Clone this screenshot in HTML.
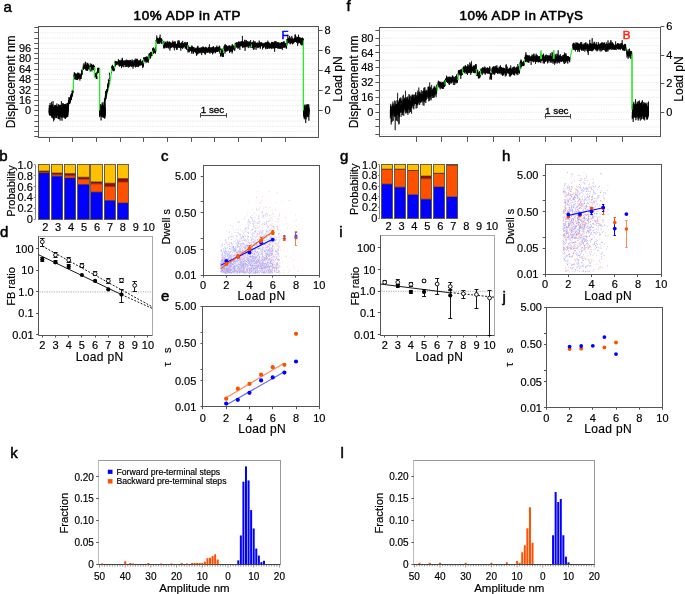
<!DOCTYPE html>
<html><head><meta charset="utf-8"><style>
html,body{margin:0;padding:0;background:#fff;overflow:hidden;}
svg{display:block;will-change:transform;font-family:"Liberation Sans", sans-serif;}
</style></head><body>
<svg width="685" height="594" viewBox="0 0 685 594">
<rect width="685" height="594" fill="#fff"/>
<text x="3.5" y="12" font-size="15" text-anchor="start" font-weight="normal" fill="#000" stroke="#000" stroke-width="0.5">a</text>
<text x="346.5" y="10.5" font-size="15" text-anchor="start" font-weight="normal" fill="#000" stroke="#000" stroke-width="0.5">f</text>
<text x="-0.8" y="161" font-size="15" text-anchor="start" font-weight="normal" fill="#000" stroke="#000" stroke-width="0.5">b</text>
<text x="340" y="161" font-size="15" text-anchor="start" font-weight="normal" fill="#000" stroke="#000" stroke-width="0.5">g</text>
<text x="161" y="161" font-size="15" text-anchor="start" font-weight="normal" fill="#000" stroke="#000" stroke-width="0.5">c</text>
<text x="502" y="161" font-size="15" text-anchor="start" font-weight="normal" fill="#000" stroke="#000" stroke-width="0.5">h</text>
<text x="0" y="237" font-size="15" text-anchor="start" font-weight="normal" fill="#000" stroke="#000" stroke-width="0.5">d</text>
<text x="339.2" y="237" font-size="15" text-anchor="start" font-weight="normal" fill="#000" stroke="#000" stroke-width="0.5">i</text>
<text x="161" y="300.6" font-size="15" text-anchor="start" font-weight="normal" fill="#000" stroke="#000" stroke-width="0.5">e</text>
<text x="502.5" y="302" font-size="15" text-anchor="start" font-weight="normal" fill="#000" stroke="#000" stroke-width="0.5">j</text>
<text x="10.3" y="458.3" font-size="15" text-anchor="start" font-weight="normal" fill="#000" stroke="#000" stroke-width="0.5">k</text>
<text x="340.6" y="458" font-size="15" text-anchor="start" font-weight="normal" fill="#000" stroke="#000" stroke-width="0.5">l</text>
<text x="187.3" y="20.3" font-size="13.4" text-anchor="middle" font-weight="normal" fill="#000" letter-spacing="0.58" stroke="#000" stroke-width="0.62">10% ADP in ATP</text>
<line x1="39.5" y1="136.65" x2="317.7" y2="136.65" stroke="#e0e0e0" stroke-width="0.7" stroke-dasharray="1.3 1.2"/>
<line x1="39.5" y1="131.46" x2="317.7" y2="131.46" stroke="#e0e0e0" stroke-width="0.7" stroke-dasharray="1.3 1.2"/>
<line x1="39.5" y1="126.27" x2="317.7" y2="126.27" stroke="#e0e0e0" stroke-width="0.7" stroke-dasharray="1.3 1.2"/>
<line x1="39.5" y1="121.08" x2="317.7" y2="121.08" stroke="#e0e0e0" stroke-width="0.7" stroke-dasharray="1.3 1.2"/>
<line x1="39.5" y1="115.89" x2="317.7" y2="115.89" stroke="#e0e0e0" stroke-width="0.7" stroke-dasharray="1.3 1.2"/>
<line x1="39.5" y1="110.7" x2="317.7" y2="110.7" stroke="#e0e0e0" stroke-width="0.7" stroke-dasharray="1.3 1.2"/>
<line x1="39.5" y1="105.51" x2="317.7" y2="105.51" stroke="#e0e0e0" stroke-width="0.7" stroke-dasharray="1.3 1.2"/>
<line x1="39.5" y1="100.32" x2="317.7" y2="100.32" stroke="#e0e0e0" stroke-width="0.7" stroke-dasharray="1.3 1.2"/>
<line x1="39.5" y1="95.13" x2="317.7" y2="95.13" stroke="#e0e0e0" stroke-width="0.7" stroke-dasharray="1.3 1.2"/>
<line x1="39.5" y1="89.94" x2="317.7" y2="89.94" stroke="#e0e0e0" stroke-width="0.7" stroke-dasharray="1.3 1.2"/>
<line x1="39.5" y1="84.75" x2="317.7" y2="84.75" stroke="#e0e0e0" stroke-width="0.7" stroke-dasharray="1.3 1.2"/>
<line x1="39.5" y1="79.56" x2="317.7" y2="79.56" stroke="#e0e0e0" stroke-width="0.7" stroke-dasharray="1.3 1.2"/>
<line x1="39.5" y1="74.37" x2="317.7" y2="74.37" stroke="#e0e0e0" stroke-width="0.7" stroke-dasharray="1.3 1.2"/>
<line x1="39.5" y1="69.18" x2="317.7" y2="69.18" stroke="#e0e0e0" stroke-width="0.7" stroke-dasharray="1.3 1.2"/>
<line x1="39.5" y1="63.99" x2="317.7" y2="63.99" stroke="#e0e0e0" stroke-width="0.7" stroke-dasharray="1.3 1.2"/>
<line x1="39.5" y1="58.8" x2="317.7" y2="58.8" stroke="#e0e0e0" stroke-width="0.7" stroke-dasharray="1.3 1.2"/>
<line x1="39.5" y1="53.61" x2="317.7" y2="53.61" stroke="#e0e0e0" stroke-width="0.7" stroke-dasharray="1.3 1.2"/>
<line x1="39.5" y1="48.42" x2="317.7" y2="48.42" stroke="#e0e0e0" stroke-width="0.7" stroke-dasharray="1.3 1.2"/>
<line x1="39.5" y1="43.23" x2="317.7" y2="43.23" stroke="#e0e0e0" stroke-width="0.7" stroke-dasharray="1.3 1.2"/>
<line x1="39.5" y1="38.04" x2="317.7" y2="38.04" stroke="#e0e0e0" stroke-width="0.7" stroke-dasharray="1.3 1.2"/>
<line x1="39.5" y1="32.85" x2="317.7" y2="32.85" stroke="#e0e0e0" stroke-width="0.7" stroke-dasharray="1.3 1.2"/>
<line x1="39.5" y1="27.66" x2="317.7" y2="27.66" stroke="#e0e0e0" stroke-width="0.7" stroke-dasharray="1.3 1.2"/>
<rect x="38.5" y="26.5" width="280" height="111" fill="none" stroke="#555" stroke-width="1"/>
<line x1="34.3" y1="136.5" x2="38.5" y2="136.5" stroke="#555" stroke-width="1"/>
<line x1="34.3" y1="131.5" x2="38.5" y2="131.5" stroke="#555" stroke-width="1"/>
<line x1="34.3" y1="126.5" x2="38.5" y2="126.5" stroke="#555" stroke-width="1"/>
<line x1="34.3" y1="121.5" x2="38.5" y2="121.5" stroke="#555" stroke-width="1"/>
<line x1="34.3" y1="115.5" x2="38.5" y2="115.5" stroke="#555" stroke-width="1"/>
<line x1="34.3" y1="110.5" x2="38.5" y2="110.5" stroke="#555" stroke-width="1"/>
<line x1="34.3" y1="105.5" x2="38.5" y2="105.5" stroke="#555" stroke-width="1"/>
<line x1="34.3" y1="100.5" x2="38.5" y2="100.5" stroke="#555" stroke-width="1"/>
<line x1="34.3" y1="95.5" x2="38.5" y2="95.5" stroke="#555" stroke-width="1"/>
<line x1="34.3" y1="89.5" x2="38.5" y2="89.5" stroke="#555" stroke-width="1"/>
<line x1="34.3" y1="84.5" x2="38.5" y2="84.5" stroke="#555" stroke-width="1"/>
<line x1="34.3" y1="79.5" x2="38.5" y2="79.5" stroke="#555" stroke-width="1"/>
<line x1="34.3" y1="74.5" x2="38.5" y2="74.5" stroke="#555" stroke-width="1"/>
<line x1="34.3" y1="69.5" x2="38.5" y2="69.5" stroke="#555" stroke-width="1"/>
<line x1="34.3" y1="63.5" x2="38.5" y2="63.5" stroke="#555" stroke-width="1"/>
<line x1="34.3" y1="58.5" x2="38.5" y2="58.5" stroke="#555" stroke-width="1"/>
<line x1="34.3" y1="53.5" x2="38.5" y2="53.5" stroke="#555" stroke-width="1"/>
<line x1="34.3" y1="48.5" x2="38.5" y2="48.5" stroke="#555" stroke-width="1"/>
<line x1="34.3" y1="43.5" x2="38.5" y2="43.5" stroke="#555" stroke-width="1"/>
<line x1="34.3" y1="38.5" x2="38.5" y2="38.5" stroke="#555" stroke-width="1"/>
<line x1="34.3" y1="32.5" x2="38.5" y2="32.5" stroke="#555" stroke-width="1"/>
<line x1="34.3" y1="27.5" x2="38.5" y2="27.5" stroke="#555" stroke-width="1"/>
<text x="31.2" y="114.3" font-size="11" text-anchor="end" font-weight="normal" fill="#000" stroke="#000" stroke-width="0.18">0</text>
<text x="31.2" y="103.92" font-size="11" text-anchor="end" font-weight="normal" fill="#000" stroke="#000" stroke-width="0.18">16</text>
<text x="31.2" y="93.54" font-size="11" text-anchor="end" font-weight="normal" fill="#000" stroke="#000" stroke-width="0.18">32</text>
<text x="31.2" y="83.16" font-size="11" text-anchor="end" font-weight="normal" fill="#000" stroke="#000" stroke-width="0.18">48</text>
<text x="31.2" y="72.78" font-size="11" text-anchor="end" font-weight="normal" fill="#000" stroke="#000" stroke-width="0.18">64</text>
<text x="31.2" y="62.4" font-size="11" text-anchor="end" font-weight="normal" fill="#000" stroke="#000" stroke-width="0.18">80</text>
<text x="31.2" y="52.02" font-size="11" text-anchor="end" font-weight="normal" fill="#000" stroke="#000" stroke-width="0.18">96</text>
<line x1="318.7" y1="110.5" x2="322.6" y2="110.5" stroke="#555" stroke-width="1"/>
<text x="324.4" y="114.3" font-size="11" text-anchor="start" font-weight="normal" fill="#000" stroke="#000" stroke-width="0.18">0</text>
<line x1="318.7" y1="90.5" x2="322.6" y2="90.5" stroke="#555" stroke-width="1"/>
<text x="324.4" y="94.24" font-size="11" text-anchor="start" font-weight="normal" fill="#000" stroke="#000" stroke-width="0.18">2</text>
<line x1="318.7" y1="70.5" x2="322.6" y2="70.5" stroke="#555" stroke-width="1"/>
<text x="324.4" y="74.18" font-size="11" text-anchor="start" font-weight="normal" fill="#000" stroke="#000" stroke-width="0.18">4</text>
<line x1="318.7" y1="50.5" x2="322.6" y2="50.5" stroke="#555" stroke-width="1"/>
<text x="324.4" y="54.12" font-size="11" text-anchor="start" font-weight="normal" fill="#000" stroke="#000" stroke-width="0.18">6</text>
<line x1="318.7" y1="30.5" x2="322.6" y2="30.5" stroke="#555" stroke-width="1"/>
<text x="324.4" y="34.06" font-size="11" text-anchor="start" font-weight="normal" fill="#000" stroke="#000" stroke-width="0.18">8</text>
<line x1="49.5" y1="137.1" x2="49.5" y2="141.9" stroke="#555" stroke-width="1"/>
<line x1="72.5" y1="137.1" x2="72.5" y2="141.9" stroke="#555" stroke-width="1"/>
<line x1="96.5" y1="137.1" x2="96.5" y2="141.9" stroke="#555" stroke-width="1"/>
<line x1="120.5" y1="137.1" x2="120.5" y2="141.9" stroke="#555" stroke-width="1"/>
<line x1="143.5" y1="137.1" x2="143.5" y2="141.9" stroke="#555" stroke-width="1"/>
<line x1="167.5" y1="137.1" x2="167.5" y2="141.9" stroke="#555" stroke-width="1"/>
<line x1="191.5" y1="137.1" x2="191.5" y2="141.9" stroke="#555" stroke-width="1"/>
<line x1="214.5" y1="137.1" x2="214.5" y2="141.9" stroke="#555" stroke-width="1"/>
<line x1="238.5" y1="137.1" x2="238.5" y2="141.9" stroke="#555" stroke-width="1"/>
<line x1="261.5" y1="137.1" x2="261.5" y2="141.9" stroke="#555" stroke-width="1"/>
<line x1="285.5" y1="137.1" x2="285.5" y2="141.9" stroke="#555" stroke-width="1"/>
<text x="14.7" y="81.8" font-size="12" text-anchor="middle" font-weight="normal" fill="#000" transform="rotate(-90 14.7 81.8)" stroke="#000" stroke-width="0.18">Displacement nm</text>
<text x="341.5" y="79" font-size="12" text-anchor="middle" font-weight="normal" fill="#000" transform="rotate(-90 341.5 79)" stroke="#000" stroke-width="0.18">Load pN</text>
<text x="285" y="38.6" font-size="11.4" text-anchor="middle" font-weight="normal" fill="#0000ff" stroke="#0000ff" stroke-width="0.55">F</text>
<line x1="200.3" y1="115.5" x2="226.8" y2="115.5" stroke="#444" stroke-width="1.1"/>
<line x1="200.5" y1="113.1" x2="200.5" y2="117.6" stroke="#444" stroke-width="1"/>
<line x1="226.5" y1="113.1" x2="226.5" y2="117.6" stroke="#444" stroke-width="1"/>
<text x="212.5" y="112.8" font-size="9.8" text-anchor="middle" font-weight="normal" fill="#000" stroke="#000" stroke-width="0.3">1 sec</text>
<path d="M67.60,106.50 L73.10,91.30 L73.30,91.30 L73.50,79.20 L74.10,76.20 L81.20,76.20 L83.20,67.10 L89.90,67.10 L90.10,70.50 L90.30,67.10 L94.30,67.10 L94.50,77.50 L95.50,75.50 L97.20,71.50 L99.20,69.10 L99.60,69.10 L99.60,110.50 L104.40,103.50 L109.50,84.30 L111.50,72.10 L111.50,68.50 L114.50,68.50 L114.80,63.00 L117.90,63.30 L143.60,63.30 L143.60,59.30 L148.90,59.30 L148.90,55.20 L152.40,55.20 L152.40,50.80 L155.90,50.80 L156.00,40.60 L162.30,40.60 L163.40,45.20 L187.70,45.20 L187.80,48.90 L193.90,48.90 L194.10,49.90 L220.30,49.90 L220.40,53.00 L223.40,53.00 L223.60,48.40 L235.00,48.40 L235.10,44.30 L251.40,44.30 L251.40,47.00 L251.50,44.60 L286.80,45.60 L286.90,40.30 L303.40,40.30 L303.40,110.60" fill="none" stroke="#2bea2b" stroke-width="1.15"/>
<path d="M49.2,110.2 49.2,112.6 49.3,108.0 49.3,110.3 49.3,114.3 49.3,111.8 49.4,105.7 49.4,113.7 49.4,105.6 49.4,105.4 49.5,112.0 49.5,110.9 49.5,112.0 49.5,112.3 49.6,112.8 49.6,114.8 49.6,109.9 49.6,110.7 49.7,109.6 49.7,107.9 49.7,108.4 49.7,111.8 49.8,111.2 49.8,115.2 49.8,110.7 49.8,108.4 49.9,106.3 49.9,113.6 49.9,115.6 49.9,112.2 50.0,113.0 50.0,109.0 50.0,107.9 50.0,109.3 50.1,106.3 50.1,111.8 50.1,104.9 50.1,102.9 50.2,110.7 50.2,114.1 50.2,108.8 50.2,111.1 50.3,105.3 50.3,115.3 50.3,108.9 50.3,112.5 50.4,106.2 50.4,109.4 50.4,109.3 50.4,112.6 50.5,110.7 50.5,110.6 50.5,110.6 50.5,112.8 50.6,110.3 50.6,112.5 50.6,108.0 50.6,106.7 50.7,115.6 50.7,109.6 50.7,108.1 50.7,113.3 50.8,114.4 50.8,110.7 50.8,114.3 50.8,113.5 50.9,110.1 50.9,110.2 50.9,105.7 50.9,105.0 51.0,113.8 51.0,113.5 51.0,110.3 51.0,112.7 51.1,106.1 51.1,111.7 51.1,113.9 51.1,110.1 51.2,111.1 51.2,108.3 51.2,113.2 51.2,107.8 51.3,111.7 51.3,114.9 51.3,106.7 51.3,107.3 51.4,111.2 51.4,114.2 51.4,105.8 51.4,111.2 51.5,108.9 51.5,111.4 51.5,112.8 51.5,106.2 51.6,112.3 51.6,111.7 51.6,101.8 51.6,117.6 51.7,115.1 51.7,113.4 51.7,111.0 51.7,107.4 51.8,108.2 51.8,116.0 51.8,104.7 51.8,115.5 51.9,112.3 51.9,112.3 51.9,114.6 51.9,115.8 52.0,108.6 52.0,110.1 52.0,114.1 52.0,109.6 52.1,111.6 52.1,113.4 52.1,108.9 52.1,109.7 52.2,113.5 52.2,109.4 52.2,113.8 52.2,109.1 52.3,112.7 52.3,110.2 52.3,111.3 52.3,109.2 52.4,111.8 52.4,111.8 52.4,105.5 52.4,111.6 52.5,111.3 52.5,111.9 52.5,117.7 52.5,112.2 52.6,115.3 52.6,110.3 52.6,105.2 52.6,110.7 52.7,104.5 52.7,110.0 52.7,112.7 52.7,109.7 52.8,108.8 52.8,112.7 52.8,111.6 52.8,113.6 52.9,115.3 52.9,109.3 52.9,113.3 52.9,113.7 53.0,112.4 53.0,109.7 53.0,108.2 53.0,101.1 53.1,110.1 53.1,112.1 53.1,106.2 53.1,112.3 53.2,108.7 53.2,118.8 53.2,111.9 53.2,117.5 53.3,112.7 53.3,109.9 53.3,113.8 53.3,107.1 53.4,107.3 53.4,110.1 53.4,110.0 53.4,116.6 53.5,110.9 53.5,111.6 53.5,109.2 53.5,109.6 53.6,121.3 53.6,111.7 53.6,110.3 53.6,110.3 53.7,113.4 53.7,110.5 53.7,108.3 53.7,108.2 53.8,109.8 53.8,108.8 53.8,111.6 53.8,111.1 53.9,108.6 53.9,110.8 53.9,108.3 53.9,107.2 54.0,113.7 54.0,110.5 54.0,113.1 54.0,117.3 54.1,120.0 54.1,114.1 54.1,115.5 54.1,112.6 54.2,115.3 54.2,110.2 54.2,118.4 54.2,113.3 54.3,108.7 54.3,110.3 54.3,110.9 54.3,111.1 54.4,108.9 54.4,116.6 54.4,113.6 54.4,114.3 54.5,110.1 54.5,110.0 54.5,114.8 54.5,116.6 54.6,111.5 54.6,105.9 54.6,109.7 54.6,109.8 54.7,107.6 54.7,110.7 54.7,115.5 54.7,108.1 54.8,115.8 54.8,111.5 54.8,115.4 54.8,109.7 54.9,105.7 54.9,104.9 54.9,111.6 54.9,111.2 55.0,110.7 55.0,114.5 55.0,112.1 55.0,110.2 55.1,105.3 55.1,112.0 55.1,111.1 55.1,108.7 55.2,111.7 55.2,109.9 55.2,115.3 55.2,112.3 55.3,108.7 55.3,115.0 55.3,113.5 55.3,113.7 55.4,112.8 55.4,112.3 55.4,110.2 55.4,114.5 55.5,108.4 55.5,110.2 55.5,110.7 55.5,112.2 55.6,114.2 55.6,110.9 55.6,112.2 55.6,111.6 55.7,108.2 55.7,114.4 55.7,113.3 55.7,113.0 55.8,109.5 55.8,112.2 55.8,106.7 55.8,113.9 55.9,113.1 55.9,113.0 55.9,104.9 55.9,118.3 56.0,113.9 56.0,112.3 56.0,115.8 56.0,108.6 56.1,115.5 56.1,112.5 56.1,114.4 56.1,110.4 56.2,117.9 56.2,107.7 56.2,106.1 56.2,109.4 56.3,105.9 56.3,112.6 56.3,118.0 56.3,113.2 56.4,109.5 56.4,113.2 56.4,110.7 56.4,115.7 56.5,109.5 56.5,112.2 56.5,114.1 56.5,108.9 56.6,114.5 56.6,110.9 56.6,113.5 56.6,112.6 56.7,110.8 56.7,115.1 56.7,108.2 56.7,112.7 56.8,110.4 56.8,112.0 56.8,113.7 56.8,113.7 56.9,111.5 56.9,113.5 56.9,103.5 56.9,113.6 57.0,111.8 57.0,111.1 57.0,113.1 57.0,111.7 57.1,107.5 57.1,110.4 57.1,111.3 57.1,112.8 57.2,113.3 57.2,106.6 57.2,113.1 57.2,113.8 57.3,109.3 57.3,108.8 57.3,107.8 57.3,107.3 57.4,106.8 57.4,110.4 57.4,110.6 57.4,110.7 57.5,115.5 57.5,109.8 57.5,111.2 57.5,113.4 57.6,110.8 57.6,111.6 57.6,108.8 57.6,112.2 57.7,111.1 57.7,111.8 57.7,110.1 57.7,109.1 57.8,108.8 57.8,110.9 57.8,112.0 57.8,108.9 57.9,108.8 57.9,118.6 57.9,111.6 57.9,114.3 58.0,112.9 58.0,113.5 58.0,111.7 58.0,111.8 58.1,116.3 58.1,107.0 58.1,113.6 58.1,109.8 58.2,111.0 58.2,110.2 58.2,109.0 58.2,115.0 58.3,105.2 58.3,114.2 58.3,107.0 58.3,114.7 58.4,115.3 58.4,113.6 58.4,108.3 58.4,111.9 58.5,109.4 58.5,109.2 58.5,108.5 58.5,113.5 58.6,111.4 58.6,112.1 58.6,107.0 58.6,117.8 58.7,108.3 58.7,104.2 58.7,106.2 58.7,107.7 58.8,111.7 58.8,109.6 58.8,111.9 58.8,105.4 58.9,119.2 58.9,113.8 58.9,108.8 58.9,109.2 59.0,111.3 59.0,109.7 59.0,111.0 59.0,112.2 59.1,106.9 59.1,119.0 59.1,110.9 59.1,112.3 59.2,110.1 59.2,107.6 59.2,107.5 59.2,107.7 59.3,110.2 59.3,109.6 59.3,108.2 59.3,109.7 59.4,111.0 59.4,113.4 59.4,108.5 59.4,109.7 59.5,108.7 59.5,110.9 59.5,112.5 59.5,110.9 59.6,114.8 59.6,105.0 59.6,112.5 59.6,112.4 59.7,113.8 59.7,109.7 59.7,110.7 59.7,116.5 59.8,107.3 59.8,108.5 59.8,112.4 59.8,112.7 59.9,113.3 59.9,109.2 59.9,110.1 59.9,110.1 60.0,107.7 60.0,111.3 60.0,113.2 60.0,114.3 60.1,109.7 60.1,120.5 60.1,116.0 60.1,112.7 60.2,116.4 60.2,111.6 60.2,108.5 60.2,113.1 60.3,111.9 60.3,112.3 60.3,107.4 60.3,115.1 60.4,114.6 60.4,115.5 60.4,115.7 60.4,108.7 60.5,112.0 60.5,112.7 60.5,111.1 60.5,105.3 60.6,111.5 60.6,110.2 60.6,107.5 60.6,108.2 60.7,108.4 60.7,104.8 60.7,107.8 60.7,108.0 60.8,110.1 60.8,110.6 60.8,109.8 60.8,112.4 60.9,113.3 60.9,117.2 60.9,109.6 60.9,108.5 61.0,114.2 61.0,106.5 61.0,111.0 61.0,114.2 61.1,111.1 61.1,111.2 61.1,106.8 61.1,112.5 61.2,112.2 61.2,108.0 61.2,107.2 61.2,115.3 61.3,112.6 61.3,111.4 61.3,110.8 61.3,109.7 61.4,101.2 61.4,106.4 61.4,111.8 61.4,109.1 61.5,117.9 61.5,109.1 61.5,112.1 61.5,110.5 61.6,114.7 61.6,116.7 61.6,113.3 61.6,114.0 61.7,110.7 61.7,114.8 61.7,111.8 61.7,112.7 61.8,112.5 61.8,109.8 61.8,106.5 61.8,110.1 61.9,107.0 61.9,109.6 61.9,115.5 61.9,110.8 62.0,110.1 62.0,120.7 62.0,111.3 62.0,107.6 62.1,116.7 62.1,112.8 62.1,115.2 62.1,110.6 62.2,111.8 62.2,111.0 62.2,107.5 62.2,112.6 62.3,107.3 62.3,115.6 62.3,107.1 62.3,110.4 62.4,113.0 62.4,113.3 62.4,116.7 62.4,111.5 62.5,112.6 62.5,111.7 62.5,114.2 62.5,103.3 62.6,114.4 62.6,108.3 62.6,107.3 62.6,106.4 62.7,109.0 62.7,112.3 62.7,115.0 62.7,111.3 62.8,112.4 62.8,115.2 62.8,111.8 62.8,109.2 62.9,117.4 62.9,113.0 62.9,117.2 62.9,111.2 63.0,110.8 63.0,107.5 63.0,111.1 63.0,111.9 63.1,108.9 63.1,105.2 63.1,107.8 63.1,109.9 63.2,110.6 63.2,115.6 63.2,111.4 63.2,110.6 63.3,110.7 63.3,103.3 63.3,113.1 63.3,109.0 63.4,107.6 63.4,107.4 63.4,105.0 63.4,112.2 63.5,106.3 63.5,113.0 63.5,112.1 63.5,115.3 63.6,111.5 63.6,111.6 63.6,107.8 63.6,112.5 63.7,112.2 63.7,111.3 63.7,111.2 63.7,108.9 63.8,107.6 63.8,105.3 63.8,109.2 63.8,112.6 63.9,117.7 63.9,108.8 63.9,111.0 63.9,106.5 64.0,112.2 64.0,106.5 64.0,110.8 64.0,114.0 64.1,111.4 64.1,104.0 64.1,108.4 64.1,111.4 64.2,114.8 64.2,111.8 64.2,114.9 64.2,112.2 64.3,108.7 64.3,109.8 64.3,109.7 64.3,116.2 64.4,115.1 64.4,113.8 64.4,104.3 64.4,106.6 64.5,114.2 64.5,115.9 64.5,114.8 64.5,117.5 64.6,115.1 64.6,110.8 64.6,117.1 64.6,115.1 64.7,106.9 64.7,113.2 64.7,107.4 64.7,112.8 64.8,105.8 64.8,105.4 64.8,109.4 64.8,107.0 64.9,104.6 64.9,110.1 64.9,109.4 64.9,114.2 65.0,111.3 65.0,113.9 65.0,108.5 65.0,110.9 65.1,107.2 65.1,107.6 65.1,108.6 65.1,109.2 65.2,110.6 65.2,119.0 65.2,109.8 65.2,109.2 65.3,110.1 65.3,113.5 65.3,113.2 65.3,109.6 65.4,117.3 65.4,111.5 65.4,118.3 65.4,110.7 65.5,110.6 65.5,104.0 65.5,111.0 65.5,107.7 65.6,115.0 65.6,107.2 65.6,109.0 65.6,106.9 65.7,110.0 65.7,110.0 65.7,110.0 65.7,106.6 65.8,106.7 65.8,112.2 65.8,112.8 65.8,110.1 65.9,108.2 65.9,113.4 65.9,109.2 65.9,110.5 66.0,109.5 66.0,110.8 66.0,110.2 66.0,107.2 66.1,107.7 66.1,110.6 66.1,109.7 66.1,108.1 66.2,114.0 66.2,110.7 66.2,110.6 66.2,111.3 66.3,110.0 66.3,108.2 66.3,110.6 66.3,103.4 66.4,112.0 66.4,108.0 66.4,112.0 66.4,105.3 66.5,108.9 66.5,110.1 66.5,107.2 66.5,106.5 66.6,109.9 66.6,114.9 66.6,107.2 66.6,115.9 66.7,110.9 66.7,117.7 66.7,109.4 66.7,108.7 66.8,116.9 66.8,114.5 66.8,110.0 66.8,111.9 66.9,114.7 66.9,109.6 66.9,109.8 66.9,109.2 67.0,107.7 67.0,108.4 67.0,105.6 67.0,112.7 67.1,106.7 67.1,110.1 67.1,116.8 67.1,114.7 67.2,109.9 67.2,114.6 67.2,113.5 67.2,107.0 67.3,105.8 67.3,113.9 67.3,104.1 67.3,111.7 67.4,113.2 67.4,114.7 67.4,108.9 67.4,115.5 67.5,107.7 67.5,111.7 67.5,112.3 67.5,108.7 67.6,113.6 67.6,109.8 67.6,104.2 67.6,111.7 67.7,108.9 67.7,108.9 67.7,107.1 67.7,111.6 67.8,107.9 67.8,112.3 67.8,109.4 67.8,116.8 67.9,110.5 67.9,114.8 67.9,111.7 67.9,108.2 68.0,107.1 68.0,108.7 68.0,109.9 68.0,104.4 68.1,110.9 68.1,111.3 68.1,107.4 68.1,108.0 68.2,107.6 68.2,108.1M67.6,104.1 67.7,104.7 67.7,103.0 67.8,106.8 67.9,109.0 67.9,106.4 68.0,103.1 68.0,107.9 68.1,105.0 68.2,106.5 68.2,102.3 68.3,105.7 68.4,103.9 68.4,104.0 68.5,100.3 68.5,105.2 68.6,106.5 68.7,103.4 68.7,102.6 68.8,102.9 68.9,97.1 68.9,101.4 69.0,102.8 69.1,103.4 69.1,100.4 69.2,101.3 69.2,99.9 69.3,104.1 69.4,101.7 69.4,99.9 69.5,99.3 69.6,97.6 69.6,101.6 69.7,100.9 69.7,99.2 69.8,99.1 69.9,103.7 69.9,99.1 70.0,102.8 70.1,98.7 70.1,100.4 70.2,99.1 70.3,99.9 70.3,96.9 70.4,98.4 70.4,101.8 70.5,96.5 70.6,96.4 70.6,100.2 70.7,95.7 70.8,99.0 70.8,95.4 70.9,96.0 71.0,98.4 71.0,94.3 71.1,97.8 71.1,99.1 71.2,100.1 71.3,96.1 71.3,97.2 71.4,99.1 71.5,100.0 71.5,96.0 71.6,93.3 71.6,93.5 71.7,95.3 71.8,96.6 71.8,94.6 71.9,93.5 72.0,93.2 72.0,97.2 72.1,95.9 72.2,90.4 72.2,91.8 72.3,91.1 72.3,93.8 72.4,94.5 72.5,95.7 72.5,91.0 72.6,94.0 72.7,94.4 72.7,92.3 72.8,92.4 72.8,90.9 72.9,91.4 73.0,91.6 73.0,92.9 73.1,89.7M74.1,76.5 74.2,74.4 74.2,78.0 74.3,72.2 74.4,76.5 74.4,77.2 74.5,73.0 74.5,75.0 74.6,76.7 74.7,75.9 74.7,79.3 74.8,79.1 74.9,73.5 74.9,72.9 75.0,75.2 75.1,76.5 75.1,76.3 75.2,76.7 75.2,79.2 75.3,74.1 75.4,76.8 75.4,73.6 75.5,77.1 75.6,76.5 75.6,75.6 75.7,74.9 75.7,77.4 75.8,77.1 75.9,75.2 75.9,76.3 76.0,76.1 76.1,76.0 76.1,80.0 76.2,77.1 76.3,78.6 76.3,73.6 76.4,79.4 76.4,78.4 76.5,74.7 76.6,76.7 76.6,75.5 76.7,75.5 76.8,75.7 76.8,74.1 76.9,76.0 77.0,77.9 77.0,77.0 77.1,74.9 77.1,74.7 77.2,79.5 77.3,79.6 77.3,77.5 77.4,74.8 77.5,76.4 77.5,72.8 77.6,80.1 77.7,77.3 77.7,77.0 77.8,76.0 77.8,74.8 77.9,76.7 78.0,76.8 78.0,72.8 78.1,77.7 78.2,76.9 78.2,77.0 78.3,76.4 78.3,76.9 78.4,74.8 78.5,76.2 78.5,75.4 78.6,73.2 78.7,78.7 78.7,77.3 78.8,79.1 78.9,77.3 78.9,77.5 79.0,74.7 79.0,72.8 79.1,76.7 79.2,77.0 79.2,74.8 79.3,76.1 79.4,76.1 79.4,75.3 79.5,76.1 79.6,77.2 79.6,75.1 79.7,76.2 79.7,75.6 79.8,74.2 79.9,76.3 79.9,80.6 80.0,76.8 80.1,77.2 80.1,77.0 80.2,78.4 80.2,77.7 80.3,74.4 80.4,74.9 80.4,78.9 80.5,78.3 80.6,77.6 80.6,77.6 80.7,77.4 80.8,77.4 80.8,76.8 80.9,75.5 80.9,77.8 81.0,78.9 81.1,73.3 81.1,77.8 81.2,78.9M81.3,73.1 81.4,73.1 81.4,75.0 81.5,75.7 81.6,72.0 81.6,69.7 81.7,72.7 81.8,71.2 81.9,73.7 81.9,74.0 82.0,73.1 82.1,74.7 82.1,75.0 82.2,70.3M83.2,64.7 83.3,69.6 83.3,67.7 83.4,66.8 83.5,69.3 83.5,67.1 83.6,69.3 83.6,66.7 83.7,68.6 83.8,63.4 83.8,64.6 83.9,64.9 84.0,67.6 84.0,68.1 84.1,68.2 84.1,67.1 84.2,67.9 84.3,65.3 84.3,65.6 84.4,66.6 84.5,65.2 84.5,65.6 84.6,67.4 84.7,65.3 84.7,68.9 84.8,68.6 84.8,66.6 84.9,68.0 85.0,66.2 85.0,64.8 85.1,66.3 85.2,63.7 85.2,66.7 85.3,61.7 85.3,66.4 85.4,64.8 85.5,68.4 85.5,66.0 85.6,66.2 85.7,69.6 85.7,63.9 85.8,65.4 85.8,65.2 85.9,68.6 86.0,68.2 86.0,62.6 86.1,70.5 86.2,66.6 86.2,69.6 86.3,66.6 86.4,65.7 86.4,64.7 86.5,69.3 86.5,66.4 86.6,69.2 86.7,66.2 86.7,68.0 86.8,69.5 86.9,66.6 86.9,70.8 87.0,66.4 87.0,66.9 87.1,70.9 87.2,66.1 87.2,69.4 87.3,66.8 87.4,65.2 87.4,63.2 87.5,65.3 87.5,65.8 87.6,68.4 87.7,70.5 87.7,63.9 87.8,62.8 87.9,62.9 87.9,67.5 88.0,66.1 88.1,68.1 88.1,65.2 88.2,65.9 88.2,64.0 88.3,66.2 88.4,67.6 88.4,65.9 88.5,67.1 88.6,65.8 88.6,66.1 88.7,68.9 88.7,67.6 88.8,67.0 88.9,67.0 88.9,64.8 89.0,65.7 89.1,65.8 89.1,66.6 89.2,69.5 89.3,67.1 89.3,68.8 89.4,69.6 89.4,68.1 89.5,69.0 89.6,69.2 89.6,66.5 89.7,67.0 89.8,67.6 89.8,67.7 89.9,66.9 89.9,68.4 90.0,67.3 90.1,67.7 90.1,67.3 90.2,68.4 90.3,71.5 90.3,63.4 90.4,64.4 90.5,67.2 90.5,68.9 90.6,65.8 90.6,70.5 90.7,67.1 90.8,68.2 90.8,68.6 90.9,66.8 91.0,65.4 91.0,66.7 91.1,69.5 91.1,69.5 91.2,67.6 91.3,68.5 91.3,66.3 91.4,65.7 91.5,68.3 91.5,67.9 91.6,63.9 91.6,68.3 91.7,65.4 91.8,69.4 91.8,68.3 91.9,71.4 92.0,66.2 92.0,67.4 92.1,69.0 92.2,65.7 92.2,66.1 92.3,66.3 92.3,64.9 92.4,66.9 92.5,65.1 92.5,68.8 92.6,66.5 92.7,67.6 92.7,66.0 92.8,69.5 92.8,65.7 92.9,68.7 93.0,66.6 93.0,68.3 93.1,66.7 93.2,68.9 93.2,69.8 93.3,64.7 93.3,69.8 93.4,67.6 93.5,64.8 93.5,68.5 93.6,68.1 93.7,65.7 93.7,70.1 93.8,69.7 93.9,67.6 93.9,67.2 94.0,66.5 94.0,68.8 94.1,66.4 94.2,66.2 94.2,66.8 94.3,65.8 94.4,67.1 94.4,67.2 94.5,67.0 94.5,67.6 94.6,68.4 94.7,67.5 94.7,68.1 94.8,71.0M94.8,73.5 94.9,72.7 94.9,74.0 95.0,74.9 95.1,76.4 95.1,73.5 95.2,73.4 95.3,73.4 95.3,73.1 95.4,75.6 95.4,74.9 95.5,74.5 95.6,74.9 95.6,77.0 95.7,74.1 95.8,75.0 95.8,74.6 95.9,76.0 96.0,75.0 96.0,73.5 96.1,74.1 96.2,75.7 96.2,75.0 96.3,79.0 96.4,74.7 96.4,78.6 96.5,77.4 96.5,78.3 96.6,76.8 96.7,73.7 96.7,76.0 96.8,77.5 96.9,77.6 96.9,79.1 97.0,76.2M97.0,73.5 97.1,72.1 97.1,71.9 97.2,73.8 97.3,72.8 97.3,72.9 97.4,72.6 97.5,71.2 97.5,71.2 97.6,68.8 97.6,68.6 97.7,71.1 97.8,71.8 97.8,71.5 97.9,69.7 98.0,72.6 98.0,67.8 98.1,71.7 98.2,68.3 98.2,70.9 98.3,69.1 98.4,68.2 98.4,72.1 98.5,68.0 98.6,69.0 98.6,72.8 98.7,67.7 98.7,70.3 98.8,70.6 98.9,69.1 98.9,68.5 99.0,69.6 99.1,69.4 99.1,69.1 99.2,68.9M99.4,111.3 99.4,107.3 99.5,107.3 99.5,110.2 99.5,107.6 99.5,105.5 99.6,109.5 99.6,113.7 99.6,110.9 99.6,111.7 99.7,117.2 99.7,109.3 99.7,114.7 99.7,109.5 99.8,108.6 99.8,106.7 99.8,113.9 99.8,109.5 99.9,104.3 99.9,115.9 99.9,109.9 99.9,108.9 100.0,113.2 100.0,109.5 100.0,110.3 100.0,112.7 100.1,110.5 100.1,108.3 100.1,112.3 100.1,114.8 100.2,106.8 100.2,111.5 100.2,113.9 100.2,108.3 100.3,111.0 100.3,108.9 100.3,114.5 100.3,104.1 100.4,107.1 100.4,110.2 100.4,112.5 100.4,110.1 100.5,107.5 100.5,113.6 100.5,115.2 100.5,111.8 100.6,111.7 100.6,111.6 100.6,112.6 100.6,110.4 100.7,108.7 100.7,112.8 100.7,110.5 100.7,110.0 100.8,106.7 100.8,110.2 100.8,111.7 100.8,107.9 100.9,109.8 100.9,110.0 100.9,109.7 100.9,112.4 101.0,110.4 101.0,112.3 101.0,107.6 101.0,105.3 101.1,115.7 101.1,110.4 101.1,120.4 101.1,112.0 101.2,116.3 101.2,111.7 101.2,107.9 101.2,107.2 101.3,109.3 101.3,107.3 101.3,107.6 101.3,110.2 101.4,113.5 101.4,113.7 101.4,110.1 101.4,107.7 101.5,109.4 101.5,113.1 101.5,110.6 101.5,116.8 101.6,110.3 101.6,108.8 101.6,113.4 101.6,110.3 101.7,113.6 101.7,114.2 101.7,112.2 101.7,111.7 101.8,115.0 101.8,113.7 101.8,111.0 101.8,108.9 101.9,108.9 101.9,113.0 101.9,113.9 101.9,107.0 102.0,107.5 102.0,104.8 102.0,114.9 102.0,107.0 102.1,112.3 102.1,116.7 102.1,106.3 102.1,113.7 102.2,113.6 102.2,114.4 102.2,106.1 102.2,103.7 102.3,114.2 102.3,108.6 102.3,102.4 102.4,112.2 102.4,115.7 102.4,107.7 102.4,113.6 102.5,108.2 102.5,110.6 102.5,111.1 102.5,112.5 102.6,108.9 102.6,110.6 102.6,111.6 102.6,115.6 102.7,113.0 102.7,113.0 102.7,116.7 102.7,111.1 102.8,113.2 102.8,106.6 102.8,113.1 102.8,109.7 102.9,111.0 102.9,106.3 102.9,110.6 102.9,117.5 103.0,111.1 103.0,114.5 103.0,112.0 103.0,112.0 103.1,111.5 103.1,115.3 103.1,113.5 103.1,107.1 103.2,108.4 103.2,108.0 103.2,115.0 103.2,110.9 103.3,105.2 103.3,113.9 103.3,110.0 103.3,114.0 103.4,109.9 103.4,112.3 103.4,110.2 103.4,117.7 103.5,109.5 103.5,108.5 103.5,109.9 103.5,106.5 103.6,107.4 103.6,113.8 103.6,106.3 103.6,109.7 103.7,107.3 103.7,116.2 103.7,107.0 103.7,110.7 103.8,114.6 103.8,109.2 103.8,112.3 103.8,107.3 103.9,113.7 103.9,115.3 103.9,111.1 103.9,109.0 104.0,113.4 104.0,101.8 104.0,110.6 104.0,115.4 104.1,108.4 104.1,107.8 104.1,111.8 104.1,107.7 104.2,108.5 104.2,112.1 104.2,116.7 104.2,111.8 104.3,109.0 104.3,110.3 104.3,111.2 104.3,117.3 104.4,110.9 104.4,112.0 104.4,111.6 104.4,106.8 104.5,116.4 104.5,111.3 104.5,110.4 104.5,110.2 104.6,109.7 104.6,111.0 104.6,111.1 104.6,118.4 104.7,103.4 104.7,113.5 104.7,114.6 104.7,108.3 104.8,113.4 104.8,112.3 104.8,118.4 104.8,110.2 104.9,112.4 104.9,114.1 104.9,111.5 104.9,110.2 105.0,110.8 105.0,106.7 105.0,109.4 105.0,114.0 105.1,107.0 105.1,103.2 105.1,114.6 105.1,109.0 105.2,116.4 105.2,109.3M104.4,97.7 104.5,105.4 104.5,104.2 104.6,100.5 104.7,103.6 104.7,100.9 104.8,99.8 104.8,100.0 104.9,99.3 105.0,98.1 105.0,102.8 105.1,99.6 105.2,100.3 105.2,97.5 105.3,96.1 105.4,96.5 105.4,94.7 105.5,100.2 105.5,94.7 105.6,90.9 105.7,94.0 105.7,96.0 105.8,97.5 105.9,95.7 105.9,94.9 106.0,99.1 106.1,94.1 106.1,94.2 106.2,96.3 106.2,91.8 106.3,95.6 106.4,92.5 106.4,91.4 106.5,92.8 106.6,94.3 106.6,90.4 106.7,89.8 106.8,92.8 106.8,91.5 106.9,89.5 107.0,89.2 107.0,90.5 107.1,90.2 107.1,89.1 107.2,91.8 107.3,89.1 107.3,91.0 107.4,89.5 107.5,88.8 107.5,88.8 107.6,83.5 107.7,90.4 107.7,87.9 107.8,85.6 107.8,85.5 107.9,87.9 108.0,87.7 108.0,84.9 108.1,84.8 108.2,86.6 108.2,85.5 108.3,86.7 108.4,82.8 108.4,79.5 108.5,81.5 108.5,84.1 108.6,82.6 108.7,80.7 108.7,84.4 108.8,84.5 108.9,82.1 108.9,81.2 109.0,79.8 109.1,80.8 109.1,79.3 109.2,79.2 109.2,79.2 109.3,78.5 109.4,78.9 109.4,72.7 109.5,74.8M111.5,69.3 111.6,72.3 111.6,69.8 111.7,69.3 111.8,66.0 111.8,70.4 111.9,68.5 111.9,70.0 112.0,68.2 112.1,69.3 112.1,70.5 112.2,67.6 112.3,69.7 112.3,67.9 112.4,64.8 112.5,66.4 112.5,68.0 112.6,69.6 112.6,67.8 112.7,65.9 112.8,70.0 112.8,67.9 112.9,66.5 113.0,69.4 113.0,70.3 113.1,69.4 113.2,66.0 113.2,67.5 113.3,67.9 113.4,67.4 113.4,70.5 113.5,71.2 113.5,70.7 113.6,70.0 113.7,67.9 113.7,67.5 113.8,68.8 113.9,68.9 113.9,69.1 114.0,67.4 114.1,67.7 114.1,70.2 114.2,67.2 114.2,71.1 114.3,70.0 114.4,68.3 114.4,67.8 114.5,67.7M115.0,60.6 115.1,63.5 115.1,65.1 115.2,64.9 115.3,66.6 115.3,62.9 115.4,61.6 115.5,65.0 115.5,64.4 115.6,64.0 115.6,62.4 115.7,62.8 115.8,65.3 115.8,61.2 115.9,65.0 116.0,63.4 116.0,65.1 116.1,62.2 116.2,61.9 116.2,63.4 116.3,63.3 116.4,61.8 116.4,64.6 116.5,64.1 116.5,62.6 116.6,63.1 116.7,62.5 116.7,62.4 116.8,61.4 116.9,64.6 116.9,64.3 117.0,62.5 117.1,62.2 117.1,63.1 117.2,64.3 117.3,64.2 117.3,62.1 117.4,63.2 117.4,62.3 117.5,63.7 117.6,63.8 117.6,63.8 117.7,63.2 117.8,62.8 117.8,63.5 117.9,61.1M117.9,63.3 118.0,62.3 118.0,61.6 118.1,64.7 118.2,65.3 118.2,64.5 118.3,63.9 118.3,60.5 118.4,59.1 118.5,60.3 118.5,62.1 118.6,60.2 118.7,63.1 118.7,64.3 118.8,63.5 118.8,62.3 118.9,64.2 119.0,60.4 119.0,62.2 119.1,62.3 119.2,61.7 119.2,63.0 119.3,66.6 119.3,64.7 119.4,61.1 119.5,64.7 119.5,64.0 119.6,61.3 119.7,63.1 119.7,66.1 119.8,60.2 119.8,64.0 119.9,61.4 120.0,65.0 120.0,63.3 120.1,60.9 120.2,66.2 120.2,64.6 120.3,64.1 120.3,62.2 120.4,65.0 120.5,61.7 120.5,65.8 120.6,64.1 120.7,63.5 120.7,61.7 120.8,63.7 120.8,66.0 120.9,64.9 121.0,62.2 121.0,59.8 121.1,60.6 121.2,62.0 121.2,64.1 121.3,64.9 121.3,64.2 121.4,60.4 121.5,68.1 121.5,61.4 121.6,64.5 121.7,62.1 121.7,62.0 121.8,62.8 121.8,64.2 121.9,64.8 122.0,59.9 122.0,61.8 122.1,66.6 122.2,66.2 122.2,57.8 122.3,63.4 122.4,65.6 122.4,61.0 122.5,58.7 122.5,62.8 122.6,62.5 122.7,61.4 122.7,64.4 122.8,62.9 122.9,64.8 122.9,66.3 123.0,62.1 123.0,60.5 123.1,63.4 123.2,64.0 123.2,62.7 123.3,62.3 123.4,63.2 123.4,67.2 123.5,62.6 123.5,62.8 123.6,63.0 123.7,62.4 123.7,62.2 123.8,61.5 123.9,62.8 123.9,64.2 124.0,60.8 124.0,62.6 124.1,60.6 124.2,60.3 124.2,61.8 124.3,64.7 124.4,65.0 124.4,63.2 124.5,62.2 124.5,62.8 124.6,65.0 124.7,63.9 124.7,64.7 124.8,62.5 124.9,65.0 124.9,61.9 125.0,64.4 125.0,64.4 125.1,67.1 125.2,61.3 125.2,60.9 125.3,63.4 125.4,61.3 125.4,63.3 125.5,61.9 125.5,61.8 125.6,63.0 125.7,63.4 125.7,62.8 125.8,60.7 125.9,66.7 125.9,65.4 126.0,64.3 126.0,60.5 126.1,65.0 126.2,60.4 126.2,59.6 126.3,63.6 126.4,61.5 126.4,62.3 126.5,64.8 126.6,64.7 126.6,66.7 126.7,61.4 126.7,59.9 126.8,65.0 126.9,64.0 126.9,62.1 127.0,61.2 127.1,62.8 127.1,66.7 127.2,64.9 127.2,65.5 127.3,66.4 127.4,61.0 127.4,61.1 127.5,60.3 127.6,62.6 127.6,60.9 127.7,60.6 127.7,61.3 127.8,63.4 127.9,64.1 127.9,63.8 128.0,61.7 128.1,61.4 128.1,61.9 128.2,65.7 128.2,63.0 128.3,61.3 128.4,62.8 128.4,67.6 128.5,61.5 128.6,60.2 128.6,62.1 128.7,60.8 128.7,62.0 128.8,63.8 128.9,62.0 128.9,63.2 129.0,64.1 129.1,65.1 129.1,62.8 129.2,64.9 129.2,63.9 129.3,63.3 129.4,65.9 129.4,66.9 129.5,62.6 129.6,62.6 129.6,62.7 129.7,66.7 129.7,65.1 129.8,64.0 129.9,60.4 129.9,63.4 130.0,59.9 130.1,66.2 130.1,63.7 130.2,62.2 130.2,64.8 130.3,63.3 130.4,61.1 130.4,61.9 130.5,62.7 130.6,63.1 130.6,60.5 130.7,62.6 130.8,60.3 130.8,60.8 130.9,66.1 130.9,62.5 131.0,64.6 131.1,64.6 131.1,61.5 131.2,61.7 131.3,65.4 131.3,62.7 131.4,66.6 131.4,63.1 131.5,62.2 131.6,63.9 131.6,64.0 131.7,66.5 131.8,63.9 131.8,63.5 131.9,62.1 131.9,64.3 132.0,62.0 132.1,59.7 132.1,59.4 132.2,65.2 132.3,64.8 132.3,61.0 132.4,63.9 132.4,62.7 132.5,63.5 132.6,61.5 132.6,63.6 132.7,63.5 132.8,65.9 132.8,65.8 132.9,66.4 132.9,63.7 133.0,68.6 133.1,64.1 133.1,60.0 133.2,64.1 133.3,63.5 133.3,63.9 133.4,63.4 133.4,63.8 133.5,65.9 133.6,64.5 133.6,62.6 133.7,63.3 133.8,62.5 133.8,64.6 133.9,66.3 133.9,65.8 134.0,65.3 134.1,66.8 134.1,63.3 134.2,60.8 134.3,63.3 134.3,63.8 134.4,63.6 134.4,63.1 134.5,63.4 134.6,64.9 134.6,60.4 134.7,62.6 134.8,62.3 134.8,65.5 134.9,63.0 134.9,62.9 135.0,59.8 135.1,62.3 135.1,64.4 135.2,59.4 135.3,58.6 135.3,62.0 135.4,60.5 135.5,67.4 135.5,62.9 135.6,63.5 135.6,60.3 135.7,66.0 135.8,64.4 135.8,66.0 135.9,61.6 136.0,62.9 136.0,64.6 136.1,63.5 136.1,62.9 136.2,65.6 136.3,67.0 136.3,61.1 136.4,61.2 136.5,63.4 136.5,63.0 136.6,61.7 136.6,58.8 136.7,63.9 136.8,61.2 136.8,62.3 136.9,65.6 137.0,64.3 137.0,63.1 137.1,59.2 137.1,62.3 137.2,61.6 137.3,58.9 137.3,65.1 137.4,67.1 137.5,65.6 137.5,62.5 137.6,64.7 137.6,62.8 137.7,64.1 137.8,63.1 137.8,61.4 137.9,61.5 138.0,63.9 138.0,63.6 138.1,63.0 138.1,61.1 138.2,60.6 138.3,62.3 138.3,66.2 138.4,60.5 138.5,63.2 138.5,65.1 138.6,67.0 138.6,63.1 138.7,62.8 138.8,64.4 138.8,64.3 138.9,64.1 139.0,60.8 139.0,60.8 139.1,63.8 139.1,60.7 139.2,65.3 139.3,63.9 139.3,63.3 139.4,64.1 139.5,62.9 139.5,64.7 139.6,61.9 139.7,65.1 139.7,63.2 139.8,61.6 139.8,66.0 139.9,60.5 140.0,63.7 140.0,63.1 140.1,63.6 140.2,59.8 140.2,63.3 140.3,63.5 140.3,62.3 140.4,64.4 140.5,65.1 140.5,64.8 140.6,59.2 140.7,63.7 140.7,64.4 140.8,63.7 140.8,63.4 140.9,64.9 141.0,62.1 141.0,63.4 141.1,64.9 141.2,62.5 141.2,65.4 141.3,64.1 141.3,64.9 141.4,64.5 141.5,63.5 141.5,62.4 141.6,64.5 141.7,64.1 141.7,62.7 141.8,61.3 141.8,61.0 141.9,60.9 142.0,63.1 142.0,62.9 142.1,62.8 142.2,62.5 142.2,64.5 142.3,62.3 142.3,61.9 142.4,61.1 142.5,60.5 142.5,64.0 142.6,62.2 142.7,68.1 142.7,62.8 142.8,64.4 142.8,64.2 142.9,64.8 143.0,60.8 143.0,65.8 143.1,64.2 143.2,67.1 143.2,62.1 143.3,66.2 143.3,63.3 143.4,62.8 143.5,62.7 143.5,61.0 143.6,63.8M143.7,58.5 143.8,57.2 143.8,59.6 143.9,58.0 144.0,58.8 144.0,60.2 144.1,59.3 144.1,60.2 144.2,60.8 144.3,59.6 144.3,58.0 144.4,60.9 144.5,61.6 144.5,60.8 144.6,60.3 144.7,59.8 144.7,58.9 144.8,59.7 144.8,59.8 144.9,57.9 145.0,57.0 145.0,57.2 145.1,59.3 145.2,57.1 145.2,59.0 145.3,59.3 145.4,61.0 145.4,58.2 145.5,57.9 145.5,60.5 145.6,56.9 145.7,59.7 145.7,60.8 145.8,57.8 145.9,61.7 145.9,57.8 146.0,59.6 146.1,63.1 146.1,61.7 146.2,61.2 146.2,61.4 146.3,57.9 146.4,60.7 146.4,57.1 146.5,56.6 146.6,61.1 146.6,57.7 146.7,57.8 146.8,59.7 146.8,59.4 146.9,57.8 147.0,58.0 147.0,56.6 147.1,58.3 147.1,58.3 147.2,59.3 147.3,61.6 147.3,60.7 147.4,57.3 147.5,56.9 147.5,60.0 147.6,61.1 147.7,57.9 147.7,62.3 147.8,59.9 147.8,59.3 147.9,60.3 148.0,59.6 148.0,58.1 148.1,60.3 148.2,59.9 148.2,58.5 148.3,60.4 148.4,57.4 148.4,62.7 148.5,59.8 148.5,59.5 148.6,60.3 148.7,58.2 148.7,55.2 148.8,56.1M149.0,56.1 149.1,53.7 149.1,55.0 149.2,55.8 149.3,56.9 149.3,57.7 149.4,56.1 149.5,53.0 149.5,54.9 149.6,55.3 149.6,56.2 149.7,53.6 149.8,53.7 149.8,55.0 149.9,57.2 150.0,55.5 150.0,54.1 150.1,55.5 150.2,58.8 150.2,55.1 150.3,53.7 150.4,55.6 150.4,54.3 150.5,52.3 150.6,54.2 150.6,58.0 150.7,54.6 150.7,56.3 150.8,55.2 150.9,55.6 150.9,54.5 151.0,51.8 151.1,54.9 151.1,55.8 151.2,54.6 151.3,55.4 151.3,52.0 151.4,56.2 151.5,54.6 151.5,53.2 151.6,55.0 151.7,55.7 151.7,56.0 151.8,54.8 151.8,54.6 151.9,55.0 152.0,53.4 152.0,52.4 152.1,54.3 152.2,55.1 152.2,55.2 152.3,54.8M152.5,48.2 152.6,50.3 152.6,49.4 152.7,49.7 152.8,51.7 152.8,48.3 152.9,48.7 153.0,51.4 153.0,53.3 153.1,49.8 153.1,52.0 153.2,53.6 153.3,51.7 153.3,53.7 153.4,47.4 153.5,51.0 153.5,52.8 153.6,51.2 153.7,53.1 153.7,50.5 153.8,52.3 153.9,48.7 153.9,52.0 154.0,50.8 154.1,50.8 154.1,51.3 154.2,51.0 154.2,52.3 154.3,50.0 154.4,53.0 154.4,51.1 154.5,50.7 154.6,51.1 154.6,48.6 154.7,50.5 154.8,50.4 154.8,51.7 154.9,52.0 155.0,49.5 155.0,51.4 155.1,50.5 155.2,50.3 155.2,49.6 155.3,53.5 155.3,52.3 155.4,49.3 155.5,53.4 155.5,46.8 155.6,48.1 155.7,51.5 155.7,50.4 155.8,51.3M156.1,40.9 156.2,40.4 156.2,40.0 156.3,40.6 156.4,39.8 156.4,42.5 156.5,42.4 156.5,39.1 156.6,42.2 156.7,38.1 156.7,35.5 156.8,36.9 156.9,40.3 156.9,40.7 157.0,41.2 157.1,42.8 157.1,42.3 157.2,38.6 157.2,40.2 157.3,40.4 157.4,41.2 157.4,42.0 157.5,43.2 157.6,42.5 157.6,37.7 157.7,43.8 157.8,40.1 157.8,40.1 157.9,42.8 157.9,40.5 158.0,40.6 158.1,40.3 158.1,38.2 158.2,43.0 158.3,43.2 158.3,40.9 158.4,40.1 158.5,40.3 158.5,43.5 158.6,38.6 158.6,41.0 158.7,42.6 158.8,41.7 158.8,42.2 158.9,39.7 159.0,38.3 159.0,40.2 159.1,40.2 159.1,41.5 159.2,40.0 159.3,41.0 159.3,43.9 159.4,44.0 159.5,37.1 159.5,38.2 159.6,41.2 159.7,38.7 159.7,37.6 159.8,42.4 159.8,39.2 159.9,41.2 160.0,41.7 160.0,39.5 160.1,34.6 160.2,39.4 160.2,42.1 160.3,39.7 160.4,40.9 160.4,40.1 160.5,42.4 160.5,38.9 160.6,39.5 160.7,38.5 160.7,41.0 160.8,39.5 160.9,42.0 160.9,40.4 161.0,39.0 161.1,39.4 161.1,39.0 161.2,43.6 161.2,41.4 161.3,40.0 161.4,38.0 161.4,42.1 161.5,39.5 161.6,39.8 161.6,39.0 161.7,41.2 161.8,43.8 161.8,39.7 161.9,39.4 161.9,43.1 162.0,40.2 162.1,40.3 162.1,42.8 162.2,41.0M163.5,43.7 163.6,45.1 163.6,47.7 163.7,48.4 163.8,45.5 163.8,45.0 163.9,45.0 163.9,40.9 164.0,45.3 164.1,45.9 164.1,48.0 164.2,45.6 164.3,47.1 164.3,45.9 164.4,44.7 164.4,48.3 164.5,44.7 164.6,47.2 164.6,45.7 164.7,43.3 164.8,43.1 164.8,45.0 164.9,45.9 164.9,43.9 165.0,47.6 165.1,46.1 165.1,45.9 165.2,45.5 165.3,46.1 165.3,43.6 165.4,46.3 165.4,43.4 165.5,41.8 165.6,45.9 165.6,42.8 165.7,42.4 165.8,42.5 165.8,45.4 165.9,45.0 165.9,43.4 166.0,43.2 166.1,48.2 166.1,46.1 166.2,44.8 166.3,44.2 166.3,47.7 166.4,43.9 166.4,43.4 166.5,47.3 166.6,44.4 166.6,43.8 166.7,46.3 166.8,45.1 166.8,46.4 166.9,45.1 167.0,47.6 167.0,45.3 167.1,42.2 167.1,44.0 167.2,40.9 167.3,43.9 167.3,41.8 167.4,45.4 167.5,46.8 167.5,46.1 167.6,45.2 167.6,45.0 167.7,42.6 167.8,47.8 167.8,47.6 167.9,43.0 168.0,44.9 168.0,45.6 168.1,46.5 168.1,45.8 168.2,43.1 168.3,45.1 168.3,44.3 168.4,42.8 168.5,44.1 168.5,47.7 168.6,48.5 168.6,46.2 168.7,42.3 168.8,43.0 168.8,43.1 168.9,48.0 169.0,43.2 169.0,45.1 169.1,46.2 169.1,41.6 169.2,45.7 169.3,44.7 169.3,41.7 169.4,42.4 169.5,43.1 169.5,42.5 169.6,46.3 169.7,44.5 169.7,45.2 169.8,45.8 169.8,43.4 169.9,50.6 170.0,41.9 170.0,41.9 170.1,43.7 170.2,45.5 170.2,44.0 170.3,43.5 170.3,45.1 170.4,47.4 170.5,48.3 170.5,42.6 170.6,47.3 170.7,44.3 170.7,46.8 170.8,44.9 170.8,44.6 170.9,45.8 171.0,44.9 171.0,46.8 171.1,45.4 171.2,43.6 171.2,43.5 171.3,45.7 171.3,44.5 171.4,43.3 171.5,47.8 171.5,44.5 171.6,45.7 171.7,46.6 171.7,43.6 171.8,44.2 171.8,42.6 171.9,45.0 172.0,46.3 172.0,46.1 172.1,42.9 172.2,43.9 172.2,46.4 172.3,46.0 172.3,43.5 172.4,45.0 172.5,46.2 172.5,47.3 172.6,45.4 172.7,46.4 172.7,44.9 172.8,40.7 172.9,45.6 172.9,45.2 173.0,42.2 173.0,46.7 173.1,41.9 173.2,46.8 173.2,47.0 173.3,45.8 173.4,44.0 173.4,46.4 173.5,43.7 173.5,46.8 173.6,47.7 173.7,47.3 173.7,44.5 173.8,44.9 173.9,45.2 173.9,42.3 174.0,45.4 174.0,45.1 174.1,45.7 174.2,41.8 174.2,44.7 174.3,45.3 174.4,50.3 174.4,46.8 174.5,46.3 174.5,44.7 174.6,45.2 174.7,43.6 174.7,48.0 174.8,46.6 174.9,46.1 174.9,46.9 175.0,41.1 175.0,44.8 175.1,48.1 175.2,45.0 175.2,45.6 175.3,43.8 175.4,42.2 175.4,44.8 175.5,45.4 175.6,46.4 175.6,45.3 175.7,47.2 175.7,46.7 175.8,46.3 175.9,44.3 175.9,46.2 176.0,47.0 176.1,45.6 176.1,45.7 176.2,45.5 176.2,44.0 176.3,43.9 176.4,48.5 176.4,47.6 176.5,47.4 176.6,46.1 176.6,47.0 176.7,46.0 176.7,47.3 176.8,50.0 176.9,45.4 176.9,44.5 177.0,46.0 177.1,49.5 177.1,46.1 177.2,43.6 177.2,44.2 177.3,45.6 177.4,44.0 177.4,45.8 177.5,45.1 177.6,46.1 177.6,45.4 177.7,46.2 177.7,44.4 177.8,47.5 177.9,41.3 177.9,43.7 178.0,46.0 178.1,41.8 178.1,46.0 178.2,48.0 178.2,40.1 178.3,43.2 178.4,45.5 178.4,45.5 178.5,46.6 178.6,45.6 178.6,43.6 178.7,45.8 178.8,46.8 178.8,43.6 178.9,45.4 178.9,44.8 179.0,44.0 179.1,42.6 179.1,44.5 179.2,45.4 179.3,47.6 179.3,40.6 179.4,45.1 179.4,46.9 179.5,44.2 179.6,46.7 179.6,48.0 179.7,42.9 179.8,44.1 179.8,46.9 179.9,45.5 179.9,46.0 180.0,46.1 180.1,45.5 180.1,46.6 180.2,44.8 180.3,43.4 180.3,43.0 180.4,44.6 180.4,44.0 180.5,47.0 180.6,45.8 180.6,44.3 180.7,45.1 180.8,50.6 180.8,45.0 180.9,46.4 180.9,48.1 181.0,44.8 181.1,46.0 181.1,45.8 181.2,47.5 181.3,47.5 181.3,46.8 181.4,42.2 181.4,45.8 181.5,43.2 181.6,44.3 181.6,43.9 181.7,45.5 181.8,45.5 181.8,45.0 181.9,43.1 182.0,46.7 182.0,45.4 182.1,47.7 182.1,44.5 182.2,47.1 182.3,47.8 182.3,45.4 182.4,46.3 182.5,47.4 182.5,47.6 182.6,49.0 182.6,45.1 182.7,40.9 182.8,47.1 182.8,43.2 182.9,45.3 183.0,45.4 183.0,46.7 183.1,44.4 183.1,47.0 183.2,46.5 183.3,44.0 183.3,44.9 183.4,43.4 183.5,43.8 183.5,43.1 183.6,43.3 183.6,47.8 183.7,44.9 183.8,46.0 183.8,45.9 183.9,45.2 184.0,45.4 184.0,43.5 184.1,44.9 184.1,44.9 184.2,44.2 184.3,46.8 184.3,45.8 184.4,44.8 184.5,45.5 184.5,44.6 184.6,45.0 184.7,46.0 184.7,43.2 184.8,43.2 184.8,42.1 184.9,44.6 185.0,42.3 185.0,44.8 185.1,46.3 185.2,48.4 185.2,44.0 185.3,44.8 185.3,46.0 185.4,44.2 185.5,44.9 185.5,47.4 185.6,46.4 185.7,44.2 185.7,45.1 185.8,48.8 185.8,42.7 185.9,45.3 186.0,46.0 186.0,45.3 186.1,46.3 186.2,44.4 186.2,44.6 186.3,48.0 186.3,45.6 186.4,44.5 186.5,43.9 186.5,46.5 186.6,49.6 186.7,45.0 186.7,45.1 186.8,43.6 186.8,49.3 186.9,42.2 187.0,43.0 187.0,42.9 187.1,47.5 187.2,45.5 187.2,46.6 187.3,46.2 187.3,46.3 187.4,42.2 187.5,46.4 187.5,42.7 187.6,45.4M187.9,48.4 188.0,47.1 188.0,52.5 188.1,46.7 188.2,47.9 188.2,49.4 188.3,51.4 188.3,48.0 188.4,50.0 188.5,48.1 188.5,48.4 188.6,51.3 188.7,50.2 188.7,45.5 188.8,50.4 188.9,50.6 188.9,48.6 189.0,47.9 189.0,50.8 189.1,48.5 189.2,48.5 189.2,47.0 189.3,50.7 189.4,52.3 189.4,47.6 189.5,49.5 189.5,49.5 189.6,48.0 189.7,47.6 189.7,47.3 189.8,50.2 189.9,47.5 189.9,50.4 190.0,50.0 190.1,47.2 190.1,47.1 190.2,48.4 190.2,49.6 190.3,49.7 190.4,50.2 190.4,49.1 190.5,48.3 190.6,49.3 190.6,50.1 190.7,51.0 190.8,50.0 190.8,50.2 190.9,47.6 190.9,51.2 191.0,50.9 191.1,50.2 191.1,49.1 191.2,46.9 191.3,50.6 191.3,46.7 191.4,50.1 191.5,47.8 191.5,46.8 191.6,48.4 191.6,52.2 191.7,49.0 191.8,49.5 191.8,53.7 191.9,45.5 192.0,47.4 192.0,48.7 192.1,46.6 192.2,46.3 192.2,48.0 192.3,51.6 192.3,47.3 192.4,46.8 192.5,47.4 192.5,49.5 192.6,50.8 192.7,50.8 192.7,48.1 192.8,51.0 192.8,48.8 192.9,48.2 193.0,48.6 193.0,47.2 193.1,47.0 193.2,48.9 193.2,47.4 193.3,53.4 193.4,49.6 193.4,53.6 193.5,49.8 193.5,47.3 193.6,49.3 193.7,49.2 193.7,49.5 193.8,50.8M194.2,51.2 194.3,51.7 194.3,51.0 194.4,49.1 194.5,51.8 194.5,50.3 194.6,47.5 194.6,48.4 194.7,51.1 194.8,50.9 194.8,49.2 194.9,50.6 195.0,50.6 195.0,50.9 195.1,50.6 195.1,51.9 195.2,48.7 195.3,50.6 195.3,52.7 195.4,50.8 195.5,47.9 195.5,51.2 195.6,52.4 195.6,51.0 195.7,49.5 195.8,52.0 195.8,49.4 195.9,52.2 196.0,49.4 196.0,49.3 196.1,50.0 196.1,50.8 196.2,49.6 196.3,48.2 196.3,49.1 196.4,54.9 196.5,51.2 196.5,49.4 196.6,51.7 196.6,55.9 196.7,49.2 196.8,49.6 196.8,49.8 196.9,52.4 197.0,49.7 197.0,49.1 197.1,47.3 197.1,50.3 197.2,51.6 197.3,54.2 197.3,47.9 197.4,51.9 197.5,48.0 197.5,51.2 197.6,54.3 197.6,48.4 197.7,46.5 197.8,50.6 197.8,49.0 197.9,45.8 198.0,49.5 198.0,53.0 198.1,47.7 198.1,52.3 198.2,49.4 198.3,48.9 198.3,50.3 198.4,51.5 198.5,49.6 198.5,48.6 198.6,50.8 198.6,48.7 198.7,51.8 198.8,53.8 198.8,53.5 198.9,52.3 199.0,48.2 199.0,48.8 199.1,51.6 199.1,51.0 199.2,49.5 199.3,49.7 199.3,47.8 199.4,48.5 199.5,48.9 199.5,50.0 199.6,48.3 199.7,50.3 199.7,53.0 199.8,49.6 199.8,48.8 199.9,50.4 200.0,51.9 200.0,50.5 200.1,49.8 200.2,52.9 200.2,49.6 200.3,51.8 200.3,47.6 200.4,50.4 200.5,50.3 200.5,50.7 200.6,49.6 200.7,48.7 200.7,50.5 200.8,51.4 200.8,53.2 200.9,50.9 201.0,49.3 201.0,50.1 201.1,49.8 201.2,47.8 201.2,50.3 201.3,50.3 201.3,48.6 201.4,48.5 201.5,50.4 201.5,49.9 201.6,50.8 201.7,55.1 201.7,52.1 201.8,47.1 201.8,49.3 201.9,50.5 202.0,52.3 202.0,49.2 202.1,47.7 202.2,49.9 202.2,48.8 202.3,48.1 202.3,52.8 202.4,50.4 202.5,50.8 202.5,48.6 202.6,51.8 202.7,48.4 202.7,48.3 202.8,49.1 202.8,48.7 202.9,48.8 203.0,46.3 203.0,48.3 203.1,51.9 203.2,50.3 203.2,52.4 203.3,49.4 203.3,47.1 203.4,52.9 203.5,49.0 203.5,47.0 203.6,50.6 203.7,51.1 203.7,49.8 203.8,47.0 203.8,49.2 203.9,49.2 204.0,51.5 204.0,51.0 204.1,51.0 204.2,51.5 204.2,49.5 204.3,51.6 204.3,50.8 204.4,47.8 204.5,51.5 204.5,50.7 204.6,53.5 204.7,50.8 204.7,49.9 204.8,47.8 204.9,50.7 204.9,49.2 205.0,53.6 205.0,51.2 205.1,50.7 205.2,51.7 205.2,54.8 205.3,49.3 205.4,49.4 205.4,48.2 205.5,46.8 205.5,50.9 205.6,48.6 205.7,48.8 205.7,53.5 205.8,50.4 205.9,51.5 205.9,50.0 206.0,48.5 206.0,47.0 206.1,51.4 206.2,50.9 206.2,50.1 206.3,49.8 206.4,51.3 206.4,51.3 206.5,49.3 206.5,49.3 206.6,48.3 206.7,48.9 206.7,47.6 206.8,52.6 206.9,48.6 206.9,50.6 207.0,48.8 207.0,50.3 207.1,49.1 207.2,52.3 207.2,51.7 207.3,50.6 207.4,48.9 207.4,50.7 207.5,52.6 207.5,49.8 207.6,48.5 207.7,52.1 207.7,51.5 207.8,50.8 207.9,51.0 207.9,51.1 208.0,52.0 208.0,47.6 208.1,49.1 208.2,49.1 208.2,52.7 208.3,50.2 208.4,47.8 208.4,49.4 208.5,49.6 208.5,50.1 208.6,49.0 208.7,47.3 208.7,51.4 208.8,49.8 208.9,48.5 208.9,47.6 209.0,48.9 209.0,50.7 209.1,49.9 209.2,46.9 209.2,47.6 209.3,48.8 209.4,44.4 209.4,49.7 209.5,52.8 209.5,49.9 209.6,47.3 209.7,49.7 209.7,49.7 209.8,50.6 209.9,48.7 209.9,53.6 210.0,49.8 210.1,48.8 210.1,51.2 210.2,51.7 210.2,50.9 210.3,51.1 210.4,51.3 210.4,50.7 210.5,49.6 210.6,48.2 210.6,48.9 210.7,50.1 210.7,52.4 210.8,48.1 210.9,51.1 210.9,47.1 211.0,49.0 211.1,51.0 211.1,48.2 211.2,49.3 211.2,52.7 211.3,50.1 211.4,48.4 211.4,51.4 211.5,50.6 211.6,52.4 211.6,48.2 211.7,52.1 211.7,51.5 211.8,48.1 211.9,49.0 211.9,47.5 212.0,47.5 212.1,50.9 212.1,51.9 212.2,49.7 212.2,50.4 212.3,47.2 212.4,51.9 212.4,52.2 212.5,50.7 212.6,48.7 212.6,54.4 212.7,47.0 212.7,48.7 212.8,53.7 212.9,48.6 212.9,50.7 213.0,51.4 213.1,49.6 213.1,48.7 213.2,48.4 213.2,48.1 213.3,46.2 213.4,52.8 213.4,49.4 213.5,50.5 213.6,46.7 213.6,49.6 213.7,47.3 213.7,50.8 213.8,49.6 213.9,48.7 213.9,51.7 214.0,51.8 214.1,48.9 214.1,50.1 214.2,49.4 214.2,49.8 214.3,51.0 214.4,50.0 214.4,51.3 214.5,49.9 214.6,51.3 214.6,51.8 214.7,51.9 214.7,49.5 214.8,50.3 214.9,47.9 214.9,49.7 215.0,51.3 215.1,50.8 215.1,53.3 215.2,47.0 215.3,50.9 215.3,51.3 215.4,49.5 215.4,50.5 215.5,50.7 215.6,52.9 215.6,48.7 215.7,50.0 215.8,49.2 215.8,48.0 215.9,50.0 215.9,48.3 216.0,47.5 216.1,49.0 216.1,51.7 216.2,51.3 216.3,50.6 216.3,48.0 216.4,51.2 216.4,46.8 216.5,50.4 216.6,51.5 216.6,49.8 216.7,49.3 216.8,50.2 216.8,49.5 216.9,45.6 216.9,50.2 217.0,51.5 217.1,49.0 217.1,49.6 217.2,51.9 217.3,49.9 217.3,50.3 217.4,49.6 217.4,52.0 217.5,47.3 217.6,51.0 217.6,47.5 217.7,49.9 217.8,49.1 217.8,50.4 217.9,50.2 217.9,48.1 218.0,51.2 218.1,49.3 218.1,51.4 218.2,49.1 218.3,48.8 218.3,49.7 218.4,51.0 218.4,50.6 218.5,50.2 218.6,50.6 218.6,47.9 218.7,46.8 218.8,49.9 218.8,47.4 218.9,47.9 218.9,50.4 219.0,50.3 219.1,51.5 219.1,49.1 219.2,50.2 219.3,45.6 219.3,49.4 219.4,49.7 219.4,52.5 219.5,51.2 219.6,51.3 219.6,48.3 219.7,49.3 219.8,46.6 219.8,53.4 219.9,49.6 219.9,48.1 220.0,49.0 220.1,50.9 220.1,51.3 220.2,49.3M220.4,56.9 220.5,54.5 220.5,52.9 220.6,56.1 220.7,51.9 220.7,53.9 220.8,53.6 220.9,52.2 220.9,52.5 221.0,49.1 221.0,54.1 221.1,50.2 221.2,55.5 221.2,51.9 221.3,51.7 221.4,53.7 221.4,54.0 221.5,54.0 221.6,52.0 221.6,54.9 221.7,52.7 221.8,51.2 221.8,51.7 221.9,55.4 221.9,51.0 222.0,48.5 222.1,54.1 222.1,56.8 222.2,54.6 222.3,52.8 222.3,50.0 222.4,54.1 222.5,53.6 222.5,55.7 222.6,55.3 222.7,50.7 222.7,51.7 222.8,56.7 222.8,52.6 222.9,53.5 223.0,55.0 223.0,57.0 223.1,56.7 223.2,52.6 223.2,56.7 223.3,53.0M223.8,50.1 223.9,50.4 223.9,48.1 224.0,51.1 224.1,49.2 224.1,48.2 224.2,46.0 224.2,48.4 224.3,49.0 224.4,45.8 224.4,48.3 224.5,46.1 224.6,50.7 224.6,48.7 224.7,45.9 224.7,45.8 224.8,45.3 224.9,47.5 224.9,46.5 225.0,53.6 225.1,49.0 225.1,45.3 225.2,48.3 225.2,44.0 225.3,48.0 225.4,46.9 225.4,48.7 225.5,51.5 225.6,46.1 225.6,47.2 225.7,45.9 225.8,45.8 225.8,47.7 225.9,50.7 225.9,50.1 226.0,48.7 226.1,50.2 226.1,47.8 226.2,47.9 226.3,48.9 226.3,49.0 226.4,48.5 226.4,49.9 226.5,45.1 226.6,50.5 226.6,51.6 226.7,48.1 226.8,49.5 226.8,49.0 226.9,49.8 226.9,48.5 227.0,50.1 227.1,46.8 227.1,47.2 227.2,48.4 227.3,46.1 227.3,46.1 227.4,47.4 227.4,48.6 227.5,48.1 227.6,50.1 227.6,47.7 227.7,51.2 227.8,49.4 227.8,46.9 227.9,50.5 228.0,48.1 228.0,48.0 228.1,49.7 228.1,49.3 228.2,45.7 228.3,47.9 228.3,46.7 228.4,47.3 228.5,50.1 228.5,46.5 228.6,47.9 228.6,48.6 228.7,49.4 228.8,47.8 228.8,49.3 228.9,49.4 229.0,46.0 229.0,47.6 229.1,49.7 229.1,48.5 229.2,45.4 229.3,47.8 229.3,50.8 229.4,46.7 229.5,47.6 229.5,52.9 229.6,47.4 229.7,51.2 229.7,46.0 229.8,51.2 229.8,45.4 229.9,47.2 230.0,52.2 230.0,48.6 230.1,49.0 230.2,47.6 230.2,49.2 230.3,46.8 230.3,49.3 230.4,48.7 230.5,47.8 230.5,49.7 230.6,51.3 230.7,46.5 230.7,47.5 230.8,50.7 230.8,51.2 230.9,47.6 231.0,49.6 231.0,49.6 231.1,51.8 231.2,48.1 231.2,48.5 231.3,48.8 231.4,46.9 231.4,48.1 231.5,47.2 231.5,47.5 231.6,47.9 231.7,46.4 231.7,50.4 231.8,48.9 231.9,50.8 231.9,45.5 232.0,47.3 232.0,48.5 232.1,53.4 232.2,48.3 232.2,48.4 232.3,44.1 232.4,47.7 232.4,45.2 232.5,51.9 232.5,48.9 232.6,50.0 232.7,48.2 232.7,49.7 232.8,48.4 232.9,47.3 232.9,50.3 233.0,47.5 233.0,46.0 233.1,48.0 233.2,46.7 233.2,48.5 233.3,46.7 233.4,49.0 233.4,48.5 233.5,46.4 233.6,48.0 233.6,47.0 233.7,48.1 233.7,48.2 233.8,45.3 233.9,48.5 233.9,49.5 234.0,49.9 234.1,47.8 234.1,48.7 234.2,47.1 234.2,48.7 234.3,47.7 234.4,48.8 234.4,47.9 234.5,47.4 234.6,49.9 234.6,49.4 234.7,50.9 234.7,49.8 234.8,49.8 234.9,47.8 234.9,45.6 235.0,49.3M235.2,43.0 235.3,44.3 235.3,45.2 235.4,43.5 235.5,43.3 235.5,43.5 235.6,43.9 235.6,47.2 235.7,43.0 235.8,42.9 235.8,45.6 235.9,46.2 236.0,45.6 236.0,44.5 236.1,47.5 236.1,43.5 236.2,42.6 236.3,46.7 236.3,47.0 236.4,44.1 236.5,45.1 236.5,45.2 236.6,45.8 236.6,44.5 236.7,46.2 236.8,42.2 236.8,44.3 236.9,45.1 237.0,45.3 237.0,45.1 237.1,44.7 237.1,47.9 237.2,43.6 237.3,42.4 237.3,43.3 237.4,45.2 237.5,44.0 237.5,43.7 237.6,45.4 237.7,45.4 237.7,43.8 237.8,47.2 237.8,43.5 237.9,44.1 238.0,44.0 238.0,48.8 238.1,45.0 238.2,44.3 238.2,42.6 238.3,42.6 238.3,42.4 238.4,46.2 238.5,47.2 238.5,41.5 238.6,43.0 238.7,43.4 238.7,48.0 238.8,46.0 238.8,45.2 238.9,46.3 239.0,41.8 239.0,47.4 239.1,46.3 239.2,45.9 239.2,42.8 239.3,43.3 239.4,45.1 239.4,43.5 239.5,42.3 239.5,43.3 239.6,43.9 239.7,44.1 239.7,44.1 239.8,47.2 239.9,49.9 239.9,42.8 240.0,46.5 240.0,42.3 240.1,45.8 240.2,44.2 240.2,41.5 240.3,46.0 240.4,41.9 240.4,43.6 240.5,44.0 240.5,44.7 240.6,44.7 240.7,43.4 240.7,43.5 240.8,43.4 240.9,43.4 240.9,44.2 241.0,45.3 241.0,45.3 241.1,43.8 241.2,45.7 241.2,44.9 241.3,46.3 241.4,43.0 241.4,43.0 241.5,42.6 241.6,44.1 241.6,41.7 241.7,45.5 241.7,46.2 241.8,41.0 241.9,44.6 241.9,45.2 242.0,45.4 242.1,42.8 242.1,44.2 242.2,43.9 242.2,43.7 242.3,45.3 242.4,42.5 242.4,35.9 242.5,45.8 242.6,42.6 242.6,42.5 242.7,47.7 242.7,44.6 242.8,47.0 242.9,45.7 242.9,45.4 243.0,47.7 243.1,41.2 243.1,47.2 243.2,43.7 243.2,43.1 243.3,44.6 243.4,43.2 243.4,42.7 243.5,42.3 243.6,44.3 243.6,43.1 243.7,44.4 243.8,45.3 243.8,46.3 243.9,42.6 243.9,42.4 244.0,43.1 244.1,42.1 244.1,43.3 244.2,44.4 244.3,46.7 244.3,46.0 244.4,43.7 244.4,47.1 244.5,39.8 244.6,43.8 244.6,41.8 244.7,44.4 244.8,43.0 244.8,44.7 244.9,47.4 244.9,42.4 245.0,44.4 245.1,50.9 245.1,43.9 245.2,43.3 245.3,42.5 245.3,44.0 245.4,44.6 245.5,44.0 245.5,45.1 245.6,45.2 245.6,46.0 245.7,42.5 245.8,44.0 245.8,39.9 245.9,42.6 246.0,43.0 246.0,47.0 246.1,45.3 246.1,44.3 246.2,42.9 246.3,45.3 246.3,40.2 246.4,42.2 246.5,45.1 246.5,42.9 246.6,42.0 246.6,43.8 246.7,42.5 246.8,46.1 246.8,43.3 246.9,45.4 247.0,44.0 247.0,46.4 247.1,45.1 247.1,47.4 247.2,44.9 247.3,41.5 247.3,45.6 247.4,43.2 247.5,45.9 247.5,43.0 247.6,43.7 247.7,44.3 247.7,41.1 247.8,42.7 247.8,43.5 247.9,44.5 248.0,43.9 248.0,42.2 248.1,46.6 248.2,43.6 248.2,45.0 248.3,45.4 248.3,42.6 248.4,43.3 248.5,43.9 248.5,42.1 248.6,48.1 248.7,42.8 248.7,42.8 248.8,45.6 248.8,45.1 248.9,43.7 249.0,45.8 249.0,43.0 249.1,41.2 249.2,44.0 249.2,44.6 249.3,44.3 249.4,44.3 249.4,42.4 249.5,45.2 249.5,43.4 249.6,45.9 249.7,45.1 249.7,44.2 249.8,43.8 249.9,46.2 249.9,45.7 250.0,45.6 250.0,41.9 250.1,45.6 250.2,44.8 250.2,47.8 250.3,43.6 250.4,44.5 250.4,42.3 250.5,45.2 250.5,45.1 250.6,40.1 250.7,41.8 250.7,43.2 250.8,43.7 250.9,43.6 250.9,45.4 251.0,44.8 251.0,45.4 251.1,45.1 251.2,44.5 251.2,44.2 251.3,42.8M251.5,43.0 251.6,45.8 251.6,46.4 251.7,45.4 251.8,42.9 251.8,45.0 251.9,47.9 251.9,44.2 252.0,43.1 252.1,44.5 252.1,42.1 252.2,45.1 252.3,42.4 252.3,44.5 252.4,42.9 252.4,44.6 252.5,48.1 252.6,42.2 252.6,44.4 252.7,44.3 252.8,43.6 252.8,46.3 252.9,42.5 252.9,47.0 253.0,45.6 253.1,45.4 253.1,43.1 253.2,42.8 253.3,46.4 253.3,43.7 253.4,40.5 253.4,49.9 253.5,45.0 253.6,44.8 253.6,44.7 253.7,45.7 253.8,44.1 253.8,45.2 253.9,43.0 253.9,46.1 254.0,43.1 254.1,46.9 254.1,45.9 254.2,47.9 254.3,49.4 254.3,43.5 254.4,42.4 254.4,46.1 254.5,44.1 254.6,45.4 254.6,45.0 254.7,42.8 254.8,43.3 254.8,47.4 254.9,43.8 254.9,41.0 255.0,45.2 255.1,45.4 255.1,43.5 255.2,45.9 255.3,47.3 255.3,42.9 255.4,46.1 255.4,46.5 255.5,45.1 255.6,47.0 255.6,43.7 255.7,44.5 255.8,42.5 255.8,46.8 255.9,46.5 255.9,42.9 256.0,48.5 256.1,49.8 256.1,46.5 256.2,44.1 256.3,44.1 256.3,44.4 256.4,44.5 256.4,45.6 256.5,43.8 256.6,44.9 256.6,44.0 256.7,43.2 256.8,46.3 256.8,45.5 256.9,43.9 256.9,45.1 257.0,43.9 257.1,43.5 257.1,48.0 257.2,43.7 257.3,46.7 257.3,42.8 257.4,45.3 257.5,44.3 257.5,42.7 257.6,44.3 257.6,44.0 257.7,43.3 257.8,46.2 257.8,44.5 257.9,44.3 258.0,45.3 258.0,44.9 258.1,43.1 258.1,48.1 258.2,45.9 258.3,47.3 258.3,44.0 258.4,43.1 258.5,43.4 258.5,44.7 258.6,45.0 258.6,44.4 258.7,44.2 258.8,43.5 258.8,46.3 258.9,44.4 259.0,44.3 259.0,46.5 259.1,47.4 259.1,45.9 259.2,40.6 259.3,46.3 259.3,41.9 259.4,45.5 259.5,46.3 259.5,45.1 259.6,43.4 259.6,46.3 259.7,45.4 259.8,43.7 259.8,46.2 259.9,43.5 260.0,43.4 260.0,44.5 260.1,47.0 260.1,46.1 260.2,46.5 260.3,48.8 260.3,46.4 260.4,47.4 260.5,45.6 260.5,42.2 260.6,46.3 260.6,43.1 260.7,46.1 260.8,45.2 260.8,45.8 260.9,44.8 261.0,44.4 261.0,46.2 261.1,44.2 261.1,43.4 261.2,44.6 261.3,44.5 261.3,43.4 261.4,44.4 261.5,42.3 261.5,45.7 261.6,45.5 261.6,44.0 261.7,43.5 261.8,44.9 261.8,46.0 261.9,43.7 262.0,44.2 262.0,42.7 262.1,46.0 262.1,46.3 262.2,45.8 262.3,44.4 262.3,44.3 262.4,43.7 262.5,46.2 262.5,45.1 262.6,45.8 262.6,49.4 262.7,43.7 262.8,45.1 262.8,44.6 262.9,46.7 263.0,43.2 263.0,44.0 263.1,45.4 263.1,47.6 263.2,47.5 263.3,44.3 263.3,47.2 263.4,45.6 263.5,47.5 263.5,46.8 263.6,45.9 263.7,45.3 263.7,46.1 263.8,45.2 263.8,47.5 263.9,44.4 264.0,42.9 264.0,46.6 264.1,44.3 264.2,44.4 264.2,44.9 264.3,44.1 264.3,46.2 264.4,45.9 264.5,43.5 264.5,45.1 264.6,45.4 264.7,44.7 264.7,44.8 264.8,43.6 264.8,42.9 264.9,44.7 265.0,44.9 265.0,45.3 265.1,44.6 265.2,45.4 265.2,46.8 265.3,45.5 265.3,47.7 265.4,42.9 265.5,43.1 265.5,44.3 265.6,43.3 265.7,45.2 265.7,42.6 265.8,49.3 265.8,44.1 265.9,43.5 266.0,41.9 266.0,42.5 266.1,47.0 266.2,48.6 266.2,44.7 266.3,45.4 266.3,45.4 266.4,42.9 266.5,47.2 266.5,46.7 266.6,45.3 266.7,44.0 266.7,45.6 266.8,45.4 266.8,43.1 266.9,43.3 267.0,45.2 267.0,45.1 267.1,42.3 267.2,43.9 267.2,45.3 267.3,45.7 267.3,47.4 267.4,42.1 267.5,48.9 267.5,42.3 267.6,45.4 267.7,44.8 267.7,45.1 267.8,40.7 267.8,43.8 267.9,45.4 268.0,46.1 268.0,46.5 268.1,45.4 268.2,43.7 268.2,48.7 268.3,44.4 268.3,44.6 268.4,47.0 268.5,46.3 268.5,42.1 268.6,42.5 268.7,46.2 268.7,47.7 268.8,43.8 268.8,45.8 268.9,42.3 269.0,44.0 269.0,43.8 269.1,43.9 269.2,44.6 269.2,44.2 269.3,43.8 269.4,48.3 269.4,45.6 269.5,45.0 269.5,48.1 269.6,45.8 269.7,46.0 269.7,45.2 269.8,43.5 269.9,45.4 269.9,48.5 270.0,44.4 270.0,47.0 270.1,43.7 270.2,44.6 270.2,46.3 270.3,43.7 270.4,47.9 270.4,48.1 270.5,47.0 270.5,45.3 270.6,47.9 270.7,44.3 270.7,44.6 270.8,47.7 270.9,45.4 270.9,44.2 271.0,47.0 271.0,47.1 271.1,46.1 271.2,45.1 271.2,46.4 271.3,42.7 271.4,48.0 271.4,44.9 271.5,45.1 271.5,46.8 271.6,46.6 271.7,44.2 271.7,49.0 271.8,46.7 271.9,41.8 271.9,47.6 272.0,42.3 272.0,45.2 272.1,48.4 272.2,47.8 272.2,43.3 272.3,42.6 272.4,43.9 272.4,43.1 272.5,45.2 272.5,47.1 272.6,42.3 272.7,42.9 272.7,47.4 272.8,43.7 272.9,45.9 272.9,44.2 273.0,45.5 273.0,44.4 273.1,45.7 273.2,42.6 273.2,44.7 273.3,46.0 273.4,45.3 273.4,48.1 273.5,46.8 273.5,45.9 273.6,42.3 273.7,47.6 273.7,43.6 273.8,45.4 273.9,48.8 273.9,45.9 274.0,43.4 274.0,45.9 274.1,44.9 274.2,44.5 274.2,44.0 274.3,45.1 274.4,41.7 274.4,47.4 274.5,46.0 274.5,43.4 274.6,51.8 274.7,49.0 274.7,44.6 274.8,43.7 274.9,41.5 274.9,46.2 275.0,44.1 275.1,43.4 275.1,47.7 275.2,41.2 275.2,43.3 275.3,46.3 275.4,42.7 275.4,47.3 275.5,43.8 275.6,45.4 275.6,48.1 275.7,43.7 275.7,44.9 275.8,46.0 275.9,44.2 275.9,46.5 276.0,43.3 276.1,41.2 276.1,45.1 276.2,47.9 276.2,42.6 276.3,44.0 276.4,45.4 276.4,43.7 276.5,46.5 276.6,47.6 276.6,47.7 276.7,42.5 276.7,46.8 276.8,43.5 276.9,45.5 276.9,47.9 277.0,45.2 277.1,44.0 277.1,47.5 277.2,42.9 277.2,43.6 277.3,46.0 277.4,48.5 277.4,43.6 277.5,42.5 277.6,44.5 277.6,42.6 277.7,43.5 277.7,44.8 277.8,46.4 277.9,46.3 277.9,43.8 278.0,45.4 278.1,43.4 278.1,47.4 278.2,42.2 278.2,42.1 278.3,45.9 278.4,43.9 278.4,43.9 278.5,46.2 278.6,48.5 278.6,42.9 278.7,45.2 278.7,45.5 278.8,46.3 278.9,47.2 278.9,44.2 279.0,46.1 279.1,48.8 279.1,45.9 279.2,45.0 279.2,46.7 279.3,48.0 279.4,44.8 279.4,45.0 279.5,47.2 279.6,44.8 279.6,45.0 279.7,46.5 279.7,42.6 279.8,47.6 279.9,46.0 279.9,47.3 280.0,49.0 280.1,46.5 280.1,45.2 280.2,45.7 280.2,44.6 280.3,45.9 280.4,43.9 280.4,45.1 280.5,43.3 280.6,45.2 280.6,46.6 280.7,47.1 280.7,47.8 280.8,45.3 280.9,48.5 280.9,45.6 281.0,45.9 281.1,48.9 281.1,45.6 281.2,42.9 281.3,45.1 281.3,42.4 281.4,45.1 281.4,43.7 281.5,44.9 281.6,45.7 281.6,47.0 281.7,42.1 281.8,46.4 281.8,45.4 281.9,42.3 281.9,47.9 282.0,44.9 282.1,47.2 282.1,47.0 282.2,43.9 282.3,42.9 282.3,49.5 282.4,50.0 282.4,45.8 282.5,46.2 282.6,44.8 282.6,44.3 282.7,43.0 282.8,42.4 282.8,48.0 282.9,45.7 282.9,43.2 283.0,46.8 283.1,42.3 283.1,45.3 283.2,47.0 283.3,44.9 283.3,45.9 283.4,47.3 283.4,41.4 283.5,43.9 283.6,47.4 283.6,45.5 283.7,45.8 283.8,44.7 283.8,45.1 283.9,45.4 283.9,44.9 284.0,46.0 284.1,46.1 284.1,45.5 284.2,41.2 284.3,44.1 284.3,43.9 284.4,45.1 284.4,44.4 284.5,44.7 284.6,43.9 284.6,47.1 284.7,47.4 284.8,45.4 284.8,46.7 284.9,42.8 284.9,46.3 285.0,47.9 285.1,46.3 285.1,47.1 285.2,46.1 285.3,45.0 285.3,43.0 285.4,43.3 285.4,45.9 285.5,45.2 285.6,45.7 285.6,44.6 285.7,43.4 285.8,43.9 285.8,46.9 285.9,45.3 285.9,44.7 286.0,43.9 286.1,46.1 286.1,46.1 286.2,47.0 286.3,44.6 286.3,48.7 286.4,43.3 286.4,45.7 286.5,47.9 286.6,48.1 286.6,46.3 286.7,40.7M287.0,39.0 287.1,44.6 287.1,39.1 287.2,41.3 287.3,43.3 287.3,42.5 287.4,39.1 287.4,41.7 287.5,41.8 287.6,42.0 287.6,40.1 287.7,42.6 287.8,41.2 287.8,34.7 287.9,37.2 287.9,42.0 288.0,40.4 288.1,41.9 288.1,40.2 288.2,40.9 288.3,38.3 288.3,43.1 288.4,41.2 288.4,37.9 288.5,38.6 288.6,39.7 288.6,38.7 288.7,42.1 288.8,39.5 288.8,41.7 288.9,43.2 289.0,39.0 289.0,39.4 289.1,39.6 289.1,38.9 289.2,40.5 289.3,39.0 289.3,39.3 289.4,40.8 289.5,41.7 289.5,38.4 289.6,39.5 289.6,35.9 289.7,41.4 289.8,41.9 289.8,39.6 289.9,42.2 290.0,40.5 290.0,40.8 290.1,44.0 290.1,40.4 290.2,40.5 290.3,40.7 290.3,41.7 290.4,44.3 290.5,41.8 290.5,39.5 290.6,37.6 290.7,39.6 290.7,39.0 290.8,40.2 290.8,41.6 290.9,42.2 291.0,41.2 291.0,40.4 291.1,38.6 291.2,42.4 291.2,40.2 291.3,43.1 291.3,41.9 291.4,41.0 291.5,40.6 291.5,41.4 291.6,39.7 291.7,40.5 291.7,39.5 291.8,35.9 291.8,42.9 291.9,39.9 292.0,39.5 292.0,40.2 292.1,41.0 292.2,39.9 292.2,43.0 292.3,43.6 292.3,42.6 292.4,44.4 292.5,37.8 292.5,40.5 292.6,38.8 292.7,39.8 292.7,40.5 292.8,39.3 292.9,40.8 292.9,41.0 293.0,43.1 293.0,40.0 293.1,40.7 293.2,42.8 293.2,43.8 293.3,41.0 293.4,39.7 293.4,41.7 293.5,41.6 293.5,42.5 293.6,40.3 293.7,38.5 293.7,39.6 293.8,41.4 293.9,41.6 293.9,39.8 294.0,40.0 294.0,41.5 294.1,42.8 294.2,41.5 294.2,40.4 294.3,41.3 294.4,39.9 294.4,41.2 294.5,37.9 294.6,41.7 294.6,38.4 294.7,42.0 294.7,38.7 294.8,38.9 294.9,39.3 294.9,34.7 295.0,40.7 295.1,41.9 295.1,38.8 295.2,38.9 295.2,39.4 295.3,39.7 295.4,38.8 295.4,41.8 295.5,34.5 295.6,39.3 295.6,38.4 295.7,41.1 295.7,37.6 295.8,40.9 295.9,39.0 295.9,36.3 296.0,41.8 296.1,40.5 296.1,40.8 296.2,40.3 296.3,40.1 296.3,41.1 296.4,39.7 296.4,41.7 296.5,39.6 296.6,42.6 296.6,37.8 296.7,42.3 296.8,38.6 296.8,39.2 296.9,41.0 296.9,39.2 297.0,39.7 297.1,36.9 297.1,40.8 297.2,39.4 297.3,41.4 297.3,40.0 297.4,40.5 297.4,39.3 297.5,39.6 297.6,45.9 297.6,43.2 297.7,42.1 297.8,37.3 297.8,39.1 297.9,37.4 298.0,40.6 298.0,40.6 298.1,38.6 298.1,43.7 298.2,37.8 298.3,39.2 298.3,41.8 298.4,36.3 298.5,39.1 298.5,34.7 298.6,37.6 298.6,40.3 298.7,38.4 298.8,42.4 298.8,38.3 298.9,38.6 299.0,40.1 299.0,42.8 299.1,40.0 299.1,41.7 299.2,43.1 299.3,37.6 299.3,39.2 299.4,38.2 299.5,42.6 299.5,38.7 299.6,40.3 299.6,42.1 299.7,37.0 299.8,38.1 299.8,42.1 299.9,38.8 300.0,41.1 300.0,40.7 300.1,39.8 300.2,37.9 300.2,39.4 300.3,41.5 300.3,39.0 300.4,40.3 300.5,43.8 300.5,43.1 300.6,39.4 300.7,40.9 300.7,40.5 300.8,44.6 300.8,39.9 300.9,41.1 301.0,42.6 301.0,37.7 301.1,41.9 301.2,38.4 301.2,40.0 301.3,40.5 301.3,42.1 301.4,43.5 301.5,45.3 301.5,39.1 301.6,40.5 301.7,40.7 301.7,38.8 301.8,39.5 301.9,38.5 301.9,39.0 302.0,43.2 302.0,38.4 302.1,41.3 302.2,39.6 302.2,41.8 302.3,41.8 302.4,41.4 302.4,42.8 302.5,37.6 302.5,42.2 302.6,39.9 302.7,45.4 302.7,38.2 302.8,42.1 302.9,38.8 302.9,38.4 303.0,43.4 303.0,42.8 303.1,38.8 303.2,42.2 303.2,41.8 303.3,39.5M303.8,110.0 303.8,107.8 303.9,112.2 303.9,116.0 303.9,105.7 303.9,110.9 304.0,106.9 304.0,112.5 304.0,108.1 304.0,107.8 304.1,111.2 304.1,104.9 304.1,116.9 304.1,109.3 304.2,111.9 304.2,114.0 304.2,111.1 304.2,117.8 304.3,109.8 304.3,119.3 304.3,110.0 304.3,113.2 304.4,111.6 304.4,112.6 304.4,110.8 304.4,115.4 304.5,114.5 304.5,108.9 304.5,106.5 304.5,112.3 304.6,110.6 304.6,113.4 304.6,113.2 304.6,118.0 304.7,115.0 304.7,111.9 304.7,110.4 304.7,110.7 304.8,114.4 304.8,111.9 304.8,115.1 304.8,117.4 304.9,111.8 304.9,116.1 304.9,111.6 304.9,115.6 305.0,116.4 305.0,116.0 305.0,111.4 305.0,108.8 305.1,117.1 305.1,112.5 305.1,112.5 305.1,104.5 305.2,111.2 305.2,110.6 305.2,109.9 305.2,111.7 305.3,109.3 305.3,115.0 305.3,110.1 305.3,110.4 305.4,116.3 305.4,108.3 305.4,115.8 305.4,111.5 305.5,113.2 305.5,114.3 305.5,114.1 305.5,110.3 305.6,113.0 305.6,109.8 305.6,117.4 305.6,113.1 305.7,123.1 305.7,109.1 305.7,110.8 305.7,114.4 305.8,111.3 305.8,113.5 305.8,111.2 305.8,107.1 305.9,110.9 305.9,112.7 305.9,110.8 305.9,108.3 306.0,114.1 306.0,113.7 306.0,105.9 306.0,111.2 306.1,113.8 306.1,112.5 306.1,111.4 306.1,119.3 306.2,111.5 306.2,108.2 306.2,113.1 306.2,110.8 306.3,111.0 306.3,115.2 306.3,114.9 306.3,111.1 306.4,110.1 306.4,106.9 306.4,104.5 306.5,115.1 306.5,105.3 306.5,108.4 306.5,115.3 306.6,110.2 306.6,112.3 306.6,111.5 306.6,109.7 306.7,108.8 306.7,108.5 306.7,107.7 306.7,110.5 306.8,114.0 306.8,108.1 306.8,112.5 306.8,111.1 306.9,111.6 306.9,111.9 306.9,109.3 306.9,112.5 307.0,116.9 307.0,114.6 307.0,111.3 307.0,112.9 307.1,111.9 307.1,108.1 307.1,111.0 307.1,111.4 307.2,116.3 307.2,116.7 307.2,115.0 307.2,111.7 307.3,113.9 307.3,113.7 307.3,112.8 307.3,107.1 307.4,113.5 307.4,110.8 307.4,112.5 307.4,111.8 307.5,106.0 307.5,110.7 307.5,109.7 307.5,116.5 307.6,114.8 307.6,116.1 307.6,111.6 307.6,104.2 307.7,112.7 307.7,109.5 307.7,115.7 307.7,110.7 307.8,112.4 307.8,108.9 307.8,112.9 307.8,108.8 307.9,110.1 307.9,111.6 307.9,115.6 307.9,113.0 308.0,112.9 308.0,108.1 308.0,111.5 308.0,112.4 308.1,114.6 308.1,114.9 308.1,115.8 308.1,107.6 308.2,104.4 308.2,117.3 308.2,110.0 308.2,115.1 308.3,115.4 308.3,108.9 308.3,109.5 308.3,113.9 308.4,110.4 308.4,108.1 308.4,113.0 308.4,111.5 308.5,113.6 308.5,111.6 308.5,116.1 308.5,108.6 308.6,110.1 308.6,110.8 308.6,110.6 308.6,106.7 308.7,112.6 308.7,113.6 308.7,113.8 308.7,109.0 308.8,111.3 308.8,110.1 308.8,114.5 308.8,104.5 308.9,113.3 308.9,116.7 308.9,120.7 308.9,116.3 309.0,107.9 309.0,112.7" fill="none" stroke="#000" stroke-width="0.7"/>
<path d="M73.30,91.30L73.50,79.20M73.50,79.20L74.10,76.20M89.90,67.10L90.10,70.50M90.10,70.50L90.30,67.10M94.30,67.10L94.50,77.50M99.60,69.10L99.60,110.50M111.50,72.10L111.50,68.50M114.50,68.50L114.80,63.00M143.60,63.30L143.60,59.30M148.90,59.30L148.90,55.20M152.40,55.20L152.40,50.80M155.90,50.80L156.00,40.60M162.30,40.60L163.40,45.20M187.70,45.20L187.80,48.90M220.30,49.90L220.40,53.00M223.40,53.00L223.60,48.40M235.00,48.40L235.10,44.30M251.40,44.30L251.40,47.00M286.80,45.60L286.90,40.30M303.40,40.30L303.40,110.60" fill="none" stroke="#2bea2b" stroke-width="1.1"/>
<text x="521.5" y="20.3" font-size="13.4" text-anchor="middle" font-weight="normal" fill="#000" letter-spacing="0.58" stroke="#000" stroke-width="0.62">10% ADP in ATPγS</text>
<line x1="380.8" y1="134.4" x2="659.6" y2="134.4" stroke="#e0e0e0" stroke-width="0.7" stroke-dasharray="1.3 1.2"/>
<line x1="380.8" y1="127" x2="659.6" y2="127" stroke="#e0e0e0" stroke-width="0.7" stroke-dasharray="1.3 1.2"/>
<line x1="380.8" y1="119.6" x2="659.6" y2="119.6" stroke="#e0e0e0" stroke-width="0.7" stroke-dasharray="1.3 1.2"/>
<line x1="380.8" y1="112.2" x2="659.6" y2="112.2" stroke="#e0e0e0" stroke-width="0.7" stroke-dasharray="1.3 1.2"/>
<line x1="380.8" y1="104.8" x2="659.6" y2="104.8" stroke="#e0e0e0" stroke-width="0.7" stroke-dasharray="1.3 1.2"/>
<line x1="380.8" y1="97.4" x2="659.6" y2="97.4" stroke="#e0e0e0" stroke-width="0.7" stroke-dasharray="1.3 1.2"/>
<line x1="380.8" y1="90" x2="659.6" y2="90" stroke="#e0e0e0" stroke-width="0.7" stroke-dasharray="1.3 1.2"/>
<line x1="380.8" y1="82.6" x2="659.6" y2="82.6" stroke="#e0e0e0" stroke-width="0.7" stroke-dasharray="1.3 1.2"/>
<line x1="380.8" y1="75.2" x2="659.6" y2="75.2" stroke="#e0e0e0" stroke-width="0.7" stroke-dasharray="1.3 1.2"/>
<line x1="380.8" y1="67.8" x2="659.6" y2="67.8" stroke="#e0e0e0" stroke-width="0.7" stroke-dasharray="1.3 1.2"/>
<line x1="380.8" y1="60.4" x2="659.6" y2="60.4" stroke="#e0e0e0" stroke-width="0.7" stroke-dasharray="1.3 1.2"/>
<line x1="380.8" y1="53" x2="659.6" y2="53" stroke="#e0e0e0" stroke-width="0.7" stroke-dasharray="1.3 1.2"/>
<line x1="380.8" y1="45.6" x2="659.6" y2="45.6" stroke="#e0e0e0" stroke-width="0.7" stroke-dasharray="1.3 1.2"/>
<line x1="380.8" y1="38.2" x2="659.6" y2="38.2" stroke="#e0e0e0" stroke-width="0.7" stroke-dasharray="1.3 1.2"/>
<line x1="380.8" y1="30.8" x2="659.6" y2="30.8" stroke="#e0e0e0" stroke-width="0.7" stroke-dasharray="1.3 1.2"/>
<rect x="379.5" y="27.5" width="281" height="109" fill="none" stroke="#555" stroke-width="1"/>
<line x1="375.4" y1="134.5" x2="379.8" y2="134.5" stroke="#555" stroke-width="1"/>
<line x1="375.4" y1="126.5" x2="379.8" y2="126.5" stroke="#555" stroke-width="1"/>
<line x1="375.4" y1="119.5" x2="379.8" y2="119.5" stroke="#555" stroke-width="1"/>
<line x1="375.4" y1="112.5" x2="379.8" y2="112.5" stroke="#555" stroke-width="1"/>
<line x1="375.4" y1="104.5" x2="379.8" y2="104.5" stroke="#555" stroke-width="1"/>
<line x1="375.4" y1="97.5" x2="379.8" y2="97.5" stroke="#555" stroke-width="1"/>
<line x1="375.4" y1="90.5" x2="379.8" y2="90.5" stroke="#555" stroke-width="1"/>
<line x1="375.4" y1="82.5" x2="379.8" y2="82.5" stroke="#555" stroke-width="1"/>
<line x1="375.4" y1="75.5" x2="379.8" y2="75.5" stroke="#555" stroke-width="1"/>
<line x1="375.4" y1="67.5" x2="379.8" y2="67.5" stroke="#555" stroke-width="1"/>
<line x1="375.4" y1="60.5" x2="379.8" y2="60.5" stroke="#555" stroke-width="1"/>
<line x1="375.4" y1="52.5" x2="379.8" y2="52.5" stroke="#555" stroke-width="1"/>
<line x1="375.4" y1="45.5" x2="379.8" y2="45.5" stroke="#555" stroke-width="1"/>
<line x1="375.4" y1="38.5" x2="379.8" y2="38.5" stroke="#555" stroke-width="1"/>
<line x1="375.4" y1="30.5" x2="379.8" y2="30.5" stroke="#555" stroke-width="1"/>
<text x="373.4" y="115.8" font-size="11" text-anchor="end" font-weight="normal" fill="#000" stroke="#000" stroke-width="0.18">0</text>
<text x="373.4" y="101" font-size="11" text-anchor="end" font-weight="normal" fill="#000" stroke="#000" stroke-width="0.18">16</text>
<text x="373.4" y="86.2" font-size="11" text-anchor="end" font-weight="normal" fill="#000" stroke="#000" stroke-width="0.18">32</text>
<text x="373.4" y="71.4" font-size="11" text-anchor="end" font-weight="normal" fill="#000" stroke="#000" stroke-width="0.18">48</text>
<text x="373.4" y="56.6" font-size="11" text-anchor="end" font-weight="normal" fill="#000" stroke="#000" stroke-width="0.18">64</text>
<text x="373.4" y="41.8" font-size="11" text-anchor="end" font-weight="normal" fill="#000" stroke="#000" stroke-width="0.18">80</text>
<line x1="660.6" y1="112.5" x2="664.3" y2="112.5" stroke="#555" stroke-width="1"/>
<text x="666.2" y="115.8" font-size="11" text-anchor="start" font-weight="normal" fill="#000" stroke="#000" stroke-width="0.18">0</text>
<line x1="660.6" y1="83.5" x2="664.3" y2="83.5" stroke="#555" stroke-width="1"/>
<text x="666.2" y="87.3" font-size="11" text-anchor="start" font-weight="normal" fill="#000" stroke="#000" stroke-width="0.18">2</text>
<line x1="660.6" y1="55.5" x2="664.3" y2="55.5" stroke="#555" stroke-width="1"/>
<text x="666.2" y="58.8" font-size="11" text-anchor="start" font-weight="normal" fill="#000" stroke="#000" stroke-width="0.18">4</text>
<line x1="660.6" y1="26.5" x2="664.3" y2="26.5" stroke="#555" stroke-width="1"/>
<text x="666.2" y="30.3" font-size="11" text-anchor="start" font-weight="normal" fill="#000" stroke="#000" stroke-width="0.18">6</text>
<line x1="416.5" y1="137" x2="416.5" y2="141.9" stroke="#555" stroke-width="1"/>
<line x1="441.5" y1="137" x2="441.5" y2="141.9" stroke="#555" stroke-width="1"/>
<line x1="467.5" y1="137" x2="467.5" y2="141.9" stroke="#555" stroke-width="1"/>
<line x1="493.5" y1="137" x2="493.5" y2="141.9" stroke="#555" stroke-width="1"/>
<line x1="519.5" y1="137" x2="519.5" y2="141.9" stroke="#555" stroke-width="1"/>
<line x1="545.5" y1="137" x2="545.5" y2="141.9" stroke="#555" stroke-width="1"/>
<line x1="571.5" y1="137" x2="571.5" y2="141.9" stroke="#555" stroke-width="1"/>
<line x1="596.5" y1="137" x2="596.5" y2="141.9" stroke="#555" stroke-width="1"/>
<line x1="622.5" y1="137" x2="622.5" y2="141.9" stroke="#555" stroke-width="1"/>
<text x="357.7" y="81.8" font-size="12" text-anchor="middle" font-weight="normal" fill="#000" transform="rotate(-90 357.7 81.8)" stroke="#000" stroke-width="0.18">Displacement nm</text>
<text x="682.5" y="79" font-size="12" text-anchor="middle" font-weight="normal" fill="#000" transform="rotate(-90 682.5 79)" stroke="#000" stroke-width="0.18">Load pN</text>
<text x="626.5" y="38.8" font-size="11.6" text-anchor="middle" font-weight="normal" fill="#ff2810" stroke="#ff2810" stroke-width="0.5">B</text>
<line x1="544.6" y1="116.5" x2="571" y2="116.5" stroke="#444" stroke-width="1.1"/>
<line x1="545.5" y1="114" x2="545.5" y2="118.5" stroke="#444" stroke-width="1"/>
<line x1="570.5" y1="114" x2="570.5" y2="118.5" stroke="#444" stroke-width="1"/>
<text x="556.8" y="113.9" font-size="9.8" text-anchor="middle" font-weight="normal" fill="#000" stroke="#000" stroke-width="0.3">1 sec</text>
<path d="M437.20,90.50 L437.40,85.30 L445.00,84.70 L445.20,80.00 L457.90,80.00 L458.00,73.50 L462.60,73.50 L462.70,68.90 L476.30,68.90 L476.40,75.30 L480.40,75.30 L480.60,70.60 L491.60,70.60 L491.80,70.60 L519.70,70.60 L519.80,63.60 L524.40,63.60 L524.50,58.80 L540.50,58.80 L541.00,50.50 L541.50,58.80 L553.20,58.80 L553.70,50.00 L554.20,58.80 L569.90,58.80 L572.70,46.70 L625.80,46.70 L627.50,53.70 L632.00,53.70 L632.10,109.70" fill="none" stroke="#2bea2b" stroke-width="1.15"/>
<path d="M390.3,110.4 390.4,118.5 390.4,108.2 390.5,106.2 390.6,111.7 390.6,105.3 390.7,105.6 390.7,116.0 390.8,103.8 390.9,116.4 390.9,109.0 391.0,106.3 391.1,113.4 391.1,111.6 391.2,124.6 391.2,111.9 391.3,109.2 391.4,115.6 391.4,122.3 391.5,119.9 391.6,115.7 391.6,106.4 391.7,111.9 391.7,110.8 391.8,112.3 391.9,111.8 391.9,110.1 392.0,114.1 392.1,109.5 392.1,111.1 392.2,115.6 392.2,114.4 392.3,109.4 392.4,121.6 392.4,113.0 392.5,108.6 392.6,103.7 392.6,106.7 392.7,106.4 392.7,114.5 392.8,115.8 392.9,106.5 392.9,101.5 393.0,109.8 393.1,105.2 393.1,114.0 393.2,107.5 393.2,110.9 393.3,120.7 393.4,117.0 393.4,108.5 393.5,113.0 393.6,109.9 393.6,109.5 393.7,109.4 393.7,105.3 393.8,113.4 393.9,112.6 393.9,107.2 394.0,103.5 394.1,112.2 394.1,116.0 394.2,115.2 394.2,115.7 394.3,106.9 394.4,107.2 394.4,113.7 394.5,110.6 394.6,107.1 394.6,106.9 394.7,100.5 394.7,111.7 394.8,117.1 394.9,112.9 394.9,110.8 395.0,116.6 395.1,106.3 395.1,111.9 395.2,106.3 395.2,130.2 395.3,110.5 395.4,101.4 395.4,116.7 395.5,107.3 395.6,114.7 395.6,112.4 395.7,112.0 395.7,104.5 395.8,104.3 395.9,113.3 395.9,112.4 396.0,104.2 396.1,110.1 396.1,120.7 396.2,108.2 396.2,109.7 396.3,114.3 396.4,104.0 396.4,111.1 396.5,120.4 396.6,118.0 396.6,116.2 396.7,108.7 396.7,105.4 396.8,105.9 396.9,110.8 396.9,106.1 397.0,100.1 397.1,115.2 397.1,114.9 397.2,107.4 397.2,110.1 397.3,113.1 397.4,107.3 397.4,109.5 397.5,99.5 397.6,92.9 397.6,121.6 397.7,108.1 397.7,104.2 397.8,106.8 397.9,106.1 397.9,107.5 398.0,114.8 398.1,101.8 398.1,112.7 398.2,103.4 398.2,108.5 398.3,106.7 398.4,103.6 398.4,105.3 398.5,102.6 398.6,104.4 398.6,107.8 398.7,109.4 398.7,121.4 398.8,124.5 398.9,100.3 398.9,116.1 399.0,107.7 399.1,101.6 399.1,108.1 399.2,123.7 399.2,104.7 399.3,117.3 399.4,110.2 399.4,103.7 399.5,115.9 399.6,98.2 399.6,102.9 399.7,99.8 399.8,110.9 399.8,105.3 399.9,107.0 399.9,99.2 400.0,106.0 400.1,106.4 400.1,111.1 400.2,105.3 400.3,110.7 400.3,113.0 400.4,108.5 400.4,111.5 400.5,106.4 400.6,111.5 400.6,100.6 400.7,102.5 400.8,97.4 400.8,101.4 400.9,98.2 400.9,107.5 401.0,106.3 401.1,103.7 401.1,116.9 401.2,104.5 401.3,109.1 401.3,111.2 401.4,109.7 401.4,109.6 401.5,112.5 401.6,101.4 401.6,103.2 401.7,100.9 401.8,107.0 401.8,108.7 401.9,105.1 401.9,102.5 402.0,99.8 402.1,110.0 402.1,109.4 402.2,103.6 402.3,106.2 402.3,115.0 402.4,108.3 402.4,112.2 402.5,106.3 402.6,108.3 402.6,108.6 402.7,112.2 402.8,105.4 402.8,115.3 402.9,110.7 402.9,95.8 403.0,112.7 403.1,99.4 403.1,111.6 403.2,112.9 403.3,107.5 403.3,104.3 403.4,103.9 403.4,94.8 403.5,103.0 403.6,100.5 403.6,111.5 403.7,103.9 403.8,107.6 403.8,115.9 403.9,108.0 403.9,109.4 404.0,101.2 404.1,104.6 404.1,99.5 404.2,104.4 404.3,108.7 404.3,105.6 404.4,107.7 404.4,108.0 404.5,103.4 404.6,99.5 404.6,105.7 404.7,97.7 404.8,110.3 404.8,101.1 404.9,106.5 404.9,103.3 405.0,98.0 405.1,101.0 405.1,109.0 405.2,111.7 405.3,108.7 405.3,106.8 405.4,105.0 405.4,102.3 405.5,90.7 405.6,104.1 405.6,99.4 405.7,101.2 405.8,113.4 405.8,99.1 405.9,101.8 405.9,102.1 406.0,113.4 406.1,109.8 406.1,102.7 406.2,100.5 406.3,111.3 406.3,97.0 406.4,109.6 406.4,99.1 406.5,99.9 406.6,102.3 406.6,110.5 406.7,100.3 406.8,107.5 406.8,102.4 406.9,106.9 406.9,99.7 407.0,111.9 407.1,109.0 407.1,102.9 407.2,97.5 407.3,113.1 407.3,109.8 407.4,98.6 407.4,109.5 407.5,107.7 407.6,104.2 407.6,101.9 407.7,96.5 407.8,104.0 407.8,113.0 407.9,108.3 407.9,115.0 408.0,104.6 408.1,99.4 408.1,103.3 408.2,106.0 408.3,105.8 408.3,109.4 408.4,103.6 408.4,108.4 408.5,103.7 408.6,100.6 408.6,101.7 408.7,108.5 408.8,106.1 408.8,99.4 408.9,94.2 409.0,108.0 409.0,99.6 409.1,103.8 409.1,99.6 409.2,109.7 409.3,108.1 409.3,113.2 409.4,99.1 409.5,105.7 409.5,97.2 409.6,100.7 409.6,99.1 409.7,98.1 409.8,94.7 409.8,101.3 409.9,103.6 410.0,109.5 410.0,106.9 410.1,106.6 410.1,112.0 410.2,105.1 410.3,96.0 410.3,106.5 410.4,101.5 410.5,110.0 410.5,112.1 410.6,101.1 410.6,107.0 410.7,107.4 410.8,105.0 410.8,104.0 410.9,103.4 411.0,108.1 411.0,105.0 411.1,102.8 411.1,101.9 411.2,99.0 411.3,97.4 411.3,97.5 411.4,103.9 411.5,105.6 411.5,100.9 411.6,113.7 411.6,104.0 411.7,108.4 411.8,97.0 411.8,106.0 411.9,99.8 412.0,102.5 412.0,95.4 412.1,100.9 412.1,106.0 412.2,94.5 412.3,103.0 412.3,95.8 412.4,101.0 412.5,102.1 412.5,106.2 412.6,99.4 412.6,101.0 412.7,94.9 412.8,97.5 412.8,101.7 412.9,102.9 413.0,102.4 413.0,96.6 413.1,101.7 413.1,108.2 413.2,97.4 413.3,102.2 413.3,102.6 413.4,98.5 413.5,96.7 413.5,94.8 413.6,99.7 413.6,107.7 413.7,107.0 413.8,107.1 413.8,109.3 413.9,101.2 414.0,97.9 414.0,98.9 414.1,103.6 414.1,100.4 414.2,97.8 414.3,105.8 414.3,94.5 414.4,100.0 414.5,99.6 414.5,99.4 414.6,100.9 414.6,103.7 414.7,97.9 414.8,100.3 414.8,100.1 414.9,98.4 415.0,102.1 415.0,103.7 415.1,101.3 415.1,95.4 415.2,102.1 415.3,103.6 415.3,99.1 415.4,102.7 415.5,100.5 415.5,103.6 415.6,99.2 415.6,93.2 415.7,102.3 415.8,98.2 415.8,92.0 415.9,104.0 416.0,95.3 416.0,100.2 416.1,98.9 416.1,108.5 416.2,103.3 416.3,100.2 416.3,98.1 416.4,97.3 416.5,103.1 416.5,105.5 416.6,96.1 416.6,99.8 416.7,102.7 416.8,97.5 416.8,98.6 416.9,99.2 417.0,101.6 417.0,108.1 417.1,106.6 417.1,98.7 417.2,94.9 417.3,103.2 417.3,103.4 417.4,102.7 417.5,98.1 417.5,104.5 417.6,98.4 417.6,102.3 417.7,103.3 417.8,90.5 417.8,105.2 417.9,92.4 418.0,99.7 418.0,103.9 418.1,96.7 418.1,102.8 418.2,97.3 418.3,98.9 418.3,94.5 418.4,100.7 418.5,100.7 418.5,97.5 418.6,102.1 418.7,100.9 418.7,100.6 418.8,87.5 418.8,93.1 418.9,92.7 419.0,101.3 419.0,99.3 419.1,100.7 419.2,99.1 419.2,97.2 419.3,100.6 419.3,92.0 419.4,96.9 419.5,100.1 419.5,99.9 419.6,104.9 419.7,103.3 419.7,104.3 419.8,98.6 419.8,91.6 419.9,102.5 420.0,95.3 420.0,99.2 420.1,93.7 420.2,94.7 420.2,93.8 420.3,94.8 420.3,100.4 420.4,96.4 420.5,99.2 420.5,102.9 420.6,93.8 420.7,96.7 420.7,95.5 420.8,95.8 420.8,101.3 420.9,96.5 421.0,94.5 421.0,100.3 421.1,92.4 421.2,96.4 421.2,94.9 421.3,90.0 421.3,96.4 421.4,97.2 421.5,102.2 421.5,97.6 421.6,100.5 421.7,97.2 421.7,94.2 421.8,96.8 421.8,95.5 421.9,99.0 422.0,102.4 422.0,97.8 422.1,95.9 422.2,100.9 422.2,96.7 422.3,98.9 422.3,94.9 422.4,99.4 422.5,96.5 422.5,99.8 422.6,95.6 422.7,96.0 422.7,90.9 422.8,96.4 422.8,100.1 422.9,95.8 423.0,105.3 423.0,99.5 423.1,91.9 423.2,96.3 423.2,93.6 423.3,101.9 423.3,93.9 423.4,90.8 423.5,94.9 423.5,99.6 423.6,98.0 423.7,98.3 423.7,100.7 423.8,96.5 423.8,88.2 423.9,92.2 424.0,97.6 424.0,105.7 424.1,92.3 424.2,93.2 424.2,91.2 424.3,95.3 424.3,87.5 424.4,101.7 424.5,95.9 424.5,98.5 424.6,93.7 424.7,95.1 424.7,95.2 424.8,98.5 424.8,102.2 424.9,93.6 425.0,87.3 425.0,100.5 425.1,99.5 425.2,99.4 425.2,92.1 425.3,97.8 425.3,100.0 425.4,94.4 425.5,90.6 425.5,97.7 425.6,96.2 425.7,101.0 425.7,96.4 425.8,103.1 425.8,91.1 425.9,92.5 426.0,92.8 426.0,93.3 426.1,98.7 426.2,95.3 426.2,95.1 426.3,93.4 426.3,96.9 426.4,96.0 426.5,92.4 426.5,99.7 426.6,93.6 426.7,90.1 426.7,96.9 426.8,94.8 426.8,93.2 426.9,90.8 427.0,89.7 427.0,92.5 427.1,94.4 427.2,91.3 427.2,94.3 427.3,96.3 427.3,96.9 427.4,97.5 427.5,97.5 427.5,97.6 427.6,97.2 427.7,93.9 427.7,93.1 427.8,93.2 427.9,95.7 427.9,98.8 428.0,92.4 428.0,93.1 428.1,86.7 428.2,93.0 428.2,90.7 428.3,87.4 428.4,98.1 428.4,91.3 428.5,96.2 428.5,87.7 428.6,91.4 428.7,86.6 428.7,101.4 428.8,93.0 428.9,92.2 428.9,94.7 429.0,98.3 429.0,98.0 429.1,96.2 429.2,90.6 429.2,93.4 429.3,93.2 429.4,87.8 429.4,95.5 429.5,100.8 429.5,93.2 429.6,94.4 429.7,82.4 429.7,89.3 429.8,95.8 429.9,94.6 429.9,97.3 430.0,95.6 430.0,96.9 430.1,86.5 430.2,92.7 430.2,92.1 430.3,89.6 430.4,96.0 430.4,92.3 430.5,88.4 430.5,87.7 430.6,97.1 430.7,99.5 430.7,95.8 430.8,95.2 430.9,90.0 430.9,87.7 431.0,88.8 431.0,92.7 431.1,100.4 431.2,96.0 431.2,91.8 431.3,94.3 431.4,96.0 431.4,95.5 431.5,89.4 431.5,86.3 431.6,84.9 431.7,86.2 431.7,87.8 431.8,92.7 431.9,94.2 431.9,91.1 432.0,90.0 432.0,91.9 432.1,98.0 432.2,97.1 432.2,93.6 432.3,92.4 432.4,91.0 432.4,94.4 432.5,89.5 432.5,93.8 432.6,90.1 432.7,95.7 432.7,89.3 432.8,90.4 432.9,95.5 432.9,90.0 433.0,97.8 433.0,92.8 433.1,95.2 433.2,88.0 433.2,88.4 433.3,89.4 433.4,94.0 433.4,96.9 433.5,88.4 433.5,97.8 433.6,90.5 433.7,91.6 433.7,91.4 433.8,93.2 433.9,94.8 433.9,87.7 434.0,91.8 434.0,94.6 434.1,90.5 434.2,85.9 434.2,90.2 434.3,87.1 434.4,93.3 434.4,90.3 434.5,97.3 434.5,88.0 434.6,91.9 434.7,89.5 434.7,94.4 434.8,88.5 434.9,91.3 434.9,86.7 435.0,93.8 435.0,89.6 435.1,92.9 435.2,91.0 435.2,91.3 435.3,93.9 435.4,88.6 435.4,91.3 435.5,87.8 435.5,89.6 435.6,91.1 435.7,90.3 435.7,95.5 435.8,90.7 435.9,88.2 435.9,91.6 436.0,88.1 436.0,92.3 436.1,97.3 436.2,93.0 436.2,89.6 436.3,90.2 436.4,84.6 436.4,91.0 436.5,92.8 436.5,88.0 436.6,94.1 436.7,90.4 436.7,89.1 436.8,90.8" fill="none" stroke="#000" stroke-width="0.6"/>
<path d="M438.0,84.7 438.1,83.5 438.1,85.2 438.2,82.1 438.3,83.5 438.3,80.7 438.4,81.4 438.4,82.8 438.5,84.6 438.6,81.6 438.6,83.9 438.7,83.2 438.8,87.4 438.8,84.8 438.9,84.9 438.9,83.7 439.0,84.7 439.1,84.0 439.1,81.6 439.2,82.6 439.3,82.7 439.3,83.2 439.4,86.7 439.5,84.6 439.5,83.7 439.6,85.2 439.6,81.7 439.7,86.0 439.8,84.8 439.8,82.0 439.9,85.6 440.0,87.8 440.0,85.2 440.1,85.0 440.1,84.8 440.2,89.3 440.3,84.4 440.3,85.2 440.4,83.1 440.5,82.2 440.5,82.4 440.6,84.0 440.6,86.2 440.7,85.1 440.8,86.6 440.8,83.4 440.9,81.7 441.0,82.5 441.0,82.7 441.1,85.2 441.2,84.1 441.2,82.9 441.3,85.8 441.3,84.3 441.4,83.6 441.5,84.5 441.5,88.2 441.6,85.3 441.7,85.4 441.7,83.2 441.8,85.5 441.8,87.2 441.9,88.1 442.0,88.1 442.0,88.3 442.1,88.6 442.2,82.4 442.2,83.2 442.3,84.9 442.4,84.4 442.4,83.8 442.5,81.9 442.5,84.5 442.6,86.1 442.7,88.6 442.7,87.6 442.8,88.7 442.9,86.2 442.9,85.1 443.0,86.2 443.0,84.2 443.1,87.1 443.2,86.3 443.2,86.4 443.3,83.9 443.4,85.5 443.4,82.8 443.5,82.5 443.5,86.1 443.6,88.7 443.7,84.6 443.7,86.6 443.8,85.0 443.9,83.8 443.9,84.9 444.0,86.3 444.1,81.5 444.1,86.8 444.2,81.6 444.2,86.0 444.3,86.9 444.4,83.0 444.4,83.5 444.5,80.0 444.6,83.8 444.6,86.0 444.7,86.3 444.7,83.4 444.8,85.0 444.9,85.8 444.9,83.1 445.0,85.6M445.2,79.8 445.3,82.9 445.3,83.3 445.4,79.4 445.5,80.6 445.5,81.0 445.6,81.9 445.6,79.5 445.7,78.8 445.8,80.4 445.8,78.2 445.9,79.6 446.0,81.7 446.0,79.4 446.1,81.6 446.1,78.9 446.2,81.1 446.3,81.1 446.3,80.8 446.4,80.9 446.5,75.7 446.5,79.4 446.6,80.1 446.6,79.1 446.7,81.6 446.8,78.1 446.8,78.0 446.9,77.4 447.0,79.5 447.0,80.5 447.1,81.9 447.2,80.2 447.2,81.1 447.3,82.1 447.3,80.0 447.4,79.5 447.5,81.0 447.5,82.9 447.6,76.7 447.7,81.2 447.7,79.0 447.8,81.9 447.8,81.3 447.9,81.6 448.0,82.8 448.0,82.3 448.1,79.9 448.2,78.5 448.2,79.4 448.3,81.1 448.3,79.5 448.4,81.8 448.5,82.3 448.5,79.2 448.6,80.6 448.7,82.0 448.7,76.9 448.8,78.0 448.9,84.3 448.9,79.5 449.0,80.6 449.0,81.1 449.1,76.7 449.2,79.5 449.2,82.0 449.3,80.2 449.4,85.0 449.4,80.4 449.5,82.0 449.5,77.4 449.6,80.7 449.7,82.7 449.7,81.3 449.8,79.5 449.9,77.4 449.9,79.0 450.0,79.3 450.0,77.7 450.1,81.9 450.2,76.7 450.2,79.3 450.3,78.2 450.4,78.9 450.4,80.7 450.5,81.3 450.6,80.4 450.6,80.6 450.7,78.6 450.7,78.8 450.8,79.0 450.9,80.7 450.9,83.8 451.0,79.0 451.1,79.9 451.1,83.1 451.2,77.0 451.2,81.3 451.3,81.0 451.4,82.5 451.4,79.0 451.5,81.2 451.6,81.5 451.6,80.9 451.7,81.6 451.7,78.8 451.8,79.2 451.9,83.0 451.9,80.4 452.0,80.7 452.1,80.3 452.1,77.7 452.2,81.5 452.2,78.4 452.3,76.3 452.4,78.6 452.4,76.5 452.5,81.1 452.6,75.4 452.6,80.3 452.7,81.0 452.8,79.6 452.8,81.7 452.9,80.2 452.9,78.3 453.0,80.7 453.1,80.1 453.1,81.4 453.2,78.4 453.3,78.8 453.3,81.3 453.4,84.9 453.4,78.5 453.5,76.6 453.6,81.3 453.6,80.2 453.7,80.7 453.8,80.6 453.8,79.9 453.9,80.3 453.9,80.6 454.0,81.1 454.1,80.4 454.1,78.9 454.2,80.3 454.3,80.5 454.3,78.9 454.4,81.8 454.5,82.0 454.5,81.8 454.6,77.1 454.6,76.9 454.7,85.1 454.8,79.7 454.8,79.3 454.9,78.9 455.0,79.7 455.0,82.6 455.1,80.1 455.1,79.5 455.2,80.6 455.3,79.1 455.3,80.8 455.4,80.8 455.5,79.1 455.5,79.3 455.6,76.1 455.6,80.1 455.7,78.9 455.8,78.5 455.8,79.9 455.9,79.7 456.0,83.5 456.0,77.3 456.1,81.7 456.2,79.8 456.2,79.7 456.3,76.0 456.3,78.3 456.4,80.4 456.5,81.4 456.5,74.4 456.6,76.8 456.7,77.8 456.7,81.5 456.8,77.4 456.8,78.7 456.9,79.9 457.0,80.7 457.0,83.0 457.1,80.5 457.2,80.2 457.2,80.3 457.3,82.7 457.3,81.2 457.4,76.6 457.5,81.6 457.5,77.9 457.6,78.0M458.3,74.7 458.4,70.4 458.4,75.1 458.5,71.8 458.6,73.0 458.6,72.9 458.7,70.4 458.7,71.3 458.8,73.1 458.9,75.6 458.9,73.1 459.0,71.8 459.1,70.5 459.1,73.2 459.2,73.0 459.3,73.6 459.3,70.7 459.4,71.8 459.4,71.7 459.5,72.4 459.6,72.1 459.6,74.4 459.7,70.9 459.8,70.0 459.8,71.1 459.9,73.4 460.0,73.2 460.0,71.8 460.1,74.6 460.1,71.9 460.2,73.7 460.3,69.4 460.3,73.2 460.4,74.2 460.5,75.1 460.5,73.1 460.6,72.0 460.7,70.6 460.7,70.3 460.8,78.8 460.8,76.0 460.9,72.6 461.0,73.6 461.0,71.7 461.1,75.9 461.2,74.0 461.2,74.0 461.3,71.0 461.4,75.0 461.4,71.5 461.5,69.9 461.5,72.4 461.6,73.7 461.7,68.9 461.7,73.4 461.8,74.7 461.9,74.4 461.9,72.9 462.0,72.7 462.1,74.3 462.1,74.0 462.2,75.0 462.2,71.8 462.3,73.7 462.4,73.0 462.4,74.2 462.5,71.7M462.8,71.6 462.9,71.3 462.9,69.7 463.0,69.1 463.1,70.8 463.1,67.5 463.2,68.6 463.2,72.3 463.3,69.0 463.4,71.9 463.4,67.8 463.5,68.3 463.6,66.9 463.6,66.4 463.7,66.9 463.7,69.7 463.8,71.7 463.9,71.5 463.9,67.6 464.0,69.1 464.1,67.0 464.1,71.9 464.2,67.0 464.2,71.0 464.3,67.1 464.4,70.9 464.4,70.5 464.5,69.7 464.6,73.2 464.6,67.3 464.7,68.1 464.8,70.3 464.8,69.9 464.9,67.1 464.9,68.6 465.0,70.2 465.1,66.1 465.1,70.4 465.2,69.2 465.3,65.1 465.3,68.0 465.4,69.2 465.4,68.7 465.5,65.7 465.6,71.7 465.6,68.7 465.7,70.1 465.8,67.6 465.8,68.7 465.9,67.9 465.9,71.8 466.0,71.7 466.1,72.0 466.1,73.5 466.2,66.3 466.3,73.8 466.3,71.2 466.4,69.5 466.4,69.6 466.5,69.3 466.6,70.3 466.6,72.5 466.7,69.9 466.8,71.0 466.8,68.8 466.9,69.4 467.0,72.5 467.0,66.8 467.1,66.5 467.1,68.8 467.2,68.5 467.3,70.8 467.3,70.5 467.4,66.5 467.5,68.0 467.5,75.0 467.6,68.8 467.6,66.2 467.7,69.4 467.8,64.1 467.8,66.8 467.9,70.7 468.0,71.6 468.0,68.1 468.1,71.5 468.1,69.6 468.2,73.1 468.3,69.0 468.3,67.7 468.4,70.0 468.5,67.1 468.5,69.7 468.6,66.9 468.7,65.8 468.7,70.6 468.8,70.4 468.8,72.0 468.9,72.9 469.0,67.8 469.0,65.2 469.1,66.4 469.2,69.8 469.2,73.1 469.3,66.6 469.3,71.2 469.4,67.4 469.5,66.5 469.5,70.3 469.6,68.7 469.7,66.5 469.7,72.4 469.8,62.4 469.8,67.1 469.9,67.7 470.0,68.1 470.0,67.2 470.1,68.6 470.2,68.9 470.2,70.0 470.3,68.3 470.3,69.7 470.4,72.3 470.5,71.2 470.5,63.6 470.6,69.7 470.7,69.3 470.7,74.8 470.8,68.7 470.9,65.7 470.9,67.4 471.0,66.2 471.0,70.4 471.1,66.1 471.2,69.4 471.2,67.2 471.3,72.4 471.4,70.2 471.4,71.4 471.5,73.1 471.5,61.4 471.6,66.6 471.7,70.6 471.7,70.5 471.8,66.5 471.9,69.5 471.9,67.3 472.0,67.2 472.0,67.4 472.1,68.0 472.2,70.3 472.2,69.0 472.3,71.6 472.4,68.5 472.4,70.7 472.5,68.6 472.6,68.3 472.6,69.1 472.7,68.1 472.7,67.6 472.8,68.0 472.9,67.3 472.9,67.2 473.0,68.3 473.1,67.9 473.1,67.8 473.2,65.5 473.2,73.0 473.3,70.8 473.4,67.3 473.4,70.4 473.5,68.5 473.6,72.6 473.6,66.4 473.7,69.2 473.7,66.0 473.8,69.4 473.9,67.0 473.9,71.5 474.0,71.2 474.1,65.6 474.1,67.6 474.2,67.9 474.2,71.2 474.3,72.7 474.4,70.1 474.4,69.6 474.5,72.2 474.6,70.1 474.6,68.9 474.7,68.7 474.8,69.4 474.8,73.3 474.9,70.6 474.9,67.7 475.0,64.9 475.1,67.8 475.1,70.8 475.2,67.6 475.3,66.9 475.3,69.8 475.4,70.2 475.4,67.2 475.5,68.0 475.6,67.2 475.6,72.5 475.7,70.6 475.8,64.0 475.8,70.2 475.9,72.8 475.9,65.8 476.0,70.8 476.1,64.2 476.1,68.8 476.2,69.3M476.6,74.7 476.7,70.4 476.7,70.7 476.8,73.8 476.9,75.5 476.9,74.7 477.0,73.7 477.0,76.0 477.1,74.3 477.2,75.9 477.2,75.0 477.3,71.5 477.4,72.6 477.4,71.9 477.5,73.7 477.6,74.9 477.6,73.0 477.7,69.6 477.7,73.0 477.8,75.1 477.9,74.1 477.9,75.9 478.0,75.7 478.1,75.6 478.1,71.8 478.2,76.4 478.3,74.9 478.3,75.1 478.4,78.6 478.5,74.1 478.5,77.7 478.6,74.1 478.6,75.1 478.7,75.5 478.8,74.4 478.8,76.3 478.9,72.7 479.0,75.6 479.0,77.6 479.1,75.7 479.2,73.5 479.2,77.7 479.3,75.6 479.3,77.0 479.4,76.2 479.5,71.6 479.5,76.1 479.6,71.3 479.7,78.3 479.7,74.9 479.8,75.5 479.9,76.7 479.9,76.5 480.0,75.6 480.0,72.4 480.1,75.8 480.2,76.3 480.2,74.3 480.3,76.6M480.7,69.7 480.8,69.4 480.8,71.2 480.9,72.1 481.0,70.3 481.0,69.1 481.1,68.6 481.1,69.1 481.2,70.1 481.3,70.6 481.3,70.5 481.4,70.1 481.5,73.3 481.5,71.0 481.6,72.5 481.6,72.5 481.7,69.9 481.8,72.6 481.8,68.6 481.9,69.3 482.0,70.2 482.0,70.0 482.1,75.1 482.2,74.1 482.2,70.2 482.3,70.3 482.3,70.9 482.4,73.2 482.5,67.9 482.5,71.6 482.6,69.8 482.7,70.7 482.7,67.1 482.8,70.2 482.9,73.9 482.9,70.5 483.0,71.9 483.0,71.1 483.1,70.9 483.2,68.7 483.2,68.8 483.3,70.5 483.4,70.6 483.4,69.2 483.5,71.8 483.5,69.8 483.6,67.7 483.7,70.1 483.7,72.8 483.8,72.3 483.9,70.1 483.9,69.2 484.0,69.2 484.1,71.5 484.1,72.8 484.2,72.3 484.2,71.5 484.3,71.5 484.4,67.9 484.4,71.5 484.5,72.7 484.6,72.5 484.6,67.9 484.7,73.0 484.7,66.5 484.8,69.4 484.9,68.7 484.9,72.3 485.0,72.7 485.1,70.5 485.1,74.8 485.2,71.0 485.3,73.7 485.3,69.5 485.4,69.0 485.4,67.5 485.5,68.4 485.6,72.0 485.6,70.3 485.7,73.7 485.8,73.1 485.8,70.7 485.9,69.4 486.0,70.2 486.0,68.7 486.1,71.9 486.1,70.6 486.2,69.9 486.3,71.0 486.3,71.8 486.4,72.1 486.5,69.9 486.5,68.3 486.6,73.1 486.6,68.6 486.7,68.7 486.8,69.6 486.8,70.9 486.9,71.7 487.0,71.0 487.0,67.9 487.1,71.2 487.2,72.5 487.2,71.1 487.3,69.2 487.3,72.9 487.4,67.5 487.5,72.4 487.5,69.8 487.6,69.2 487.7,67.8 487.7,73.8 487.8,71.9 487.8,72.0 487.9,72.3 488.0,69.2 488.0,69.4 488.1,71.7 488.2,71.4 488.2,68.4 488.3,70.2 488.4,69.8 488.4,68.6 488.5,70.9 488.5,71.0 488.6,73.5 488.7,69.4 488.7,68.6 488.8,69.6 488.9,73.4 488.9,68.3 489.0,68.4 489.1,71.5 489.1,72.9 489.2,69.1 489.2,69.5 489.3,72.6 489.4,68.5 489.4,70.5 489.5,73.1 489.6,72.9 489.6,70.6 489.7,66.3 489.7,74.0 489.8,67.5 489.9,68.5 489.9,70.1 490.0,68.7M490.0,80.0 490.1,76.7 490.1,78.6 490.2,79.2 490.3,75.3 490.3,73.2 490.4,75.5 490.5,75.3 490.5,77.2 490.6,76.1 490.7,75.4 490.7,74.8 490.8,73.1 490.9,72.7 490.9,75.3 491.0,77.7 491.1,75.9 491.1,78.9 491.2,75.8 491.3,73.3 491.3,75.3 491.4,73.2 491.5,79.3 491.5,79.8 491.6,76.0M492.0,70.1 492.1,71.5 492.1,67.8 492.2,74.6 492.3,69.4 492.3,71.3 492.4,70.7 492.4,70.1 492.5,72.5 492.6,67.2 492.6,72.9 492.7,71.1 492.8,68.5 492.8,70.9 492.9,71.2 492.9,72.7 493.0,70.5 493.1,68.4 493.1,71.5 493.2,72.1 493.3,68.9 493.3,69.7 493.4,66.2 493.4,73.7 493.5,72.2 493.6,71.4 493.6,74.3 493.7,68.7 493.8,67.2 493.8,69.5 493.9,71.6 493.9,71.4 494.0,69.0 494.1,69.0 494.1,68.2 494.2,68.6 494.3,70.9 494.3,71.4 494.4,70.5 494.4,66.6 494.5,73.5 494.6,72.9 494.6,74.8 494.7,68.5 494.8,72.5 494.8,67.9 494.9,68.8 494.9,71.2 495.0,71.4 495.1,66.5 495.1,71.4 495.2,73.5 495.3,70.1 495.3,70.4 495.4,69.9 495.4,69.5 495.5,68.0 495.6,71.7 495.6,71.1 495.7,70.3 495.8,71.2 495.8,65.8 495.9,67.3 495.9,70.7 496.0,71.3 496.1,66.4 496.1,70.2 496.2,73.0 496.3,72.2 496.3,69.2 496.4,70.3 496.4,71.3 496.5,68.3 496.6,71.5 496.6,72.5 496.7,73.0 496.8,72.1 496.8,71.3 496.9,65.3 496.9,71.0 497.0,71.5 497.1,69.2 497.1,67.7 497.2,68.2 497.3,70.2 497.3,71.2 497.4,70.5 497.4,68.5 497.5,69.2 497.6,74.0 497.6,72.7 497.7,72.0 497.8,73.7 497.8,69.7 497.9,70.7 498.0,68.5 498.0,71.1 498.1,69.2 498.1,68.2 498.2,69.7 498.3,72.7 498.3,73.1 498.4,70.8 498.5,70.0 498.5,69.2 498.6,69.4 498.6,70.7 498.7,71.5 498.8,71.0 498.8,72.4 498.9,68.5 499.0,68.0 499.0,68.6 499.1,68.4 499.1,66.6 499.2,73.7 499.3,73.6 499.3,72.8 499.4,70.3 499.5,69.8 499.5,72.7 499.6,71.7 499.6,71.9 499.7,71.8 499.8,70.5 499.8,73.3 499.9,71.9 500.0,67.3 500.0,72.4 500.1,71.5 500.1,72.4 500.2,68.7 500.3,66.5 500.3,70.6 500.4,65.3 500.5,71.4 500.5,67.6 500.6,68.5 500.6,71.4 500.7,73.3 500.8,69.7 500.8,67.3 500.9,68.4 501.0,70.7 501.0,68.5 501.1,68.2 501.1,69.3 501.2,74.7 501.3,70.5 501.3,69.0 501.4,70.8 501.5,70.4 501.5,72.5 501.6,67.0 501.6,73.3 501.7,71.6 501.8,71.2 501.8,70.0 501.9,68.5 502.0,73.2 502.0,72.2 502.1,68.3 502.1,71.1 502.2,68.6 502.3,71.5 502.3,69.8 502.4,73.2 502.5,71.9 502.5,75.8 502.6,70.2 502.6,71.0 502.7,72.1 502.8,67.7 502.8,70.6 502.9,75.2 503.0,72.0 503.0,72.3 503.1,71.4 503.2,73.3 503.2,71.5 503.3,75.3 503.3,68.7 503.4,69.7 503.5,70.4 503.5,70.3 503.6,67.7 503.7,74.7 503.7,68.9 503.8,70.9 503.8,72.6 503.9,69.9 504.0,71.9 504.0,68.9 504.1,70.9 504.2,72.5 504.2,70.5 504.3,70.0 504.3,73.2 504.4,68.1 504.5,73.3 504.5,72.0 504.6,71.9 504.7,68.7 504.7,72.9 504.8,68.8 504.8,70.1 504.9,69.6 505.0,73.1 505.0,72.3 505.1,72.2 505.2,70.1 505.2,73.2 505.3,76.5 505.3,69.2 505.4,74.9 505.5,71.1 505.5,71.7 505.6,70.4 505.7,70.0 505.7,70.5 505.8,70.0 505.8,70.0 505.9,72.6 506.0,74.5 506.0,65.0 506.1,72.2 506.2,72.7 506.2,69.7 506.3,64.3 506.3,68.4 506.4,72.6 506.5,75.6 506.5,67.9 506.6,68.3 506.7,72.2 506.7,72.2 506.8,69.1 506.8,73.0 506.9,70.3 507.0,70.7 507.0,71.2 507.1,70.6 507.2,66.9 507.2,67.5 507.3,66.8 507.3,71.7 507.4,71.0 507.5,70.0 507.5,71.1 507.6,71.7 507.7,69.6 507.7,70.8 507.8,72.4 507.8,70.2 507.9,73.1 508.0,70.1 508.0,69.1 508.1,70.4 508.2,73.8 508.2,70.4 508.3,68.8 508.3,70.8 508.4,70.6 508.5,70.1 508.5,72.7 508.6,71.6 508.7,73.0 508.7,71.8 508.8,69.5 508.9,69.6 508.9,68.8 509.0,69.7 509.0,70.6 509.1,68.7 509.2,74.1 509.2,69.7 509.3,71.1 509.4,72.5 509.4,76.5 509.5,71.7 509.5,67.8 509.6,69.4 509.7,70.0 509.7,71.3 509.8,74.1 509.9,72.8 509.9,70.2 510.0,67.9 510.0,74.2 510.1,69.9 510.2,72.3 510.2,69.5 510.3,72.3 510.4,70.2 510.4,69.6 510.5,69.4 510.5,76.5 510.6,69.3 510.7,71.8 510.7,65.4 510.8,68.4 510.9,68.2 510.9,70.2 511.0,71.4 511.0,71.4 511.1,70.8 511.2,72.0 511.2,74.6 511.3,69.0 511.4,70.4 511.4,75.3 511.5,72.0 511.5,74.1 511.6,71.4 511.7,69.9 511.7,73.6 511.8,68.4 511.9,68.5 511.9,72.3 512.0,72.1 512.0,73.4 512.1,72.1 512.2,72.3 512.2,73.0 512.3,69.7 512.4,70.0 512.4,69.7 512.5,69.8 512.5,69.4 512.6,73.6 512.7,67.9 512.7,72.3 512.8,72.5 512.9,68.5 512.9,72.1 513.0,67.1 513.0,69.2 513.1,69.8 513.2,71.0 513.2,74.9 513.3,70.3 513.4,73.6 513.4,74.5 513.5,70.8 513.5,71.1 513.6,69.5 513.7,69.8 513.7,66.9 513.8,68.4 513.9,74.3 513.9,69.0 514.0,68.7 514.1,71.2 514.1,73.6 514.2,73.4 514.2,73.7 514.3,66.5 514.4,68.9 514.4,68.8 514.5,74.3 514.6,71.4 514.6,71.5 514.7,75.5 514.7,71.2 514.8,70.9 514.9,71.7 514.9,67.4 515.0,73.0 515.1,68.4 515.1,70.2 515.2,72.6 515.2,71.4 515.3,70.3 515.4,72.8 515.4,69.9 515.5,68.7 515.6,71.1 515.6,72.2 515.7,70.5 515.7,72.6 515.8,68.5 515.9,72.0 515.9,71.4 516.0,72.0 516.1,73.9 516.1,67.5 516.2,71.3 516.2,69.9 516.3,68.7 516.4,71.8 516.4,69.4 516.5,70.6 516.6,74.3 516.6,66.8 516.7,72.7 516.7,71.3 516.8,70.4 516.9,71.1 516.9,70.5 517.0,71.7 517.1,68.2 517.1,74.4 517.2,69.2 517.2,69.3 517.3,69.5 517.4,72.8 517.4,72.5 517.5,72.9 517.6,68.2 517.6,70.4 517.7,67.2 517.7,68.1 517.8,64.1 517.9,75.2 517.9,73.4 518.0,68.3 518.1,69.6 518.1,68.0 518.2,68.7 518.2,72.3 518.3,71.9 518.4,68.4 518.4,71.2 518.5,69.8 518.6,71.8 518.6,66.4 518.7,72.6 518.7,70.0 518.8,70.0 518.9,70.8 518.9,71.4 519.0,71.9 519.1,72.6 519.1,71.4 519.2,71.8 519.2,69.7 519.3,72.3 519.4,69.0 519.4,73.7 519.5,69.3M520.1,68.0 520.2,62.0 520.2,62.2 520.3,62.7 520.4,65.4 520.4,62.0 520.5,61.6 520.5,61.9 520.6,62.1 520.7,65.4 520.7,67.6 520.8,68.6 520.9,59.5 520.9,61.1 521.0,63.1 521.1,64.2 521.1,60.7 521.2,67.0 521.2,62.6 521.3,62.0 521.4,64.4 521.4,66.7 521.5,65.9 521.6,60.6 521.6,65.7 521.7,63.7 521.8,63.9 521.8,62.1 521.9,63.8 521.9,64.4 522.0,62.0 522.1,64.8 522.1,63.1 522.2,64.3 522.3,63.5 522.3,63.6 522.4,65.0 522.5,64.8 522.5,63.4 522.6,66.1 522.6,63.7 522.7,63.4 522.8,64.8 522.8,64.1 522.9,62.5 523.0,65.6 523.0,64.2 523.1,62.4 523.2,65.2 523.2,65.9 523.3,62.7 523.3,65.6 523.4,61.5 523.5,62.1 523.5,66.1 523.6,60.9 523.7,63.1 523.7,64.2 523.8,64.0 523.9,64.9 523.9,63.7 524.0,65.8 524.0,63.3 524.1,62.0 524.2,64.0 524.2,63.6 524.3,62.3M524.7,57.3 524.8,61.4 524.8,60.9 524.9,60.1 525.0,62.1 525.0,57.8 525.1,57.0 525.1,60.6 525.2,60.9 525.3,61.5 525.3,55.5 525.4,56.7 525.5,57.3 525.5,59.6 525.6,60.8 525.6,60.8 525.7,61.8 525.8,52.3 525.8,58.7 525.9,60.9 526.0,56.5 526.0,62.2 526.1,59.5 526.1,55.6 526.2,60.1 526.3,54.4 526.3,57.9 526.4,57.1 526.5,57.1 526.5,59.8 526.6,56.7 526.6,59.5 526.7,59.7 526.8,58.5 526.8,57.2 526.9,60.0 527.0,57.1 527.0,60.0 527.1,61.6 527.1,58.8 527.2,60.7 527.3,55.5 527.3,60.6 527.4,56.5 527.5,59.4 527.5,58.6 527.6,55.2 527.6,57.6 527.7,59.6 527.8,62.4 527.8,59.2 527.9,56.7 528.0,58.2 528.0,58.7 528.1,61.8 528.1,58.5 528.2,58.2 528.3,61.2 528.3,61.2 528.4,59.0 528.5,56.2 528.5,58.3 528.6,57.6 528.6,56.0 528.7,61.4 528.8,63.0 528.8,55.7 528.9,58.4 529.0,59.2 529.0,59.7 529.1,58.0 529.1,55.3 529.2,61.2 529.3,55.5 529.3,58.4 529.4,60.6 529.5,61.3 529.5,58.2 529.6,57.5 529.6,58.9 529.7,60.1 529.8,59.3 529.8,59.0 529.9,58.3 530.0,58.2 530.0,58.2 530.1,56.2 530.1,60.1 530.2,59.8 530.3,59.2 530.3,58.1 530.4,57.4 530.5,59.9 530.5,58.0 530.6,60.9 530.6,59.5 530.7,58.2 530.8,60.0 530.8,58.7 530.9,59.0 531.0,60.9 531.0,56.4 531.1,58.9 531.1,64.9 531.2,61.3 531.3,60.9 531.3,57.8 531.4,59.1 531.5,57.8 531.5,59.2 531.6,56.2 531.6,59.8 531.7,59.9 531.8,57.2 531.8,57.4 531.9,57.5 532.0,60.7 532.0,54.5 532.1,56.6 532.1,60.0 532.2,57.9 532.3,58.3 532.3,60.8 532.4,58.8 532.5,56.1 532.5,55.2 532.6,55.2 532.7,57.8 532.7,58.3 532.8,58.2 532.8,61.4 532.9,61.8 533.0,56.9 533.0,60.5 533.1,57.3 533.2,60.7 533.2,60.0 533.3,59.8 533.3,59.5 533.4,59.7 533.5,62.3 533.5,60.9 533.6,61.2 533.7,54.3 533.7,58.9 533.8,60.2 533.8,57.7 533.9,58.5 534.0,53.6 534.0,58.4 534.1,60.7 534.2,61.8 534.2,59.1 534.3,56.6 534.3,57.7 534.4,60.4 534.5,57.0 534.5,58.5 534.6,56.6 534.7,57.0 534.7,58.0 534.8,60.8 534.8,59.1 534.9,58.0 535.0,57.2 535.0,57.6 535.1,58.7 535.2,58.6 535.2,57.0 535.3,55.5 535.3,58.2 535.4,58.4 535.5,56.9 535.5,63.9 535.6,59.0 535.7,56.5 535.7,59.2 535.8,60.5 535.8,58.5 535.9,58.9 536.0,58.2 536.0,62.1 536.1,59.6 536.2,53.7 536.2,55.8 536.3,58.7 536.3,58.4 536.4,60.1 536.5,59.9 536.5,61.9 536.6,55.2 536.7,58.8 536.7,57.4 536.8,59.3 536.8,60.5 536.9,60.9 537.0,60.7 537.0,58.4 537.1,55.9 537.2,60.4 537.2,58.9 537.3,55.2 537.3,57.1 537.4,59.4 537.5,59.9 537.5,58.3 537.6,58.6 537.7,57.8 537.7,61.5 537.8,58.3 537.8,57.2 537.9,61.9 538.0,61.6 538.0,61.4 538.1,59.1 538.2,62.5 538.2,59.3 538.3,56.9 538.3,57.2 538.4,57.8 538.5,60.5 538.5,59.7 538.6,62.0 538.7,61.4 538.7,59.2 538.8,56.0 538.8,59.1 538.9,57.5 539.0,60.1 539.0,57.6 539.1,56.5 539.2,61.2 539.2,57.6 539.3,58.2 539.3,61.4 539.4,59.9 539.5,62.1 539.5,57.2 539.6,56.2 539.7,61.0 539.7,56.5 539.8,59.1 539.9,57.3 539.9,59.7 540.0,62.1 540.0,59.4 540.1,58.7 540.2,60.9 540.2,58.5 540.3,57.3 540.4,58.3 540.4,57.6 540.5,58.0 540.5,55.2 540.6,58.2 540.7,59.7 540.7,54.7 540.8,63.1 540.9,58.9 540.9,58.3 541.0,58.4 541.0,58.1 541.1,61.2 541.2,58.4 541.2,57.7 541.3,58.9 541.4,57.5 541.4,59.5 541.5,57.0 541.5,56.1 541.6,56.9 541.7,61.0 541.7,56.6 541.8,58.9 541.9,55.3 541.9,59.0 542.0,58.8 542.0,57.3 542.1,60.6 542.2,57.7 542.2,59.0 542.3,59.6 542.4,56.5 542.4,57.4 542.5,60.4 542.5,54.8 542.6,60.2 542.7,59.2 542.7,59.7 542.8,58.6 542.9,57.8 542.9,57.6 543.0,58.3 543.0,55.5 543.1,59.8 543.2,59.8 543.2,63.5 543.3,58.6 543.4,56.9 543.4,58.2 543.5,58.8 543.5,53.6 543.6,59.9 543.7,58.8 543.7,60.3 543.8,60.8 543.9,62.5 543.9,60.2 544.0,57.2 544.0,60.4 544.1,61.3 544.2,58.0 544.2,58.6 544.3,60.4 544.4,60.1 544.4,59.7 544.5,58.9 544.5,63.5 544.6,56.4 544.7,58.8 544.7,57.7 544.8,59.0 544.9,59.6 544.9,60.1 545.0,57.4 545.0,60.1 545.1,59.7 545.2,54.9 545.2,58.2 545.3,60.4 545.4,56.5 545.4,57.1 545.5,61.9 545.5,57.8 545.6,61.3 545.7,58.2 545.7,58.4 545.8,59.0 545.9,58.2 545.9,56.1 546.0,56.9 546.0,55.6 546.1,58.8 546.2,58.6 546.2,54.5 546.3,59.9 546.4,58.7 546.4,59.6 546.5,58.4 546.5,58.0 546.6,60.7 546.7,57.7 546.7,59.7 546.8,58.4 546.9,58.7 546.9,60.0 547.0,57.0 547.0,60.4 547.1,60.0 547.2,58.2 547.2,62.0 547.3,55.0 547.4,58.5 547.4,58.3 547.5,59.4 547.6,63.4 547.6,63.2 547.7,57.3 547.7,57.6 547.8,59.3 547.9,57.3 547.9,62.9 548.0,60.0 548.1,56.4 548.1,58.7 548.2,55.4 548.2,61.4 548.3,56.2 548.4,60.7 548.4,56.4 548.5,56.7 548.6,57.8 548.6,55.7 548.7,59.3 548.7,60.2 548.8,58.4 548.9,56.3 548.9,60.7 549.0,58.2 549.1,59.8 549.1,60.3 549.2,57.4 549.2,60.8 549.3,58.9 549.4,58.5 549.4,55.8 549.5,56.3 549.6,57.9 549.6,58.5 549.7,56.9 549.7,58.4 549.8,57.4 549.9,55.3 549.9,58.8 550.0,56.3 550.1,58.1 550.1,62.6 550.2,58.1 550.2,56.6 550.3,55.8 550.4,53.3 550.4,58.5 550.5,60.0 550.6,56.4 550.6,60.4 550.7,57.1 550.7,56.5 550.8,58.3 550.9,57.2 550.9,56.7 551.0,62.5 551.1,58.5 551.1,59.1 551.2,59.7 551.2,58.7 551.3,60.7 551.4,57.9 551.4,59.0 551.5,57.9 551.6,58.1 551.6,58.5 551.7,60.9 551.7,59.8 551.8,60.2 551.9,56.5 551.9,61.5 552.0,62.7 552.1,51.9 552.1,60.0 552.2,56.1 552.2,57.9 552.3,53.6 552.4,58.0 552.4,59.7 552.5,60.2 552.6,61.6 552.6,60.0 552.7,56.7 552.7,58.1 552.8,56.7 552.9,59.0 552.9,60.4 553.0,59.2 553.1,57.5 553.1,63.8 553.2,59.1 553.2,59.6 553.3,58.1 553.4,58.5 553.4,61.6 553.5,59.7 553.6,59.8 553.6,59.7 553.7,60.8 553.7,58.4 553.8,60.6 553.9,57.4 553.9,54.6 554.0,58.6 554.1,58.0 554.1,57.8 554.2,60.6 554.2,57.2 554.3,62.0 554.4,59.6 554.4,58.4 554.5,58.7 554.6,58.3 554.6,64.7 554.7,60.1 554.7,59.1 554.8,60.4 554.9,57.9 554.9,61.3 555.0,59.4 555.1,57.6 555.1,62.1 555.2,56.2 555.3,55.3 555.3,60.0 555.4,63.2 555.4,54.3 555.5,56.9 555.6,59.0 555.6,56.5 555.7,62.6 555.8,62.5 555.8,59.9 555.9,59.1 555.9,55.7 556.0,60.3 556.1,58.3 556.1,59.3 556.2,58.4 556.3,59.1 556.3,56.8 556.4,56.2 556.4,59.1 556.5,60.0 556.6,59.4 556.6,56.8 556.7,58.1 556.8,58.8 556.8,60.0 556.9,53.7 556.9,61.4 557.0,57.4 557.1,63.7 557.1,57.3 557.2,62.2 557.3,54.3 557.3,57.9 557.4,57.5 557.4,60.3 557.5,61.1 557.6,60.5 557.6,58.7 557.7,60.3 557.8,61.0 557.8,57.8 557.9,56.7 557.9,57.0 558.0,57.8 558.1,57.0 558.1,61.1 558.2,50.3 558.3,57.2 558.3,60.3 558.4,62.7 558.4,58.3 558.5,61.7 558.6,59.8 558.6,56.5 558.7,55.5 558.8,57.8 558.8,60.4 558.9,56.3 558.9,59.5 559.0,58.1 559.1,58.0 559.1,58.0 559.2,58.5 559.3,59.3 559.3,58.6 559.4,57.0 559.4,59.5 559.5,58.9 559.6,63.3 559.6,55.3 559.7,59.7 559.8,58.0 559.8,60.7 559.9,61.1 559.9,60.8 560.0,59.1 560.1,60.3 560.1,56.3 560.2,59.5 560.3,57.8 560.3,54.2 560.4,59.3 560.4,60.9 560.5,59.4 560.6,56.2 560.6,57.8 560.7,58.2 560.8,60.4 560.8,57.9 560.9,61.9 560.9,55.8 561.0,58.7 561.1,56.6 561.1,58.6 561.2,59.8 561.3,59.2 561.3,61.8 561.4,56.5 561.4,60.1 561.5,58.0 561.6,59.7 561.6,59.2 561.7,61.5 561.8,59.3 561.8,59.0 561.9,58.3 561.9,61.2 562.0,57.4 562.1,59.0 562.1,60.6 562.2,58.2 562.3,58.3 562.3,58.6 562.4,59.7 562.5,59.1 562.5,57.4 562.6,58.2 562.6,58.6 562.7,61.0 562.8,57.8 562.8,59.1 562.9,58.7 563.0,55.3 563.0,58.7 563.1,55.2 563.1,61.5 563.2,56.7 563.3,61.3 563.3,54.9 563.4,59.7 563.5,55.8 563.5,58.0 563.6,61.8 563.6,61.1 563.7,61.8 563.8,58.1 563.8,58.7 563.9,60.4 564.0,56.8 564.0,62.7 564.1,63.3 564.1,61.7 564.2,54.6 564.3,62.8 564.3,64.0 564.4,59.9 564.5,57.7 564.5,52.6 564.6,59.9 564.6,58.2 564.7,60.1 564.8,56.2 564.8,59.0 564.9,56.7 565.0,60.0 565.0,60.9 565.1,57.1 565.1,59.7 565.2,60.3 565.3,61.3 565.3,57.3 565.4,59.2 565.5,56.2 565.5,58.9 565.6,53.6 565.6,63.2 565.7,56.7 565.8,56.0 565.8,58.1 565.9,59.5 566.0,53.5 566.0,61.9 566.1,55.7 566.1,56.9 566.2,55.6 566.3,58.6 566.3,58.4 566.4,57.7 566.5,58.7 566.5,59.5 566.6,57.1 566.6,60.9 566.7,60.0 566.8,60.1 566.8,59.0 566.9,60.1 567.0,56.1 567.0,59.1 567.1,56.2 567.1,61.0 567.2,59.1 567.3,56.6 567.3,62.3 567.4,60.3 567.5,60.4 567.5,58.6 567.6,57.2 567.6,59.5 567.7,57.5 567.8,63.7 567.8,57.5 567.9,57.1 568.0,57.7 568.0,56.2 568.1,59.1 568.1,58.9 568.2,60.2 568.3,57.7 568.3,56.2 568.4,59.8 568.5,58.7 568.5,60.6 568.6,57.9 568.6,58.5 568.7,59.6 568.8,59.3 568.8,58.0 568.9,60.1 569.0,57.0 569.0,56.9 569.1,59.5 569.1,60.6 569.2,58.6 569.3,58.4 569.3,59.4 569.4,61.6 569.5,58.4 569.5,58.6 569.6,59.3 569.6,57.0 569.7,62.3 569.8,58.5 569.8,59.5 569.9,59.6M572.8,44.9 572.9,46.1 572.9,43.6 573.0,44.6 573.1,47.2 573.1,47.8 573.2,45.2 573.2,44.5 573.3,49.5 573.4,45.5 573.4,43.9 573.5,47.9 573.6,48.9 573.6,46.3 573.7,43.0 573.7,46.1 573.8,45.4 573.9,49.6 573.9,42.7 574.0,45.4 574.1,48.3 574.1,47.8 574.2,46.3 574.2,50.1 574.3,45.0 574.4,46.5 574.4,48.6 574.5,47.3 574.6,45.0 574.6,47.1 574.7,43.7 574.7,45.7 574.8,46.5 574.9,44.2 574.9,44.5 575.0,46.5 575.1,46.7 575.1,47.1 575.2,45.2 575.2,45.3 575.3,44.7 575.4,46.4 575.4,51.4 575.5,46.4 575.6,46.3 575.6,47.3 575.7,47.6 575.7,48.4 575.8,43.7 575.9,42.4 575.9,47.7 576.0,45.6 576.1,46.0 576.1,49.2 576.2,45.9 576.2,49.9 576.3,47.0 576.4,47.4 576.4,47.7 576.5,46.6 576.6,43.2 576.6,45.1 576.7,49.0 576.7,44.3 576.8,49.7 576.9,49.7 576.9,46.7 577.0,45.0 577.1,49.6 577.1,42.5 577.2,45.0 577.2,47.9 577.3,47.8 577.4,48.9 577.4,46.2 577.5,46.7 577.6,47.1 577.6,43.4 577.7,46.8 577.7,51.9 577.8,49.9 577.9,48.8 577.9,47.2 578.0,46.9 578.1,42.9 578.1,47.0 578.2,45.9 578.2,47.2 578.3,47.7 578.4,45.9 578.4,49.5 578.5,48.6 578.6,43.8 578.6,45.0 578.7,49.5 578.7,47.3 578.8,45.4 578.9,46.8 578.9,44.0 579.0,45.7 579.1,50.1 579.1,50.9 579.2,48.2 579.2,47.5 579.3,45.1 579.4,52.0 579.4,43.7 579.5,47.9 579.6,48.1 579.6,46.3 579.7,45.0 579.7,48.0 579.8,46.7 579.9,44.4 579.9,47.6 580.0,44.9 580.1,45.8 580.1,46.9 580.2,45.5 580.2,46.9 580.3,46.6 580.4,46.3 580.4,45.2 580.5,47.5 580.6,47.2 580.6,42.1 580.7,49.6 580.7,45.3 580.8,44.2 580.9,45.9 580.9,45.6 581.0,45.3 581.1,47.7 581.1,45.6 581.2,49.2 581.2,44.1 581.3,47.9 581.4,44.9 581.4,43.6 581.5,45.5 581.6,50.4 581.6,48.1 581.7,46.4 581.7,42.0 581.8,48.6 581.9,46.3 581.9,45.0 582.0,48.4 582.1,47.0 582.1,50.6 582.2,46.5 582.2,44.3 582.3,44.1 582.4,48.5 582.4,46.1 582.5,48.9 582.6,48.6 582.6,50.3 582.7,46.2 582.7,48.8 582.8,47.4 582.9,47.7 582.9,48.3 583.0,46.4 583.1,47.4 583.1,45.3 583.2,45.5 583.2,44.8 583.3,46.0 583.4,44.4 583.4,48.0 583.5,50.7 583.6,49.0 583.6,47.4 583.7,49.6 583.8,45.5 583.8,47.5 583.9,48.1 583.9,47.3 584.0,47.3 584.1,48.5 584.1,45.6 584.2,43.1 584.3,46.5 584.3,46.5 584.4,45.9 584.4,44.9 584.5,48.3 584.6,46.4 584.6,46.2 584.7,47.9 584.8,51.7 584.8,47.1 584.9,49.3 584.9,43.5 585.0,46.8 585.1,48.6 585.1,48.1 585.2,44.0 585.3,44.0 585.3,47.1 585.4,48.9 585.4,45.2 585.5,44.4 585.6,42.8 585.6,49.4 585.7,45.8 585.8,46.3 585.8,46.2 585.9,42.2 585.9,45.5 586.0,47.3 586.1,47.8 586.1,44.6 586.2,50.9 586.3,47.7 586.3,49.0 586.4,44.4 586.4,44.8 586.5,47.7 586.6,48.4 586.6,48.9 586.7,46.0 586.8,48.9 586.8,46.2 586.9,46.4 586.9,48.3 587.0,45.3 587.1,45.1 587.1,48.3 587.2,47.4 587.3,47.4 587.3,43.5 587.4,47.2 587.4,46.9 587.5,45.6 587.6,45.6 587.6,52.4 587.7,44.4 587.8,49.0 587.8,43.7 587.9,51.4 587.9,45.3 588.0,50.7 588.1,45.5 588.1,47.0 588.2,49.0 588.3,55.0 588.3,48.5 588.4,48.4 588.4,46.8 588.5,48.6 588.6,47.9 588.6,47.9 588.7,48.0 588.8,44.7 588.8,50.5 588.9,47.1 588.9,47.3 589.0,45.4 589.1,45.7 589.1,48.8 589.2,44.4 589.3,50.7 589.3,45.5 589.4,48.3 589.4,44.9 589.5,46.8 589.6,47.1 589.6,48.6 589.7,47.9 589.8,39.8 589.8,45.7 589.9,49.6 589.9,51.0 590.0,49.8 590.1,43.4 590.1,47.4 590.2,49.8 590.3,45.6 590.3,43.0 590.4,46.0 590.4,47.4 590.5,45.5 590.6,50.7 590.6,44.7 590.7,43.5 590.8,44.0 590.8,48.9 590.9,46.3 590.9,50.7 591.0,45.0 591.1,49.5 591.1,43.7 591.2,48.4 591.3,45.7 591.3,48.9 591.4,45.8 591.4,45.7 591.5,46.2 591.6,47.8 591.6,47.9 591.7,48.0 591.8,50.9 591.8,44.1 591.9,45.4 591.9,45.1 592.0,51.4 592.1,45.6 592.1,43.0 592.2,38.2 592.3,48.5 592.3,44.8 592.4,47.7 592.4,44.8 592.5,47.5 592.6,43.9 592.6,48.4 592.7,44.2 592.8,50.3 592.8,47.3 592.9,50.6 592.9,47.9 593.0,47.9 593.1,46.1 593.1,49.5 593.2,43.8 593.3,48.9 593.3,49.7 593.4,48.4 593.4,47.1 593.5,43.6 593.6,46.8 593.6,46.4 593.7,48.0 593.8,46.0 593.8,48.2 593.9,47.9 593.9,48.6 594.0,46.3 594.1,47.2 594.1,46.6 594.2,41.8 594.3,44.5 594.3,42.3 594.4,48.1 594.5,47.8 594.5,44.2 594.6,49.0 594.6,45.8 594.7,46.5 594.8,47.3 594.8,45.5 594.9,47.0 595.0,46.0 595.0,47.2 595.1,43.7 595.1,48.3 595.2,45.5 595.3,44.6 595.3,50.1 595.4,45.1 595.5,48.9 595.5,48.5 595.6,47.4 595.6,47.5 595.7,44.4 595.8,46.5 595.8,44.7 595.9,45.0 596.0,48.4 596.0,47.2 596.1,44.7 596.1,50.4 596.2,47.5 596.3,42.2 596.3,46.5 596.4,49.0 596.5,47.5 596.5,45.5 596.6,45.8 596.6,45.6 596.7,44.4 596.8,48.5 596.8,46.4 596.9,47.7 597.0,51.4 597.0,44.9 597.1,48.3 597.1,46.6 597.2,49.7 597.3,45.5 597.3,48.8 597.4,47.5 597.5,48.3 597.5,50.6 597.6,48.3 597.6,45.4 597.7,49.5 597.8,47.5 597.8,45.5 597.9,48.2 598.0,46.5 598.0,49.4 598.1,45.7 598.1,46.1 598.2,44.6 598.3,48.0 598.3,42.0 598.4,47.4 598.5,47.9 598.5,45.2 598.6,47.1 598.6,47.5 598.7,46.2 598.8,43.6 598.8,48.8 598.9,45.6 599.0,46.6 599.0,48.5 599.1,50.5 599.1,45.0 599.2,47.1 599.3,47.2 599.3,46.6 599.4,44.7 599.5,46.6 599.5,48.6 599.6,45.0 599.6,46.7 599.7,47.3 599.8,47.0 599.8,44.6 599.9,46.2 600.0,47.9 600.0,44.5 600.1,45.8 600.1,45.5 600.2,51.5 600.3,44.3 600.3,46.0 600.4,43.5 600.5,46.8 600.5,46.5 600.6,50.0 600.6,48.5 600.7,48.4 600.8,47.6 600.8,45.0 600.9,47.2 601.0,46.3 601.0,44.2 601.1,46.1 601.1,45.9 601.2,43.1 601.3,44.8 601.3,43.9 601.4,45.5 601.5,44.0 601.5,47.3 601.6,44.8 601.6,42.7 601.7,51.3 601.8,45.3 601.8,47.2 601.9,46.5 602.0,43.8 602.0,45.3 602.1,47.5 602.1,42.2 602.2,48.1 602.3,45.5 602.3,50.2 602.4,46.7 602.5,48.3 602.5,45.3 602.6,44.0 602.6,49.7 602.7,47.2 602.8,44.0 602.8,45.1 602.9,48.6 603.0,42.5 603.0,46.6 603.1,44.8 603.1,45.9 603.2,46.3 603.3,50.0 603.3,49.1 603.4,44.1 603.5,47.4 603.5,47.2 603.6,46.6 603.6,45.3 603.7,49.3 603.8,43.0 603.8,46.3 603.9,43.1 604.0,44.5 604.0,47.2 604.1,46.8 604.1,47.2 604.2,47.8 604.3,44.7 604.3,45.9 604.4,45.9 604.5,46.7 604.5,46.0 604.6,42.4 604.7,46.9 604.7,47.9 604.8,48.0 604.8,44.3 604.9,50.4 605.0,44.8 605.0,50.3 605.1,45.6 605.2,48.1 605.2,47.6 605.3,47.1 605.3,44.3 605.4,44.8 605.5,50.8 605.5,47.6 605.6,51.7 605.7,47.2 605.7,46.5 605.8,47.1 605.8,49.4 605.9,46.6 606.0,44.6 606.0,50.1 606.1,48.0 606.2,44.1 606.2,45.1 606.3,51.5 606.3,42.4 606.4,46.6 606.5,48.2 606.5,45.1 606.6,45.8 606.7,45.7 606.7,46.3 606.8,44.4 606.8,48.0 606.9,49.6 607.0,49.2 607.0,51.7 607.1,49.3 607.2,44.9 607.2,44.9 607.3,47.7 607.3,44.8 607.4,44.3 607.5,46.0 607.5,47.6 607.6,48.8 607.7,45.5 607.7,45.5 607.8,47.5 607.8,43.7 607.9,50.2 608.0,40.3 608.0,51.3 608.1,49.4 608.2,46.6 608.2,46.3 608.3,47.4 608.3,45.2 608.4,48.0 608.5,47.8 608.5,45.7 608.6,47.2 608.7,43.7 608.7,46.8 608.8,44.4 608.8,45.8 608.9,49.2 609.0,47.4 609.0,46.9 609.1,48.6 609.2,47.0 609.2,45.8 609.3,46.5 609.3,43.2 609.4,42.6 609.5,48.0 609.5,49.1 609.6,45.3 609.7,43.8 609.7,49.8 609.8,45.0 609.8,48.5 609.9,46.8 610.0,47.5 610.0,47.4 610.1,43.5 610.2,48.0 610.2,46.8 610.3,44.3 610.3,48.7 610.4,45.9 610.5,48.7 610.5,48.0 610.6,49.0 610.7,47.2 610.7,41.3 610.8,47.7 610.8,47.6 610.9,40.0 611.0,45.6 611.0,44.2 611.1,45.1 611.2,46.2 611.2,49.8 611.3,46.0 611.3,47.6 611.4,45.8 611.5,46.9 611.5,44.8 611.6,44.5 611.7,44.3 611.7,46.9 611.8,44.4 611.8,47.9 611.9,44.3 612.0,42.7 612.0,49.5 612.1,44.9 612.2,45.8 612.2,43.3 612.3,44.9 612.3,42.2 612.4,49.2 612.5,46.0 612.5,47.5 612.6,48.6 612.7,45.0 612.7,46.0 612.8,47.5 612.8,48.4 612.9,43.6 613.0,48.9 613.0,49.1 613.1,48.0 613.2,46.8 613.2,48.1 613.3,48.7 613.3,45.8 613.4,49.6 613.5,43.7 613.5,46.3 613.6,46.8 613.7,44.2 613.7,47.4 613.8,48.7 613.8,49.4 613.9,48.1 614.0,46.7 614.0,48.3 614.1,47.9 614.2,45.8 614.2,48.6 614.3,47.4 614.3,46.1 614.4,47.2 614.5,49.8 614.5,49.8 614.6,45.0 614.7,46.5 614.7,47.0 614.8,48.9 614.8,47.3 614.9,45.8 615.0,46.6 615.0,46.2 615.1,47.4 615.2,47.2 615.2,49.3 615.3,48.7 615.4,48.8 615.4,45.3 615.5,49.5 615.5,47.6 615.6,41.4 615.7,43.5 615.7,46.1 615.8,44.7 615.9,45.9 615.9,45.7 616.0,45.1 616.0,45.2 616.1,45.6 616.2,45.6 616.2,46.5 616.3,50.1 616.4,44.9 616.4,47.4 616.5,45.6 616.5,46.6 616.6,48.0 616.7,47.8 616.7,45.5 616.8,45.5 616.9,47.2 616.9,44.1 617.0,44.4 617.0,47.5 617.1,48.1 617.2,45.1 617.2,47.7 617.3,48.2 617.4,44.5 617.4,47.6 617.5,45.8 617.5,46.5 617.6,43.0 617.7,47.6 617.7,48.9 617.8,48.0 617.9,48.9 617.9,46.9 618.0,44.0 618.0,48.1 618.1,49.3 618.2,47.0 618.2,45.1 618.3,48.4 618.4,47.0 618.4,46.9 618.5,46.3 618.5,43.6 618.6,46.0 618.7,44.7 618.7,43.7 618.8,49.4 618.9,48.2 618.9,46.3 619.0,46.0 619.0,45.6 619.1,45.6 619.2,43.8 619.2,44.5 619.3,49.4 619.4,47.7 619.4,46.6 619.5,48.6 619.5,44.9 619.6,48.8 619.7,47.2 619.7,48.8 619.8,45.7 619.9,45.8 619.9,46.2 620.0,49.1 620.0,47.6 620.1,44.0 620.2,47.6 620.2,43.9 620.3,46.7 620.4,47.3 620.4,46.6 620.5,49.8 620.5,45.8 620.6,44.8 620.7,47.2 620.7,45.3 620.8,46.2 620.9,46.4 620.9,45.1 621.0,43.1 621.0,48.1 621.1,47.4 621.2,45.6 621.2,44.5 621.3,43.3 621.4,48.5 621.4,45.7 621.5,48.2 621.5,47.9 621.6,47.7 621.7,46.0 621.7,46.0 621.8,47.0 621.9,47.6 621.9,48.1 622.0,48.7 622.0,45.4 622.1,47.3 622.2,40.2 622.2,45.6 622.3,43.6 622.4,46.1 622.4,48.2 622.5,50.3 622.5,45.7 622.6,47.9 622.7,46.9 622.7,44.9 622.8,46.4 622.9,49.9 622.9,47.1 623.0,45.0 623.0,48.1 623.1,49.5 623.2,47.4 623.2,45.8 623.3,46.9 623.4,48.9 623.4,46.3 623.5,46.2 623.5,45.6 623.6,50.1 623.7,49.8 623.7,45.8 623.8,48.4 623.9,50.6 623.9,48.3 624.0,45.8 624.0,49.4 624.1,46.7 624.2,44.7 624.2,47.9 624.3,51.1 624.4,45.5 624.4,45.4 624.5,49.3 624.5,47.9 624.6,46.5 624.7,43.9 624.7,48.6 624.8,46.8 624.9,45.6 624.9,46.5 625.0,46.1 625.0,46.4 625.1,46.0 625.2,48.0 625.2,48.4 625.3,48.5 625.4,46.3 625.4,44.2 625.5,45.3 625.5,47.5 625.6,44.5 625.7,49.9 625.7,50.6 625.8,47.1M626.8,53.3 626.9,54.1 626.9,49.4 627.0,57.4 627.1,51.3 627.1,53.0 627.2,54.3 627.2,54.6 627.3,53.6 627.4,51.6 627.4,55.9 627.5,55.5 627.6,52.2 627.6,55.0 627.7,54.7 627.7,51.9 627.8,52.6 627.9,52.8 627.9,54.6 628.0,53.8 628.1,56.5 628.1,58.8 628.2,53.8 628.3,51.7 628.3,52.9 628.4,56.3 628.4,52.8 628.5,54.0 628.6,55.9 628.6,51.6 628.7,52.3 628.8,49.3 628.8,55.0 628.9,52.7 629.0,55.3 629.0,57.5 629.1,52.5 629.1,56.1 629.2,52.3 629.3,54.4 629.3,52.6 629.4,52.6 629.5,53.0 629.5,54.6 629.6,48.6 629.6,55.7 629.7,55.6 629.8,53.4 629.8,54.2 629.9,55.7 630.0,51.9 630.0,53.2 630.1,51.4 630.2,57.7 630.2,55.9 630.3,54.9 630.3,53.6 630.4,56.0 630.5,52.1 630.5,51.4 630.6,52.9 630.7,53.2 630.7,55.1 630.8,55.2 630.9,59.0 630.9,51.8 631.0,55.2 631.0,54.0 631.1,53.5 631.2,50.9 631.2,51.4 631.3,55.5 631.4,52.9 631.4,53.1 631.5,54.4 631.5,55.7 631.6,52.7 631.7,51.7 631.7,53.2 631.8,53.1M632.3,115.1 632.3,119.1 632.4,112.1 632.4,117.5 632.4,110.0 632.4,106.5 632.5,110.5 632.5,111.9 632.5,108.8 632.5,112.4 632.6,117.6 632.6,117.5 632.6,114.1 632.6,107.9 632.7,106.1 632.7,106.2 632.7,112.5 632.7,107.6 632.8,114.7 632.8,106.3 632.8,113.9 632.8,109.7 632.9,107.7 632.9,114.7 632.9,109.4 632.9,107.1 633.0,109.3 633.0,106.0 633.0,103.9 633.0,116.4 633.1,114.8 633.1,111.5 633.1,113.3 633.1,109.8 633.2,111.1 633.2,121.9 633.2,112.1 633.2,111.1 633.3,104.6 633.3,105.7 633.3,104.5 633.3,107.8 633.4,106.4 633.4,107.9 633.4,107.1 633.4,114.5 633.5,108.9 633.5,106.2 633.5,107.4 633.5,112.6 633.6,112.2 633.6,114.2 633.6,112.3 633.6,117.0 633.7,116.1 633.7,103.2 633.7,111.3 633.7,116.4 633.8,110.1 633.8,101.8 633.8,104.5 633.8,109.7 633.9,111.7 633.9,112.8 633.9,117.3 633.9,108.5 634.0,105.4 634.0,113.6 634.0,110.4 634.0,113.8 634.1,114.8 634.1,105.5 634.1,116.9 634.1,109.9 634.2,108.4 634.2,117.6 634.2,111.8 634.2,109.1 634.3,106.8 634.3,107.1 634.3,107.1 634.3,107.4 634.4,112.1 634.4,112.6 634.4,105.8 634.4,107.6 634.5,106.6 634.5,109.6 634.5,109.3 634.5,110.7 634.6,114.3 634.6,110.4 634.6,106.3 634.6,116.3 634.7,110.8 634.7,104.8 634.7,113.9 634.7,113.0 634.8,106.8 634.8,107.3 634.8,109.6 634.8,107.2 634.9,104.0 634.9,111.6 634.9,112.1 634.9,107.1 635.0,108.4 635.0,111.4 635.0,109.0 635.0,115.0 635.1,109.0 635.1,106.8 635.1,110.3 635.1,109.7 635.2,112.2 635.2,113.1 635.2,113.9 635.2,110.9 635.3,109.6 635.3,106.6 635.3,108.4 635.3,117.4 635.4,112.4 635.4,109.0 635.4,109.6 635.4,111.8 635.5,112.8 635.5,111.3 635.5,106.0 635.5,99.3 635.6,107.7 635.6,113.1 635.6,113.2 635.6,114.6 635.7,113.0 635.7,117.2 635.7,106.2 635.7,111.5 635.8,109.2 635.8,114.2 635.8,112.2 635.8,113.0 635.9,112.0 635.9,120.2 635.9,110.7 635.9,114.4 636.0,110.1 636.0,113.9 636.0,108.3 636.0,117.2 636.1,109.8 636.1,117.8 636.1,112.6 636.1,111.7 636.2,107.8 636.2,115.6 636.2,110.3 636.2,104.9 636.3,108.2 636.3,115.0 636.3,111.5 636.3,106.5 636.4,111.5 636.4,104.3 636.4,106.3 636.4,109.8 636.5,110.8 636.5,111.7 636.5,115.5 636.5,111.1 636.6,111.6 636.6,104.8 636.6,110.9 636.6,106.8 636.7,111.8 636.7,110.2 636.7,106.8 636.7,104.3 636.8,112.1 636.8,109.4 636.8,112.0 636.8,113.3 636.9,116.1 636.9,108.1 636.9,105.3 636.9,113.0 637.0,114.6 637.0,109.7 637.0,113.5 637.0,117.1 637.1,116.5 637.1,115.1 637.1,108.4 637.1,106.8 637.2,105.5 637.2,104.4 637.2,101.7 637.2,111.3 637.3,110.5 637.3,108.3 637.3,113.4 637.3,103.0 637.4,111.7 637.4,106.9 637.4,111.8 637.4,111.0 637.5,114.8 637.5,112.4 637.5,111.7 637.5,112.2 637.6,114.2 637.6,110.0 637.6,111.1 637.6,109.8 637.7,113.2 637.7,110.7 637.7,103.9 637.7,112.4 637.8,114.4 637.8,116.5 637.8,108.8 637.8,113.8 637.9,112.2 637.9,105.2 637.9,112.7 637.9,109.2 638.0,113.0 638.0,109.3 638.0,111.9 638.0,104.9 638.1,114.3 638.1,109.1 638.1,114.5 638.1,107.6 638.2,113.0 638.2,120.5 638.2,110.1 638.2,119.0 638.3,110.2 638.3,105.1 638.3,112.1 638.3,115.7 638.4,111.6 638.4,117.9 638.4,101.1 638.4,115.9 638.5,112.9 638.5,111.3 638.5,112.8 638.5,109.0 638.6,105.4 638.6,111.2 638.6,112.1 638.6,109.4 638.7,110.3 638.7,110.2 638.7,112.1 638.7,110.3 638.8,105.0 638.8,110.9 638.8,109.2 638.8,111.1 638.9,111.8 638.9,104.1 638.9,110.7 638.9,111.2 639.0,113.7 639.0,109.9 639.0,114.9 639.0,111.7 639.1,105.0 639.1,106.5 639.1,108.3 639.1,113.3 639.2,107.3 639.2,109.5 639.2,115.4 639.2,104.1 639.3,116.7 639.3,109.1 639.3,106.9 639.3,106.8 639.4,110.1 639.4,100.5 639.4,107.2 639.4,109.6 639.5,112.2 639.5,110.9 639.5,110.4 639.5,102.6 639.6,118.3 639.6,108.3 639.6,110.3 639.6,108.0 639.7,104.9 639.7,111.1 639.7,111.2 639.7,109.3 639.8,106.0 639.8,109.0 639.8,111.3 639.8,104.2 639.9,106.8 639.9,112.6 639.9,109.9 639.9,109.0 640.0,110.1 640.0,108.8 640.0,102.6 640.0,105.1 640.1,114.8 640.1,107.2 640.1,111.7 640.1,106.0 640.2,111.6 640.2,107.5 640.2,107.3 640.2,103.1 640.3,120.6 640.3,109.2 640.3,115.4 640.3,113.8 640.4,111.7 640.4,110.9 640.4,109.6 640.4,103.1 640.5,112.6 640.5,114.6 640.5,109.0 640.5,110.2 640.6,107.9 640.6,107.1 640.6,110.4 640.6,111.0 640.7,107.9 640.7,107.0 640.7,114.2 640.7,112.3 640.8,109.4 640.8,111.4 640.8,116.0 640.8,110.8 640.9,114.3 640.9,108.3 640.9,112.8 640.9,110.0 641.0,107.4 641.0,107.7 641.0,115.7 641.0,110.4 641.1,111.3 641.1,111.6 641.1,113.1 641.1,115.2 641.2,117.2 641.2,110.9 641.2,110.7 641.2,115.1 641.3,108.0 641.3,116.2 641.3,115.4 641.3,110.6 641.4,107.3 641.4,114.3 641.4,117.2 641.4,119.4 641.5,114.4 641.5,111.7 641.5,101.7 641.5,111.7 641.6,111.5 641.6,108.9 641.6,108.7 641.6,117.5 641.7,112.9 641.7,106.9 641.7,114.5 641.7,113.8 641.8,102.7 641.8,111.3 641.8,109.4 641.8,106.7 641.9,116.4 641.9,108.5 641.9,114.7 641.9,113.6 642.0,112.4 642.0,119.0 642.0,108.6 642.0,111.7 642.1,111.6 642.1,109.6 642.1,106.5 642.1,113.9 642.2,113.2 642.2,110.4 642.2,109.3 642.2,111.9 642.3,111.3 642.3,113.1 642.3,113.8 642.3,111.4 642.4,114.3 642.4,113.8 642.4,105.1 642.4,100.2 642.5,107.2 642.5,113.0 642.5,106.0 642.5,106.2 642.6,106.8 642.6,112.9 642.6,105.8 642.6,112.9 642.7,109.4 642.7,110.8 642.7,106.9 642.7,107.8 642.8,114.5 642.8,110.5 642.8,105.2 642.8,107.0 642.9,106.2 642.9,116.2 642.9,115.3 642.9,112.5 643.0,109.8 643.0,110.3 643.0,110.3 643.0,104.8 643.1,110.1 643.1,109.1 643.1,105.9 643.1,113.5 643.2,114.4 643.2,110.6 643.2,109.7 643.2,109.0 643.3,109.0 643.3,117.3 643.3,108.9 643.3,106.7 643.4,111.8 643.4,110.5 643.4,110.5 643.4,112.2 643.5,119.4 643.5,106.8 643.5,113.4 643.5,117.4 643.6,105.4 643.6,113.4 643.6,106.2 643.6,106.3 643.7,115.1 643.7,114.6 643.7,111.4 643.7,117.7 643.8,106.5 643.8,102.0 643.8,111.0 643.8,112.3 643.9,104.1 643.9,110.2 643.9,110.2 643.9,112.1 644.0,110.6 644.0,106.2 644.0,113.0 644.0,114.8 644.1,118.3 644.1,111.3 644.1,110.0 644.1,112.3 644.2,115.5 644.2,109.4 644.2,103.2 644.2,110.4 644.3,115.0 644.3,118.4 644.3,118.4 644.3,110.5 644.4,111.0 644.4,110.8 644.4,108.7 644.4,108.9 644.5,111.1 644.5,104.6 644.5,112.7 644.5,106.7 644.6,108.6 644.6,109.3 644.6,108.5 644.6,107.5 644.7,105.1 644.7,115.8 644.7,120.4 644.7,107.7 644.8,116.3 644.8,108.2 644.8,108.9 644.8,109.9 644.9,103.6 644.9,111.3 644.9,105.4 644.9,108.8 645.0,110.9 645.0,105.7 645.0,108.8 645.0,116.2 645.1,113.9 645.1,115.5 645.1,111.9 645.1,111.3 645.2,102.7 645.2,116.7 645.2,106.4 645.2,108.3 645.3,112.5 645.3,114.6 645.3,114.2 645.3,114.3 645.4,109.3 645.4,114.1 645.4,115.0 645.4,117.1 645.5,113.7 645.5,111.8 645.5,111.9 645.5,113.8 645.6,111.7 645.6,105.5 645.6,108.9 645.6,108.9 645.7,112.4 645.7,112.8 645.7,108.0 645.7,114.1 645.8,111.9 645.8,116.0 645.8,112.1 645.8,105.0 645.9,112.9 645.9,112.8 645.9,111.0 645.9,112.4 646.0,106.3 646.0,109.9 646.0,110.4 646.0,106.3 646.1,105.2 646.1,111.2 646.1,104.2 646.1,108.4 646.2,114.3 646.2,113.1 646.2,106.2 646.2,111.8 646.3,103.9 646.3,112.9 646.3,107.8 646.3,110.5 646.4,109.8 646.4,112.6 646.4,114.2 646.4,108.3 646.5,115.5 646.5,110.0 646.5,114.0 646.5,109.7 646.6,114.6 646.6,118.2 646.6,108.8 646.6,106.1 646.7,107.9 646.7,112.8 646.7,111.0 646.7,110.0 646.8,111.3 646.8,109.6 646.8,115.7 646.8,111.2 646.9,119.7 646.9,110.2 646.9,108.6 646.9,107.1 647.0,115.2 647.0,102.6 647.0,117.8 647.0,116.2 647.1,109.0 647.1,116.1 647.1,113.3 647.1,112.2 647.2,110.4 647.2,107.2 647.2,109.8 647.2,109.6 647.3,107.1 647.3,112.0 647.3,118.2 647.3,112.0 647.4,112.5 647.4,106.5 647.4,114.2 647.4,119.1 647.5,108.7 647.5,115.3 647.5,112.0 647.5,119.3 647.6,112.1 647.6,110.1 647.6,106.6 647.6,115.4 647.7,115.3 647.7,106.6 647.7,108.0 647.7,109.9 647.8,113.2 647.8,113.0 647.8,117.4 647.8,114.3 647.9,117.6 647.9,108.2 647.9,108.6 647.9,109.4 648.0,110.2 648.0,109.2 648.0,113.9 648.0,113.7 648.1,112.3 648.1,113.9 648.1,107.5 648.1,108.0 648.2,113.5 648.2,115.9 648.2,109.4 648.2,107.6 648.3,112.7 648.3,108.1 648.3,105.0 648.3,115.1 648.4,114.9 648.4,114.9 648.4,108.9 648.4,115.6 648.5,101.6 648.5,107.6 648.5,111.2 648.5,112.3 648.6,111.1 648.6,111.8" fill="none" stroke="#000" stroke-width="0.7"/>
<path d="M437.20,90.50L437.40,85.30M445.00,84.70L445.20,80.00M457.90,80.00L458.00,73.50M462.60,73.50L462.70,68.90M476.30,68.90L476.40,75.30M480.40,75.30L480.60,70.60M519.70,70.60L519.80,63.60M524.40,63.60L524.50,58.80M540.50,58.80L541.00,50.50M541.00,50.50L541.50,58.80M553.20,58.80L553.70,50.00M553.70,50.00L554.20,58.80M632.00,53.70L632.10,109.70" fill="none" stroke="#2bea2b" stroke-width="1.1"/>
<line x1="35.5" y1="165" x2="35.5" y2="219.3" stroke="#888" stroke-width="1"/>
<line x1="33.8" y1="219.5" x2="35.6" y2="219.5" stroke="#888" stroke-width="1"/>
<text x="32.8" y="223.2" font-size="11" text-anchor="end" font-weight="normal" fill="#000" stroke="#000" stroke-width="0.18">0</text>
<line x1="33.8" y1="208.5" x2="35.6" y2="208.5" stroke="#888" stroke-width="1"/>
<text x="32.8" y="212.34" font-size="11" text-anchor="end" font-weight="normal" fill="#000" stroke="#000" stroke-width="0.18">0.2</text>
<line x1="33.8" y1="197.5" x2="35.6" y2="197.5" stroke="#888" stroke-width="1"/>
<text x="32.8" y="201.48" font-size="11" text-anchor="end" font-weight="normal" fill="#000" stroke="#000" stroke-width="0.18">0.4</text>
<line x1="33.8" y1="186.5" x2="35.6" y2="186.5" stroke="#888" stroke-width="1"/>
<text x="32.8" y="190.62" font-size="11" text-anchor="end" font-weight="normal" fill="#000" stroke="#000" stroke-width="0.18">0.6</text>
<line x1="33.8" y1="175.5" x2="35.6" y2="175.5" stroke="#888" stroke-width="1"/>
<text x="32.8" y="179.76" font-size="11" text-anchor="end" font-weight="normal" fill="#000" stroke="#000" stroke-width="0.18">0.8</text>
<line x1="33.8" y1="164.5" x2="35.6" y2="164.5" stroke="#888" stroke-width="1"/>
<text x="32.8" y="168.9" font-size="11" text-anchor="end" font-weight="normal" fill="#000" stroke="#000" stroke-width="0.18">1.0</text>
<rect x="38.6" y="165" width="11.2" height="6" fill="#ffc000" stroke="none" stroke-width="1"/>
<rect x="38.6" y="171" width="11.2" height="0.9" fill="#980a0a" stroke="none" stroke-width="1"/>
<rect x="38.6" y="171.9" width="11.2" height="1.1" fill="#ff5000" stroke="none" stroke-width="1"/>
<rect x="38.6" y="173" width="11.2" height="46.3" fill="#0000ff" stroke="none" stroke-width="1"/>
<line x1="38.6" y1="171" x2="49.8" y2="171" stroke="#3a2a10" stroke-width="0.6"/>
<line x1="38.6" y1="171.9" x2="49.8" y2="171.9" stroke="#3a2a10" stroke-width="0.6"/>
<line x1="38.6" y1="173" x2="49.8" y2="173" stroke="#3a2a10" stroke-width="0.6"/>
<rect x="38.5" y="164.5" width="11" height="55" fill="none" stroke="#5e5238" stroke-width="0.9"/>
<rect x="51.68" y="165" width="11.2" height="8" fill="#ffc000" stroke="none" stroke-width="1"/>
<rect x="51.68" y="173" width="11.2" height="1.6" fill="#980a0a" stroke="none" stroke-width="1"/>
<rect x="51.68" y="174.6" width="11.2" height="1.6" fill="#ff5000" stroke="none" stroke-width="1"/>
<rect x="51.68" y="176.2" width="11.2" height="43.1" fill="#0000ff" stroke="none" stroke-width="1"/>
<line x1="51.68" y1="173" x2="62.88" y2="173" stroke="#3a2a10" stroke-width="0.6"/>
<line x1="51.68" y1="174.6" x2="62.88" y2="174.6" stroke="#3a2a10" stroke-width="0.6"/>
<line x1="51.68" y1="176.2" x2="62.88" y2="176.2" stroke="#3a2a10" stroke-width="0.6"/>
<rect x="51.5" y="164.5" width="11" height="55" fill="none" stroke="#5e5238" stroke-width="0.9"/>
<rect x="64.76" y="165" width="11.2" height="8.6" fill="#ffc000" stroke="none" stroke-width="1"/>
<rect x="64.76" y="173.6" width="11.2" height="2.1" fill="#980a0a" stroke="none" stroke-width="1"/>
<rect x="64.76" y="175.7" width="11.2" height="2.3" fill="#ff5000" stroke="none" stroke-width="1"/>
<rect x="64.76" y="178" width="11.2" height="41.3" fill="#0000ff" stroke="none" stroke-width="1"/>
<line x1="64.76" y1="173.6" x2="75.96" y2="173.6" stroke="#3a2a10" stroke-width="0.6"/>
<line x1="64.76" y1="175.7" x2="75.96" y2="175.7" stroke="#3a2a10" stroke-width="0.6"/>
<line x1="64.76" y1="178" x2="75.96" y2="178" stroke="#3a2a10" stroke-width="0.6"/>
<rect x="64.5" y="164.5" width="11" height="55" fill="none" stroke="#5e5238" stroke-width="0.9"/>
<rect x="77.84" y="165" width="11.2" height="12.2" fill="#ffc000" stroke="none" stroke-width="1"/>
<rect x="77.84" y="177.2" width="11.2" height="2.1" fill="#980a0a" stroke="none" stroke-width="1"/>
<rect x="77.84" y="179.3" width="11.2" height="5.2" fill="#ff5000" stroke="none" stroke-width="1"/>
<rect x="77.84" y="184.5" width="11.2" height="34.8" fill="#0000ff" stroke="none" stroke-width="1"/>
<line x1="77.84" y1="177.2" x2="89.04" y2="177.2" stroke="#3a2a10" stroke-width="0.6"/>
<line x1="77.84" y1="179.3" x2="89.04" y2="179.3" stroke="#3a2a10" stroke-width="0.6"/>
<line x1="77.84" y1="184.5" x2="89.04" y2="184.5" stroke="#3a2a10" stroke-width="0.6"/>
<rect x="77.5" y="164.5" width="12" height="55" fill="none" stroke="#5e5238" stroke-width="0.9"/>
<rect x="90.92" y="165" width="11.2" height="16.9" fill="#ffc000" stroke="none" stroke-width="1"/>
<rect x="90.92" y="181.9" width="11.2" height="1.9" fill="#980a0a" stroke="none" stroke-width="1"/>
<rect x="90.92" y="183.8" width="11.2" height="8.3" fill="#ff5000" stroke="none" stroke-width="1"/>
<rect x="90.92" y="192.1" width="11.2" height="27.2" fill="#0000ff" stroke="none" stroke-width="1"/>
<line x1="90.92" y1="181.9" x2="102.12" y2="181.9" stroke="#3a2a10" stroke-width="0.6"/>
<line x1="90.92" y1="183.8" x2="102.12" y2="183.8" stroke="#3a2a10" stroke-width="0.6"/>
<line x1="90.92" y1="192.1" x2="102.12" y2="192.1" stroke="#3a2a10" stroke-width="0.6"/>
<rect x="90.5" y="164.5" width="12" height="55" fill="none" stroke="#5e5238" stroke-width="0.9"/>
<rect x="104" y="165" width="11.2" height="18.2" fill="#ffc000" stroke="none" stroke-width="1"/>
<rect x="104" y="183.2" width="11.2" height="3.4" fill="#980a0a" stroke="none" stroke-width="1"/>
<rect x="104" y="186.6" width="11.2" height="13.9" fill="#ff5000" stroke="none" stroke-width="1"/>
<rect x="104" y="200.5" width="11.2" height="18.8" fill="#0000ff" stroke="none" stroke-width="1"/>
<line x1="104" y1="183.2" x2="115.2" y2="183.2" stroke="#3a2a10" stroke-width="0.6"/>
<line x1="104" y1="186.6" x2="115.2" y2="186.6" stroke="#3a2a10" stroke-width="0.6"/>
<line x1="104" y1="200.5" x2="115.2" y2="200.5" stroke="#3a2a10" stroke-width="0.6"/>
<rect x="104.5" y="164.5" width="11" height="55" fill="none" stroke="#5e5238" stroke-width="0.9"/>
<rect x="117.08" y="165" width="11.2" height="13.6" fill="#ffc000" stroke="none" stroke-width="1"/>
<rect x="117.08" y="178.6" width="11.2" height="3.3" fill="#980a0a" stroke="none" stroke-width="1"/>
<rect x="117.08" y="181.9" width="11.2" height="21.1" fill="#ff5000" stroke="none" stroke-width="1"/>
<rect x="117.08" y="203" width="11.2" height="16.3" fill="#0000ff" stroke="none" stroke-width="1"/>
<line x1="117.08" y1="178.6" x2="128.28" y2="178.6" stroke="#3a2a10" stroke-width="0.6"/>
<line x1="117.08" y1="181.9" x2="128.28" y2="181.9" stroke="#3a2a10" stroke-width="0.6"/>
<line x1="117.08" y1="203" x2="128.28" y2="203" stroke="#3a2a10" stroke-width="0.6"/>
<rect x="117.5" y="164.5" width="11" height="55" fill="none" stroke="#5e5238" stroke-width="0.9"/>
<text x="45.2" y="230.6" font-size="11" text-anchor="middle" font-weight="normal" fill="#000" stroke="#000" stroke-width="0.18">2</text>
<text x="58.15" y="230.6" font-size="11" text-anchor="middle" font-weight="normal" fill="#000" stroke="#000" stroke-width="0.18">3</text>
<text x="71.1" y="230.6" font-size="11" text-anchor="middle" font-weight="normal" fill="#000" stroke="#000" stroke-width="0.18">4</text>
<text x="84.05" y="230.6" font-size="11" text-anchor="middle" font-weight="normal" fill="#000" stroke="#000" stroke-width="0.18">5</text>
<text x="97" y="230.6" font-size="11" text-anchor="middle" font-weight="normal" fill="#000" stroke="#000" stroke-width="0.18">6</text>
<text x="109.95" y="230.6" font-size="11" text-anchor="middle" font-weight="normal" fill="#000" stroke="#000" stroke-width="0.18">7</text>
<text x="122.9" y="230.6" font-size="11" text-anchor="middle" font-weight="normal" fill="#000" stroke="#000" stroke-width="0.18">8</text>
<text x="135.85" y="230.6" font-size="11" text-anchor="middle" font-weight="normal" fill="#000" stroke="#000" stroke-width="0.18">9</text>
<text x="148.8" y="230.6" font-size="11" text-anchor="middle" font-weight="normal" fill="#000" stroke="#000" stroke-width="0.18">10</text>
<text x="14.6" y="191" font-size="11" text-anchor="middle" font-weight="normal" fill="#000" transform="rotate(-90 14.6 191)" stroke="#000" stroke-width="0.18">Probability</text>
<line x1="379.5" y1="164.6" x2="379.5" y2="218.3" stroke="#888" stroke-width="1"/>
<line x1="378" y1="218.5" x2="379.8" y2="218.5" stroke="#888" stroke-width="1"/>
<text x="377.4" y="222.2" font-size="11" text-anchor="end" font-weight="normal" fill="#000" stroke="#000" stroke-width="0.18">0</text>
<line x1="378" y1="207.5" x2="379.8" y2="207.5" stroke="#888" stroke-width="1"/>
<text x="377.4" y="211.46" font-size="11" text-anchor="end" font-weight="normal" fill="#000" stroke="#000" stroke-width="0.18">0.2</text>
<line x1="378" y1="196.5" x2="379.8" y2="196.5" stroke="#888" stroke-width="1"/>
<text x="377.4" y="200.72" font-size="11" text-anchor="end" font-weight="normal" fill="#000" stroke="#000" stroke-width="0.18">0.4</text>
<line x1="378" y1="186.5" x2="379.8" y2="186.5" stroke="#888" stroke-width="1"/>
<text x="377.4" y="189.98" font-size="11" text-anchor="end" font-weight="normal" fill="#000" stroke="#000" stroke-width="0.18">0.6</text>
<line x1="378" y1="175.5" x2="379.8" y2="175.5" stroke="#888" stroke-width="1"/>
<text x="377.4" y="179.24" font-size="11" text-anchor="end" font-weight="normal" fill="#000" stroke="#000" stroke-width="0.18">0.8</text>
<line x1="378" y1="164.5" x2="379.8" y2="164.5" stroke="#888" stroke-width="1"/>
<text x="377.4" y="168.5" font-size="11" text-anchor="end" font-weight="normal" fill="#000" stroke="#000" stroke-width="0.18">1.0</text>
<rect x="381.5" y="164.6" width="11" height="4.7" fill="#ffc000" stroke="none" stroke-width="1"/>
<rect x="381.5" y="169.3" width="11" height="0" fill="#980a0a" stroke="none" stroke-width="1"/>
<rect x="381.5" y="169.3" width="11" height="14.8" fill="#ff5000" stroke="none" stroke-width="1"/>
<rect x="381.5" y="184.1" width="11" height="34.2" fill="#0000ff" stroke="none" stroke-width="1"/>
<line x1="381.5" y1="169.3" x2="392.5" y2="169.3" stroke="#3a2a10" stroke-width="0.6"/>
<line x1="381.5" y1="169.3" x2="392.5" y2="169.3" stroke="#3a2a10" stroke-width="0.6"/>
<line x1="381.5" y1="184.1" x2="392.5" y2="184.1" stroke="#3a2a10" stroke-width="0.6"/>
<rect x="381.5" y="164.5" width="11" height="54" fill="none" stroke="#5e5238" stroke-width="0.9"/>
<rect x="394.55" y="164.6" width="11" height="4.7" fill="#ffc000" stroke="none" stroke-width="1"/>
<rect x="394.55" y="169.3" width="11" height="0" fill="#980a0a" stroke="none" stroke-width="1"/>
<rect x="394.55" y="169.3" width="11" height="17.9" fill="#ff5000" stroke="none" stroke-width="1"/>
<rect x="394.55" y="187.2" width="11" height="31.1" fill="#0000ff" stroke="none" stroke-width="1"/>
<line x1="394.55" y1="169.3" x2="405.55" y2="169.3" stroke="#3a2a10" stroke-width="0.6"/>
<line x1="394.55" y1="169.3" x2="405.55" y2="169.3" stroke="#3a2a10" stroke-width="0.6"/>
<line x1="394.55" y1="187.2" x2="405.55" y2="187.2" stroke="#3a2a10" stroke-width="0.6"/>
<rect x="394.5" y="164.5" width="11" height="54" fill="none" stroke="#5e5238" stroke-width="0.9"/>
<rect x="407.6" y="164.6" width="11" height="5.9" fill="#ffc000" stroke="none" stroke-width="1"/>
<rect x="407.6" y="170.5" width="11" height="0" fill="#980a0a" stroke="none" stroke-width="1"/>
<rect x="407.6" y="170.5" width="11" height="24.2" fill="#ff5000" stroke="none" stroke-width="1"/>
<rect x="407.6" y="194.7" width="11" height="23.6" fill="#0000ff" stroke="none" stroke-width="1"/>
<line x1="407.6" y1="170.5" x2="418.6" y2="170.5" stroke="#3a2a10" stroke-width="0.6"/>
<line x1="407.6" y1="170.5" x2="418.6" y2="170.5" stroke="#3a2a10" stroke-width="0.6"/>
<line x1="407.6" y1="194.7" x2="418.6" y2="194.7" stroke="#3a2a10" stroke-width="0.6"/>
<rect x="407.5" y="164.5" width="11" height="54" fill="none" stroke="#5e5238" stroke-width="0.9"/>
<rect x="420.65" y="164.6" width="11" height="11.4" fill="#ffc000" stroke="none" stroke-width="1"/>
<rect x="420.65" y="176" width="11" height="2.7" fill="#980a0a" stroke="none" stroke-width="1"/>
<rect x="420.65" y="178.7" width="11" height="20.5" fill="#ff5000" stroke="none" stroke-width="1"/>
<rect x="420.65" y="199.2" width="11" height="19.1" fill="#0000ff" stroke="none" stroke-width="1"/>
<line x1="420.65" y1="176" x2="431.65" y2="176" stroke="#3a2a10" stroke-width="0.6"/>
<line x1="420.65" y1="178.7" x2="431.65" y2="178.7" stroke="#3a2a10" stroke-width="0.6"/>
<line x1="420.65" y1="199.2" x2="431.65" y2="199.2" stroke="#3a2a10" stroke-width="0.6"/>
<rect x="420.5" y="164.5" width="11" height="54" fill="none" stroke="#5e5238" stroke-width="0.9"/>
<rect x="433.7" y="164.6" width="11" height="8.8" fill="#ffc000" stroke="none" stroke-width="1"/>
<rect x="433.7" y="173.4" width="11" height="0" fill="#980a0a" stroke="none" stroke-width="1"/>
<rect x="433.7" y="173.4" width="11" height="13.6" fill="#ff5000" stroke="none" stroke-width="1"/>
<rect x="433.7" y="187" width="11" height="31.3" fill="#0000ff" stroke="none" stroke-width="1"/>
<line x1="433.7" y1="173.4" x2="444.7" y2="173.4" stroke="#3a2a10" stroke-width="0.6"/>
<line x1="433.7" y1="173.4" x2="444.7" y2="173.4" stroke="#3a2a10" stroke-width="0.6"/>
<line x1="433.7" y1="187" x2="444.7" y2="187" stroke="#3a2a10" stroke-width="0.6"/>
<rect x="433.5" y="164.5" width="11" height="54" fill="none" stroke="#5e5238" stroke-width="0.9"/>
<rect x="446.75" y="164.6" width="11" height="0" fill="#ffc000" stroke="none" stroke-width="1"/>
<rect x="446.75" y="164.6" width="11" height="0.8" fill="#980a0a" stroke="none" stroke-width="1"/>
<rect x="446.75" y="165.4" width="11" height="31.4" fill="#ff5000" stroke="none" stroke-width="1"/>
<rect x="446.75" y="196.8" width="11" height="21.5" fill="#0000ff" stroke="none" stroke-width="1"/>
<line x1="446.75" y1="164.6" x2="457.75" y2="164.6" stroke="#3a2a10" stroke-width="0.6"/>
<line x1="446.75" y1="165.4" x2="457.75" y2="165.4" stroke="#3a2a10" stroke-width="0.6"/>
<line x1="446.75" y1="196.8" x2="457.75" y2="196.8" stroke="#3a2a10" stroke-width="0.6"/>
<rect x="446.5" y="164.5" width="11" height="54" fill="none" stroke="#5e5238" stroke-width="0.9"/>
<text x="388.5" y="229.9" font-size="11" text-anchor="middle" font-weight="normal" fill="#000" stroke="#000" stroke-width="0.18">2</text>
<text x="401.45" y="229.9" font-size="11" text-anchor="middle" font-weight="normal" fill="#000" stroke="#000" stroke-width="0.18">3</text>
<text x="414.4" y="229.9" font-size="11" text-anchor="middle" font-weight="normal" fill="#000" stroke="#000" stroke-width="0.18">4</text>
<text x="427.35" y="229.9" font-size="11" text-anchor="middle" font-weight="normal" fill="#000" stroke="#000" stroke-width="0.18">5</text>
<text x="440.3" y="229.9" font-size="11" text-anchor="middle" font-weight="normal" fill="#000" stroke="#000" stroke-width="0.18">6</text>
<text x="453.25" y="229.9" font-size="11" text-anchor="middle" font-weight="normal" fill="#000" stroke="#000" stroke-width="0.18">7</text>
<text x="466.2" y="229.9" font-size="11" text-anchor="middle" font-weight="normal" fill="#000" stroke="#000" stroke-width="0.18">8</text>
<text x="479.15" y="229.9" font-size="11" text-anchor="middle" font-weight="normal" fill="#000" stroke="#000" stroke-width="0.18">9</text>
<text x="492.1" y="229.9" font-size="11" text-anchor="middle" font-weight="normal" fill="#000" stroke="#000" stroke-width="0.18">10</text>
<text x="357.8" y="189.2" font-size="11" text-anchor="middle" font-weight="normal" fill="#000" transform="rotate(-90 357.8 189.2)" stroke="#000" stroke-width="0.18">Probability</text>
<rect x="203.5" y="165.5" width="116" height="110" fill="none" stroke="#555" stroke-width="1"/>
<line x1="200.7" y1="176.5" x2="203.1" y2="176.5" stroke="#555" stroke-width="1"/>
<text x="196.3" y="180" font-size="11" text-anchor="end" font-weight="normal" fill="#000" stroke="#000" stroke-width="0.18">5.00</text>
<line x1="200.7" y1="212.5" x2="203.1" y2="212.5" stroke="#555" stroke-width="1"/>
<text x="196.3" y="216.8" font-size="11" text-anchor="end" font-weight="normal" fill="#000" stroke="#000" stroke-width="0.18">0.50</text>
<line x1="200.7" y1="249.5" x2="203.1" y2="249.5" stroke="#555" stroke-width="1"/>
<text x="196.3" y="253.6" font-size="11" text-anchor="end" font-weight="normal" fill="#000" stroke="#000" stroke-width="0.18">0.05</text>
<line x1="200.7" y1="275.5" x2="203.1" y2="275.5" stroke="#555" stroke-width="1"/>
<text x="196.3" y="279.32" font-size="11" text-anchor="end" font-weight="normal" fill="#000" stroke="#000" stroke-width="0.18">0.01</text>
<line x1="200.7" y1="201.5" x2="203.1" y2="201.5" stroke="#555" stroke-width="1"/>
<line x1="200.7" y1="238.5" x2="203.1" y2="238.5" stroke="#555" stroke-width="1"/>
<line x1="203.5" y1="275.2" x2="203.5" y2="277.6" stroke="#555" stroke-width="1"/>
<text x="203.1" y="289" font-size="11" text-anchor="middle" font-weight="normal" fill="#000" stroke="#000" stroke-width="0.18">0</text>
<line x1="226.5" y1="275.2" x2="226.5" y2="277.6" stroke="#555" stroke-width="1"/>
<text x="226.32" y="289" font-size="11" text-anchor="middle" font-weight="normal" fill="#000" stroke="#000" stroke-width="0.18">2</text>
<line x1="249.5" y1="275.2" x2="249.5" y2="277.6" stroke="#555" stroke-width="1"/>
<text x="249.54" y="289" font-size="11" text-anchor="middle" font-weight="normal" fill="#000" stroke="#000" stroke-width="0.18">4</text>
<line x1="272.5" y1="275.2" x2="272.5" y2="277.6" stroke="#555" stroke-width="1"/>
<text x="272.76" y="289" font-size="11" text-anchor="middle" font-weight="normal" fill="#000" stroke="#000" stroke-width="0.18">6</text>
<line x1="295.5" y1="275.2" x2="295.5" y2="277.6" stroke="#555" stroke-width="1"/>
<text x="295.98" y="289" font-size="11" text-anchor="middle" font-weight="normal" fill="#000" stroke="#000" stroke-width="0.18">8</text>
<line x1="319.5" y1="275.2" x2="319.5" y2="277.6" stroke="#555" stroke-width="1"/>
<text x="319.2" y="289" font-size="11" text-anchor="middle" font-weight="normal" fill="#000" stroke="#000" stroke-width="0.18">10</text>
<text x="261.5" y="299.5" font-size="12" text-anchor="middle" font-weight="normal" fill="#000" letter-spacing="0.35" stroke="#000" stroke-width="0.18">Load pN</text>
<text x="170.2" y="226.7" font-size="11" text-anchor="middle" font-weight="normal" fill="#000" transform="rotate(-90 170.2 226.7)" stroke="#000" stroke-width="0.18">Dwell s</text>
<path stroke="#0000ff" stroke-width=".7" opacity="0.34" d="M255.8 242.4h.7M277.5 269.9h.7M271.6 263.6h.7M257.9 253.2h.7M223.9 269.8h.7M260.3 254.3h.7M236.8 265.1h.7M227.1 255.6h.7M256.6 236.1h.7M240.0 267.1h.7M276.5 264.1h.7M277.0 256.1h.7M271.4 260.9h.7M256.6 252.7h.7M276.1 265.0h.7M226.9 264.8h.7M248.0 259.4h.7M231.4 265.7h.7M264.4 271.2h.7M226.8 270.9h.7M232.9 259.2h.7M265.1 251.5h.7M252.8 267.9h.7M266.0 267.0h.7M228.7 255.6h.7M278.3 259.1h.7M234.9 253.2h.7M250.3 261.5h.7M233.7 255.5h.7M252.8 269.0h.7M233.7 260.9h.7M250.8 260.0h.7M221.5 267.0h.7M255.2 262.4h.7M220.6 263.7h.7M248.8 263.5h.7M243.3 265.4h.7M233.5 230.0h.7M250.2 272.3h.7M231.2 258.5h.7M266.0 231.6h.7M266.5 253.6h.7M258.3 222.6h.7M234.4 268.0h.7M253.0 242.1h.7M221.4 257.7h.7M228.9 232.5h.7M237.1 245.6h.7M254.3 251.1h.7M224.4 269.6h.7M256.9 268.6h.7M258.3 261.9h.7M237.8 242.4h.7M238.7 269.6h.7M248.1 252.8h.7M258.8 231.2h.7M234.3 266.4h.7M271.3 248.3h.7M235.2 271.4h.7M230.2 251.9h.7M249.9 271.1h.7M247.0 262.6h.7M227.4 260.4h.7M222.8 264.5h.7M243.3 243.7h.7M243.6 232.4h.7M259.9 243.9h.7M253.9 268.5h.7M239.1 271.5h.7M252.5 267.3h.7M224.8 262.0h.7M238.0 246.5h.7M263.3 243.7h.7M254.4 231.1h.7M240.1 253.2h.7M224.7 270.6h.7M234.6 251.1h.7M231.6 256.8h.7M230.6 264.5h.7M232.6 268.7h.7M229.1 267.0h.7M235.7 270.9h.7M271.7 267.2h.7M224.8 251.2h.7M265.8 266.3h.7M254.9 273.2h.7M260.5 270.5h.7M268.2 249.4h.7M242.6 265.6h.7M245.6 272.9h.7M254.0 256.9h.7M278.7 259.3h.7M230.3 258.9h.7M259.7 261.9h.7M244.5 267.6h.7M257.5 272.0h.7M250.3 265.5h.7M261.0 250.0h.7M225.7 258.4h.7M222.7 264.3h.7M239.5 260.4h.7M263.8 270.8h.7M243.2 264.2h.7M221.0 260.2h.7M263.2 268.4h.7M248.4 259.7h.7M246.0 264.4h.7M248.9 273.0h.7M269.8 260.2h.7M232.5 269.1h.7M250.8 270.9h.7M267.2 273.2h.7M251.2 263.7h.7M242.6 257.0h.7M260.1 241.0h.7M245.7 250.8h.7M266.7 235.5h.7M221.7 254.6h.7M246.0 241.2h.7M249.8 269.1h.7M270.4 258.7h.7M269.4 234.3h.7M245.5 241.1h.7M238.1 266.7h.7M244.7 256.3h.7M255.7 265.3h.7M250.1 266.1h.7M266.6 234.6h.7M274.1 261.3h.7M261.8 264.0h.7M259.0 270.2h.7M226.4 267.1h.7M251.6 265.1h.7M265.6 258.6h.7M222.9 271.0h.7M244.7 266.9h.7M258.2 255.0h.7M247.2 247.2h.7M272.2 268.7h.7M266.5 243.8h.7M278.4 255.7h.7M228.3 237.4h.7M257.9 249.1h.7M224.9 266.3h.7M249.1 273.2h.7M248.7 221.3h.7M257.6 257.4h.7M222.7 266.8h.7M262.0 260.9h.7M232.7 252.4h.7M246.1 245.6h.7M224.7 262.7h.7M267.7 250.9h.7M237.9 242.8h.7M221.2 269.4h.7M222.7 261.8h.7M254.2 263.7h.7M240.2 229.9h.7M252.8 233.8h.7M241.8 254.2h.7M234.2 267.7h.7M240.9 263.2h.7M255.8 265.5h.7M224.9 270.6h.7M249.5 256.2h.7M245.5 255.0h.7M239.2 272.2h.7M271.9 257.2h.7M222.3 269.2h.7M255.3 272.1h.7M266.4 234.5h.7M239.9 267.1h.7M221.6 254.1h.7M267.5 214.9h.7M266.8 246.7h.7M244.8 271.4h.7M225.9 273.1h.7M273.6 260.5h.7M256.9 272.2h.7M278.8 271.3h.7M248.6 247.9h.7M263.2 256.9h.7M250.1 242.2h.7M220.5 268.1h.7M250.6 251.9h.7M251.7 242.3h.7M223.4 271.6h.7M253.8 254.4h.7M225.6 253.6h.7M236.6 260.3h.7M266.9 258.5h.7M235.4 251.0h.7M236.4 256.0h.7M230.0 271.1h.7M239.5 264.5h.7M261.5 236.6h.7M255.7 222.7h.7M279.7 230.6h.7M268.7 259.2h.7M268.4 254.6h.7M267.2 241.6h.7M252.4 265.5h.7M267.5 269.3h.7M268.5 262.0h.7M255.3 270.8h.7M234.2 252.1h.7M240.9 262.9h.7M276.9 265.6h.7M262.5 236.8h.7M265.1 267.6h.7M239.1 257.8h.7M229.6 267.9h.7M227.5 265.6h.7M224.6 264.1h.7M228.3 260.7h.7M277.2 228.7h.7M265.7 271.1h.7M238.7 268.4h.7M252.4 219.9h.7M222.6 266.8h.7M261.6 260.2h.7M220.7 265.3h.7M226.8 272.6h.7M229.3 269.4h.7M235.2 273.1h.7M248.7 272.1h.7M239.7 256.7h.7M252.5 236.5h.7M264.2 250.3h.7M253.3 259.5h.7M226.5 269.5h.7M249.7 269.2h.7M245.5 246.1h.7M232.9 247.3h.7M232.5 261.4h.7M262.1 249.1h.7M256.5 258.2h.7M240.6 266.0h.7M256.8 261.4h.7M222.5 263.6h.7M234.5 232.4h.7M265.9 224.4h.7M223.3 267.0h.7M263.6 269.1h.7M247.0 269.2h.7M260.2 265.3h.7M256.5 246.9h.7M252.0 234.0h.7M277.7 268.3h.7M248.1 232.3h.7M249.4 250.7h.7M250.6 263.4h.7M267.8 255.4h.7M246.5 256.7h.7M257.7 259.9h.7M243.0 237.2h.7M274.9 244.0h.7M264.2 264.9h.7M242.6 270.5h.7M256.9 245.9h.7M229.6 263.4h.7M272.5 226.4h.7M255.3 273.0h.7M226.7 268.4h.7M254.4 254.9h.7M250.8 251.3h.7M247.1 266.3h.7M222.6 267.7h.7M262.0 263.6h.7M276.5 226.7h.7M237.2 252.7h.7M259.7 230.1h.7M272.4 272.7h.7M237.9 258.6h.7M237.1 271.8h.7M278.0 248.2h.7M254.2 269.2h.7M231.3 257.6h.7M276.9 259.1h.7M231.7 257.3h.7M230.9 260.2h.7M248.7 269.6h.7M233.1 272.2h.7M267.0 263.9h.7M222.6 263.9h.7M270.7 237.2h.7M260.8 225.0h.7M246.4 270.8h.7M222.8 262.2h.7M250.2 255.1h.7M239.3 258.6h.7M246.7 256.7h.7M271.4 253.4h.7M271.7 265.2h.7M270.6 270.8h.7M222.1 265.7h.7M223.8 258.3h.7M259.6 251.8h.7M274.6 236.3h.7M238.2 266.6h.7M253.9 253.6h.7M268.2 227.2h.7M229.1 244.3h.7M278.2 270.6h.7M268.9 191.7h.7M244.6 272.7h.7M235.5 243.5h.7M245.8 231.9h.7M251.7 238.5h.7M239.3 271.0h.7M260.3 259.7h.7M221.8 268.6h.7M278.6 246.3h.7M222.7 260.7h.7M257.8 241.0h.7M269.4 256.2h.7M243.3 265.9h.7M256.4 244.9h.7M261.4 260.7h.7M233.2 249.1h.7M239.4 272.6h.7M232.9 246.6h.7M233.7 263.0h.7M256.1 267.9h.7M264.1 258.9h.7M246.3 269.0h.7M250.6 263.7h.7M242.2 252.3h.7M244.0 246.4h.7M251.3 268.2h.7M225.7 249.7h.7M251.9 271.0h.7M265.2 267.0h.7M233.9 266.8h.7M248.0 263.6h.7M221.2 270.7h.7M268.7 271.8h.7M236.0 257.6h.7M257.0 260.1h.7M256.4 245.0h.7M265.9 239.4h.7M223.6 263.5h.7M241.9 251.3h.7M227.1 259.7h.7M273.7 267.7h.7M239.9 247.0h.7M262.6 272.3h.7M265.1 253.5h.7M227.8 267.0h.7M237.6 247.6h.7M237.4 259.2h.7M254.2 213.0h.7M255.1 240.4h.7M247.0 267.6h.7M248.5 265.2h.7M279.0 240.3h.7M223.4 267.8h.7M228.8 256.5h.7M223.3 251.9h.7M271.3 255.3h.7M271.8 245.2h.7M233.8 251.7h.7M223.0 265.9h.7M248.1 228.8h.7M253.2 258.8h.7M258.4 253.4h.7M264.2 259.8h.7M223.6 249.3h.7M225.1 262.7h.7M263.9 257.2h.7M244.9 271.1h.7M269.5 238.5h.7M234.2 265.5h.7M255.0 262.3h.7M260.9 265.7h.7M270.3 253.4h.7M235.6 256.2h.7M239.3 262.9h.7M258.7 270.5h.7M220.6 263.5h.7M234.6 260.5h.7M269.3 230.2h.7M241.4 267.8h.7M236.7 232.7h.7M260.6 246.0h.7M257.1 251.9h.7M240.2 258.8h.7M237.8 251.7h.7M223.4 264.6h.7M233.7 256.1h.7M227.4 255.4h.7M243.3 269.8h.7M248.4 242.3h.7M258.2 266.5h.7M235.6 249.6h.7M259.1 259.7h.7M275.0 251.6h.7M238.0 257.2h.7M274.9 265.1h.7M228.5 272.5h.7M250.9 266.6h.7M221.9 257.6h.7M234.7 266.1h.7M242.5 251.3h.7M244.9 246.0h.7M260.9 265.2h.7M248.3 236.6h.7M240.7 245.1h.7M262.1 244.5h.7M270.7 271.6h.7M275.4 262.5h.7M236.4 261.9h.7M223.8 258.0h.7M266.8 232.3h.7M232.9 267.3h.7M253.5 223.7h.7M253.8 248.3h.7M239.4 243.6h.7M253.6 267.1h.7M271.4 233.5h.7M269.5 272.3h.7M276.4 264.0h.7M223.7 271.7h.7M262.1 265.0h.7M243.8 256.8h.7M234.9 268.6h.7M232.3 270.6h.7M249.9 217.7h.7M249.1 268.0h.7M227.6 253.5h.7M262.3 251.0h.7M241.7 257.2h.7M268.8 269.0h.7M249.6 263.4h.7M227.5 260.4h.7M245.9 244.2h.7M241.0 255.7h.7M226.9 255.1h.7M239.7 259.0h.7M224.9 272.8h.7M227.4 263.7h.7M278.5 234.7h.7M246.9 242.0h.7M264.8 244.6h.7M225.0 264.7h.7M256.3 269.9h.7M256.9 245.5h.7M234.5 261.5h.7M233.7 265.4h.7M273.5 250.9h.7M245.9 271.0h.7M270.4 271.3h.7M252.3 271.2h.7M274.1 267.9h.7M269.0 266.8h.7M224.1 265.9h.7M237.7 251.4h.7M221.0 250.7h.7M231.9 249.4h.7M258.8 267.7h.7M265.6 230.3h.7M224.3 253.7h.7M221.6 268.5h.7M226.7 256.2h.7M241.0 255.7h.7M264.5 266.0h.7M236.9 267.8h.7M221.4 269.2h.7M234.9 249.3h.7M259.1 254.8h.7M257.1 251.5h.7M228.5 272.3h.7M233.2 272.5h.7M267.6 264.6h.7M226.0 269.6h.7M251.3 218.6h.7M248.9 270.9h.7M240.3 248.5h.7M241.0 266.9h.7M252.3 264.3h.7M265.6 267.1h.7M224.4 269.0h.7M221.8 255.4h.7M255.3 270.6h.7M255.8 248.9h.7M229.4 237.4h.7M259.9 236.5h.7M264.8 267.8h.7M272.3 268.2h.7M230.4 268.1h.7M245.1 252.2h.7M266.6 237.6h.7M222.7 254.9h.7M266.4 222.9h.7M267.3 225.9h.7M222.8 272.7h.7M269.1 266.9h.7M267.1 263.6h.7M259.9 268.7h.7M269.1 266.7h.7M252.0 255.5h.7M243.0 258.4h.7M221.7 261.7h.7M256.0 244.2h.7M274.1 269.9h.7M236.4 256.0h.7M248.1 239.3h.7M227.4 261.4h.7M228.8 256.0h.7M258.9 261.1h.7M247.2 246.0h.7M225.4 253.9h.7M257.8 266.8h.7M277.8 260.5h.7M260.1 263.9h.7M261.5 253.8h.7M243.9 266.0h.7M237.2 265.2h.7M239.8 271.6h.7M273.9 271.0h.7M220.7 251.2h.7M235.1 264.8h.7M243.8 272.5h.7M273.0 262.7h.7M224.9 268.0h.7M254.0 265.6h.7M245.3 253.5h.7M252.9 252.9h.7M228.6 268.6h.7M260.1 250.0h.7M237.0 252.9h.7M253.7 256.7h.7M241.1 238.6h.7M246.8 227.3h.7M243.7 260.1h.7M263.6 236.3h.7M235.9 256.9h.7M227.1 245.1h.7M224.4 261.0h.7M266.7 250.0h.7M262.2 270.3h.7M220.6 268.5h.7M237.1 259.9h.7M222.4 270.6h.7M238.7 271.8h.7M262.6 232.1h.7M247.5 253.4h.7M253.8 250.2h.7M241.3 254.0h.7M256.7 256.9h.7M244.5 253.2h.7M226.6 254.3h.7M257.3 248.9h.7M272.6 266.9h.7M266.7 252.6h.7M267.0 272.3h.7M250.8 244.4h.7M249.4 251.8h.7M259.3 233.9h.7M243.5 256.0h.7M237.5 271.8h.7M222.4 260.1h.7M223.0 265.7h.7M270.1 236.7h.7M226.7 266.4h.7M234.2 271.4h.7M241.6 237.8h.7M226.4 263.9h.7M267.4 262.3h.7M238.2 243.4h.7M261.7 212.3h.7M268.9 259.8h.7M260.7 268.6h.7M234.3 241.7h.7M260.6 257.2h.7M227.7 251.2h.7M254.4 263.4h.7M248.4 227.1h.7M246.5 264.1h.7M246.9 259.4h.7M244.8 266.0h.7M244.8 266.3h.7M264.4 253.6h.7M256.2 263.7h.7M237.1 266.6h.7M255.0 259.5h.7M244.2 229.8h.7M236.7 252.9h.7M271.5 271.3h.7M221.7 268.7h.7M268.1 234.9h.7M226.1 271.4h.7M256.1 260.5h.7M241.6 246.3h.7M222.6 268.5h.7M229.1 272.6h.7M226.5 242.8h.7M250.9 240.3h.7M229.8 256.8h.7M260.5 248.8h.7M231.6 263.5h.7M244.7 260.3h.7M236.5 254.9h.7M273.4 246.1h.7M272.9 249.2h.7M269.5 259.8h.7M273.6 265.2h.7M241.3 266.2h.7M229.3 253.2h.7M254.8 245.6h.7M238.8 255.9h.7M257.0 266.7h.7M239.4 249.3h.7M276.3 264.1h.7M234.0 257.3h.7M233.1 256.9h.7M255.0 267.6h.7M255.7 267.5h.7M258.0 261.1h.7M224.1 261.7h.7M270.0 253.8h.7M269.6 241.5h.7M254.6 265.7h.7M238.9 259.5h.7M220.6 271.0h.7M233.0 260.7h.7M244.1 273.1h.7M253.3 256.3h.7M245.3 273.0h.7M233.6 259.2h.7M243.7 266.1h.7M239.5 271.6h.7M245.3 228.9h.7M229.3 266.2h.7M225.0 267.6h.7M235.4 256.9h.7M272.5 266.2h.7M235.1 246.5h.7M239.4 272.4h.7M251.0 256.9h.7M278.6 218.8h.7M254.7 249.9h.7M266.6 263.9h.7M262.3 251.5h.7M256.8 270.5h.7M239.4 264.7h.7M261.8 247.6h.7M259.9 230.9h.7M223.6 264.9h.7M241.8 264.3h.7M250.3 257.2h.7M252.2 223.6h.7M225.3 250.3h.7M268.7 269.3h.7M231.0 259.0h.7M261.1 272.8h.7M224.4 252.2h.7M258.9 246.6h.7M234.9 240.9h.7M256.0 265.1h.7M277.2 250.1h.7M243.5 244.5h.7M256.5 252.4h.7M229.8 270.9h.7M241.4 255.4h.7M221.4 263.5h.7M255.8 214.8h.7M224.2 260.3h.7M262.0 254.9h.7M269.4 266.7h.7M238.1 263.1h.7M239.7 260.0h.7M248.2 260.1h.7M279.7 239.3h.7M266.8 258.5h.7M240.6 249.4h.7M233.4 250.1h.7M241.3 246.7h.7M237.6 271.0h.7M252.2 246.7h.7M258.9 270.9h.7M239.2 222.1h.7M246.0 252.3h.7M260.7 268.9h.7M272.3 242.2h.7M268.5 246.7h.7M240.0 235.0h.7M223.1 248.7h.7M226.1 270.4h.7M270.2 225.7h.7M266.7 261.6h.7M246.5 265.2h.7M271.6 269.3h.7M224.5 267.2h.7M265.9 256.5h.7M221.6 271.1h.7M274.3 272.3h.7M256.7 230.8h.7M241.2 261.7h.7M267.1 253.6h.7M225.9 264.4h.7M257.0 255.3h.7M243.8 271.2h.7M236.6 245.7h.7M267.5 266.4h.7M247.9 252.8h.7M254.8 248.1h.7M247.4 261.3h.7M278.4 242.8h.7M276.8 252.6h.7M237.6 272.1h.7M259.3 240.9h.7M247.6 253.9h.7M242.8 261.6h.7M238.2 233.9h.7M223.7 270.4h.7M261.1 268.9h.7M220.7 271.8h.7M236.4 237.2h.7M268.9 271.0h.7M257.3 235.9h.7M278.1 259.7h.7M249.2 258.3h.7M228.1 262.1h.7M259.4 263.6h.7M269.2 238.8h.7M237.5 267.2h.7M231.0 270.7h.7M248.3 236.4h.7M247.4 250.2h.7M244.8 261.1h.7M225.5 242.1h.7M237.0 258.7h.7M229.7 270.6h.7M262.1 256.5h.7M266.9 254.8h.7M227.8 263.3h.7M263.1 265.1h.7M244.7 264.1h.7M255.3 243.6h.7M261.6 268.7h.7M243.2 266.2h.7M248.0 260.4h.7M226.6 253.2h.7M271.5 238.3h.7M248.6 219.8h.7M245.6 247.9h.7M271.8 264.3h.7M224.5 265.6h.7M233.0 268.9h.7M269.3 251.2h.7M278.8 233.7h.7M240.8 269.7h.7M228.6 259.0h.7M225.2 273.0h.7M230.7 242.7h.7M262.0 232.8h.7M245.5 252.0h.7M240.4 269.1h.7M221.1 265.2h.7M263.8 259.4h.7M248.7 267.7h.7M269.0 269.2h.7M263.8 267.6h.7M224.4 248.0h.7M247.0 250.5h.7M225.7 272.4h.7M269.7 244.5h.7M225.5 259.2h.7M233.3 266.4h.7M262.9 263.9h.7M252.1 255.9h.7M251.1 257.1h.7M269.6 267.3h.7M240.5 245.4h.7M233.7 256.1h.7M264.0 251.5h.7M228.5 269.3h.7M239.1 250.8h.7M265.0 263.8h.7M226.9 258.8h.7M256.4 266.9h.7M249.4 246.1h.7M244.7 251.2h.7M225.2 269.7h.7M236.3 235.5h.7M229.0 272.0h.7M275.5 268.1h.7M236.1 252.6h.7M233.7 248.4h.7M276.7 245.9h.7M240.9 252.2h.7M229.6 265.4h.7M230.2 265.6h.7M250.8 237.8h.7M254.1 264.1h.7M252.9 265.0h.7M230.5 270.9h.7M268.3 256.1h.7M230.9 243.2h.7M263.7 255.7h.7M229.3 248.5h.7M221.0 260.9h.7M235.4 270.0h.7M244.0 271.6h.7M225.7 252.1h.7M247.0 271.6h.7M275.4 251.4h.7M256.0 257.3h.7M264.3 260.3h.7M238.6 244.0h.7M233.0 260.6h.7M227.8 267.7h.7M236.1 261.3h.7M272.0 259.5h.7M223.0 263.5h.7M269.4 271.7h.7M243.3 272.4h.7M277.7 272.4h.7M256.1 270.3h.7M261.2 269.3h.7M251.3 262.4h.7M233.3 268.3h.7M254.6 268.5h.7M278.8 216.2h.7M246.1 268.9h.7M223.4 265.3h.7M274.2 228.2h.7M252.6 262.6h.7M274.6 270.6h.7M230.4 249.0h.7M257.6 240.2h.7M279.3 237.3h.7M225.3 255.1h.7M264.3 260.4h.7M257.3 267.9h.7M253.0 244.0h.7M231.7 236.6h.7M240.2 270.9h.7M262.9 216.7h.7M261.5 233.5h.7M241.0 244.0h.7M220.6 270.0h.7M250.0 272.9h.7M260.3 240.6h.7M261.7 268.1h.7M255.3 257.4h.7M258.1 265.7h.7M232.2 250.8h.7M260.8 272.2h.7M260.9 266.7h.7M270.9 260.7h.7M277.4 252.8h.7M230.5 272.8h.7M266.3 231.6h.7M240.1 256.0h.7M241.6 263.2h.7M268.7 254.0h.7M240.3 263.9h.7M254.9 268.6h.7M255.7 232.3h.7M234.1 266.0h.7M221.2 267.5h.7M258.3 249.1h.7M277.4 254.2h.7M221.8 268.4h.7M244.9 254.8h.7M272.3 251.1h.7M226.0 268.0h.7M221.3 271.6h.7M253.7 270.9h.7M255.8 254.2h.7M254.4 260.1h.7M278.9 271.1h.7M234.2 263.4h.7M272.9 252.9h.7M269.8 262.1h.7M274.2 257.6h.7M252.9 268.6h.7M250.8 254.8h.7M248.7 252.5h.7M254.5 231.7h.7M247.0 232.6h.7M263.9 266.5h.7M229.6 267.0h.7M234.8 267.6h.7M245.8 245.5h.7M241.4 258.9h.7M225.3 261.3h.7M224.3 258.5h.7M265.8 259.3h.7M277.1 263.2h.7M229.4 249.0h.7M233.9 263.4h.7M256.4 262.5h.7M245.1 247.2h.7M266.4 229.3h.7M238.8 266.7h.7M262.1 264.1h.7M231.9 272.3h.7M253.5 249.8h.7M251.6 269.2h.7M251.6 242.8h.7M252.7 249.7h.7M224.2 273.1h.7M248.7 251.9h.7M240.0 262.5h.7M226.7 265.9h.7M228.1 270.7h.7M271.3 251.4h.7M254.5 249.1h.7M239.8 249.9h.7M248.0 225.6h.7M271.1 253.5h.7M240.2 236.9h.7M259.4 244.9h.7M272.3 252.2h.7M261.8 212.0h.7M255.2 228.1h.7M270.0 273.1h.7M230.5 255.9h.7M264.1 272.7h.7M252.9 260.4h.7M235.4 261.7h.7M262.2 254.2h.7M265.9 243.0h.7M243.4 258.8h.7M232.4 267.9h.7M243.1 255.0h.7M240.5 265.4h.7M240.3 256.2h.7M267.6 250.8h.7M262.2 241.1h.7M269.0 249.1h.7M264.0 235.4h.7M247.4 265.5h.7M255.2 263.5h.7M264.5 271.4h.7M237.7 267.1h.7M230.9 272.6h.7M272.1 223.9h.7M233.3 262.8h.7M235.2 250.4h.7M267.9 255.4h.7M270.5 265.4h.7M253.6 245.3h.7M232.6 260.2h.7M243.4 271.4h.7M230.3 269.9h.7M227.0 264.9h.7M256.8 264.0h.7M257.7 259.6h.7M268.7 254.6h.7M268.4 231.9h.7M228.1 244.3h.7M255.4 264.8h.7M233.3 247.6h.7M262.5 259.2h.7M237.0 273.1h.7M272.8 267.4h.7M239.8 264.5h.7M262.2 238.5h.7M268.4 266.3h.7M270.1 263.8h.7M271.1 251.3h.7M239.3 270.8h.7M257.7 259.3h.7M239.4 241.5h.7M252.0 251.0h.7M249.0 269.7h.7M246.4 273.0h.7M252.9 269.6h.7M277.6 272.2h.7M246.4 270.1h.7M227.5 262.2h.7M264.7 267.6h.7M260.7 268.4h.7M228.1 259.8h.7M264.4 263.5h.7M248.2 251.5h.7M237.2 259.9h.7M259.9 236.1h.7M259.0 262.9h.7M259.8 202.7h.7M269.9 259.4h.7M224.2 268.3h.7M258.2 218.8h.7M256.6 255.8h.7M278.6 271.3h.7M258.6 233.9h.7M257.7 261.9h.7M230.1 267.6h.7M258.7 261.1h.7M252.9 256.8h.7M258.5 256.3h.7M263.0 242.8h.7M268.4 226.6h.7M247.5 223.9h.7M258.5 216.6h.7M270.7 241.9h.7M248.8 263.5h.7M252.1 229.5h.7M260.2 237.9h.7M270.9 255.7h.7M248.4 257.4h.7M266.0 255.5h.7M279.6 263.5h.7M253.0 256.8h.7M238.0 254.2h.7M222.5 256.1h.7M258.8 257.6h.7M239.6 251.0h.7M235.5 257.1h.7M250.1 264.8h.7M248.5 253.8h.7M233.8 266.2h.7M247.4 264.7h.7M237.9 267.4h.7M224.8 272.8h.7M240.4 272.9h.7M227.2 260.7h.7M230.1 263.4h.7M264.7 263.3h.7M250.7 248.4h.7M246.4 261.5h.7M263.5 272.4h.7M253.4 252.3h.7M264.6 250.9h.7M220.9 268.0h.7M238.2 270.4h.7M262.3 227.3h.7M237.3 236.6h.7M276.8 192.9h.7M255.3 247.4h.7M224.2 261.5h.7M273.7 237.7h.7M235.0 263.3h.7M266.5 250.4h.7M238.4 258.3h.7M272.2 267.6h.7M230.8 261.8h.7M234.4 248.4h.7M223.2 250.4h.7M248.7 224.2h.7M226.8 271.5h.7M244.8 236.3h.7M266.9 254.7h.7M253.2 222.4h.7M254.9 258.4h.7M239.9 252.6h.7M260.4 251.3h.7M249.1 271.5h.7M262.2 253.3h.7M231.7 272.6h.7M225.5 271.1h.7M230.5 264.9h.7M273.7 232.5h.7M242.7 260.1h.7M243.0 264.2h.7M241.6 255.8h.7M268.9 246.7h.7M238.9 257.3h.7M233.4 270.1h.7M244.7 263.3h.7M253.8 239.9h.7M274.4 267.5h.7M254.5 258.8h.7M225.6 268.5h.7M255.2 272.1h.7M259.4 236.7h.7M252.2 221.1h.7M261.4 260.0h.7M268.7 250.2h.7M267.5 257.8h.7M268.9 255.7h.7M239.2 260.1h.7M259.3 240.8h.7M248.5 268.5h.7M239.2 268.4h.7M261.9 264.9h.7M251.0 265.4h.7M251.0 271.6h.7M257.3 251.4h.7M239.5 271.2h.7M240.4 261.9h.7M258.7 254.7h.7M240.7 272.6h.7M223.8 261.6h.7M255.4 257.8h.7M228.0 251.5h.7M230.4 257.3h.7M233.5 266.8h.7M258.9 258.2h.7M257.8 267.7h.7M237.1 255.3h.7M225.9 251.7h.7M224.8 240.4h.7M254.6 267.7h.7M250.3 273.0h.7M251.6 258.5h.7M242.1 267.3h.7M265.8 254.3h.7M237.5 244.4h.7M266.6 253.9h.7M263.0 215.3h.7M225.2 260.4h.7M234.7 268.3h.7M224.9 257.0h.7M256.2 197.4h.7M269.9 242.5h.7M234.5 259.6h.7M240.9 271.3h.7M261.5 259.3h.7M240.4 265.4h.7M230.3 266.5h.7M243.0 272.7h.7M252.9 273.1h.7M229.6 264.7h.7M231.6 265.0h.7M241.7 258.6h.7M249.7 264.5h.7M265.6 271.9h.7M239.0 273.2h.7M268.2 244.5h.7M258.4 266.5h.7M271.9 265.2h.7M241.3 263.7h.7M279.2 273.1h.7M234.8 261.5h.7M221.8 270.5h.7M272.0 263.9h.7M264.7 215.8h.7M234.2 268.0h.7M243.3 239.8h.7M239.6 260.9h.7M224.3 260.5h.7M271.4 266.0h.7M259.7 264.0h.7M255.1 231.2h.7M245.0 231.1h.7M259.0 268.9h.7M227.1 269.1h.7M243.7 247.5h.7M233.3 250.6h.7M248.8 261.1h.7M225.3 272.3h.7M265.3 243.5h.7M254.6 263.1h.7M252.9 258.0h.7M231.4 265.7h.7M267.4 266.5h.7M254.3 273.0h.7M224.7 247.1h.7M255.6 251.9h.7M247.8 221.6h.7M242.2 244.9h.7M231.5 248.3h.7M263.7 265.4h.7M222.1 252.9h.7M275.1 250.4h.7M240.9 262.2h.7M262.0 224.3h.7M232.6 246.6h.7M258.8 241.3h.7M221.2 271.5h.7M255.0 265.5h.7M263.0 270.6h.7M269.1 249.0h.7M234.2 269.2h.7M269.3 215.8h.7M224.0 263.1h.7M245.1 228.4h.7M258.8 268.4h.7M260.7 265.3h.7M228.7 254.5h.7M226.9 263.5h.7M227.2 258.2h.7M271.8 267.0h.7M241.6 243.3h.7M229.1 264.3h.7M237.1 268.6h.7M250.5 245.0h.7M229.5 273.0h.7M268.3 259.7h.7M254.0 243.4h.7M250.9 268.1h.7M235.1 250.7h.7M265.3 269.0h.7M265.1 245.6h.7M276.9 264.6h.7M259.4 221.2h.7M239.3 268.3h.7M228.5 272.6h.7M270.3 270.0h.7M245.2 248.5h.7M242.5 262.1h.7M272.8 262.4h.7M220.9 263.7h.7M237.9 269.5h.7M250.4 253.6h.7M220.8 254.8h.7M250.5 217.0h.7M240.1 252.1h.7M243.1 270.8h.7M239.8 269.3h.7M259.3 232.3h.7M233.3 261.8h.7M269.4 235.1h.7M223.8 265.1h.7M236.4 243.4h.7M270.9 248.2h.7M256.6 244.0h.7M277.2 264.2h.7M227.3 271.7h.7M255.3 272.1h.7M243.8 260.2h.7M268.2 266.5h.7M234.8 256.2h.7M273.8 247.9h.7M228.6 252.6h.7M253.1 226.9h.7M227.4 269.8h.7M224.7 269.1h.7M237.8 243.8h.7M261.7 258.8h.7M248.5 250.5h.7M240.4 244.8h.7M240.6 260.9h.7M223.4 272.7h.7M225.4 270.2h.7M244.8 239.6h.7M261.6 242.2h.7M227.0 256.2h.7M246.9 270.0h.7M231.2 263.1h.7M231.4 270.3h.7M248.7 261.2h.7M252.6 273.1h.7M238.9 271.2h.7M243.2 267.7h.7M233.5 271.4h.7M247.3 270.1h.7M269.1 273.1h.7M244.2 269.6h.7M250.9 250.1h.7M234.8 255.2h.7M272.1 250.6h.7M244.9 260.5h.7M257.2 265.9h.7M236.3 265.6h.7M262.1 272.2h.7M260.0 243.7h.7M234.1 269.9h.7M222.5 267.1h.7M260.6 264.2h.7M225.3 269.5h.7M224.3 265.6h.7M264.3 258.7h.7M244.6 216.3h.7M254.3 219.9h.7M236.0 266.2h.7M270.9 253.4h.7M267.9 267.6h.7M231.1 268.8h.7M270.5 252.9h.7M221.5 262.9h.7M235.3 247.6h.7M258.4 265.2h.7M225.1 248.4h.7M253.7 268.9h.7M249.6 270.3h.7M242.5 254.0h.7M233.3 264.4h.7M230.7 271.2h.7M260.8 258.3h.7M226.6 271.2h.7M253.8 252.2h.7M276.8 267.7h.7M276.2 257.1h.7M261.1 265.4h.7M272.0 264.7h.7M260.8 254.1h.7M240.2 267.8h.7M268.0 272.1h.7M230.8 263.8h.7M222.8 271.9h.7M237.8 258.0h.7M256.4 242.5h.7M220.6 266.4h.7M228.5 272.3h.7M231.5 269.9h.7M223.3 268.9h.7M277.9 243.3h.7M272.8 213.9h.7M245.7 227.7h.7M270.7 268.7h.7M242.0 271.1h.7M242.2 272.5h.7M254.0 227.0h.7M231.7 273.1h.7M223.8 258.8h.7M255.9 234.3h.7M230.5 265.9h.7M233.1 267.1h.7M268.9 266.3h.7M263.0 266.8h.7M233.9 263.3h.7M234.5 269.0h.7M264.7 223.7h.7M263.5 267.5h.7M252.1 265.0h.7M221.4 265.4h.7M248.5 253.0h.7M231.3 261.5h.7M248.9 250.8h.7M262.4 237.2h.7M229.2 255.8h.7M262.2 241.2h.7M226.9 273.1h.7M230.6 270.4h.7M264.7 249.1h.7M244.2 254.7h.7M273.0 267.6h.7M264.7 243.5h.7M266.8 261.2h.7M259.8 265.4h.7M237.3 261.6h.7M261.6 263.6h.7M238.1 250.5h.7M258.6 238.4h.7M241.6 267.8h.7M257.9 266.2h.7M265.6 262.9h.7M275.6 267.2h.7M238.4 267.1h.7M247.0 269.8h.7M254.6 217.7h.7M267.9 259.3h.7M253.6 261.2h.7M227.9 258.6h.7M261.9 254.4h.7M269.8 265.7h.7M251.7 235.9h.7M243.0 262.0h.7M268.5 264.1h.7M226.4 252.7h.7M245.3 239.2h.7M235.4 254.1h.7M236.1 259.9h.7M222.1 257.6h.7M238.8 246.7h.7M244.4 272.8h.7M253.5 266.3h.7M269.6 255.0h.7M249.8 256.8h.7M257.2 234.2h.7M231.1 268.8h.7M244.7 257.6h.7M256.9 272.1h.7M237.0 246.6h.7M250.8 250.4h.7M272.3 271.2h.7M242.4 255.0h.7M221.0 270.3h.7M242.7 262.0h.7M265.6 270.3h.7M241.1 267.5h.7M229.0 266.3h.7M237.0 261.3h.7M243.0 261.7h.7M269.5 231.1h.7M250.9 264.0h.7M226.6 271.5h.7M244.1 244.2h.7M275.8 258.9h.7M253.2 225.9h.7M230.0 263.4h.7M225.2 264.5h.7M222.3 261.8h.7M221.2 270.2h.7M268.6 251.4h.7M248.0 272.0h.7M232.9 247.0h.7M229.5 265.8h.7M275.8 251.5h.7M246.5 264.4h.7M240.4 262.8h.7M250.2 254.4h.7M241.7 263.5h.7M224.4 253.6h.7M229.9 225.4h.7M244.9 260.1h.7M270.5 237.3h.7M261.9 269.0h.7M271.4 271.4h.7M259.3 256.8h.7M262.6 263.8h.7M273.3 267.8h.7M223.0 271.6h.7M250.3 260.9h.7M226.7 271.4h.7M224.0 265.5h.7M266.5 266.9h.7M241.3 268.7h.7M245.0 267.1h.7M252.0 218.8h.7M236.7 260.1h.7M243.2 265.0h.7M255.2 256.9h.7M234.1 257.9h.7M236.1 256.7h.7M236.0 252.1h.7M252.8 258.3h.7M263.9 264.4h.7M250.7 271.1h.7M264.2 257.5h.7M253.9 248.4h.7M259.7 247.4h.7M249.3 270.1h.7M262.7 237.4h.7M259.0 268.0h.7M246.4 251.7h.7M254.2 263.3h.7M246.0 250.2h.7M242.2 265.9h.7M261.5 268.3h.7M264.3 224.5h.7M271.9 246.7h.7M253.0 256.1h.7M260.7 265.1h.7M222.1 270.6h.7M228.2 267.3h.7M241.0 257.2h.7M228.5 265.3h.7M279.2 260.3h.7M222.5 259.9h.7M266.1 257.8h.7M262.4 211.9h.7M253.7 245.7h.7M240.8 268.1h.7M224.6 255.6h.7M244.6 245.7h.7M265.4 252.0h.7M263.5 265.8h.7M275.5 254.8h.7M255.0 228.3h.7M255.9 263.5h.7M271.1 226.0h.7M233.6 250.7h.7M260.6 249.7h.7M242.4 236.4h.7M222.2 263.9h.7M276.1 266.9h.7M263.4 271.9h.7M256.5 270.8h.7M237.9 265.0h.7M225.2 264.6h.7M227.2 263.5h.7M274.4 271.0h.7M260.7 263.6h.7M231.8 252.5h.7M265.9 258.1h.7M262.9 258.8h.7M267.0 249.2h.7M243.4 265.2h.7M248.6 269.7h.7M247.2 245.6h.7M248.9 269.5h.7M247.3 266.6h.7M233.2 267.0h.7M254.8 249.1h.7M266.4 221.7h.7M272.7 226.0h.7M231.6 244.8h.7M265.7 256.6h.7M249.2 259.3h.7M260.2 244.1h.7M248.5 261.6h.7M258.8 264.3h.7M247.3 252.3h.7M256.9 252.8h.7M248.6 273.1h.7M237.8 267.6h.7M271.6 270.0h.7M234.6 272.1h.7M228.4 271.7h.7M228.0 265.6h.7M248.1 265.6h.7M258.8 248.2h.7M221.0 251.5h.7M244.8 262.0h.7M266.0 264.7h.7M268.6 241.0h.7M266.2 233.0h.7M221.4 266.0h.7M245.4 251.7h.7M246.2 259.3h.7M220.8 263.6h.7M251.8 261.2h.7M231.4 267.2h.7M251.0 268.5h.7M249.9 256.3h.7M263.5 262.6h.7M227.5 269.7h.7M225.8 270.9h.7M236.1 265.0h.7M247.1 245.9h.7M242.4 255.5h.7M267.6 251.2h.7M263.5 237.3h.7M262.4 230.4h.7M255.5 273.1h.7M255.2 249.1h.7M220.8 262.7h.7M256.4 272.6h.7M261.7 231.6h.7M271.8 264.1h.7M263.6 263.6h.7M242.4 264.8h.7M223.2 267.2h.7M233.8 268.1h.7M235.1 249.8h.7M267.4 267.6h.7M259.2 265.0h.7M227.3 261.4h.7M236.3 269.0h.7M267.8 271.9h.7M271.5 272.1h.7M267.4 227.4h.7M242.7 236.6h.7M269.7 235.1h.7M246.1 258.9h.7M269.5 259.2h.7M226.1 271.0h.7M234.0 269.7h.7M272.2 246.6h.7M252.2 267.1h.7M235.5 262.8h.7M225.1 260.4h.7M253.3 267.7h.7M258.4 271.3h.7M270.4 273.1h.7M262.9 268.1h.7M224.6 272.8h.7M242.2 240.5h.7M246.7 255.1h.7M264.7 273.2h.7M229.6 267.0h.7M221.9 260.3h.7M279.2 213.9h.7M222.3 259.7h.7M273.1 260.4h.7M265.8 253.8h.7M228.0 257.3h.7M224.1 270.3h.7M245.3 266.1h.7M258.0 248.6h.7M237.7 242.1h.7M240.3 254.9h.7M261.6 268.0h.7M221.7 256.2h.7M252.6 232.7h.7M237.1 257.5h.7M258.5 223.4h.7M269.3 267.3h.7M250.8 249.6h.7M222.1 252.5h.7M254.9 261.5h.7M251.0 272.8h.7M234.7 267.9h.7M231.8 264.7h.7M239.5 248.9h.7M257.3 261.5h.7M254.8 252.7h.7M251.2 270.6h.7M248.2 219.7h.7M262.1 256.5h.7M253.9 243.3h.7M239.9 260.9h.7M236.2 265.8h.7M238.6 268.3h.7M227.4 254.6h.7M264.6 269.9h.7M269.9 271.0h.7M246.4 259.1h.7M252.8 265.5h.7M253.9 241.6h.7M275.4 242.8h.7M222.5 263.5h.7M236.9 251.9h.7M248.1 250.2h.7M249.2 272.7h.7M271.6 234.8h.7M257.5 258.4h.7M267.6 269.6h.7M269.9 261.4h.7M256.4 266.8h.7M278.9 266.9h.7M223.1 269.3h.7M247.6 249.5h.7M261.6 263.8h.7M242.0 255.7h.7M242.9 268.7h.7M244.1 260.9h.7M262.7 261.4h.7M252.5 239.3h.7M279.2 246.9h.7M224.2 257.9h.7M242.5 268.2h.7M228.2 264.5h.7M243.2 264.0h.7M272.5 272.7h.7M235.0 257.5h.7M258.1 271.5h.7M267.2 262.8h.7M272.2 272.7h.7M221.9 246.4h.7M238.4 257.0h.7M226.4 231.2h.7M240.3 270.0h.7M257.3 269.4h.7M223.5 264.6h.7M254.2 261.6h.7M241.5 238.5h.7M236.3 271.0h.7M224.8 261.1h.7M250.8 234.1h.7M264.9 266.7h.7M222.3 253.3h.7M220.6 250.4h.7M270.5 261.1h.7M223.5 267.1h.7M251.0 241.2h.7M244.9 263.5h.7M275.1 221.6h.7M251.6 265.3h.7M255.3 272.0h.7M267.1 254.0h.7M259.3 268.0h.7M264.3 238.5h.7M235.2 270.8h.7M250.5 268.6h.7M259.1 259.0h.7M255.1 251.7h.7M248.9 261.8h.7M267.5 256.0h.7M230.8 266.6h.7M228.6 255.9h.7M231.9 263.3h.7M222.0 261.9h.7M250.5 261.0h.7M232.8 270.1h.7M254.5 249.7h.7M258.2 265.8h.7M237.7 272.9h.7M254.2 243.6h.7M266.3 258.4h.7M260.9 272.0h.7M236.6 263.5h.7M245.2 253.4h.7M252.7 235.9h.7M232.8 267.1h.7M240.0 262.2h.7M252.1 228.9h.7M267.8 252.7h.7M269.7 242.9h.7M252.1 261.5h.7M249.3 250.8h.7M238.9 251.9h.7M254.2 257.2h.7M270.4 249.9h.7M229.7 268.3h.7M228.7 268.9h.7M220.9 269.8h.7M264.4 268.4h.7M223.5 263.1h.7M249.2 254.2h.7M224.9 261.4h.7M249.7 267.4h.7M227.2 273.0h.7M255.2 230.6h.7M237.2 222.2h.7M265.5 266.7h.7M266.8 268.1h.7M247.0 252.7h.7M262.8 273.1h.7M222.8 264.8h.7M233.3 243.9h.7M265.9 238.8h.7M272.7 257.0h.7M273.4 266.8h.7M247.2 235.6h.7M230.6 266.8h.7M251.8 260.8h.7M265.8 265.2h.7M240.9 259.4h.7M233.0 259.1h.7M250.3 237.4h.7M223.7 259.9h.7M268.0 272.7h.7M270.5 262.6h.7M264.1 222.7h.7M265.9 237.4h.7M228.4 267.4h.7M226.3 261.4h.7M241.2 271.3h.7M242.3 252.7h.7M232.6 271.4h.7M262.5 241.4h.7M248.9 257.0h.7M267.4 266.1h.7M252.8 249.1h.7M247.9 250.8h.7M235.9 266.2h.7M233.9 250.5h.7M255.4 272.1h.7M225.4 253.6h.7M274.3 256.4h.7M252.8 248.8h.7M270.0 255.7h.7M240.6 251.7h.7M220.6 261.3h.7M241.2 265.4h.7M255.0 268.6h.7M254.5 273.2h.7M256.0 210.2h.7M228.9 265.2h.7M246.0 257.6h.7M248.5 242.4h.7M227.9 271.3h.7M250.7 245.9h.7M233.0 248.1h.7M258.7 215.7h.7M275.7 251.1h.7M234.3 265.8h.7M253.8 268.2h.7M253.1 261.9h.7M248.5 261.3h.7M271.1 263.4h.7M245.7 264.5h.7M273.5 257.7h.7M223.4 265.9h.7M249.5 246.7h.7M224.7 265.5h.7M251.6 238.8h.7M277.9 267.9h.7M220.9 262.3h.7M252.2 267.1h.7M272.6 270.3h.7M264.0 271.4h.7M224.9 260.1h.7M237.1 246.9h.7M261.8 269.0h.7M262.7 245.9h.7M277.6 251.7h.7M225.4 256.1h.7M249.1 252.9h.7M224.9 272.4h.7M236.8 255.3h.7M222.7 271.7h.7M228.2 272.1h.7M223.2 261.6h.7M261.6 253.8h.7M263.5 243.5h.7M243.2 272.0h.7M267.3 263.0h.7M244.7 265.6h.7M256.3 256.6h.7M241.7 231.9h.7M232.8 264.3h.7M278.3 272.1h.7M267.7 239.3h.7M224.5 260.5h.7M270.0 262.7h.7M259.4 242.0h.7M226.6 268.6h.7M222.1 268.9h.7M226.0 251.8h.7M278.1 229.9h.7M270.5 269.5h.7M236.4 253.0h.7M256.4 260.7h.7M220.6 266.1h.7M231.2 243.7h.7M278.0 242.4h.7M228.0 272.6h.7M259.6 252.8h.7M232.1 264.5h.7M246.5 268.3h.7M225.2 272.5h.7M275.0 240.6h.7M265.8 235.4h.7M230.1 266.5h.7M271.2 257.6h.7M257.1 266.6h.7M276.1 258.1h.7M269.9 266.5h.7M232.7 248.8h.7M246.8 258.7h.7M233.1 266.7h.7M262.6 260.0h.7M227.8 264.4h.7M237.1 267.8h.7M241.5 261.8h.7M269.3 258.6h.7M241.4 265.4h.7M266.1 256.9h.7M253.8 221.5h.7M228.3 270.8h.7M257.2 271.9h.7M266.4 250.0h.7M264.6 265.8h.7M260.7 241.9h.7M256.4 253.0h.7M261.1 263.0h.7M267.2 245.5h.7M268.3 266.9h.7M246.5 270.3h.7M252.0 253.1h.7M234.5 261.6h.7M242.5 270.3h.7M276.6 254.1h.7M225.2 266.3h.7M233.6 270.2h.7M259.3 248.7h.7M221.1 267.0h.7M273.7 254.5h.7M246.5 267.8h.7M259.8 240.7h.7M265.3 241.3h.7M259.8 261.7h.7M226.3 259.5h.7M271.0 238.1h.7M221.5 266.6h.7M253.8 270.1h.7M264.0 268.3h.7M225.3 264.7h.7M277.6 226.8h.7M238.7 252.3h.7M251.1 244.5h.7M251.7 260.2h.7M231.8 266.3h.7M263.6 266.7h.7M242.1 264.8h.7M258.1 260.1h.7M223.9 268.0h.7M234.3 270.6h.7M254.6 246.4h.7M221.2 259.7h.7M229.8 262.4h.7M266.3 259.5h.7M226.2 267.9h.7M250.0 248.0h.7M242.8 259.4h.7M253.3 272.6h.7M247.3 259.0h.7M254.5 260.6h.7M251.9 257.7h.7M230.2 259.9h.7M227.6 268.7h.7M224.0 265.7h.7M257.1 255.9h.7M278.2 233.2h.7M231.0 273.1h.7M255.4 256.4h.7M263.4 243.9h.7M244.7 255.8h.7M224.4 259.8h.7M265.7 266.2h.7M223.8 264.8h.7M239.4 233.8h.7M240.1 264.9h.7M258.2 259.1h.7M263.1 239.8h.7M221.9 244.8h.7M252.8 260.3h.7M252.1 247.6h.7M227.7 263.9h.7M250.0 232.2h.7M274.2 264.4h.7M243.6 264.0h.7M247.4 257.5h.7M270.8 253.9h.7M222.7 262.6h.7M253.9 260.7h.7M278.2 254.6h.7M255.8 237.0h.7M258.1 260.7h.7M251.8 246.3h.7M242.0 272.4h.7M243.8 240.5h.7M229.2 256.9h.7M251.7 256.5h.7M244.9 266.2h.7M221.6 260.7h.7M267.9 260.3h.7M238.1 229.2h.7M231.0 269.4h.7M267.4 265.7h.7M229.1 253.5h.7M257.1 223.4h.7M246.2 244.8h.7M249.1 261.9h.7M242.9 267.1h.7M226.2 269.0h.7M234.0 260.9h.7M275.5 209.9h.7M240.5 269.6h.7M228.0 263.0h.7M223.2 258.1h.7M240.8 272.8h.7M234.8 248.4h.7M231.4 233.9h.7M247.7 247.1h.7M230.0 269.5h.7M226.1 269.2h.7M251.9 234.9h.7M249.3 269.0h.7M225.8 242.9h.7M259.4 239.4h.7M262.4 267.8h.7M239.4 259.1h.7M254.2 272.1h.7M242.8 271.9h.7M252.1 255.1h.7M262.0 256.8h.7M259.0 260.9h.7M229.7 271.3h.7M257.8 209.6h.7M255.4 254.7h.7M251.0 217.3h.7M232.7 236.7h.7M251.3 267.8h.7M252.3 265.6h.7M232.4 254.4h.7M270.2 240.7h.7M265.2 272.6h.7M250.4 248.7h.7M268.4 250.1h.7M268.9 249.3h.7M275.9 270.6h.7M255.9 248.2h.7M244.0 268.7h.7M262.0 259.5h.7M232.1 268.3h.7M250.0 250.4h.7M258.8 241.1h.7M239.8 264.0h.7M238.6 256.4h.7M276.4 256.8h.7M276.5 272.3h.7M251.1 253.4h.7M244.9 246.7h.7M243.7 250.9h.7M234.3 261.5h.7M268.8 237.1h.7M229.5 272.2h.7M276.3 251.7h.7M235.4 261.5h.7M224.2 262.8h.7M222.8 272.1h.7M271.6 217.4h.7M265.9 256.3h.7M230.2 252.6h.7M229.2 258.2h.7M269.9 262.3h.7M256.7 269.4h.7M221.9 268.1h.7M240.0 234.6h.7M239.9 243.5h.7M239.5 241.5h.7M236.8 242.7h.7M232.6 268.1h.7M229.4 263.0h.7M225.1 271.0h.7M241.3 261.1h.7M275.9 268.4h.7M262.6 263.2h.7M251.5 240.1h.7M228.2 250.9h.7M233.3 272.6h.7M266.2 259.7h.7M249.9 270.3h.7M277.4 262.4h.7M234.3 272.9h.7M254.0 258.4h.7M258.9 263.0h.7M255.7 271.3h.7M228.5 264.2h.7M278.6 241.9h.7M234.7 271.6h.7M235.3 270.4h.7M256.9 241.3h.7M261.7 217.6h.7M251.5 265.8h.7M235.7 272.9h.7M247.9 252.5h.7M240.3 250.1h.7M247.6 259.5h.7M252.3 247.7h.7M247.2 238.1h.7M245.5 264.3h.7M228.7 268.0h.7M255.6 267.4h.7M266.4 270.9h.7M241.3 270.6h.7M272.0 264.8h.7M272.1 270.0h.7M264.1 240.4h.7M257.9 246.4h.7M251.6 259.1h.7M247.2 271.3h.7M276.6 267.9h.7M269.6 251.3h.7M243.1 237.0h.7M249.0 261.9h.7M250.9 261.1h.7M237.5 272.3h.7M224.5 252.0h.7M251.0 249.1h.7M262.1 223.6h.7M264.6 247.8h.7M222.5 268.4h.7M260.3 245.0h.7M231.7 255.3h.7M261.2 235.0h.7M270.3 262.9h.7M237.7 245.0h.7M231.0 262.9h.7M275.8 269.0h.7M257.0 268.6h.7M236.9 272.9h.7M240.6 252.3h.7M221.9 244.9h.7M247.1 255.3h.7M265.5 248.0h.7M229.2 265.2h.7M263.8 239.8h.7M272.6 250.8h.7M262.5 256.2h.7M242.1 248.5h.7M242.3 259.2h.7M278.4 249.3h.7M239.8 255.0h.7M267.1 260.3h.7M272.5 255.2h.7M255.2 271.8h.7M231.6 247.8h.7M221.5 270.0h.7M247.3 271.6h.7M263.1 242.8h.7M268.6 270.7h.7M257.1 263.8h.7M231.7 263.5h.7M271.3 272.2h.7M262.8 249.3h.7M247.9 272.8h.7M253.7 242.6h.7M227.4 270.2h.7M270.6 272.0h.7M257.7 272.4h.7M241.9 257.9h.7M266.3 269.9h.7M245.3 272.0h.7M250.8 261.0h.7M249.9 257.4h.7M230.8 265.6h.7M238.9 255.0h.7M243.4 263.5h.7M272.0 246.2h.7M274.8 240.6h.7M269.4 240.3h.7M242.1 270.0h.7M260.5 268.8h.7M249.6 260.1h.7M233.7 260.4h.7M260.2 266.7h.7M275.9 251.7h.7M256.7 244.7h.7M222.1 260.0h.7M238.5 270.1h.7M254.4 254.2h.7M268.6 253.2h.7M261.5 257.4h.7M265.3 266.5h.7M252.2 262.3h.7M242.6 249.4h.7M227.0 271.0h.7M261.8 261.5h.7M257.8 246.4h.7M266.5 240.0h.7M261.4 244.7h.7M278.4 250.1h.7M274.1 234.4h.7M257.9 265.2h.7M239.4 258.3h.7M222.1 270.5h.7M230.3 256.7h.7M257.0 262.3h.7M278.7 266.0h.7M231.0 254.3h.7M262.0 270.2h.7M250.3 252.8h.7M223.9 267.6h.7M230.8 236.5h.7M246.9 272.5h.7M255.2 272.9h.7M249.2 264.3h.7M222.3 267.7h.7M265.4 268.2h.7M261.4 253.0h.7M272.4 245.3h.7M223.8 268.2h.7M252.1 253.7h.7M268.8 254.1h.7M253.6 272.4h.7M246.4 261.5h.7M233.2 271.3h.7M267.6 221.4h.7M224.2 259.8h.7M270.2 218.2h.7M270.9 241.6h.7M233.8 249.2h.7M266.3 259.8h.7M235.1 249.0h.7M264.3 272.6h.7M247.4 265.6h.7M265.1 261.5h.7M239.2 253.6h.7M272.8 256.2h.7M256.7 225.7h.7M253.0 269.4h.7M261.8 231.5h.7M221.9 260.1h.7M270.7 247.5h.7M239.9 262.2h.7M239.7 264.2h.7M229.8 248.9h.7M222.9 259.3h.7M250.7 265.7h.7M238.9 252.2h.7M262.5 216.0h.7M243.7 238.9h.7M241.9 259.4h.7M231.2 239.6h.7M267.7 265.7h.7M245.6 268.8h.7M238.9 247.1h.7M234.8 265.9h.7M243.0 268.6h.7M234.8 260.5h.7M229.1 268.7h.7M226.8 266.6h.7M258.5 254.3h.7M236.5 271.7h.7M252.7 244.7h.7M243.9 247.7h.7M222.9 264.9h.7M254.4 233.8h.7M234.1 271.6h.7M252.2 250.7h.7M257.6 272.9h.7M256.2 267.5h.7M227.1 271.6h.7M243.5 254.7h.7M275.7 267.0h.7M279.3 266.0h.7M240.0 245.3h.7M269.7 244.1h.7M249.3 271.8h.7M245.3 260.4h.7M221.0 249.7h.7M256.2 257.6h.7M262.5 265.5h.7M231.3 272.8h.7M275.4 260.1h.7M264.0 235.8h.7M277.8 253.9h.7M238.5 264.8h.7M254.0 236.6h.7M266.7 267.1h.7M252.3 270.1h.7M244.8 248.2h.7M234.2 260.4h.7M272.8 245.2h.7M271.3 228.7h.7M241.6 237.5h.7M248.5 258.4h.7M251.8 261.1h.7M271.7 257.9h.7M227.3 256.1h.7M270.4 261.5h.7M237.5 264.9h.7M263.4 263.7h.7M229.2 242.4h.7M277.5 264.9h.7M256.9 267.6h.7M253.3 270.8h.7M228.3 259.1h.7M258.7 218.2h.7M252.5 273.0h.7M248.6 249.5h.7M239.2 269.6h.7M242.1 264.0h.7M220.9 259.2h.7M220.5 271.4h.7M259.1 226.6h.7M267.3 269.9h.7M224.7 251.1h.7M270.5 238.4h.7M275.5 240.2h.7M250.0 259.5h.7M243.2 266.6h.7M234.6 266.5h.7M274.5 271.2h.7M227.8 254.4h.7M236.7 273.0h.7M262.5 248.2h.7M229.1 267.2h.7M250.4 270.1h.7M237.3 270.9h.7M229.5 272.6h.7M231.8 264.4h.7M245.9 240.9h.7M221.3 264.0h.7M257.2 270.3h.7M263.7 218.8h.7M226.9 267.1h.7M261.7 262.5h.7M262.0 237.5h.7M261.8 213.8h.7M239.5 271.6h.7M236.1 249.1h.7M240.0 268.7h.7M260.4 271.7h.7M253.3 260.0h.7M234.2 270.0h.7M254.0 260.9h.7M269.2 252.5h.7M255.1 261.8h.7M262.2 236.4h.7M271.1 263.2h.7M243.8 258.9h.7M270.3 241.5h.7M242.4 242.9h.7M249.4 242.7h.7M225.4 272.1h.7M241.4 255.1h.7M261.2 232.6h.7M230.9 272.4h.7M259.9 264.1h.7M269.9 229.0h.7M239.3 259.9h.7M262.6 262.0h.7M242.5 251.2h.7M230.7 246.5h.7M276.2 239.2h.7M240.4 252.0h.7M247.0 265.8h.7M226.9 260.0h.7M269.7 242.2h.7M237.9 263.0h.7M250.9 246.4h.7M225.2 256.6h.7M271.8 247.9h.7M259.1 256.7h.7M235.2 264.8h.7M266.1 267.5h.7M246.3 252.9h.7M238.9 266.5h.7M235.2 262.1h.7M252.6 256.5h.7M222.7 266.9h.7M264.8 234.8h.7M230.5 251.7h.7M243.5 243.8h.7M254.6 268.7h.7M265.2 272.6h.7M235.7 247.1h.7M254.3 245.5h.7M251.2 261.9h.7M261.9 249.2h.7M271.5 231.6h.7M245.8 263.6h.7M224.1 244.6h.7M250.5 257.5h.7M263.7 260.0h.7M256.3 208.8h.7M236.8 270.9h.7M252.8 258.6h.7M248.4 233.1h.7M258.7 234.9h.7M229.6 271.2h.7M252.1 269.7h.7M248.4 256.2h.7M230.2 264.4h.7M266.4 273.2h.7M262.8 259.9h.7M232.7 246.1h.7M262.5 268.3h.7M268.9 255.8h.7M228.9 270.7h.7M267.6 247.0h.7M273.7 241.0h.7M250.0 256.4h.7M239.3 252.3h.7M266.6 271.3h.7M248.2 262.8h.7M223.2 263.7h.7M272.6 264.0h.7M224.9 267.0h.7M253.4 239.7h.7M248.3 258.6h.7M230.2 255.2h.7M250.7 268.7h.7M243.0 236.8h.7M251.5 269.7h.7M253.3 263.4h.7M223.3 271.1h.7M259.3 244.8h.7M262.0 255.7h.7M255.5 262.3h.7M228.4 270.2h.7M258.7 262.9h.7M231.5 260.4h.7M269.5 243.9h.7M227.0 247.9h.7M243.9 262.0h.7M268.8 262.9h.7M270.0 271.0h.7M239.6 265.7h.7M237.5 240.7h.7M251.4 245.5h.7M225.0 261.2h.7M271.4 253.8h.7M252.9 271.3h.7M251.8 215.6h.7M244.5 263.6h.7M253.0 254.4h.7M224.9 262.8h.7M239.5 246.9h.7M248.3 240.6h.7M259.0 261.9h.7M228.1 270.0h.7M222.3 272.4h.7M227.0 269.1h.7M239.6 239.8h.7M241.6 240.3h.7M239.2 251.1h.7M233.6 261.3h.7M234.4 250.0h.7M240.0 259.3h.7M260.8 270.1h.7M225.7 272.5h.7M228.7 266.2h.7M256.7 272.0h.7M238.2 260.7h.7M228.9 246.3h.7M237.6 268.9h.7M270.2 250.4h.7M269.1 248.9h.7M249.7 262.4h.7M268.7 236.2h.7M265.8 254.9h.7M223.5 259.4h.7M279.5 215.1h.7M240.2 256.9h.7M237.8 260.8h.7M274.7 239.2h.7M263.3 260.5h.7M263.1 257.3h.7M244.5 248.0h.7M242.8 271.0h.7M232.6 268.7h.7M264.3 244.5h.7M248.7 260.4h.7M227.8 259.4h.7M258.8 262.7h.7M258.5 227.8h.7M242.2 266.6h.7M228.9 270.8h.7M231.5 250.2h.7M252.9 265.2h.7M243.3 268.8h.7M232.9 259.2h.7M222.2 270.1h.7M254.6 259.3h.7M228.7 269.4h.7M237.9 232.6h.7M246.1 261.6h.7M229.6 257.1h.7M230.4 258.5h.7M239.0 257.0h.7M246.0 266.1h.7M246.2 263.9h.7M269.4 247.0h.7M265.8 265.1h.7M225.6 248.3h.7M243.0 243.7h.7M232.9 255.6h.7M262.1 244.4h.7M225.6 272.5h.7M249.7 256.1h.7M251.0 269.0h.7M268.0 270.3h.7M265.3 214.6h.7M248.7 262.6h.7M223.4 256.2h.7M226.8 247.9h.7M271.2 266.9h.7M266.5 267.4h.7M272.2 261.1h.7M229.1 257.6h.7M254.7 266.5h.7M270.4 266.6h.7M264.5 234.7h.7M240.3 270.3h.7M238.5 221.0h.7M251.1 239.7h.7M225.8 261.0h.7M265.9 263.2h.7M234.4 255.0h.7M269.1 220.8h.7M268.6 262.5h.7M266.7 231.4h.7M264.5 251.7h.7M253.8 241.2h.7M233.4 255.6h.7M222.2 271.1h.7M224.0 271.5h.7M258.8 248.5h.7M236.3 272.0h.7M258.5 255.1h.7M237.9 254.9h.7M266.2 223.6h.7M274.7 236.4h.7M254.6 265.2h.7M233.5 261.2h.7M248.4 251.4h.7M225.0 250.0h.7M222.5 258.9h.7M271.0 237.0h.7M228.8 253.3h.7M251.2 273.1h.7M249.2 256.5h.7M223.6 266.8h.7M251.4 252.7h.7M228.6 268.3h.7M221.1 250.9h.7M247.5 236.8h.7M233.3 247.5h.7M255.5 236.4h.7M247.3 244.2h.7M259.3 256.6h.7M257.1 266.2h.7M266.2 271.6h.7M256.8 246.0h.7M244.5 240.6h.7M255.4 242.2h.7M242.7 271.3h.7M242.7 250.8h.7M241.5 247.7h.7M256.9 239.6h.7M257.8 248.7h.7M249.3 270.3h.7M230.2 262.5h.7M268.1 256.8h.7M233.8 259.2h.7M247.7 222.0h.7M237.1 252.9h.7M225.8 272.6h.7M266.1 268.4h.7M261.7 252.4h.7M230.2 269.6h.7M243.1 252.1h.7M237.7 252.0h.7M261.7 266.0h.7M247.1 260.4h.7M231.0 261.5h.7M260.0 267.1h.7M244.6 264.5h.7M235.8 250.0h.7M255.4 250.6h.7M226.4 270.3h.7M246.9 253.4h.7M226.9 263.6h.7M251.0 251.2h.7M238.3 264.5h.7M261.6 242.3h.7M267.9 263.1h.7M225.0 270.9h.7M231.2 255.9h.7M252.1 260.8h.7M242.5 265.7h.7M262.3 262.3h.7M271.0 259.7h.7M243.3 247.2h.7M229.9 259.6h.7M257.1 233.6h.7M265.7 216.0h.7M225.3 264.8h.7M246.7 259.6h.7M252.8 233.1h.7M228.5 259.3h.7M235.2 258.0h.7M264.7 240.6h.7M257.1 261.2h.7M232.4 247.1h.7M272.4 259.6h.7M223.7 270.0h.7M256.1 265.7h.7M255.9 243.1h.7M265.2 257.6h.7M277.0 259.8h.7M268.8 264.3h.7M265.8 264.3h.7M270.1 261.4h.7M255.5 221.9h.7M261.6 257.4h.7M235.0 259.7h.7M228.9 271.9h.7M276.5 263.2h.7M258.8 272.9h.7M266.0 246.8h.7M271.9 248.9h.7M260.2 271.6h.7M224.9 262.9h.7M266.7 244.1h.7M220.5 246.3h.7M244.1 262.1h.7M263.0 261.0h.7M223.7 264.5h.7M221.1 271.7h.7M252.8 248.3h.7M246.9 250.8h.7M244.4 269.9h.7M269.4 255.7h.7M234.9 259.7h.7M239.0 235.2h.7M245.5 264.3h.7M272.8 259.2h.7M272.4 248.7h.7M237.5 258.9h.7M249.5 269.1h.7M265.1 251.2h.7M254.0 257.4h.7M251.8 266.2h.7M220.9 268.8h.7M263.5 272.6h.7M238.5 254.9h.7M234.4 258.1h.7M234.7 251.4h.7M260.1 261.4h.7M243.1 269.1h.7M250.0 250.2h.7M262.5 267.4h.7M250.3 262.6h.7M250.3 245.5h.7M232.7 261.4h.7M230.2 273.2h.7M265.1 233.4h.7M222.2 264.1h.7M265.4 251.0h.7M225.9 264.9h.7M256.0 242.7h.7M247.2 251.9h.7M233.2 264.1h.7M269.0 248.2h.7M269.6 263.6h.7M257.3 228.2h.7M250.5 251.3h.7M254.7 268.3h.7M242.7 236.1h.7M270.6 251.4h.7M224.2 257.5h.7M231.3 262.7h.7M252.4 258.6h.7M247.6 262.5h.7M244.2 249.3h.7M233.7 271.7h.7M237.5 241.7h.7M244.7 266.8h.7M276.5 268.1h.7M227.8 254.3h.7M270.5 273.1h.7M228.6 259.4h.7M255.4 272.2h.7M240.1 251.3h.7M239.7 264.4h.7M242.7 265.7h.7M243.2 270.3h.7M231.5 266.6h.7M249.6 222.7h.7M230.6 263.0h.7M242.3 268.8h.7M266.9 251.7h.7M240.6 241.7h.7M255.0 232.1h.7M250.3 249.0h.7M234.4 271.3h.7M269.5 256.4h.7M259.8 266.6h.7M258.7 273.0h.7M232.9 247.1h.7M250.4 221.9h.7M230.3 265.9h.7M220.5 268.1h.7M253.4 261.3h.7M255.8 272.6h.7M221.8 257.9h.7M277.6 267.1h.7M238.0 254.3h.7M224.4 252.4h.7M243.6 273.1h.7M238.4 255.7h.7M239.0 269.4h.7M221.6 260.6h.7M233.5 272.8h.7M221.1 272.6h.7M252.2 258.1h.7M257.8 241.6h.7M230.4 269.8h.7M245.5 264.3h.7M264.0 251.3h.7M244.4 271.9h.7M225.5 239.5h.7M246.5 264.7h.7M232.5 271.6h.7M241.1 254.0h.7M266.0 249.5h.7M268.8 254.4h.7M265.7 253.1h.7M234.0 259.0h.7M252.9 260.4h.7M227.9 239.2h.7M264.1 244.6h.7M242.7 267.7h.7M262.6 247.5h.7M224.9 251.4h.7M257.0 239.1h.7M268.5 250.7h.7M231.8 263.4h.7M251.3 230.3h.7M248.1 266.9h.7M248.2 261.1h.7M232.0 244.0h.7M260.9 266.9h.7M261.2 267.7h.7M271.2 260.9h.7M232.8 258.5h.7M265.7 237.4h.7M244.2 258.7h.7M242.5 251.1h.7M239.1 252.2h.7M259.4 266.2h.7M222.1 266.4h.7M222.5 268.6h.7M224.6 255.5h.7M222.7 270.2h.7M265.9 213.5h.7M269.5 269.5h.7M248.8 270.2h.7M237.1 240.0h.7M248.5 249.7h.7M233.7 262.1h.7M230.7 251.1h.7M275.9 272.3h.7M271.8 253.7h.7M223.9 266.4h.7M224.4 273.0h.7M245.8 272.8h.7M256.3 261.7h.7M264.7 265.0h.7M246.3 247.1h.7M265.1 258.6h.7M251.6 268.6h.7M240.9 265.0h.7M224.2 268.8h.7M226.9 269.6h.7M266.1 247.3h.7M232.4 271.5h.7M243.6 218.9h.7M235.2 267.1h.7M252.1 256.8h.7M265.3 260.8h.7M226.2 270.4h.7M250.6 259.7h.7M255.8 261.9h.7M277.8 244.5h.7M233.2 264.7h.7M252.6 251.8h.7M230.0 255.5h.7M271.4 249.6h.7M255.3 269.3h.7M231.6 257.2h.7M262.3 264.4h.7M243.2 243.4h.7M250.9 271.2h.7M276.0 270.2h.7M260.3 241.5h.7"/>
<path stroke="#ff5000" stroke-width=".7" opacity="0.42" d="M268.0 240.0h.7M284.8 236.2h.7M274.6 243.1h.7M250.2 265.5h.7M287.6 272.9h.7M253.1 241.9h.7M248.2 251.3h.7M247.9 264.1h.7M225.5 268.9h.7M263.3 235.8h.7M277.6 222.2h.7M233.9 269.5h.7M250.1 256.5h.7M255.8 242.7h.7M264.0 263.1h.7M265.6 255.4h.7M256.5 262.1h.7M260.1 232.3h.7M263.4 240.1h.7M239.7 253.6h.7M252.0 258.0h.7M258.7 267.0h.7M240.9 251.5h.7M240.3 238.8h.7M256.8 223.9h.7M220.7 264.4h.7M246.3 229.0h.7M260.6 251.8h.7M251.1 271.4h.7M245.2 263.7h.7M272.6 268.3h.7M277.5 272.3h.7M245.2 257.7h.7M289.6 237.2h.7M247.5 213.1h.7M246.4 269.2h.7M262.6 271.4h.7M288.0 200.6h.7M222.7 263.8h.7M238.9 267.0h.7M244.1 218.8h.7M239.5 248.5h.7M238.6 240.8h.7M244.4 258.1h.7M265.7 225.7h.7M254.5 223.7h.7M225.7 260.2h.7M236.1 269.6h.7M276.2 237.5h.7M242.2 235.0h.7M229.5 264.2h.7M268.4 246.3h.7M271.2 272.0h.7M233.6 261.5h.7M293.6 254.3h.7M276.7 226.8h.7M272.8 227.5h.7M276.1 268.7h.7M251.0 268.4h.7M265.5 247.5h.7M298.1 242.7h.7M265.8 207.4h.7M278.2 253.4h.7M258.3 260.5h.7M259.0 272.7h.7M257.9 231.5h.7M256.6 267.6h.7M223.8 271.8h.7M276.9 245.9h.7M236.4 230.0h.7M245.3 236.7h.7M263.6 236.4h.7M269.5 207.3h.7M277.7 264.8h.7M225.6 269.0h.7M295.4 236.4h.7M259.7 260.7h.7M229.3 246.4h.7M243.4 271.9h.7M254.9 255.7h.7M265.1 263.6h.7M258.0 247.6h.7M260.0 207.0h.7M260.8 251.3h.7M240.3 259.0h.7M257.9 252.2h.7M231.0 243.0h.7M274.4 263.3h.7M231.2 260.8h.7M295.8 226.4h.7M227.7 269.2h.7M229.1 263.2h.7M241.3 271.2h.7M221.8 244.1h.7M247.4 245.6h.7M269.9 245.2h.7M267.2 270.0h.7M245.2 263.0h.7M299.1 254.5h.7M242.9 233.9h.7M235.6 255.2h.7M259.5 233.6h.7M227.8 271.7h.7M257.3 259.3h.7M282.8 251.0h.7M254.8 258.9h.7M227.1 253.2h.7M286.0 256.8h.7M225.5 240.7h.7M271.9 246.7h.7M259.2 224.0h.7M237.7 245.6h.7M263.4 273.0h.7M236.7 270.6h.7M262.8 273.1h.7M256.4 260.3h.7M271.8 254.3h.7M247.2 257.4h.7M270.3 251.0h.7M243.6 269.7h.7M265.9 258.9h.7M261.7 246.3h.7M276.7 265.9h.7M271.0 230.4h.7M259.2 257.3h.7M240.2 257.5h.7M226.6 267.3h.7M225.4 273.0h.7M247.9 255.6h.7M278.9 256.5h.7M280.6 272.4h.7M226.3 268.7h.7M276.5 272.2h.7M274.1 269.9h.7M248.7 201.7h.7M271.7 210.6h.7M228.3 260.8h.7M238.2 260.4h.7M268.9 269.8h.7M227.2 261.8h.7M268.1 246.0h.7M255.0 271.5h.7M221.4 261.1h.7M268.3 265.7h.7M225.0 263.2h.7M231.4 257.5h.7M267.6 230.8h.7M258.4 248.2h.7M265.4 237.8h.7M232.8 259.0h.7M242.8 263.9h.7M230.0 236.7h.7M247.4 215.8h.7M268.0 271.7h.7M269.2 258.5h.7M242.2 271.9h.7M275.4 267.9h.7M269.2 244.6h.7M263.0 252.3h.7M241.8 260.6h.7M272.0 214.0h.7M251.3 267.4h.7M276.1 269.7h.7M265.4 207.2h.7M243.4 252.4h.7M294.8 243.0h.7M274.2 267.9h.7M258.9 221.5h.7M262.3 196.5h.7M273.4 226.6h.7M245.2 260.8h.7M261.2 181.2h.7M240.9 250.9h.7M227.4 266.7h.7M264.0 267.3h.7M255.2 266.4h.7M229.6 259.3h.7M270.9 259.6h.7M276.8 263.3h.7M242.8 246.4h.7M249.4 272.9h.7M244.8 257.2h.7M270.6 265.7h.7M289.9 200.9h.7M250.3 265.2h.7M251.0 243.8h.7M283.4 272.7h.7M265.0 257.1h.7M269.2 244.0h.7M244.4 267.9h.7M235.3 251.0h.7M275.5 254.1h.7M288.9 269.8h.7M228.2 272.7h.7M237.9 250.9h.7M247.3 239.5h.7M228.3 258.3h.7M247.2 269.7h.7M242.7 256.4h.7M242.4 261.4h.7M267.2 253.9h.7M272.8 240.6h.7M256.7 255.7h.7M274.9 256.7h.7M277.2 248.3h.7M232.0 264.4h.7M281.1 201.5h.7M242.5 230.7h.7M263.0 208.3h.7M249.4 256.1h.7M274.2 264.9h.7M257.0 191.3h.7M251.5 244.6h.7M238.5 264.4h.7M259.0 208.4h.7M276.2 245.8h.7M260.3 266.5h.7M225.6 258.6h.7M284.6 256.7h.7M236.1 271.4h.7M293.0 260.2h.7M236.5 256.3h.7M237.3 269.0h.7M272.8 226.4h.7M271.4 219.9h.7M278.0 221.5h.7M228.7 260.7h.7M273.1 255.9h.7M225.4 273.1h.7M264.4 259.1h.7M272.8 265.8h.7M235.6 254.0h.7M250.7 248.6h.7M262.8 225.1h.7M264.9 259.4h.7M233.9 259.5h.7M235.8 239.1h.7M236.6 273.2h.7M222.1 259.9h.7M293.2 266.1h.7M267.6 264.8h.7M278.0 247.0h.7M222.4 269.7h.7M248.3 233.4h.7M222.6 267.9h.7M263.5 230.8h.7M267.3 257.9h.7M275.5 202.7h.7M280.0 250.5h.7M271.3 250.5h.7M277.2 249.7h.7M252.4 256.3h.7M260.7 260.8h.7M290.6 258.0h.7M271.3 244.0h.7M278.7 233.3h.7M229.3 270.0h.7M280.1 235.0h.7M230.6 254.5h.7M258.6 265.1h.7M272.0 250.7h.7M266.5 256.3h.7M256.8 268.6h.7M294.9 243.3h.7M268.2 221.4h.7M230.1 270.1h.7M254.8 225.5h.7M277.1 228.4h.7M273.6 228.0h.7M256.2 228.6h.7M236.1 252.1h.7M261.8 268.8h.7M227.9 258.2h.7M268.6 261.0h.7M283.8 248.0h.7M279.8 266.6h.7M267.0 246.9h.7M230.4 260.0h.7M261.8 265.9h.7M253.7 268.6h.7M234.1 249.7h.7M229.2 231.5h.7M246.0 253.8h.7M223.1 266.1h.7M239.4 272.8h.7M258.6 263.3h.7M275.7 243.4h.7M242.0 255.4h.7M240.9 252.3h.7M278.1 259.2h.7M269.0 271.9h.7M228.1 260.4h.7M249.1 243.6h.7M246.6 230.2h.7M242.6 250.6h.7M229.4 245.9h.7M268.0 235.2h.7M263.0 250.3h.7M227.8 269.7h.7M276.1 257.8h.7M263.3 236.3h.7M229.4 272.2h.7M258.3 246.3h.7M272.2 254.5h.7M261.9 249.2h.7M241.4 266.9h.7M298.0 271.9h.7M272.5 264.1h.7M253.6 266.1h.7M267.7 226.5h.7M232.3 261.2h.7M243.1 267.4h.7M262.9 272.2h.7M240.5 257.5h.7M272.7 240.8h.7M242.9 262.2h.7M248.9 222.1h.7M252.5 258.0h.7M249.5 264.6h.7M265.2 244.0h.7M253.4 221.0h.7M249.9 268.5h.7M247.1 254.6h.7M268.4 273.1h.7M270.6 263.5h.7M256.4 265.5h.7M260.5 238.0h.7M249.3 265.8h.7M272.0 220.1h.7M269.9 257.3h.7M254.3 253.8h.7M277.4 229.7h.7M240.2 260.8h.7M241.2 263.2h.7M223.7 261.5h.7M244.0 269.2h.7M286.0 223.7h.7M257.5 262.3h.7M261.4 200.5h.7M254.1 270.6h.7M242.5 264.7h.7M235.6 218.3h.7M237.4 247.4h.7M260.8 270.9h.7M237.2 262.6h.7M295.1 214.9h.7M259.7 239.3h.7M262.9 262.0h.7M267.1 247.6h.7M261.4 267.1h.7M223.5 260.5h.7M222.4 264.6h.7M244.0 235.2h.7M252.4 229.8h.7M296.1 220.2h.7M288.8 271.7h.7M223.2 257.9h.7M223.1 268.5h.7M241.9 249.9h.7M236.6 239.1h.7M222.7 256.8h.7M257.4 264.8h.7M222.0 270.7h.7M243.7 260.9h.7M232.9 259.9h.7M262.3 233.9h.7M261.4 243.0h.7M246.3 271.5h.7M277.4 272.7h.7M232.1 227.0h.7M277.1 226.7h.7M275.7 244.4h.7M265.9 249.1h.7M224.2 267.9h.7M283.8 270.4h.7M266.3 264.4h.7M223.7 264.7h.7M265.1 255.4h.7M275.3 267.5h.7M252.4 209.8h.7M277.6 219.0h.7M250.5 251.8h.7M269.0 267.9h.7M244.1 240.6h.7M270.0 233.2h.7M263.0 247.3h.7M252.9 228.2h.7M269.5 245.6h.7M233.1 241.2h.7M240.9 270.5h.7M247.1 260.4h.7M270.3 248.7h.7M247.7 268.3h.7M275.1 265.5h.7M275.3 259.6h.7M261.2 262.7h.7M245.0 249.4h.7M282.4 262.1h.7M269.5 230.3h.7M268.0 270.4h.7M243.5 258.2h.7M237.3 257.3h.7M237.3 271.1h.7M229.5 251.6h.7M230.0 263.2h.7M268.6 267.7h.7M259.9 262.5h.7M272.1 265.3h.7M239.9 271.6h.7M261.7 271.2h.7M263.7 257.6h.7M241.3 254.1h.7M274.6 216.6h.7M274.6 267.6h.7M229.4 262.0h.7M256.0 263.6h.7M250.2 251.0h.7M262.7 237.3h.7M256.9 273.1h.7M257.7 236.8h.7M252.7 237.6h.7M272.5 265.2h.7M269.7 224.3h.7M262.3 268.3h.7M256.4 261.8h.7M253.4 224.6h.7M270.5 261.5h.7M228.1 268.5h.7M271.6 253.7h.7M256.8 227.1h.7M265.7 213.3h.7M286.9 266.5h.7M277.7 259.4h.7M287.2 228.1h.7M259.8 203.0h.7M257.6 218.7h.7M238.8 269.1h.7M294.3 220.9h.7M226.0 264.9h.7M256.6 244.6h.7M245.3 247.2h.7M242.9 264.6h.7M234.2 269.3h.7M264.1 268.9h.7M276.0 240.1h.7M252.3 263.8h.7M238.2 222.3h.7M268.0 234.5h.7M253.6 263.1h.7M270.1 230.0h.7M258.6 220.9h.7M255.9 259.1h.7M255.9 240.1h.7M263.5 258.6h.7M238.5 226.6h.7M235.2 269.2h.7M239.1 262.8h.7M269.3 249.2h.7M226.7 270.3h.7M229.9 262.4h.7M241.6 243.9h.7M271.1 255.0h.7M250.1 259.1h.7M252.6 241.5h.7M274.7 271.5h.7M294.7 268.1h.7M267.9 270.1h.7M272.4 249.4h.7M249.9 223.5h.7M271.1 224.2h.7M274.0 248.0h.7M269.8 219.5h.7M263.0 215.8h.7M262.3 266.3h.7M297.1 271.1h.7M270.1 215.7h.7M275.6 250.1h.7M250.9 259.3h.7M239.6 238.5h.7M262.8 234.5h.7M277.8 249.8h.7M235.9 244.8h.7M251.8 251.0h.7M265.9 242.7h.7M267.6 243.0h.7M262.1 250.1h.7M223.8 268.5h.7M267.0 257.6h.7M223.3 262.3h.7M259.7 248.6h.7M270.7 270.2h.7M272.0 253.5h.7M225.1 262.9h.7M260.0 236.2h.7M280.8 258.0h.7M257.8 264.8h.7M255.2 238.2h.7M234.1 254.9h.7M227.4 268.0h.7M245.8 253.9h.7M267.3 214.4h.7M266.2 256.4h.7M222.6 262.3h.7M222.6 254.4h.7M237.4 255.0h.7M246.4 261.6h.7M247.1 245.8h.7M233.0 259.4h.7M273.8 230.5h.7M263.5 266.3h.7M276.9 219.5h.7M231.1 272.4h.7M265.8 255.0h.7M270.4 252.9h.7M285.3 217.6h.7M244.5 251.8h.7M227.3 271.2h.7M255.3 257.5h.7M255.5 251.8h.7M254.5 268.0h.7"/>
<line x1="220.51" y1="265.4" x2="272.76" y2="239.3" stroke="#0000ff" stroke-width="1.05"/>
<line x1="220.51" y1="268.6" x2="272.76" y2="231.7" stroke="#ff5000" stroke-width="1.05"/>
<circle cx="226.32" cy="261" r="1.9" fill="#0000ff" stroke="none" stroke-width="1"/>
<circle cx="237.93" cy="256.8" r="1.9" fill="#0000ff" stroke="none" stroke-width="1"/>
<circle cx="249.54" cy="252.5" r="1.9" fill="#0000ff" stroke="none" stroke-width="1"/>
<circle cx="261.15" cy="242.8" r="1.9" fill="#0000ff" stroke="none" stroke-width="1"/>
<circle cx="272.76" cy="239.7" r="1.9" fill="#0000ff" stroke="none" stroke-width="1"/>
<circle cx="226.32" cy="264" r="1.9" fill="#ff5000" stroke="none" stroke-width="1"/>
<circle cx="237.93" cy="256.5" r="1.9" fill="#ff5000" stroke="none" stroke-width="1"/>
<circle cx="249.54" cy="248.2" r="1.9" fill="#ff5000" stroke="none" stroke-width="1"/>
<circle cx="261.15" cy="240.3" r="1.9" fill="#ff5000" stroke="none" stroke-width="1"/>
<circle cx="272.76" cy="232.7" r="1.9" fill="#ff5000" stroke="none" stroke-width="1"/>
<line x1="272.5" y1="230.4" x2="272.5" y2="235" stroke="#ff5000" stroke-width="1"/>
<line x1="271.56" y1="230.5" x2="273.96" y2="230.5" stroke="#ff5000" stroke-width="1"/>
<line x1="271.56" y1="234.5" x2="273.96" y2="234.5" stroke="#ff5000" stroke-width="1"/>
<line x1="226.5" y1="262.4" x2="226.5" y2="265.6" stroke="#ff5000" stroke-width="1"/>
<line x1="225.22" y1="262.5" x2="227.42" y2="262.5" stroke="#ff5000" stroke-width="1"/>
<line x1="225.22" y1="265.5" x2="227.42" y2="265.5" stroke="#ff5000" stroke-width="1"/>
<line x1="237.5" y1="254.3" x2="237.5" y2="258.7" stroke="#ff5000" stroke-width="1"/>
<line x1="236.83" y1="254.5" x2="239.03" y2="254.5" stroke="#ff5000" stroke-width="1"/>
<line x1="236.83" y1="258.5" x2="239.03" y2="258.5" stroke="#ff5000" stroke-width="1"/>
<line x1="249.5" y1="245.8" x2="249.5" y2="250.6" stroke="#ff5000" stroke-width="1"/>
<line x1="248.44" y1="245.5" x2="250.64" y2="245.5" stroke="#ff5000" stroke-width="1"/>
<line x1="248.44" y1="250.5" x2="250.64" y2="250.5" stroke="#ff5000" stroke-width="1"/>
<line x1="261.5" y1="237.9" x2="261.5" y2="242.7" stroke="#ff5000" stroke-width="1"/>
<line x1="260.05" y1="237.5" x2="262.25" y2="237.5" stroke="#ff5000" stroke-width="1"/>
<line x1="260.05" y1="242.5" x2="262.25" y2="242.5" stroke="#ff5000" stroke-width="1"/>
<line x1="284.5" y1="236.3" x2="284.5" y2="240.8" stroke="#ff5000" stroke-width="1"/>
<line x1="283.17" y1="236.5" x2="285.57" y2="236.5" stroke="#ff5000" stroke-width="1"/>
<line x1="283.17" y1="240.5" x2="285.57" y2="240.5" stroke="#ff5000" stroke-width="1"/>
<circle cx="284.37" cy="238.6" r="1.7" fill="#ff5000" stroke="none" stroke-width="1"/>
<line x1="284.5" y1="235.3" x2="284.5" y2="238.3" stroke="#8a5aa8" stroke-width="1"/>
<line x1="283.17" y1="235.5" x2="285.57" y2="235.5" stroke="#8a5aa8" stroke-width="1"/>
<line x1="283.17" y1="238.5" x2="285.57" y2="238.5" stroke="#8a5aa8" stroke-width="1"/>
<line x1="295.5" y1="231.8" x2="295.5" y2="245.8" stroke="#ff8040" stroke-width="1"/>
<line x1="294.78" y1="231.5" x2="297.18" y2="231.5" stroke="#ff8040" stroke-width="1"/>
<line x1="294.78" y1="245.5" x2="297.18" y2="245.5" stroke="#ff8040" stroke-width="1"/>
<circle cx="295.98" cy="237.7" r="1.7" fill="#ff5000" stroke="none" stroke-width="1"/>
<line x1="295.5" y1="232.8" x2="295.5" y2="238.3" stroke="#8060c0" stroke-width="1"/>
<line x1="294.78" y1="232.5" x2="297.18" y2="232.5" stroke="#8060c0" stroke-width="1"/>
<line x1="294.78" y1="238.5" x2="297.18" y2="238.5" stroke="#8060c0" stroke-width="1"/>
<circle cx="295.98" cy="235.9" r="1.6" fill="#6050d0" stroke="none" stroke-width="1"/>
<rect x="545.5" y="164.5" width="116" height="110" fill="none" stroke="#555" stroke-width="1"/>
<line x1="542.7" y1="175.5" x2="545.1" y2="175.5" stroke="#555" stroke-width="1"/>
<text x="538.5" y="179" font-size="11" text-anchor="end" font-weight="normal" fill="#000" stroke="#000" stroke-width="0.18">5.00</text>
<line x1="542.7" y1="211.5" x2="545.1" y2="211.5" stroke="#555" stroke-width="1"/>
<text x="538.5" y="215.7" font-size="11" text-anchor="end" font-weight="normal" fill="#000" stroke="#000" stroke-width="0.18">0.50</text>
<line x1="542.7" y1="248.5" x2="545.1" y2="248.5" stroke="#555" stroke-width="1"/>
<text x="538.5" y="252.4" font-size="11" text-anchor="end" font-weight="normal" fill="#000" stroke="#000" stroke-width="0.18">0.05</text>
<line x1="542.7" y1="274.5" x2="545.1" y2="274.5" stroke="#555" stroke-width="1"/>
<text x="538.5" y="278.05" font-size="11" text-anchor="end" font-weight="normal" fill="#000" stroke="#000" stroke-width="0.18">0.01</text>
<line x1="542.7" y1="200.5" x2="545.1" y2="200.5" stroke="#555" stroke-width="1"/>
<line x1="542.7" y1="237.5" x2="545.1" y2="237.5" stroke="#555" stroke-width="1"/>
<line x1="545.5" y1="274.7" x2="545.5" y2="277.1" stroke="#555" stroke-width="1"/>
<text x="545.1" y="288" font-size="11" text-anchor="middle" font-weight="normal" fill="#000" stroke="#000" stroke-width="0.18">0</text>
<line x1="568.5" y1="274.7" x2="568.5" y2="277.1" stroke="#555" stroke-width="1"/>
<text x="568.32" y="288" font-size="11" text-anchor="middle" font-weight="normal" fill="#000" stroke="#000" stroke-width="0.18">2</text>
<line x1="591.5" y1="274.7" x2="591.5" y2="277.1" stroke="#555" stroke-width="1"/>
<text x="591.54" y="288" font-size="11" text-anchor="middle" font-weight="normal" fill="#000" stroke="#000" stroke-width="0.18">4</text>
<line x1="614.5" y1="274.7" x2="614.5" y2="277.1" stroke="#555" stroke-width="1"/>
<text x="614.76" y="288" font-size="11" text-anchor="middle" font-weight="normal" fill="#000" stroke="#000" stroke-width="0.18">6</text>
<line x1="637.5" y1="274.7" x2="637.5" y2="277.1" stroke="#555" stroke-width="1"/>
<text x="637.98" y="288" font-size="11" text-anchor="middle" font-weight="normal" fill="#000" stroke="#000" stroke-width="0.18">8</text>
<line x1="661.5" y1="274.7" x2="661.5" y2="277.1" stroke="#555" stroke-width="1"/>
<text x="661.2" y="288" font-size="11" text-anchor="middle" font-weight="normal" fill="#000" stroke="#000" stroke-width="0.18">10</text>
<text x="608.2" y="299.5" font-size="12" text-anchor="middle" font-weight="normal" fill="#000" letter-spacing="0.35" stroke="#000" stroke-width="0.18">Load pN</text>
<text x="513.9" y="226.5" font-size="11" text-anchor="middle" font-weight="normal" fill="#000" transform="rotate(-90 513.9 226.5)" stroke="#000" stroke-width="0.18">Dwell s</text>
<path stroke="#0000ff" stroke-width=".8" opacity="0.38" d="M594.4 220.2h.8M582.5 204.6h.8M586.0 215.0h.8M581.8 271.7h.8M575.0 210.8h.8M567.8 188.1h.8M588.1 260.3h.8M563.7 202.5h.8M582.9 188.3h.8M598.7 267.9h.8M578.1 216.5h.8M570.7 238.2h.8M565.0 193.8h.8M595.2 248.4h.8M579.3 200.0h.8M563.0 211.5h.8M567.3 237.8h.8M573.7 264.0h.8M568.0 236.9h.8M563.2 188.6h.8M572.7 198.4h.8M583.8 238.8h.8M592.7 231.0h.8M578.6 259.7h.8M567.3 217.8h.8M592.6 255.3h.8M589.6 266.1h.8M576.9 215.2h.8M582.4 243.1h.8M573.5 236.3h.8M591.0 202.6h.8M586.5 206.2h.8M581.8 231.4h.8M590.2 254.8h.8M583.5 221.0h.8M596.4 247.3h.8M588.4 271.7h.8M575.8 234.9h.8M565.9 228.2h.8M563.3 191.8h.8M587.1 193.8h.8M601.8 226.6h.8M563.1 258.3h.8M576.9 255.9h.8M581.4 219.6h.8M567.4 247.6h.8M574.2 237.8h.8M589.2 228.9h.8M593.9 202.2h.8M565.3 270.9h.8M572.4 211.2h.8M574.7 208.7h.8M569.5 199.5h.8M564.8 183.8h.8M571.2 196.6h.8M584.5 248.4h.8M588.7 219.4h.8M564.2 237.5h.8M570.7 205.5h.8M585.1 267.5h.8M594.9 221.8h.8M570.4 246.4h.8M583.2 242.8h.8M566.3 202.0h.8M588.4 230.8h.8M587.5 213.9h.8M587.4 219.0h.8M580.0 254.0h.8M582.1 247.5h.8M571.6 230.1h.8M586.0 237.0h.8M563.6 247.4h.8M586.4 191.5h.8M588.2 197.7h.8M565.2 202.6h.8M567.7 227.0h.8M579.3 236.8h.8M584.6 219.9h.8M576.9 193.3h.8M597.6 195.7h.8M588.4 199.9h.8M580.5 237.6h.8M575.8 189.2h.8M583.7 190.1h.8M588.6 216.2h.8M595.9 247.1h.8M597.1 232.5h.8M588.7 222.3h.8M570.3 256.8h.8M590.6 234.6h.8M572.7 199.3h.8M594.6 201.0h.8M593.2 223.5h.8M564.9 218.6h.8M588.1 220.1h.8M574.2 264.2h.8M572.2 211.6h.8M577.9 224.8h.8M589.0 184.1h.8M585.9 187.3h.8M566.7 230.3h.8M598.3 221.1h.8M563.5 191.9h.8M571.4 222.7h.8M567.2 216.1h.8M580.0 224.6h.8M594.3 207.9h.8M573.1 223.4h.8M563.6 224.9h.8M584.4 212.1h.8M586.4 218.4h.8M567.6 212.6h.8M595.8 241.4h.8M563.3 225.0h.8M570.4 247.6h.8M578.7 218.4h.8M571.3 257.2h.8M593.6 192.7h.8M568.8 205.6h.8M579.1 227.3h.8M563.8 230.8h.8M580.2 220.2h.8M601.4 242.6h.8M593.0 232.9h.8M582.4 258.4h.8M600.2 173.6h.8M582.2 260.1h.8M567.1 249.2h.8M587.8 265.2h.8M572.8 202.3h.8M599.9 192.5h.8M587.3 209.6h.8M590.8 189.3h.8M606.3 249.1h.8M603.2 192.8h.8M599.0 186.4h.8M585.5 259.4h.8M569.8 198.3h.8M569.1 186.8h.8M579.1 184.5h.8M592.1 218.2h.8M581.4 247.8h.8M565.5 236.8h.8M565.4 200.6h.8M563.5 190.6h.8M567.9 223.7h.8M574.7 242.1h.8M571.7 237.0h.8M574.2 234.0h.8M589.7 210.6h.8M599.6 216.9h.8M569.0 223.8h.8M576.5 207.0h.8M593.4 269.5h.8M567.7 194.9h.8M569.6 203.5h.8M572.7 264.5h.8M571.4 220.5h.8M572.6 233.3h.8M587.4 226.5h.8M568.1 219.3h.8M567.3 201.0h.8M562.7 220.8h.8M577.1 238.6h.8M582.1 196.2h.8M584.4 247.9h.8M603.7 199.8h.8M574.5 244.4h.8M589.8 263.1h.8M588.5 187.4h.8M568.2 225.3h.8M570.4 222.8h.8M580.9 190.1h.8M571.4 210.6h.8M575.8 211.9h.8M568.7 227.4h.8M573.2 224.2h.8M579.0 207.5h.8M574.2 204.6h.8M572.5 237.5h.8M564.1 186.1h.8M576.9 240.5h.8M587.2 189.2h.8M571.5 173.7h.8M580.2 227.5h.8M594.9 186.2h.8M565.4 221.9h.8M581.3 251.7h.8M578.8 252.2h.8M585.0 225.7h.8M597.9 187.5h.8M578.2 216.8h.8M567.1 203.8h.8M584.2 183.9h.8M593.3 190.8h.8M583.4 217.8h.8M562.6 228.6h.8M563.4 249.4h.8M569.6 263.1h.8M567.3 212.0h.8M585.0 239.3h.8M575.3 201.6h.8M568.2 192.9h.8M576.5 194.3h.8M567.6 199.8h.8M606.9 246.6h.8M563.7 193.9h.8M567.0 255.9h.8M586.5 194.4h.8M570.1 248.4h.8M568.5 233.0h.8M581.3 252.1h.8M574.0 226.2h.8M584.6 208.1h.8M587.8 191.1h.8M592.2 203.0h.8M590.6 229.8h.8M574.1 233.7h.8M570.0 234.4h.8M577.9 263.3h.8M578.0 186.5h.8M597.0 250.5h.8M572.5 228.9h.8M589.8 216.2h.8M580.4 245.2h.8M567.4 211.3h.8M579.6 228.7h.8M579.2 251.9h.8M568.1 237.3h.8M564.3 233.8h.8M588.2 203.4h.8M598.0 230.0h.8M584.1 197.0h.8M571.1 219.2h.8M589.7 193.7h.8M577.8 221.8h.8M581.6 226.6h.8M588.5 218.7h.8M570.5 200.9h.8M576.9 190.2h.8M564.8 224.8h.8M582.4 233.3h.8M583.0 191.0h.8M586.9 181.0h.8M576.0 186.3h.8M571.6 231.5h.8M587.6 219.7h.8M570.5 195.0h.8M588.2 247.3h.8M571.5 265.1h.8M571.5 224.3h.8M589.2 245.4h.8M585.9 174.7h.8M569.4 238.1h.8M565.5 237.6h.8M568.0 234.9h.8M575.0 241.9h.8M569.2 217.4h.8M578.2 260.4h.8M580.2 237.8h.8M599.5 239.0h.8M578.8 237.8h.8M586.1 176.9h.8M575.1 270.1h.8M565.6 270.9h.8M592.7 212.4h.8M593.1 182.0h.8M565.4 208.7h.8M578.7 199.4h.8M586.5 265.7h.8M574.1 238.4h.8M607.7 214.6h.8M564.4 211.0h.8M580.7 227.7h.8M571.9 267.8h.8M583.8 228.0h.8M577.8 175.6h.8M575.7 195.3h.8M565.6 219.6h.8M600.0 200.8h.8M581.4 239.8h.8M584.7 240.0h.8M564.8 228.9h.8M567.7 260.2h.8M574.9 232.5h.8M583.5 203.6h.8M581.3 250.2h.8M583.4 236.7h.8M569.2 254.3h.8M600.8 190.9h.8M576.5 258.7h.8M565.6 207.4h.8M575.3 226.0h.8M585.7 197.9h.8M563.0 235.3h.8M585.5 199.2h.8M564.3 253.0h.8M579.7 235.6h.8M593.8 192.8h.8M564.1 230.8h.8M573.8 224.8h.8M573.2 234.8h.8M577.0 201.8h.8M586.1 207.1h.8M564.1 235.6h.8M583.3 264.1h.8M582.8 228.7h.8M583.4 194.2h.8M584.7 231.2h.8M563.7 243.1h.8M594.4 213.8h.8M582.3 250.7h.8M579.9 227.0h.8M569.3 247.5h.8M576.5 231.5h.8M600.7 248.4h.8M568.9 225.4h.8M575.6 205.1h.8M571.2 269.1h.8M571.0 234.9h.8M567.1 231.1h.8M597.1 220.6h.8M577.1 195.8h.8M575.1 250.6h.8M584.3 201.1h.8M583.9 218.5h.8M577.8 223.2h.8M571.5 209.7h.8M566.7 233.5h.8M577.7 266.6h.8M602.1 252.9h.8M578.0 238.0h.8M580.8 247.8h.8M572.2 194.5h.8M587.1 214.5h.8M566.5 255.3h.8M570.1 231.2h.8M586.1 205.5h.8M573.3 223.1h.8M584.0 224.9h.8M594.2 244.6h.8M581.3 213.0h.8M574.3 181.0h.8M578.2 261.8h.8M585.6 244.9h.8M581.0 204.3h.8M568.3 225.1h.8M566.3 247.5h.8M564.3 228.3h.8M576.3 234.1h.8M564.8 221.4h.8M576.0 248.1h.8M563.0 217.9h.8M576.3 234.4h.8M577.7 249.1h.8M584.0 218.0h.8M603.7 255.3h.8M578.3 208.9h.8M574.7 228.6h.8M575.0 216.9h.8M580.4 180.6h.8M596.3 225.3h.8M607.0 265.7h.8M569.0 219.8h.8M594.3 203.0h.8M569.3 210.7h.8M583.4 236.2h.8M589.3 235.8h.8M566.4 227.0h.8M572.9 220.1h.8M592.3 216.2h.8M593.5 194.0h.8M571.0 237.4h.8M573.2 198.1h.8M579.8 220.3h.8M599.6 205.1h.8M569.7 223.6h.8M579.0 231.2h.8M599.4 234.6h.8M575.4 231.1h.8M567.5 221.2h.8M574.3 197.0h.8M584.3 217.8h.8M563.8 250.4h.8M581.3 235.6h.8M580.9 227.3h.8M572.2 209.4h.8M573.1 193.8h.8M594.0 253.1h.8M570.8 241.1h.8M589.8 230.2h.8M565.8 232.0h.8M583.1 228.7h.8M568.2 217.6h.8M568.6 190.4h.8M583.8 216.6h.8M578.1 233.6h.8M568.9 256.9h.8M575.1 192.2h.8M574.8 235.9h.8M606.7 226.3h.8M577.8 222.7h.8M562.9 241.4h.8M581.5 237.0h.8M564.0 234.0h.8M576.6 230.9h.8M570.7 207.6h.8M569.9 210.3h.8M578.0 234.0h.8M581.4 251.0h.8M566.3 226.5h.8M567.7 227.0h.8M584.1 178.7h.8M569.4 209.9h.8M570.3 191.4h.8M584.4 245.4h.8M568.0 201.8h.8M575.3 237.5h.8M568.5 243.9h.8M563.3 229.9h.8M577.3 212.4h.8M581.7 241.4h.8M573.9 204.1h.8M571.7 256.4h.8M594.2 243.8h.8M569.6 240.0h.8M575.8 230.1h.8M572.8 229.6h.8M563.5 212.6h.8M587.4 255.8h.8M566.4 261.0h.8M574.5 201.0h.8M581.8 238.4h.8M572.4 242.2h.8M589.0 232.1h.8M586.3 206.3h.8M607.6 236.2h.8M579.7 230.7h.8M584.6 222.3h.8M565.7 205.2h.8M598.1 227.2h.8M572.8 242.7h.8M592.5 185.9h.8M603.5 206.6h.8M570.9 216.6h.8M570.8 214.8h.8M582.4 256.7h.8M568.9 229.2h.8M588.1 231.2h.8M593.4 211.3h.8M586.5 233.1h.8M583.9 217.5h.8M572.6 255.7h.8M569.3 221.1h.8M573.2 242.6h.8M579.3 204.6h.8M591.0 215.0h.8M585.7 236.3h.8M573.2 207.7h.8M576.6 195.5h.8M562.9 247.1h.8M580.0 237.7h.8M590.5 233.8h.8M576.7 211.3h.8M575.6 233.8h.8M584.7 258.7h.8M599.7 244.1h.8M599.2 225.1h.8M601.2 253.3h.8M571.9 243.2h.8M576.6 267.8h.8M597.5 223.4h.8M572.8 213.5h.8M568.2 243.9h.8M590.5 209.0h.8M578.5 230.5h.8M581.4 213.7h.8M576.7 234.3h.8M575.0 227.1h.8M593.7 221.1h.8M596.5 213.6h.8M576.6 266.9h.8M600.4 224.9h.8M589.0 247.1h.8M563.5 230.0h.8M571.3 187.0h.8M576.6 260.0h.8M585.6 191.9h.8M570.5 202.8h.8M600.4 200.8h.8M576.2 211.5h.8M589.9 224.6h.8M588.1 212.0h.8M579.7 225.5h.8M574.3 196.6h.8M579.3 223.0h.8M581.9 258.7h.8M571.4 232.7h.8M579.6 243.7h.8M589.8 240.9h.8M564.2 227.6h.8M597.1 219.0h.8M602.1 232.4h.8M592.7 244.2h.8M582.9 210.8h.8M583.0 254.8h.8M564.9 248.7h.8M570.9 183.2h.8M571.1 215.6h.8M563.5 223.5h.8M582.7 215.6h.8M566.3 227.5h.8M592.8 191.1h.8M583.5 232.4h.8M596.4 199.0h.8M591.9 199.8h.8M595.3 241.5h.8M575.7 221.6h.8M565.7 249.7h.8M584.7 249.5h.8M577.9 220.3h.8M565.2 260.8h.8M581.1 257.8h.8M588.2 228.4h.8M570.4 233.5h.8M584.1 203.1h.8M568.6 251.7h.8M576.8 234.7h.8M592.2 198.0h.8M603.8 198.0h.8M581.7 266.2h.8M591.7 196.4h.8M592.7 211.5h.8M587.5 224.9h.8M596.9 240.4h.8M565.4 230.9h.8M598.3 247.7h.8M588.0 231.7h.8M588.7 230.7h.8M568.8 254.0h.8M591.1 226.3h.8M575.7 226.1h.8M574.9 250.8h.8M576.8 248.6h.8M572.2 174.6h.8M574.1 250.6h.8M588.2 215.1h.8M597.7 196.4h.8M586.9 271.1h.8M586.9 245.2h.8M578.8 224.8h.8M576.6 225.5h.8M568.7 207.3h.8M581.5 220.5h.8M563.5 209.4h.8M579.2 268.5h.8M582.6 213.4h.8M585.5 236.5h.8M583.0 229.1h.8M580.2 187.8h.8M586.0 227.5h.8M579.9 212.2h.8M573.0 246.3h.8M570.7 248.1h.8M604.6 193.0h.8M584.6 240.2h.8M565.4 240.3h.8M566.2 231.7h.8M596.9 204.0h.8M573.8 199.4h.8M595.1 233.0h.8M605.3 235.5h.8M582.8 242.6h.8M563.9 191.6h.8M579.2 208.4h.8M577.1 196.6h.8M583.2 239.1h.8M564.1 242.4h.8M571.0 206.4h.8M570.6 219.2h.8M602.8 231.4h.8M564.5 199.6h.8M578.5 197.3h.8M573.3 229.1h.8M588.7 201.8h.8M585.7 210.4h.8M600.9 229.7h.8M577.5 191.6h.8M576.2 226.2h.8M573.6 215.8h.8M574.9 203.4h.8M574.2 229.7h.8M592.6 183.2h.8M573.1 235.0h.8M585.8 247.7h.8M571.6 221.2h.8M576.0 223.0h.8M585.4 214.4h.8M584.5 227.0h.8M596.2 229.2h.8M592.6 235.1h.8M572.4 211.7h.8M584.6 200.1h.8M601.5 174.1h.8M563.5 241.2h.8M593.6 249.7h.8M577.0 217.9h.8M568.9 245.3h.8M579.9 207.8h.8M581.9 210.8h.8M578.1 221.4h.8M568.4 225.4h.8M580.6 180.2h.8M580.2 200.9h.8M574.8 212.4h.8M590.5 233.1h.8M586.9 230.8h.8M578.8 219.2h.8M595.8 239.2h.8M579.0 232.0h.8M577.6 219.3h.8M588.1 218.2h.8M563.6 223.8h.8M601.1 258.6h.8M578.9 271.3h.8M580.8 201.5h.8M569.1 207.8h.8M567.2 172.5h.8M576.6 245.3h.8M585.0 211.8h.8M593.2 186.9h.8M573.6 206.8h.8M580.1 220.1h.8M584.6 188.4h.8M569.2 199.2h.8M583.3 271.0h.8M562.5 217.2h.8M576.0 238.2h.8M602.8 195.7h.8M583.1 260.5h.8M563.7 254.3h.8M568.9 222.1h.8M563.7 234.5h.8M595.4 222.0h.8M567.3 232.8h.8M565.9 256.1h.8M586.4 215.3h.8M578.7 222.7h.8M577.7 229.9h.8M595.7 211.2h.8M605.3 193.3h.8M587.1 228.8h.8M572.4 230.6h.8M586.0 190.1h.8M563.9 227.5h.8M578.8 214.1h.8M590.3 227.9h.8M570.9 200.5h.8M573.9 228.0h.8M576.4 252.8h.8M568.2 226.3h.8M566.7 218.9h.8M574.2 217.5h.8M565.1 224.0h.8M571.8 236.0h.8M584.5 228.2h.8M585.6 235.8h.8M594.6 198.6h.8M564.0 225.6h.8M564.5 202.9h.8M564.1 252.6h.8M580.0 245.2h.8M575.0 226.2h.8M567.0 264.6h.8M577.9 201.0h.8M575.5 194.7h.8M568.0 212.2h.8M572.8 219.1h.8M592.7 227.5h.8M588.1 217.0h.8M565.2 205.3h.8M573.2 248.3h.8M567.7 270.2h.8M565.5 233.6h.8M595.1 206.4h.8M563.5 220.6h.8M567.3 237.3h.8M579.7 226.3h.8M562.5 253.3h.8M572.4 222.5h.8M575.4 228.5h.8M595.7 200.7h.8M586.6 236.5h.8M588.8 262.4h.8M582.4 223.1h.8M572.7 199.3h.8M566.7 227.0h.8M601.4 225.8h.8M580.5 193.1h.8M582.4 191.9h.8M575.0 213.1h.8M592.3 217.0h.8M593.3 201.6h.8M564.8 196.9h.8M588.1 211.6h.8M574.4 213.5h.8M571.3 221.9h.8M594.1 242.5h.8M574.0 246.8h.8M572.6 234.4h.8M563.9 244.7h.8M585.2 223.2h.8M584.8 240.8h.8M590.9 232.7h.8M564.0 230.9h.8M566.3 192.6h.8M585.8 188.3h.8M590.6 213.5h.8M569.3 208.9h.8M584.5 247.4h.8M577.9 217.5h.8M576.0 254.6h.8M563.1 228.1h.8M566.7 232.4h.8M581.2 206.4h.8M584.6 236.3h.8M590.1 242.1h.8M578.6 265.4h.8M577.4 215.6h.8M583.9 233.9h.8M571.0 231.8h.8M582.9 187.6h.8M579.6 216.3h.8M577.4 197.8h.8M565.0 243.8h.8M562.8 243.5h.8M600.6 213.9h.8M581.2 221.9h.8M599.2 261.0h.8M586.5 243.1h.8M575.5 209.7h.8M584.4 214.8h.8M578.0 222.4h.8M601.3 256.7h.8M566.7 215.9h.8M596.3 214.2h.8M579.4 229.9h.8M590.1 227.2h.8M567.3 229.3h.8M582.4 240.7h.8M592.1 196.4h.8M577.4 229.0h.8M564.7 202.9h.8M579.6 187.6h.8M577.8 205.4h.8M566.0 230.0h.8M596.1 243.5h.8M569.9 194.9h.8M572.7 207.7h.8M591.7 212.7h.8M573.5 206.1h.8M580.7 205.4h.8M576.9 223.9h.8M578.5 255.2h.8M564.6 195.9h.8M562.6 226.3h.8M571.1 220.3h.8M589.5 265.8h.8M572.0 234.7h.8M574.7 269.3h.8M584.3 220.5h.8M569.3 197.8h.8M579.1 211.7h.8M577.1 270.1h.8M585.5 271.5h.8M578.7 227.4h.8M565.6 196.9h.8M593.9 213.7h.8M571.1 232.2h.8M590.6 219.0h.8M591.9 217.3h.8M578.2 255.5h.8M572.6 227.1h.8M599.3 213.8h.8M587.0 240.5h.8M568.0 254.8h.8M587.4 243.1h.8M563.2 236.2h.8M581.0 214.3h.8M577.0 218.4h.8M580.7 178.5h.8M596.4 213.2h.8M587.7 223.5h.8M584.5 189.2h.8M592.7 216.9h.8M564.0 235.3h.8M582.7 224.9h.8M596.1 223.4h.8M570.3 221.4h.8M573.1 253.7h.8M571.3 196.5h.8M567.3 186.7h.8M585.3 224.6h.8M565.8 242.4h.8M584.3 226.0h.8M574.8 238.6h.8M571.4 186.5h.8M569.6 195.2h.8M602.5 219.9h.8M586.5 189.0h.8M564.7 225.6h.8M578.1 200.9h.8M575.7 207.5h.8M583.9 206.9h.8M571.8 226.1h.8M599.3 232.8h.8M586.8 243.6h.8M592.3 215.2h.8M578.3 217.1h.8M581.7 262.8h.8M562.8 213.4h.8M573.4 267.3h.8M571.1 230.5h.8M567.5 204.4h.8M566.6 204.4h.8M589.7 253.9h.8M585.9 223.1h.8M594.2 232.5h.8M568.3 225.9h.8M568.2 209.8h.8M568.2 222.9h.8M597.0 221.5h.8M567.8 243.9h.8M592.0 205.1h.8M578.8 194.9h.8M581.2 228.4h.8M586.8 237.1h.8M599.6 224.2h.8M578.2 210.5h.8M577.7 244.1h.8M571.8 237.4h.8M590.8 218.7h.8M585.2 271.7h.8M577.6 264.4h.8M578.5 219.2h.8M570.2 224.2h.8M568.8 224.9h.8M588.1 248.4h.8M564.7 183.9h.8M586.5 200.7h.8M580.9 197.1h.8M585.1 219.1h.8M587.2 196.9h.8M581.4 192.1h.8M571.4 222.4h.8M570.5 242.7h.8M571.3 195.2h.8M575.0 238.2h.8M580.3 202.5h.8M585.8 239.0h.8M589.7 207.3h.8M603.9 209.9h.8M588.7 206.4h.8M568.0 201.0h.8M588.0 221.4h.8M578.8 217.7h.8M583.8 218.3h.8M583.0 221.6h.8M581.8 221.2h.8M586.0 240.0h.8M591.5 208.0h.8M580.5 199.9h.8M570.8 230.0h.8M567.4 246.3h.8M579.4 188.0h.8M576.8 232.8h.8M597.0 244.3h.8M588.7 227.5h.8M576.9 247.4h.8M565.9 231.4h.8M570.5 235.2h.8M584.2 211.8h.8M570.9 189.6h.8M573.6 220.1h.8M582.7 226.4h.8M576.4 190.1h.8M581.7 189.6h.8M584.9 199.1h.8M572.5 228.1h.8M585.2 208.7h.8M570.2 267.9h.8M574.5 198.0h.8M587.3 196.2h.8M583.0 266.2h.8M563.7 260.7h.8M572.5 213.4h.8M577.5 198.5h.8M598.7 195.3h.8M567.7 248.3h.8M589.0 227.9h.8M586.3 232.1h.8M578.5 222.7h.8M582.5 239.7h.8M564.6 227.4h.8M592.0 239.2h.8M583.6 218.9h.8M567.7 194.5h.8M594.4 216.3h.8M578.0 212.3h.8M576.1 263.8h.8M579.3 208.6h.8M581.1 262.5h.8M572.7 206.9h.8M566.1 240.9h.8M565.4 191.2h.8M599.8 266.4h.8M578.4 229.7h.8M564.3 209.7h.8M570.7 245.4h.8M591.5 210.2h.8M570.7 209.0h.8M565.5 239.1h.8M579.6 239.2h.8M581.1 244.3h.8M575.7 192.2h.8M580.3 205.1h.8M578.3 211.5h.8M592.6 223.8h.8M573.1 226.2h.8M585.1 211.5h.8M572.2 218.4h.8M578.6 232.2h.8M588.8 196.1h.8M590.8 225.1h.8M572.6 264.9h.8M583.3 182.6h.8M582.0 227.4h.8M593.4 224.1h.8M574.6 213.7h.8M583.3 238.8h.8M570.5 248.7h.8M575.7 215.2h.8M581.3 221.5h.8M582.3 199.3h.8M597.2 218.9h.8M586.5 266.5h.8M591.6 197.4h.8M575.2 197.8h.8M588.6 191.4h.8M575.6 197.2h.8M584.6 183.1h.8M571.4 225.6h.8M585.3 251.9h.8M577.8 219.8h.8M580.3 226.4h.8M572.7 231.6h.8M582.9 231.3h.8M579.9 266.0h.8M575.6 226.6h.8M600.2 225.8h.8M569.2 189.7h.8M571.3 265.3h.8M591.0 188.7h.8M572.9 199.8h.8M562.8 250.2h.8M590.2 221.5h.8M579.5 243.6h.8M586.9 247.0h.8M599.6 219.0h.8M563.4 191.7h.8M582.2 265.5h.8M592.3 220.6h.8M563.1 249.4h.8M579.1 227.9h.8M564.1 248.4h.8M598.4 197.5h.8M583.4 201.0h.8M581.7 241.3h.8M591.1 226.1h.8M567.6 200.6h.8M584.4 249.9h.8M577.8 210.5h.8M602.5 220.2h.8M568.0 211.3h.8M588.9 196.4h.8M588.8 236.3h.8M583.2 212.3h.8M570.2 211.2h.8M567.8 239.0h.8M572.9 249.6h.8M577.0 219.2h.8M567.3 227.5h.8M579.6 227.9h.8M604.0 225.0h.8M576.9 214.6h.8M583.2 243.8h.8M568.3 216.9h.8M564.3 256.7h.8M602.6 222.7h.8M565.0 203.6h.8M604.1 243.8h.8M595.0 193.6h.8M579.6 215.7h.8M572.9 219.3h.8M589.8 263.1h.8M597.8 197.6h.8M584.3 203.5h.8M574.1 238.1h.8M580.5 225.9h.8M562.8 235.7h.8M582.2 224.4h.8M589.8 227.2h.8M569.0 256.6h.8M590.5 210.0h.8M581.8 190.4h.8M593.6 225.0h.8M576.3 223.6h.8M564.0 259.4h.8M583.9 226.3h.8M581.2 235.1h.8M565.6 217.8h.8M562.9 247.1h.8M571.7 196.9h.8M581.3 208.6h.8M573.4 252.4h.8M584.4 241.2h.8M592.9 202.7h.8M574.1 242.0h.8M567.3 261.1h.8M579.3 255.2h.8M569.6 188.8h.8M571.8 202.3h.8M566.4 195.0h.8M568.2 205.0h.8M589.5 195.9h.8M587.4 219.9h.8M572.2 210.5h.8M565.0 210.7h.8M584.6 180.5h.8M591.1 239.6h.8M565.3 208.3h.8M573.4 248.2h.8M584.0 246.0h.8M566.1 233.8h.8M591.2 199.9h.8M568.2 195.0h.8M570.2 238.0h.8M585.0 266.9h.8M573.1 219.4h.8M587.3 188.4h.8M583.9 229.4h.8M585.2 206.1h.8M571.7 212.1h.8M565.1 213.4h.8M579.4 193.1h.8M571.3 236.1h.8M580.4 220.4h.8M598.0 225.6h.8M575.4 213.6h.8M579.5 233.7h.8M604.0 225.6h.8M586.1 241.3h.8M587.5 209.4h.8M578.3 219.4h.8M583.2 209.1h.8M584.6 199.4h.8M575.6 208.1h.8M564.4 258.9h.8M571.8 228.4h.8M600.6 246.8h.8M574.7 231.2h.8M579.2 199.1h.8M568.7 239.2h.8M592.7 207.6h.8M568.5 187.6h.8M579.5 228.1h.8M565.6 257.4h.8M572.6 271.2h.8M565.8 219.4h.8M570.4 249.2h.8M591.0 251.9h.8M593.2 230.6h.8M578.7 203.8h.8M577.1 254.0h.8M577.1 259.5h.8M563.3 210.4h.8M581.4 203.6h.8M586.8 220.3h.8M577.0 209.5h.8M586.3 203.9h.8M572.5 205.8h.8M607.6 209.5h.8M581.0 242.2h.8M567.7 215.9h.8M591.6 199.4h.8M593.4 218.2h.8M566.7 218.7h.8M574.5 248.5h.8M578.0 246.8h.8M576.8 206.7h.8"/>
<path stroke="#ff5000" stroke-width=".8" opacity="0.45" d="M564.9 206.6h.8M566.7 189.1h.8M575.5 221.4h.8M594.3 187.4h.8M564.5 189.2h.8M583.6 205.2h.8M590.5 249.7h.8M580.9 225.5h.8M569.2 235.3h.8M564.4 207.4h.8M596.2 220.4h.8M574.1 245.4h.8M578.6 219.6h.8M574.0 231.9h.8M597.3 211.1h.8M565.6 232.3h.8M577.5 217.4h.8M568.2 232.1h.8M581.7 230.9h.8M574.7 236.0h.8M596.3 255.6h.8M587.4 230.9h.8M575.1 218.6h.8M578.4 236.3h.8M577.9 263.1h.8M566.9 202.7h.8M569.0 211.7h.8M572.0 239.8h.8M576.3 212.5h.8M582.6 242.9h.8M565.9 195.0h.8M595.5 234.5h.8M566.8 211.8h.8M603.1 213.9h.8M565.2 201.5h.8M573.9 196.3h.8M599.6 209.4h.8M565.7 188.1h.8M566.4 250.0h.8M568.9 217.1h.8M594.6 220.4h.8M574.4 228.3h.8M565.8 224.1h.8M562.7 223.4h.8M579.0 199.1h.8M566.3 233.9h.8M582.7 234.4h.8M593.9 198.5h.8M573.7 199.6h.8M583.8 202.9h.8M579.3 180.5h.8M583.5 217.9h.8M592.1 215.4h.8M600.3 268.0h.8M569.1 249.1h.8M599.7 233.8h.8M588.7 214.3h.8M567.5 248.3h.8M588.6 222.7h.8M575.5 261.7h.8M572.7 221.9h.8M571.2 227.9h.8M568.9 254.8h.8M587.4 258.8h.8M570.8 243.2h.8M569.0 230.7h.8M565.4 239.5h.8M567.4 270.6h.8M569.3 187.1h.8M566.8 198.6h.8M600.0 234.7h.8M587.5 242.0h.8M587.4 221.0h.8M590.7 218.4h.8M575.4 189.2h.8M562.7 240.1h.8M573.0 204.5h.8M587.1 231.2h.8M564.2 216.3h.8M603.5 214.1h.8M568.3 267.2h.8M568.2 250.6h.8M583.5 215.7h.8M593.5 211.3h.8M592.6 179.2h.8M588.3 232.7h.8M564.9 255.9h.8M594.9 221.3h.8M566.6 196.6h.8M587.0 220.4h.8M582.1 222.3h.8M569.0 207.5h.8M580.7 208.0h.8M571.0 220.1h.8M567.6 219.2h.8M600.6 254.4h.8M598.3 250.9h.8M565.0 267.9h.8M589.8 246.7h.8M574.0 197.3h.8M589.5 251.5h.8M565.2 209.8h.8M581.9 234.4h.8M599.3 235.6h.8M579.2 257.1h.8M573.5 198.1h.8M587.9 215.9h.8M594.2 237.4h.8M580.4 203.5h.8M571.2 229.0h.8M580.9 211.8h.8M589.3 212.9h.8M596.0 222.0h.8M592.2 227.5h.8M583.3 220.6h.8M583.6 223.9h.8M583.0 244.2h.8M591.2 261.1h.8M577.5 195.2h.8M577.0 218.7h.8M565.9 240.0h.8M581.3 215.3h.8M575.3 221.2h.8M587.3 249.1h.8M583.3 222.8h.8M571.0 248.4h.8M570.6 226.8h.8M562.7 192.0h.8M589.3 207.0h.8M571.9 268.3h.8M566.1 221.8h.8M574.7 193.5h.8M563.4 248.9h.8M581.4 248.5h.8M583.2 206.8h.8M596.9 217.4h.8M565.5 246.5h.8M568.3 202.1h.8M580.7 235.2h.8M564.2 211.9h.8M592.7 246.0h.8M565.7 213.3h.8M570.1 210.1h.8M588.1 218.3h.8M589.0 198.1h.8M567.9 233.9h.8M591.2 239.1h.8M585.2 216.2h.8M567.9 224.1h.8M580.1 186.0h.8M569.4 228.8h.8M576.2 237.1h.8M589.2 252.6h.8M578.3 240.3h.8M586.6 226.3h.8M578.4 239.8h.8M575.0 232.7h.8M579.2 267.1h.8M592.4 194.8h.8M591.4 259.3h.8M590.0 213.4h.8M606.9 190.6h.8M576.9 222.7h.8M582.3 203.9h.8M590.8 240.0h.8M578.4 224.5h.8M596.3 231.5h.8M574.5 259.4h.8M578.6 246.7h.8M582.2 240.8h.8M590.7 187.2h.8M589.3 186.8h.8M571.9 187.5h.8M575.5 194.5h.8M575.2 253.2h.8M589.2 209.8h.8M572.5 213.5h.8M591.4 249.5h.8M592.9 227.7h.8M576.8 207.2h.8M571.2 207.2h.8M566.4 263.5h.8M581.1 205.1h.8M589.3 271.1h.8M567.1 264.7h.8M572.9 218.3h.8M581.9 199.9h.8M588.9 235.9h.8M590.2 230.1h.8M587.0 220.5h.8M590.5 247.2h.8M583.2 249.7h.8M564.0 216.2h.8M579.4 194.2h.8M598.2 269.1h.8M583.5 227.2h.8M580.6 201.6h.8M571.4 246.8h.8M599.9 192.4h.8M568.4 200.8h.8M585.7 218.5h.8M584.0 238.7h.8M571.3 188.4h.8M562.9 231.4h.8M569.6 232.9h.8M585.5 178.2h.8M580.5 237.1h.8M583.6 215.2h.8M567.9 246.8h.8M585.8 232.7h.8M600.5 228.8h.8M576.9 262.9h.8M580.3 267.9h.8M576.8 220.5h.8M586.3 215.6h.8M579.4 217.0h.8M598.0 223.4h.8M568.9 236.7h.8M586.4 205.9h.8M581.5 256.5h.8M564.5 200.7h.8M578.1 233.3h.8M601.7 242.5h.8M590.4 201.9h.8M568.3 223.8h.8M575.0 220.1h.8M580.2 224.1h.8M607.5 185.4h.8M568.6 224.9h.8M563.7 217.9h.8M565.8 235.7h.8M577.8 225.4h.8M569.1 193.7h.8M590.1 191.7h.8M578.9 257.1h.8M590.2 221.7h.8M577.9 193.0h.8M573.7 248.3h.8M565.8 271.2h.8M576.5 234.7h.8M571.9 223.9h.8M572.7 215.7h.8M588.8 246.6h.8M574.7 242.5h.8M584.3 225.8h.8M571.0 204.5h.8M588.1 216.4h.8M576.5 235.2h.8M603.3 221.0h.8M576.9 245.9h.8M590.6 214.3h.8M567.4 248.3h.8M601.6 241.9h.8M589.7 187.9h.8M593.5 215.2h.8M595.5 224.6h.8M564.6 192.5h.8M574.5 244.1h.8M563.6 211.7h.8M602.4 212.1h.8M578.9 233.5h.8M598.6 223.6h.8M592.7 271.4h.8M566.8 232.8h.8M572.0 236.4h.8M579.1 204.9h.8M583.4 245.1h.8M566.2 239.1h.8M589.0 261.0h.8M569.5 208.6h.8M588.1 244.5h.8M565.3 235.5h.8M593.2 201.0h.8M571.3 208.4h.8M582.1 218.6h.8M583.6 172.7h.8M600.7 263.0h.8M566.9 246.6h.8M580.7 183.0h.8M580.1 255.8h.8M578.8 242.6h.8M567.5 217.5h.8M585.7 207.0h.8M567.0 194.9h.8M572.1 222.2h.8M569.9 240.1h.8M574.4 216.5h.8M601.2 224.9h.8M570.0 227.6h.8M596.3 212.6h.8M593.1 217.7h.8M583.1 224.7h.8M567.1 187.7h.8M584.7 222.5h.8M589.3 259.6h.8M584.2 224.8h.8M566.1 210.2h.8M570.0 217.8h.8M588.3 232.8h.8M595.1 245.9h.8M580.1 207.0h.8M579.2 245.7h.8M596.0 201.6h.8M579.7 249.8h.8M579.8 213.3h.8M566.5 227.7h.8M595.2 245.5h.8M565.0 223.0h.8M588.5 226.3h.8M595.8 204.0h.8M580.3 257.5h.8M571.9 256.3h.8M572.0 235.6h.8M573.4 242.7h.8M593.5 204.5h.8M583.2 230.4h.8M562.8 219.8h.8M568.0 216.8h.8M570.5 193.7h.8M588.9 199.7h.8M572.9 220.0h.8M570.1 266.9h.8M580.6 187.9h.8M579.5 226.4h.8M575.2 195.1h.8M577.6 233.0h.8M591.0 187.0h.8M565.7 199.5h.8M574.1 211.8h.8M577.2 216.0h.8M578.2 212.1h.8M593.6 210.6h.8M596.9 189.5h.8M582.6 211.1h.8M569.8 195.8h.8M578.2 205.9h.8M576.6 233.0h.8M583.0 271.1h.8M582.2 206.8h.8M563.5 206.4h.8M591.3 197.6h.8M605.0 233.0h.8M577.2 190.1h.8M572.6 264.1h.8M580.9 214.5h.8M573.4 218.6h.8M573.7 222.6h.8M582.4 228.9h.8M592.5 216.7h.8M564.4 213.9h.8M582.6 258.1h.8M568.9 225.8h.8M572.7 192.6h.8M590.7 265.8h.8M570.1 191.0h.8M579.6 175.7h.8M590.1 249.5h.8M563.2 234.7h.8M595.8 233.3h.8M578.6 232.3h.8M562.7 245.2h.8M599.4 206.2h.8M574.4 259.6h.8M592.1 223.6h.8M601.6 201.3h.8M572.1 247.1h.8M564.5 225.8h.8M573.4 198.2h.8M569.9 244.3h.8M565.0 268.4h.8M585.0 208.7h.8M583.9 227.1h.8M577.7 191.8h.8M578.6 234.2h.8M591.9 189.6h.8M574.6 201.3h.8M585.1 214.2h.8M584.6 257.9h.8M563.9 201.4h.8M568.4 236.5h.8M579.9 234.6h.8M568.6 213.7h.8M577.4 209.1h.8M586.7 203.3h.8M564.1 207.6h.8M597.0 198.3h.8M569.1 272.0h.8M563.6 218.9h.8M576.0 235.4h.8M572.6 214.8h.8M562.8 251.9h.8M590.6 238.7h.8M569.3 242.8h.8M578.8 211.7h.8M582.9 270.7h.8M577.0 187.4h.8M568.9 212.1h.8M586.4 223.8h.8M575.6 226.9h.8M590.1 246.4h.8M570.5 176.0h.8M578.8 205.6h.8M577.0 203.5h.8M581.9 205.5h.8M582.5 225.0h.8M585.3 223.7h.8M567.2 237.0h.8M591.0 200.1h.8M579.9 212.0h.8M571.5 248.7h.8M571.8 182.1h.8M579.2 198.9h.8M575.2 246.9h.8M577.7 203.8h.8M580.2 241.8h.8M564.7 235.9h.8M582.9 248.2h.8M572.5 237.9h.8M585.4 209.2h.8M579.0 226.7h.8M587.1 202.8h.8M570.3 229.3h.8M565.6 208.7h.8M569.1 224.9h.8M579.1 230.9h.8M570.8 191.5h.8M596.4 264.1h.8M570.3 223.0h.8M594.5 209.6h.8M563.7 199.7h.8M598.7 223.9h.8M584.2 241.5h.8M564.0 185.6h.8M582.6 237.7h.8M576.3 242.4h.8M575.3 189.9h.8M573.2 253.7h.8M579.1 222.2h.8M588.1 185.0h.8M567.3 210.7h.8M574.6 227.6h.8M570.6 191.1h.8M568.4 235.6h.8M584.0 245.6h.8M596.2 216.8h.8M562.8 212.5h.8M577.6 206.1h.8M563.0 248.3h.8M568.0 193.2h.8M562.9 238.0h.8M592.9 260.9h.8M584.0 245.8h.8M575.5 248.5h.8M591.5 213.4h.8M568.2 185.0h.8M566.1 250.6h.8M579.3 204.0h.8M576.1 237.7h.8M603.5 198.2h.8M570.0 229.0h.8M574.6 271.7h.8M575.1 260.6h.8M578.4 228.7h.8M563.5 244.2h.8M580.1 218.0h.8M570.5 230.2h.8M579.2 211.9h.8M583.5 222.3h.8M564.6 225.4h.8M565.3 209.1h.8M594.5 229.4h.8M565.3 211.0h.8M602.1 267.8h.8M580.4 203.1h.8M581.2 223.6h.8M572.8 238.2h.8M563.4 232.8h.8M567.5 263.1h.8M597.8 217.0h.8M581.9 229.4h.8"/>
<line x1="568.32" y1="215.5" x2="603.15" y2="207.8" stroke="#0000ff" stroke-width="1.05"/>
<line x1="591.5" y1="207.9" x2="591.5" y2="212.8" stroke="#ff5000" stroke-width="1"/>
<line x1="590.34" y1="207.5" x2="592.74" y2="207.5" stroke="#ff5000" stroke-width="1"/>
<line x1="590.34" y1="212.5" x2="592.74" y2="212.5" stroke="#ff5000" stroke-width="1"/>
<line x1="603.5" y1="207.5" x2="603.5" y2="214.9" stroke="#ff5000" stroke-width="1"/>
<line x1="601.95" y1="207.5" x2="604.35" y2="207.5" stroke="#ff5000" stroke-width="1"/>
<line x1="601.95" y1="214.5" x2="604.35" y2="214.5" stroke="#ff5000" stroke-width="1"/>
<line x1="591.5" y1="208.5" x2="591.5" y2="214.8" stroke="#0000ff" stroke-width="1"/>
<line x1="590.34" y1="208.5" x2="592.74" y2="208.5" stroke="#0000ff" stroke-width="1"/>
<line x1="590.34" y1="214.5" x2="592.74" y2="214.5" stroke="#0000ff" stroke-width="1"/>
<line x1="603.5" y1="204" x2="603.5" y2="211.5" stroke="#0000ff" stroke-width="1"/>
<line x1="601.95" y1="204.5" x2="604.35" y2="204.5" stroke="#0000ff" stroke-width="1"/>
<line x1="601.95" y1="211.5" x2="604.35" y2="211.5" stroke="#0000ff" stroke-width="1"/>
<line x1="614.5" y1="217.7" x2="614.5" y2="228.4" stroke="#ff5000" stroke-width="1"/>
<line x1="613.56" y1="217.5" x2="615.96" y2="217.5" stroke="#ff5000" stroke-width="1"/>
<line x1="613.56" y1="228.5" x2="615.96" y2="228.5" stroke="#ff5000" stroke-width="1"/>
<line x1="614.5" y1="222.6" x2="614.5" y2="235.7" stroke="#0000ff" stroke-width="1"/>
<line x1="613.56" y1="222.5" x2="615.96" y2="222.5" stroke="#0000ff" stroke-width="1"/>
<line x1="613.56" y1="235.5" x2="615.96" y2="235.5" stroke="#0000ff" stroke-width="1"/>
<line x1="626.5" y1="220.7" x2="626.5" y2="247.6" stroke="#ff8a5a" stroke-width="1"/>
<line x1="625.17" y1="220.5" x2="627.57" y2="220.5" stroke="#ff8a5a" stroke-width="1"/>
<line x1="625.17" y1="247.5" x2="627.57" y2="247.5" stroke="#ff8a5a" stroke-width="1"/>
<circle cx="568.32" cy="216.9" r="1.8" fill="#ff5000" stroke="none" stroke-width="1"/>
<circle cx="579.93" cy="215.5" r="1.8" fill="#ff5000" stroke="none" stroke-width="1"/>
<circle cx="591.54" cy="208.4" r="1.8" fill="#ff5000" stroke="none" stroke-width="1"/>
<circle cx="603.15" cy="208.5" r="1.8" fill="#ff5000" stroke="none" stroke-width="1"/>
<circle cx="614.76" cy="222.6" r="1.8" fill="#ff5000" stroke="none" stroke-width="1"/>
<circle cx="626.37" cy="229" r="1.8" fill="#ff5000" stroke="none" stroke-width="1"/>
<circle cx="568.32" cy="214.5" r="1.9" fill="#0000ff" stroke="none" stroke-width="1"/>
<circle cx="579.93" cy="214.1" r="1.9" fill="#0000ff" stroke="none" stroke-width="1"/>
<circle cx="591.54" cy="211.5" r="1.9" fill="#0000ff" stroke="none" stroke-width="1"/>
<circle cx="603.15" cy="207.4" r="1.9" fill="#0000ff" stroke="none" stroke-width="1"/>
<circle cx="614.76" cy="228.6" r="1.9" fill="#0000ff" stroke="none" stroke-width="1"/>
<circle cx="626.37" cy="214.1" r="1.9" fill="#0000ff" stroke="none" stroke-width="1"/>
<rect x="38.5" y="236.5" width="114" height="99" fill="none" stroke="#aaa" stroke-width="1"/>
<line x1="38.5" y1="236.3" x2="38.5" y2="335.2" stroke="#555" stroke-width="1"/>
<line x1="38.5" y1="335.5" x2="152.2" y2="335.5" stroke="#555" stroke-width="1"/>
<line x1="36.1" y1="248.5" x2="38.5" y2="248.5" stroke="#555" stroke-width="1"/>
<text x="33.6" y="252.5" font-size="11" text-anchor="end" font-weight="normal" fill="#000" stroke="#000" stroke-width="0.18">100</text>
<line x1="36.1" y1="270.5" x2="38.5" y2="270.5" stroke="#555" stroke-width="1"/>
<text x="33.6" y="274.1" font-size="11" text-anchor="end" font-weight="normal" fill="#000" stroke="#000" stroke-width="0.18">10</text>
<line x1="36.1" y1="291.5" x2="38.5" y2="291.5" stroke="#555" stroke-width="1"/>
<text x="33.6" y="295.7" font-size="11" text-anchor="end" font-weight="normal" fill="#000" stroke="#000" stroke-width="0.18">1.0</text>
<line x1="36.1" y1="313.5" x2="38.5" y2="313.5" stroke="#555" stroke-width="1"/>
<text x="33.6" y="317.3" font-size="11" text-anchor="end" font-weight="normal" fill="#000" stroke="#000" stroke-width="0.18">0.1</text>
<line x1="36.1" y1="334.5" x2="38.5" y2="334.5" stroke="#555" stroke-width="1"/>
<text x="33.6" y="338.9" font-size="11" text-anchor="end" font-weight="normal" fill="#000" stroke="#000" stroke-width="0.18">0.01</text>
<line x1="39.5" y1="291.8" x2="151.2" y2="291.8" stroke="#bbb" stroke-width="1.2" stroke-dasharray="1.2 1.2"/>
<line x1="42.5" y1="335.2" x2="42.5" y2="337.6" stroke="#555" stroke-width="1"/>
<text x="42.3" y="348.6" font-size="11" text-anchor="middle" font-weight="normal" fill="#000" stroke="#000" stroke-width="0.18">2</text>
<line x1="55.5" y1="335.2" x2="55.5" y2="337.6" stroke="#555" stroke-width="1"/>
<text x="55.5" y="348.6" font-size="11" text-anchor="middle" font-weight="normal" fill="#000" stroke="#000" stroke-width="0.18">3</text>
<line x1="68.5" y1="335.2" x2="68.5" y2="337.6" stroke="#555" stroke-width="1"/>
<text x="68.7" y="348.6" font-size="11" text-anchor="middle" font-weight="normal" fill="#000" stroke="#000" stroke-width="0.18">4</text>
<line x1="81.5" y1="335.2" x2="81.5" y2="337.6" stroke="#555" stroke-width="1"/>
<text x="81.9" y="348.6" font-size="11" text-anchor="middle" font-weight="normal" fill="#000" stroke="#000" stroke-width="0.18">5</text>
<line x1="95.5" y1="335.2" x2="95.5" y2="337.6" stroke="#555" stroke-width="1"/>
<text x="95.1" y="348.6" font-size="11" text-anchor="middle" font-weight="normal" fill="#000" stroke="#000" stroke-width="0.18">6</text>
<line x1="108.5" y1="335.2" x2="108.5" y2="337.6" stroke="#555" stroke-width="1"/>
<text x="108.3" y="348.6" font-size="11" text-anchor="middle" font-weight="normal" fill="#000" stroke="#000" stroke-width="0.18">7</text>
<line x1="121.5" y1="335.2" x2="121.5" y2="337.6" stroke="#555" stroke-width="1"/>
<text x="121.5" y="348.6" font-size="11" text-anchor="middle" font-weight="normal" fill="#000" stroke="#000" stroke-width="0.18">8</text>
<line x1="134.5" y1="335.2" x2="134.5" y2="337.6" stroke="#555" stroke-width="1"/>
<text x="134.7" y="348.6" font-size="11" text-anchor="middle" font-weight="normal" fill="#000" stroke="#000" stroke-width="0.18">9</text>
<line x1="147.5" y1="335.2" x2="147.5" y2="337.6" stroke="#555" stroke-width="1"/>
<text x="147.9" y="348.6" font-size="11" text-anchor="middle" font-weight="normal" fill="#000" stroke="#000" stroke-width="0.18">10</text>
<text x="99.7" y="361.3" font-size="12" text-anchor="middle" font-weight="normal" fill="#000" letter-spacing="0.35" stroke="#000" stroke-width="0.18">Load pN</text>
<text x="14.8" y="286.5" font-size="11" text-anchor="middle" font-weight="normal" fill="#000" transform="rotate(-90 14.8 286.5)" stroke="#000" stroke-width="0.18">FB ratio</text>
<line x1="38.5" y1="254.7" x2="121.5" y2="294.6" stroke="#000" stroke-width="0.9"/>
<line x1="121.5" y1="294.6" x2="152.2" y2="308.4" stroke="#000" stroke-width="0.9" stroke-dasharray="2 1.5"/>
<line x1="42.3" y1="246.1" x2="152.2" y2="306.8" stroke="#000" stroke-width="0.9" stroke-dasharray="2 1.5"/>
<line x1="42.5" y1="238.5" x2="42.5" y2="246" stroke="#000" stroke-width="0.9"/>
<line x1="40.05" y1="238.5" x2="44.55" y2="238.5" stroke="#000" stroke-width="0.9"/>
<line x1="40.05" y1="246.5" x2="44.55" y2="246.5" stroke="#000" stroke-width="0.9"/>
<line x1="121.5" y1="278.6" x2="121.5" y2="282.5" stroke="#000" stroke-width="0.9"/>
<line x1="119.25" y1="278.5" x2="123.75" y2="278.5" stroke="#000" stroke-width="0.9"/>
<line x1="119.25" y1="282.5" x2="123.75" y2="282.5" stroke="#000" stroke-width="0.9"/>
<line x1="134.5" y1="281.3" x2="134.5" y2="291.8" stroke="#000" stroke-width="0.9"/>
<line x1="132.45" y1="281.5" x2="136.95" y2="281.5" stroke="#000" stroke-width="0.9"/>
<line x1="132.45" y1="291.5" x2="136.95" y2="291.5" stroke="#000" stroke-width="0.9"/>
<line x1="121.5" y1="289.9" x2="121.5" y2="302.3" stroke="#000" stroke-width="0.9"/>
<line x1="119.25" y1="289.5" x2="123.75" y2="289.5" stroke="#000" stroke-width="0.9"/>
<line x1="119.25" y1="302.5" x2="123.75" y2="302.5" stroke="#000" stroke-width="0.9"/>
<line x1="42.5" y1="257.3" x2="42.5" y2="261.5" stroke="#000" stroke-width="0.9"/>
<line x1="40.3" y1="257.5" x2="44.3" y2="257.5" stroke="#000" stroke-width="0.9"/>
<line x1="40.3" y1="261.5" x2="44.3" y2="261.5" stroke="#000" stroke-width="0.9"/>
<line x1="55.5" y1="252.4" x2="55.5" y2="257.6" stroke="#000" stroke-width="0.9"/>
<line x1="53.4" y1="252.5" x2="57.6" y2="252.5" stroke="#000" stroke-width="0.9"/>
<line x1="53.4" y1="257.5" x2="57.6" y2="257.5" stroke="#000" stroke-width="0.9"/>
<line x1="68.5" y1="257.7" x2="68.5" y2="262.3" stroke="#000" stroke-width="0.9"/>
<line x1="66.6" y1="257.5" x2="70.8" y2="257.5" stroke="#000" stroke-width="0.9"/>
<line x1="66.6" y1="262.5" x2="70.8" y2="262.5" stroke="#000" stroke-width="0.9"/>
<line x1="81.5" y1="263.7" x2="81.5" y2="267.7" stroke="#000" stroke-width="0.9"/>
<line x1="79.8" y1="263.5" x2="84" y2="263.5" stroke="#000" stroke-width="0.9"/>
<line x1="79.8" y1="267.5" x2="84" y2="267.5" stroke="#000" stroke-width="0.9"/>
<line x1="95.5" y1="271.9" x2="95.5" y2="275.5" stroke="#000" stroke-width="0.9"/>
<line x1="93" y1="271.5" x2="97.2" y2="271.5" stroke="#000" stroke-width="0.9"/>
<line x1="93" y1="275.5" x2="97.2" y2="275.5" stroke="#000" stroke-width="0.9"/>
<line x1="108.5" y1="278.7" x2="108.5" y2="283.1" stroke="#000" stroke-width="0.9"/>
<line x1="106.2" y1="278.5" x2="110.4" y2="278.5" stroke="#000" stroke-width="0.9"/>
<line x1="106.2" y1="283.5" x2="110.4" y2="283.5" stroke="#000" stroke-width="0.9"/>
<line x1="55.5" y1="260.7" x2="55.5" y2="263.9" stroke="#000" stroke-width="0.9"/>
<line x1="53.5" y1="260.5" x2="57.5" y2="260.5" stroke="#000" stroke-width="0.9"/>
<line x1="53.5" y1="263.5" x2="57.5" y2="263.5" stroke="#000" stroke-width="0.9"/>
<line x1="68.5" y1="264.2" x2="68.5" y2="268.6" stroke="#000" stroke-width="0.9"/>
<line x1="66.7" y1="264.5" x2="70.7" y2="264.5" stroke="#000" stroke-width="0.9"/>
<line x1="66.7" y1="268.5" x2="70.7" y2="268.5" stroke="#000" stroke-width="0.9"/>
<circle cx="42.3" cy="241.8" r="1.9" fill="#fff" stroke="#000" stroke-width="0.9"/>
<circle cx="55.5" cy="255" r="1.9" fill="#fff" stroke="#000" stroke-width="0.9"/>
<circle cx="68.7" cy="260" r="1.9" fill="#fff" stroke="#000" stroke-width="0.9"/>
<circle cx="81.9" cy="265.7" r="1.9" fill="#fff" stroke="#000" stroke-width="0.9"/>
<circle cx="95.1" cy="273.7" r="1.9" fill="#fff" stroke="#000" stroke-width="0.9"/>
<circle cx="108.3" cy="280.9" r="1.9" fill="#fff" stroke="#000" stroke-width="0.9"/>
<circle cx="121.5" cy="280.3" r="1.9" fill="#fff" stroke="#000" stroke-width="0.9"/>
<circle cx="134.7" cy="285.4" r="1.9" fill="#fff" stroke="#000" stroke-width="0.9"/>
<circle cx="42.3" cy="259.4" r="2.1" fill="#000" stroke="none" stroke-width="1"/>
<circle cx="55.5" cy="262.3" r="2.1" fill="#000" stroke="none" stroke-width="1"/>
<circle cx="68.7" cy="266.4" r="2.1" fill="#000" stroke="none" stroke-width="1"/>
<circle cx="81.9" cy="275" r="2.1" fill="#000" stroke="none" stroke-width="1"/>
<circle cx="95.1" cy="280.9" r="2.1" fill="#000" stroke="none" stroke-width="1"/>
<circle cx="108.3" cy="289.4" r="2.1" fill="#000" stroke="none" stroke-width="1"/>
<circle cx="121.5" cy="294.6" r="2.1" fill="#000" stroke="none" stroke-width="1"/>
<rect x="380.5" y="235.5" width="114" height="100" fill="none" stroke="#aaa" stroke-width="1"/>
<line x1="380.5" y1="235.3" x2="380.5" y2="335.1" stroke="#555" stroke-width="1"/>
<line x1="380.2" y1="335.5" x2="494.4" y2="335.5" stroke="#555" stroke-width="1"/>
<line x1="377.8" y1="247.5" x2="380.2" y2="247.5" stroke="#555" stroke-width="1"/>
<text x="375.4" y="251.8" font-size="11" text-anchor="end" font-weight="normal" fill="#000" stroke="#000" stroke-width="0.18">100</text>
<line x1="377.8" y1="269.5" x2="380.2" y2="269.5" stroke="#555" stroke-width="1"/>
<text x="375.4" y="273.5" font-size="11" text-anchor="end" font-weight="normal" fill="#000" stroke="#000" stroke-width="0.18">10</text>
<line x1="377.8" y1="291.5" x2="380.2" y2="291.5" stroke="#555" stroke-width="1"/>
<text x="375.4" y="295.2" font-size="11" text-anchor="end" font-weight="normal" fill="#000" stroke="#000" stroke-width="0.18">1.0</text>
<line x1="377.8" y1="312.5" x2="380.2" y2="312.5" stroke="#555" stroke-width="1"/>
<text x="375.4" y="316.9" font-size="11" text-anchor="end" font-weight="normal" fill="#000" stroke="#000" stroke-width="0.18">0.1</text>
<line x1="377.8" y1="334.5" x2="380.2" y2="334.5" stroke="#555" stroke-width="1"/>
<text x="375.4" y="338.6" font-size="11" text-anchor="end" font-weight="normal" fill="#000" stroke="#000" stroke-width="0.18">0.01</text>
<line x1="381.2" y1="291.3" x2="493.4" y2="291.3" stroke="#bbb" stroke-width="1.2" stroke-dasharray="1.2 1.2"/>
<line x1="384.5" y1="335.1" x2="384.5" y2="337.5" stroke="#555" stroke-width="1"/>
<text x="384.7" y="348.5" font-size="11" text-anchor="middle" font-weight="normal" fill="#000" stroke="#000" stroke-width="0.18">2</text>
<line x1="397.5" y1="335.1" x2="397.5" y2="337.5" stroke="#555" stroke-width="1"/>
<text x="397.81" y="348.5" font-size="11" text-anchor="middle" font-weight="normal" fill="#000" stroke="#000" stroke-width="0.18">3</text>
<line x1="410.5" y1="335.1" x2="410.5" y2="337.5" stroke="#555" stroke-width="1"/>
<text x="410.92" y="348.5" font-size="11" text-anchor="middle" font-weight="normal" fill="#000" stroke="#000" stroke-width="0.18">4</text>
<line x1="424.5" y1="335.1" x2="424.5" y2="337.5" stroke="#555" stroke-width="1"/>
<text x="424.03" y="348.5" font-size="11" text-anchor="middle" font-weight="normal" fill="#000" stroke="#000" stroke-width="0.18">5</text>
<line x1="437.5" y1="335.1" x2="437.5" y2="337.5" stroke="#555" stroke-width="1"/>
<text x="437.14" y="348.5" font-size="11" text-anchor="middle" font-weight="normal" fill="#000" stroke="#000" stroke-width="0.18">6</text>
<line x1="450.5" y1="335.1" x2="450.5" y2="337.5" stroke="#555" stroke-width="1"/>
<text x="450.25" y="348.5" font-size="11" text-anchor="middle" font-weight="normal" fill="#000" stroke="#000" stroke-width="0.18">7</text>
<line x1="463.5" y1="335.1" x2="463.5" y2="337.5" stroke="#555" stroke-width="1"/>
<text x="463.36" y="348.5" font-size="11" text-anchor="middle" font-weight="normal" fill="#000" stroke="#000" stroke-width="0.18">8</text>
<line x1="476.5" y1="335.1" x2="476.5" y2="337.5" stroke="#555" stroke-width="1"/>
<text x="476.47" y="348.5" font-size="11" text-anchor="middle" font-weight="normal" fill="#000" stroke="#000" stroke-width="0.18">9</text>
<line x1="489.5" y1="335.1" x2="489.5" y2="337.5" stroke="#555" stroke-width="1"/>
<text x="489.58" y="348.5" font-size="11" text-anchor="middle" font-weight="normal" fill="#000" stroke="#000" stroke-width="0.18">10</text>
<text x="439.4" y="361" font-size="12" text-anchor="middle" font-weight="normal" fill="#000" letter-spacing="0.35" stroke="#000" stroke-width="0.18">Load pN</text>
<text x="358.9" y="286.2" font-size="11" text-anchor="middle" font-weight="normal" fill="#000" transform="rotate(-90 358.9 286.2)" stroke="#000" stroke-width="0.18">FB ratio</text>
<line x1="380.2" y1="284" x2="450.25" y2="292.8" stroke="#000" stroke-width="0.9"/>
<line x1="450.25" y1="292.5" x2="494.4" y2="297.2" stroke="#000" stroke-width="0.9" stroke-dasharray="2 1.5"/>
<line x1="424.5" y1="289.3" x2="424.5" y2="296.3" stroke="#000" stroke-width="0.9"/>
<line x1="422.03" y1="289.5" x2="426.03" y2="289.5" stroke="#000" stroke-width="0.9"/>
<line x1="422.03" y1="296.5" x2="426.03" y2="296.5" stroke="#000" stroke-width="0.9"/>
<line x1="450.5" y1="289.3" x2="450.5" y2="318.2" stroke="#000" stroke-width="0.9"/>
<line x1="448.25" y1="289.5" x2="452.25" y2="289.5" stroke="#000" stroke-width="0.9"/>
<line x1="448.25" y1="318.5" x2="452.25" y2="318.5" stroke="#000" stroke-width="0.9"/>
<line x1="437.5" y1="278.4" x2="437.5" y2="294.2" stroke="#000" stroke-width="0.9"/>
<line x1="435.14" y1="278.5" x2="439.14" y2="278.5" stroke="#000" stroke-width="0.9"/>
<line x1="435.14" y1="294.5" x2="439.14" y2="294.5" stroke="#000" stroke-width="0.9"/>
<line x1="450.5" y1="283" x2="450.5" y2="290" stroke="#000" stroke-width="0.9"/>
<line x1="448.25" y1="282.5" x2="452.25" y2="282.5" stroke="#000" stroke-width="0.9"/>
<line x1="448.25" y1="290.5" x2="452.25" y2="290.5" stroke="#000" stroke-width="0.9"/>
<line x1="463.5" y1="291" x2="463.5" y2="298.5" stroke="#000" stroke-width="0.9"/>
<line x1="461.36" y1="290.5" x2="465.36" y2="290.5" stroke="#000" stroke-width="0.9"/>
<line x1="461.36" y1="298.5" x2="465.36" y2="298.5" stroke="#000" stroke-width="0.9"/>
<line x1="476.5" y1="289.3" x2="476.5" y2="308.2" stroke="#000" stroke-width="0.9"/>
<line x1="474.47" y1="289.5" x2="478.47" y2="289.5" stroke="#000" stroke-width="0.9"/>
<line x1="474.47" y1="308.5" x2="478.47" y2="308.5" stroke="#000" stroke-width="0.9"/>
<line x1="489.5" y1="290.7" x2="489.5" y2="335.1" stroke="#000" stroke-width="0.9"/>
<line x1="487.58" y1="290.5" x2="491.58" y2="290.5" stroke="#000" stroke-width="0.9"/>
<line x1="487.58" y1="335.5" x2="491.58" y2="335.5" stroke="#000" stroke-width="0.9"/>
<line x1="424.5" y1="280.1" x2="424.5" y2="281.7" stroke="#000" stroke-width="0.9"/>
<line x1="422.03" y1="280.5" x2="426.03" y2="280.5" stroke="#000" stroke-width="0.9"/>
<line x1="422.03" y1="281.5" x2="426.03" y2="281.5" stroke="#000" stroke-width="0.9"/>
<circle cx="397.81" cy="285.8" r="2.1" fill="#000" stroke="none" stroke-width="1"/>
<circle cx="410.92" cy="291.9" r="2.1" fill="#000" stroke="none" stroke-width="1"/>
<circle cx="424.03" cy="291.9" r="2.1" fill="#000" stroke="none" stroke-width="1"/>
<circle cx="450.25" cy="295.4" r="2.1" fill="#000" stroke="none" stroke-width="1"/>
<line x1="384.5" y1="280.8" x2="384.5" y2="283.8" stroke="#000" stroke-width="0.9"/>
<line x1="382.7" y1="280.5" x2="386.7" y2="280.5" stroke="#000" stroke-width="0.9"/>
<line x1="382.7" y1="283.5" x2="386.7" y2="283.5" stroke="#000" stroke-width="0.9"/>
<line x1="397.5" y1="279.9" x2="397.5" y2="284.7" stroke="#000" stroke-width="0.9"/>
<line x1="395.81" y1="279.5" x2="399.81" y2="279.5" stroke="#000" stroke-width="0.9"/>
<line x1="395.81" y1="284.5" x2="399.81" y2="284.5" stroke="#000" stroke-width="0.9"/>
<line x1="410.5" y1="282" x2="410.5" y2="286.8" stroke="#000" stroke-width="0.9"/>
<line x1="408.92" y1="282.5" x2="412.92" y2="282.5" stroke="#000" stroke-width="0.9"/>
<line x1="408.92" y1="286.5" x2="412.92" y2="286.5" stroke="#000" stroke-width="0.9"/>
<line x1="424.5" y1="279.3" x2="424.5" y2="282.5" stroke="#000" stroke-width="0.9"/>
<line x1="422.03" y1="279.5" x2="426.03" y2="279.5" stroke="#000" stroke-width="0.9"/>
<line x1="422.03" y1="282.5" x2="426.03" y2="282.5" stroke="#000" stroke-width="0.9"/>
<line x1="397.5" y1="284.4" x2="397.5" y2="287.2" stroke="#000" stroke-width="0.9"/>
<line x1="396.01" y1="284.5" x2="399.61" y2="284.5" stroke="#000" stroke-width="0.9"/>
<line x1="396.01" y1="287.5" x2="399.61" y2="287.5" stroke="#000" stroke-width="0.9"/>
<line x1="410.5" y1="290.5" x2="410.5" y2="293.3" stroke="#000" stroke-width="0.9"/>
<line x1="409.12" y1="290.5" x2="412.72" y2="290.5" stroke="#000" stroke-width="0.9"/>
<line x1="409.12" y1="293.5" x2="412.72" y2="293.5" stroke="#000" stroke-width="0.9"/>
<circle cx="384.7" cy="282.3" r="1.9" fill="#fff" stroke="#000" stroke-width="0.9"/>
<circle cx="397.81" cy="282.3" r="1.9" fill="#fff" stroke="#000" stroke-width="0.9"/>
<circle cx="410.92" cy="284.4" r="1.9" fill="#fff" stroke="#000" stroke-width="0.9"/>
<circle cx="424.03" cy="280.9" r="1.9" fill="#fff" stroke="#000" stroke-width="0.9"/>
<circle cx="437.14" cy="284" r="1.9" fill="#fff" stroke="#000" stroke-width="0.9"/>
<circle cx="450.25" cy="286.6" r="1.9" fill="#fff" stroke="#000" stroke-width="0.9"/>
<circle cx="463.36" cy="293.7" r="1.9" fill="#fff" stroke="#000" stroke-width="0.9"/>
<circle cx="476.47" cy="294.5" r="1.9" fill="#fff" stroke="#000" stroke-width="0.9"/>
<circle cx="489.58" cy="298" r="1.9" fill="#fff" stroke="#000" stroke-width="0.9"/>
<rect x="202.5" y="306.5" width="117" height="100" fill="none" stroke="#555" stroke-width="1"/>
<line x1="200.5" y1="306.5" x2="202.9" y2="306.5" stroke="#555" stroke-width="1"/>
<text x="196.3" y="309.9" font-size="11" text-anchor="end" font-weight="normal" fill="#000" stroke="#000" stroke-width="0.18">5.00</text>
<line x1="200.5" y1="343.5" x2="202.9" y2="343.5" stroke="#555" stroke-width="1"/>
<text x="196.3" y="347.2" font-size="11" text-anchor="end" font-weight="normal" fill="#000" stroke="#000" stroke-width="0.18">0.50</text>
<line x1="200.5" y1="380.5" x2="202.9" y2="380.5" stroke="#555" stroke-width="1"/>
<text x="196.3" y="384.5" font-size="11" text-anchor="end" font-weight="normal" fill="#000" stroke="#000" stroke-width="0.18">0.05</text>
<line x1="200.5" y1="406.5" x2="202.9" y2="406.5" stroke="#555" stroke-width="1"/>
<text x="196.3" y="410.57" font-size="11" text-anchor="end" font-weight="normal" fill="#000" stroke="#000" stroke-width="0.18">0.01</text>
<line x1="200.5" y1="332.5" x2="202.9" y2="332.5" stroke="#555" stroke-width="1"/>
<line x1="200.5" y1="369.5" x2="202.9" y2="369.5" stroke="#555" stroke-width="1"/>
<line x1="202.5" y1="406.8" x2="202.5" y2="409.2" stroke="#555" stroke-width="1"/>
<text x="202.9" y="422" font-size="11" text-anchor="middle" font-weight="normal" fill="#000" stroke="#000" stroke-width="0.18">0</text>
<line x1="226.5" y1="406.8" x2="226.5" y2="409.2" stroke="#555" stroke-width="1"/>
<text x="226.18" y="422" font-size="11" text-anchor="middle" font-weight="normal" fill="#000" stroke="#000" stroke-width="0.18">2</text>
<line x1="249.5" y1="406.8" x2="249.5" y2="409.2" stroke="#555" stroke-width="1"/>
<text x="249.46" y="422" font-size="11" text-anchor="middle" font-weight="normal" fill="#000" stroke="#000" stroke-width="0.18">4</text>
<line x1="272.5" y1="406.8" x2="272.5" y2="409.2" stroke="#555" stroke-width="1"/>
<text x="272.74" y="422" font-size="11" text-anchor="middle" font-weight="normal" fill="#000" stroke="#000" stroke-width="0.18">6</text>
<line x1="296.5" y1="406.8" x2="296.5" y2="409.2" stroke="#555" stroke-width="1"/>
<text x="296.02" y="422" font-size="11" text-anchor="middle" font-weight="normal" fill="#000" stroke="#000" stroke-width="0.18">8</text>
<line x1="319.5" y1="406.8" x2="319.5" y2="409.2" stroke="#555" stroke-width="1"/>
<text x="319.3" y="422" font-size="11" text-anchor="middle" font-weight="normal" fill="#000" stroke="#000" stroke-width="0.18">10</text>
<text x="262.2" y="432.5" font-size="12" text-anchor="middle" font-weight="normal" fill="#000" letter-spacing="0.35" stroke="#000" stroke-width="0.18">Load pN</text>
<text x="170.6" y="357" font-size="11" text-anchor="middle" font-weight="normal" fill="#000" transform="rotate(-90 170.6 357)" stroke="#000" stroke-width="0.18">τ   s</text>
<line x1="226.18" y1="397.7" x2="284.38" y2="363.1" stroke="#ff8a5c" stroke-width="1.2"/>
<line x1="226.18" y1="404.9" x2="284.38" y2="371.8" stroke="#6a6aff" stroke-width="1.2"/>
<circle cx="226.18" cy="398.7" r="2.1" fill="#ff5000" stroke="none" stroke-width="1"/>
<circle cx="237.82" cy="388.7" r="2.1" fill="#ff5000" stroke="none" stroke-width="1"/>
<circle cx="249.46" cy="383.9" r="2.1" fill="#ff5000" stroke="none" stroke-width="1"/>
<circle cx="261.1" cy="374.7" r="2.1" fill="#ff5000" stroke="none" stroke-width="1"/>
<circle cx="272.74" cy="367.2" r="2.1" fill="#ff5000" stroke="none" stroke-width="1"/>
<circle cx="284.38" cy="364.8" r="2.1" fill="#ff5000" stroke="none" stroke-width="1"/>
<circle cx="296.02" cy="333.8" r="2.1" fill="#ff5000" stroke="none" stroke-width="1"/>
<circle cx="226.18" cy="403.6" r="2.1" fill="#0000ff" stroke="none" stroke-width="1"/>
<circle cx="237.82" cy="399.8" r="2.1" fill="#0000ff" stroke="none" stroke-width="1"/>
<circle cx="249.46" cy="392.8" r="2.1" fill="#0000ff" stroke="none" stroke-width="1"/>
<circle cx="261.1" cy="380.4" r="2.1" fill="#0000ff" stroke="none" stroke-width="1"/>
<circle cx="272.74" cy="377.4" r="2.1" fill="#0000ff" stroke="none" stroke-width="1"/>
<circle cx="284.38" cy="372.6" r="2.1" fill="#0000ff" stroke="none" stroke-width="1"/>
<circle cx="296.02" cy="361.5" r="2.1" fill="#0000ff" stroke="none" stroke-width="1"/>
<rect x="546.5" y="307.5" width="116" height="100" fill="none" stroke="#555" stroke-width="1"/>
<line x1="544" y1="307.5" x2="546.4" y2="307.5" stroke="#555" stroke-width="1"/>
<text x="541.9" y="311" font-size="11" text-anchor="end" font-weight="normal" fill="#000" stroke="#000" stroke-width="0.18">5.00</text>
<line x1="544" y1="344.5" x2="546.4" y2="344.5" stroke="#555" stroke-width="1"/>
<text x="541.9" y="348.3" font-size="11" text-anchor="end" font-weight="normal" fill="#000" stroke="#000" stroke-width="0.18">0.50</text>
<line x1="544" y1="381.5" x2="546.4" y2="381.5" stroke="#555" stroke-width="1"/>
<text x="541.9" y="385.6" font-size="11" text-anchor="end" font-weight="normal" fill="#000" stroke="#000" stroke-width="0.18">0.05</text>
<line x1="544" y1="407.5" x2="546.4" y2="407.5" stroke="#555" stroke-width="1"/>
<text x="541.9" y="411.67" font-size="11" text-anchor="end" font-weight="normal" fill="#000" stroke="#000" stroke-width="0.18">0.01</text>
<line x1="544" y1="333.5" x2="546.4" y2="333.5" stroke="#555" stroke-width="1"/>
<line x1="544" y1="370.5" x2="546.4" y2="370.5" stroke="#555" stroke-width="1"/>
<line x1="546.5" y1="407.3" x2="546.5" y2="409.7" stroke="#555" stroke-width="1"/>
<text x="546.4" y="421.8" font-size="11" text-anchor="middle" font-weight="normal" fill="#000" stroke="#000" stroke-width="0.18">0</text>
<line x1="569.5" y1="407.3" x2="569.5" y2="409.7" stroke="#555" stroke-width="1"/>
<text x="569.6" y="421.8" font-size="11" text-anchor="middle" font-weight="normal" fill="#000" stroke="#000" stroke-width="0.18">2</text>
<line x1="592.5" y1="407.3" x2="592.5" y2="409.7" stroke="#555" stroke-width="1"/>
<text x="592.8" y="421.8" font-size="11" text-anchor="middle" font-weight="normal" fill="#000" stroke="#000" stroke-width="0.18">4</text>
<line x1="616.5" y1="407.3" x2="616.5" y2="409.7" stroke="#555" stroke-width="1"/>
<text x="616" y="421.8" font-size="11" text-anchor="middle" font-weight="normal" fill="#000" stroke="#000" stroke-width="0.18">6</text>
<line x1="639.5" y1="407.3" x2="639.5" y2="409.7" stroke="#555" stroke-width="1"/>
<text x="639.2" y="421.8" font-size="11" text-anchor="middle" font-weight="normal" fill="#000" stroke="#000" stroke-width="0.18">8</text>
<line x1="662.5" y1="407.3" x2="662.5" y2="409.7" stroke="#555" stroke-width="1"/>
<text x="662.4" y="421.8" font-size="11" text-anchor="middle" font-weight="normal" fill="#000" stroke="#000" stroke-width="0.18">10</text>
<text x="608.2" y="433" font-size="12" text-anchor="middle" font-weight="normal" fill="#000" letter-spacing="0.35" stroke="#000" stroke-width="0.18">Load pN</text>
<text x="512.6" y="357.3" font-size="11" text-anchor="middle" font-weight="normal" fill="#000" transform="rotate(-90 512.6 357.3)" stroke="#000" stroke-width="0.18">τ   s</text>
<circle cx="569.6" cy="349" r="1.9" fill="#ff5000" stroke="none" stroke-width="1"/>
<circle cx="581.2" cy="348.7" r="1.9" fill="#ff5000" stroke="none" stroke-width="1"/>
<circle cx="604.4" cy="347.4" r="1.9" fill="#ff5000" stroke="none" stroke-width="1"/>
<circle cx="616" cy="342.5" r="1.9" fill="#ff5000" stroke="none" stroke-width="1"/>
<circle cx="569.6" cy="346.6" r="1.9" fill="#0000ff" stroke="none" stroke-width="1"/>
<circle cx="581.2" cy="346" r="1.9" fill="#0000ff" stroke="none" stroke-width="1"/>
<circle cx="592.8" cy="345.8" r="1.9" fill="#0000ff" stroke="none" stroke-width="1"/>
<circle cx="604.4" cy="337.1" r="1.9" fill="#0000ff" stroke="none" stroke-width="1"/>
<circle cx="616" cy="354.1" r="1.9" fill="#0000ff" stroke="none" stroke-width="1"/>
<rect x="98.5" y="460.5" width="182" height="104" fill="none" stroke="#999" stroke-width="1"/>
<line x1="98.5" y1="460.3" x2="98.5" y2="564.3" stroke="#bbb" stroke-width="1"/>
<line x1="96.2" y1="564.5" x2="98.6" y2="564.5" stroke="#555" stroke-width="1"/>
<text x="93.9" y="567.9" font-size="10" text-anchor="end" font-weight="normal" fill="#000" stroke="#000" stroke-width="0.18">0</text>
<line x1="96.2" y1="542.5" x2="98.6" y2="542.5" stroke="#555" stroke-width="1"/>
<text x="93.9" y="546.05" font-size="10" text-anchor="end" font-weight="normal" fill="#000" stroke="#000" stroke-width="0.18">0.05</text>
<line x1="96.2" y1="520.5" x2="98.6" y2="520.5" stroke="#555" stroke-width="1"/>
<text x="93.9" y="524.2" font-size="10" text-anchor="end" font-weight="normal" fill="#000" stroke="#000" stroke-width="0.18">0.10</text>
<line x1="96.2" y1="498.5" x2="98.6" y2="498.5" stroke="#555" stroke-width="1"/>
<text x="93.9" y="502.35" font-size="10" text-anchor="end" font-weight="normal" fill="#000" stroke="#000" stroke-width="0.18">0.15</text>
<line x1="96.2" y1="476.5" x2="98.6" y2="476.5" stroke="#555" stroke-width="1"/>
<text x="93.9" y="480.5" font-size="10" text-anchor="end" font-weight="normal" fill="#000" stroke="#000" stroke-width="0.18">0.20</text>
<line x1="99.5" y1="564.3" x2="99.5" y2="567.5" stroke="#444" stroke-width="0.6"/>
<line x1="102.07" y1="564.3" x2="102.07" y2="566.5" stroke="#444" stroke-width="0.6"/>
<line x1="104.64" y1="564.3" x2="104.64" y2="566.5" stroke="#444" stroke-width="0.6"/>
<line x1="107.21" y1="564.3" x2="107.21" y2="566.5" stroke="#444" stroke-width="0.6"/>
<line x1="109.78" y1="564.3" x2="109.78" y2="566.5" stroke="#444" stroke-width="0.6"/>
<line x1="112.35" y1="564.3" x2="112.35" y2="566.5" stroke="#444" stroke-width="0.6"/>
<line x1="114.92" y1="564.3" x2="114.92" y2="566.5" stroke="#444" stroke-width="0.6"/>
<line x1="117.49" y1="564.3" x2="117.49" y2="566.5" stroke="#444" stroke-width="0.6"/>
<line x1="120.06" y1="564.3" x2="120.06" y2="566.5" stroke="#444" stroke-width="0.6"/>
<line x1="122.63" y1="564.3" x2="122.63" y2="566.5" stroke="#444" stroke-width="0.6"/>
<line x1="125.2" y1="564.3" x2="125.2" y2="567.5" stroke="#444" stroke-width="0.6"/>
<line x1="127.77" y1="564.3" x2="127.77" y2="566.5" stroke="#444" stroke-width="0.6"/>
<line x1="130.34" y1="564.3" x2="130.34" y2="566.5" stroke="#444" stroke-width="0.6"/>
<line x1="132.91" y1="564.3" x2="132.91" y2="566.5" stroke="#444" stroke-width="0.6"/>
<line x1="135.48" y1="564.3" x2="135.48" y2="566.5" stroke="#444" stroke-width="0.6"/>
<line x1="138.05" y1="564.3" x2="138.05" y2="566.5" stroke="#444" stroke-width="0.6"/>
<line x1="140.62" y1="564.3" x2="140.62" y2="566.5" stroke="#444" stroke-width="0.6"/>
<line x1="143.19" y1="564.3" x2="143.19" y2="566.5" stroke="#444" stroke-width="0.6"/>
<line x1="145.76" y1="564.3" x2="145.76" y2="566.5" stroke="#444" stroke-width="0.6"/>
<line x1="148.33" y1="564.3" x2="148.33" y2="566.5" stroke="#444" stroke-width="0.6"/>
<line x1="150.9" y1="564.3" x2="150.9" y2="567.5" stroke="#444" stroke-width="0.6"/>
<line x1="153.47" y1="564.3" x2="153.47" y2="566.5" stroke="#444" stroke-width="0.6"/>
<line x1="156.04" y1="564.3" x2="156.04" y2="566.5" stroke="#444" stroke-width="0.6"/>
<line x1="158.61" y1="564.3" x2="158.61" y2="566.5" stroke="#444" stroke-width="0.6"/>
<line x1="161.18" y1="564.3" x2="161.18" y2="566.5" stroke="#444" stroke-width="0.6"/>
<line x1="163.75" y1="564.3" x2="163.75" y2="566.5" stroke="#444" stroke-width="0.6"/>
<line x1="166.32" y1="564.3" x2="166.32" y2="566.5" stroke="#444" stroke-width="0.6"/>
<line x1="168.89" y1="564.3" x2="168.89" y2="566.5" stroke="#444" stroke-width="0.6"/>
<line x1="171.46" y1="564.3" x2="171.46" y2="566.5" stroke="#444" stroke-width="0.6"/>
<line x1="174.03" y1="564.3" x2="174.03" y2="566.5" stroke="#444" stroke-width="0.6"/>
<line x1="176.6" y1="564.3" x2="176.6" y2="567.5" stroke="#444" stroke-width="0.6"/>
<line x1="179.17" y1="564.3" x2="179.17" y2="566.5" stroke="#444" stroke-width="0.6"/>
<line x1="181.74" y1="564.3" x2="181.74" y2="566.5" stroke="#444" stroke-width="0.6"/>
<line x1="184.31" y1="564.3" x2="184.31" y2="566.5" stroke="#444" stroke-width="0.6"/>
<line x1="186.88" y1="564.3" x2="186.88" y2="566.5" stroke="#444" stroke-width="0.6"/>
<line x1="189.45" y1="564.3" x2="189.45" y2="566.5" stroke="#444" stroke-width="0.6"/>
<line x1="192.02" y1="564.3" x2="192.02" y2="566.5" stroke="#444" stroke-width="0.6"/>
<line x1="194.59" y1="564.3" x2="194.59" y2="566.5" stroke="#444" stroke-width="0.6"/>
<line x1="197.16" y1="564.3" x2="197.16" y2="566.5" stroke="#444" stroke-width="0.6"/>
<line x1="199.73" y1="564.3" x2="199.73" y2="566.5" stroke="#444" stroke-width="0.6"/>
<line x1="202.3" y1="564.3" x2="202.3" y2="567.5" stroke="#444" stroke-width="0.6"/>
<line x1="204.87" y1="564.3" x2="204.87" y2="566.5" stroke="#444" stroke-width="0.6"/>
<line x1="207.44" y1="564.3" x2="207.44" y2="566.5" stroke="#444" stroke-width="0.6"/>
<line x1="210.01" y1="564.3" x2="210.01" y2="566.5" stroke="#444" stroke-width="0.6"/>
<line x1="212.58" y1="564.3" x2="212.58" y2="566.5" stroke="#444" stroke-width="0.6"/>
<line x1="215.15" y1="564.3" x2="215.15" y2="566.5" stroke="#444" stroke-width="0.6"/>
<line x1="217.72" y1="564.3" x2="217.72" y2="566.5" stroke="#444" stroke-width="0.6"/>
<line x1="220.29" y1="564.3" x2="220.29" y2="566.5" stroke="#444" stroke-width="0.6"/>
<line x1="222.86" y1="564.3" x2="222.86" y2="566.5" stroke="#444" stroke-width="0.6"/>
<line x1="225.43" y1="564.3" x2="225.43" y2="566.5" stroke="#444" stroke-width="0.6"/>
<line x1="228" y1="564.3" x2="228" y2="567.5" stroke="#444" stroke-width="0.6"/>
<line x1="230.57" y1="564.3" x2="230.57" y2="566.5" stroke="#444" stroke-width="0.6"/>
<line x1="233.14" y1="564.3" x2="233.14" y2="566.5" stroke="#444" stroke-width="0.6"/>
<line x1="235.71" y1="564.3" x2="235.71" y2="566.5" stroke="#444" stroke-width="0.6"/>
<line x1="238.28" y1="564.3" x2="238.28" y2="566.5" stroke="#444" stroke-width="0.6"/>
<line x1="240.85" y1="564.3" x2="240.85" y2="566.5" stroke="#444" stroke-width="0.6"/>
<line x1="243.42" y1="564.3" x2="243.42" y2="566.5" stroke="#444" stroke-width="0.6"/>
<line x1="245.99" y1="564.3" x2="245.99" y2="566.5" stroke="#444" stroke-width="0.6"/>
<line x1="248.56" y1="564.3" x2="248.56" y2="566.5" stroke="#444" stroke-width="0.6"/>
<line x1="251.13" y1="564.3" x2="251.13" y2="566.5" stroke="#444" stroke-width="0.6"/>
<line x1="253.7" y1="564.3" x2="253.7" y2="567.5" stroke="#444" stroke-width="0.6"/>
<line x1="256.27" y1="564.3" x2="256.27" y2="566.5" stroke="#444" stroke-width="0.6"/>
<line x1="258.84" y1="564.3" x2="258.84" y2="566.5" stroke="#444" stroke-width="0.6"/>
<line x1="261.41" y1="564.3" x2="261.41" y2="566.5" stroke="#444" stroke-width="0.6"/>
<line x1="263.98" y1="564.3" x2="263.98" y2="566.5" stroke="#444" stroke-width="0.6"/>
<line x1="266.55" y1="564.3" x2="266.55" y2="566.5" stroke="#444" stroke-width="0.6"/>
<line x1="269.12" y1="564.3" x2="269.12" y2="566.5" stroke="#444" stroke-width="0.6"/>
<line x1="271.69" y1="564.3" x2="271.69" y2="566.5" stroke="#444" stroke-width="0.6"/>
<line x1="274.26" y1="564.3" x2="274.26" y2="566.5" stroke="#444" stroke-width="0.6"/>
<line x1="276.83" y1="564.3" x2="276.83" y2="566.5" stroke="#444" stroke-width="0.6"/>
<line x1="279.4" y1="564.3" x2="279.4" y2="567.5" stroke="#444" stroke-width="0.6"/>
<line x1="98.6" y1="564.5" x2="280.1" y2="564.5" stroke="#444" stroke-width="1"/>
<text x="99.5" y="579.7" font-size="10" text-anchor="middle" font-weight="normal" fill="#000" stroke="#000" stroke-width="0.18">50</text>
<text x="125.2" y="579.7" font-size="10" text-anchor="middle" font-weight="normal" fill="#000" stroke="#000" stroke-width="0.18">40</text>
<text x="150.9" y="579.7" font-size="10" text-anchor="middle" font-weight="normal" fill="#000" stroke="#000" stroke-width="0.18">30</text>
<text x="176.6" y="579.7" font-size="10" text-anchor="middle" font-weight="normal" fill="#000" stroke="#000" stroke-width="0.18">20</text>
<text x="202.3" y="579.7" font-size="10" text-anchor="middle" font-weight="normal" fill="#000" stroke="#000" stroke-width="0.18">10</text>
<text x="228" y="579.7" font-size="10" text-anchor="middle" font-weight="normal" fill="#000" stroke="#000" stroke-width="0.18">0</text>
<text x="253.7" y="579.7" font-size="10" text-anchor="middle" font-weight="normal" fill="#000" stroke="#000" stroke-width="0.18">10</text>
<text x="279.4" y="579.7" font-size="10" text-anchor="middle" font-weight="normal" fill="#000" stroke="#000" stroke-width="0.18">20</text>
<text x="194.5" y="591.6" font-size="11.5" text-anchor="middle" font-weight="normal" fill="#000" stroke="#000" stroke-width="0.18">Amplitude nm</text>
<text x="68" y="513.2" font-size="11.3" text-anchor="middle" font-weight="normal" fill="#000" transform="rotate(-90 68 513.2)" stroke="#000" stroke-width="0.18">Fraction</text>
<rect x="237.28" y="560.37" width="2" height="3.93" fill="#0000ff" stroke="none" stroke-width="1"/>
<rect x="239.85" y="535.46" width="2" height="28.84" fill="#0000ff" stroke="none" stroke-width="1"/>
<rect x="242.42" y="481.71" width="2" height="82.59" fill="#0000ff" stroke="none" stroke-width="1"/>
<rect x="244.99" y="466.41" width="2" height="97.89" fill="#0000ff" stroke="none" stroke-width="1"/>
<rect x="247.56" y="480.4" width="2" height="83.9" fill="#0000ff" stroke="none" stroke-width="1"/>
<rect x="250.13" y="510.11" width="2" height="54.19" fill="#0000ff" stroke="none" stroke-width="1"/>
<rect x="252.7" y="528.47" width="2" height="35.83" fill="#0000ff" stroke="none" stroke-width="1"/>
<rect x="255.27" y="548.57" width="2" height="15.73" fill="#0000ff" stroke="none" stroke-width="1"/>
<rect x="257.84" y="555.56" width="2" height="8.74" fill="#0000ff" stroke="none" stroke-width="1"/>
<rect x="260.41" y="562.12" width="2" height="2.19" fill="#0000ff" stroke="none" stroke-width="1"/>
<rect x="262.98" y="560.8" width="2" height="3.5" fill="#0000ff" stroke="none" stroke-width="1"/>
<rect x="101.07" y="563.43" width="2" height="0.87" fill="#ff5000" stroke="none" stroke-width="1"/>
<rect x="124.2" y="561.24" width="2" height="3.06" fill="#ff5000" stroke="none" stroke-width="1"/>
<rect x="129.34" y="562.99" width="2" height="1.31" fill="#ff5000" stroke="none" stroke-width="1"/>
<rect x="131.91" y="563.43" width="2" height="0.87" fill="#ff5000" stroke="none" stroke-width="1"/>
<rect x="147.33" y="562.99" width="2" height="1.31" fill="#ff5000" stroke="none" stroke-width="1"/>
<rect x="160.18" y="563.43" width="2" height="0.87" fill="#ff5000" stroke="none" stroke-width="1"/>
<rect x="170.46" y="563.43" width="2" height="0.87" fill="#ff5000" stroke="none" stroke-width="1"/>
<rect x="180.74" y="562.99" width="2" height="1.31" fill="#ff5000" stroke="none" stroke-width="1"/>
<rect x="185.88" y="563.43" width="2" height="0.87" fill="#ff5000" stroke="none" stroke-width="1"/>
<rect x="191.02" y="562.99" width="2" height="1.31" fill="#ff5000" stroke="none" stroke-width="1"/>
<rect x="193.59" y="562.99" width="2" height="1.31" fill="#ff5000" stroke="none" stroke-width="1"/>
<rect x="196.16" y="562.99" width="2" height="1.31" fill="#ff5000" stroke="none" stroke-width="1"/>
<rect x="198.73" y="562.99" width="2" height="1.31" fill="#ff5000" stroke="none" stroke-width="1"/>
<rect x="201.3" y="562.99" width="2" height="1.31" fill="#ff5000" stroke="none" stroke-width="1"/>
<rect x="203.87" y="561.68" width="2" height="2.62" fill="#ff5000" stroke="none" stroke-width="1"/>
<rect x="206.44" y="558.18" width="2" height="6.12" fill="#ff5000" stroke="none" stroke-width="1"/>
<rect x="209.01" y="557.75" width="2" height="6.55" fill="#ff5000" stroke="none" stroke-width="1"/>
<rect x="211.58" y="556" width="2" height="8.3" fill="#ff5000" stroke="none" stroke-width="1"/>
<rect x="214.15" y="554.25" width="2" height="10.05" fill="#ff5000" stroke="none" stroke-width="1"/>
<rect x="216.72" y="559.49" width="2" height="4.81" fill="#ff5000" stroke="none" stroke-width="1"/>
<rect x="107.8" y="469.7" width="4.7" height="4.2" fill="#0000ff" stroke="none" stroke-width="1"/>
<text x="116.4" y="474.5" font-size="8.7" text-anchor="start" font-weight="normal" fill="#000" stroke="#000" stroke-width="0.18">Forward pre-terminal steps</text>
<rect x="107.8" y="479.1" width="4.7" height="4.4" fill="#ff5000" stroke="none" stroke-width="1"/>
<text x="116.4" y="484.4" font-size="8.7" text-anchor="start" font-weight="normal" fill="#000" stroke="#000" stroke-width="0.18">Backward pre-terminal steps</text>
<rect x="413.5" y="460.5" width="181" height="104" fill="none" stroke="#999" stroke-width="1"/>
<line x1="413.5" y1="460.2" x2="413.5" y2="564.1" stroke="#bbb" stroke-width="1"/>
<line x1="411.5" y1="564.5" x2="413.9" y2="564.5" stroke="#555" stroke-width="1"/>
<text x="408.6" y="567.7" font-size="10" text-anchor="end" font-weight="normal" fill="#000" stroke="#000" stroke-width="0.18">0</text>
<line x1="411.5" y1="542.5" x2="413.9" y2="542.5" stroke="#555" stroke-width="1"/>
<text x="408.6" y="545.85" font-size="10" text-anchor="end" font-weight="normal" fill="#000" stroke="#000" stroke-width="0.18">0.05</text>
<line x1="411.5" y1="520.5" x2="413.9" y2="520.5" stroke="#555" stroke-width="1"/>
<text x="408.6" y="524" font-size="10" text-anchor="end" font-weight="normal" fill="#000" stroke="#000" stroke-width="0.18">0.10</text>
<line x1="411.5" y1="498.5" x2="413.9" y2="498.5" stroke="#555" stroke-width="1"/>
<text x="408.6" y="502.15" font-size="10" text-anchor="end" font-weight="normal" fill="#000" stroke="#000" stroke-width="0.18">0.15</text>
<line x1="411.5" y1="476.5" x2="413.9" y2="476.5" stroke="#555" stroke-width="1"/>
<text x="408.6" y="480.3" font-size="10" text-anchor="end" font-weight="normal" fill="#000" stroke="#000" stroke-width="0.18">0.20</text>
<line x1="414.3" y1="564.1" x2="414.3" y2="567.3" stroke="#444" stroke-width="0.6"/>
<line x1="416.87" y1="564.1" x2="416.87" y2="566.3" stroke="#444" stroke-width="0.6"/>
<line x1="419.44" y1="564.1" x2="419.44" y2="566.3" stroke="#444" stroke-width="0.6"/>
<line x1="422.01" y1="564.1" x2="422.01" y2="566.3" stroke="#444" stroke-width="0.6"/>
<line x1="424.58" y1="564.1" x2="424.58" y2="566.3" stroke="#444" stroke-width="0.6"/>
<line x1="427.15" y1="564.1" x2="427.15" y2="566.3" stroke="#444" stroke-width="0.6"/>
<line x1="429.72" y1="564.1" x2="429.72" y2="566.3" stroke="#444" stroke-width="0.6"/>
<line x1="432.29" y1="564.1" x2="432.29" y2="566.3" stroke="#444" stroke-width="0.6"/>
<line x1="434.86" y1="564.1" x2="434.86" y2="566.3" stroke="#444" stroke-width="0.6"/>
<line x1="437.43" y1="564.1" x2="437.43" y2="566.3" stroke="#444" stroke-width="0.6"/>
<line x1="440" y1="564.1" x2="440" y2="567.3" stroke="#444" stroke-width="0.6"/>
<line x1="442.57" y1="564.1" x2="442.57" y2="566.3" stroke="#444" stroke-width="0.6"/>
<line x1="445.14" y1="564.1" x2="445.14" y2="566.3" stroke="#444" stroke-width="0.6"/>
<line x1="447.71" y1="564.1" x2="447.71" y2="566.3" stroke="#444" stroke-width="0.6"/>
<line x1="450.28" y1="564.1" x2="450.28" y2="566.3" stroke="#444" stroke-width="0.6"/>
<line x1="452.85" y1="564.1" x2="452.85" y2="566.3" stroke="#444" stroke-width="0.6"/>
<line x1="455.42" y1="564.1" x2="455.42" y2="566.3" stroke="#444" stroke-width="0.6"/>
<line x1="457.99" y1="564.1" x2="457.99" y2="566.3" stroke="#444" stroke-width="0.6"/>
<line x1="460.56" y1="564.1" x2="460.56" y2="566.3" stroke="#444" stroke-width="0.6"/>
<line x1="463.13" y1="564.1" x2="463.13" y2="566.3" stroke="#444" stroke-width="0.6"/>
<line x1="465.7" y1="564.1" x2="465.7" y2="567.3" stroke="#444" stroke-width="0.6"/>
<line x1="468.27" y1="564.1" x2="468.27" y2="566.3" stroke="#444" stroke-width="0.6"/>
<line x1="470.84" y1="564.1" x2="470.84" y2="566.3" stroke="#444" stroke-width="0.6"/>
<line x1="473.41" y1="564.1" x2="473.41" y2="566.3" stroke="#444" stroke-width="0.6"/>
<line x1="475.98" y1="564.1" x2="475.98" y2="566.3" stroke="#444" stroke-width="0.6"/>
<line x1="478.55" y1="564.1" x2="478.55" y2="566.3" stroke="#444" stroke-width="0.6"/>
<line x1="481.12" y1="564.1" x2="481.12" y2="566.3" stroke="#444" stroke-width="0.6"/>
<line x1="483.69" y1="564.1" x2="483.69" y2="566.3" stroke="#444" stroke-width="0.6"/>
<line x1="486.26" y1="564.1" x2="486.26" y2="566.3" stroke="#444" stroke-width="0.6"/>
<line x1="488.83" y1="564.1" x2="488.83" y2="566.3" stroke="#444" stroke-width="0.6"/>
<line x1="491.4" y1="564.1" x2="491.4" y2="567.3" stroke="#444" stroke-width="0.6"/>
<line x1="493.97" y1="564.1" x2="493.97" y2="566.3" stroke="#444" stroke-width="0.6"/>
<line x1="496.54" y1="564.1" x2="496.54" y2="566.3" stroke="#444" stroke-width="0.6"/>
<line x1="499.11" y1="564.1" x2="499.11" y2="566.3" stroke="#444" stroke-width="0.6"/>
<line x1="501.68" y1="564.1" x2="501.68" y2="566.3" stroke="#444" stroke-width="0.6"/>
<line x1="504.25" y1="564.1" x2="504.25" y2="566.3" stroke="#444" stroke-width="0.6"/>
<line x1="506.82" y1="564.1" x2="506.82" y2="566.3" stroke="#444" stroke-width="0.6"/>
<line x1="509.39" y1="564.1" x2="509.39" y2="566.3" stroke="#444" stroke-width="0.6"/>
<line x1="511.96" y1="564.1" x2="511.96" y2="566.3" stroke="#444" stroke-width="0.6"/>
<line x1="514.53" y1="564.1" x2="514.53" y2="566.3" stroke="#444" stroke-width="0.6"/>
<line x1="517.1" y1="564.1" x2="517.1" y2="567.3" stroke="#444" stroke-width="0.6"/>
<line x1="519.67" y1="564.1" x2="519.67" y2="566.3" stroke="#444" stroke-width="0.6"/>
<line x1="522.24" y1="564.1" x2="522.24" y2="566.3" stroke="#444" stroke-width="0.6"/>
<line x1="524.81" y1="564.1" x2="524.81" y2="566.3" stroke="#444" stroke-width="0.6"/>
<line x1="527.38" y1="564.1" x2="527.38" y2="566.3" stroke="#444" stroke-width="0.6"/>
<line x1="529.95" y1="564.1" x2="529.95" y2="566.3" stroke="#444" stroke-width="0.6"/>
<line x1="532.52" y1="564.1" x2="532.52" y2="566.3" stroke="#444" stroke-width="0.6"/>
<line x1="535.09" y1="564.1" x2="535.09" y2="566.3" stroke="#444" stroke-width="0.6"/>
<line x1="537.66" y1="564.1" x2="537.66" y2="566.3" stroke="#444" stroke-width="0.6"/>
<line x1="540.23" y1="564.1" x2="540.23" y2="566.3" stroke="#444" stroke-width="0.6"/>
<line x1="542.8" y1="564.1" x2="542.8" y2="567.3" stroke="#444" stroke-width="0.6"/>
<line x1="545.37" y1="564.1" x2="545.37" y2="566.3" stroke="#444" stroke-width="0.6"/>
<line x1="547.94" y1="564.1" x2="547.94" y2="566.3" stroke="#444" stroke-width="0.6"/>
<line x1="550.51" y1="564.1" x2="550.51" y2="566.3" stroke="#444" stroke-width="0.6"/>
<line x1="553.08" y1="564.1" x2="553.08" y2="566.3" stroke="#444" stroke-width="0.6"/>
<line x1="555.65" y1="564.1" x2="555.65" y2="566.3" stroke="#444" stroke-width="0.6"/>
<line x1="558.22" y1="564.1" x2="558.22" y2="566.3" stroke="#444" stroke-width="0.6"/>
<line x1="560.79" y1="564.1" x2="560.79" y2="566.3" stroke="#444" stroke-width="0.6"/>
<line x1="563.36" y1="564.1" x2="563.36" y2="566.3" stroke="#444" stroke-width="0.6"/>
<line x1="565.93" y1="564.1" x2="565.93" y2="566.3" stroke="#444" stroke-width="0.6"/>
<line x1="568.5" y1="564.1" x2="568.5" y2="567.3" stroke="#444" stroke-width="0.6"/>
<line x1="571.07" y1="564.1" x2="571.07" y2="566.3" stroke="#444" stroke-width="0.6"/>
<line x1="573.64" y1="564.1" x2="573.64" y2="566.3" stroke="#444" stroke-width="0.6"/>
<line x1="576.21" y1="564.1" x2="576.21" y2="566.3" stroke="#444" stroke-width="0.6"/>
<line x1="578.78" y1="564.1" x2="578.78" y2="566.3" stroke="#444" stroke-width="0.6"/>
<line x1="581.35" y1="564.1" x2="581.35" y2="566.3" stroke="#444" stroke-width="0.6"/>
<line x1="583.92" y1="564.1" x2="583.92" y2="566.3" stroke="#444" stroke-width="0.6"/>
<line x1="586.49" y1="564.1" x2="586.49" y2="566.3" stroke="#444" stroke-width="0.6"/>
<line x1="589.06" y1="564.1" x2="589.06" y2="566.3" stroke="#444" stroke-width="0.6"/>
<line x1="591.63" y1="564.1" x2="591.63" y2="566.3" stroke="#444" stroke-width="0.6"/>
<line x1="594.2" y1="564.1" x2="594.2" y2="567.3" stroke="#444" stroke-width="0.6"/>
<line x1="413.9" y1="564.5" x2="594.3" y2="564.5" stroke="#444" stroke-width="1"/>
<text x="414.3" y="579.7" font-size="10" text-anchor="middle" font-weight="normal" fill="#000" stroke="#000" stroke-width="0.18">50</text>
<text x="440" y="579.7" font-size="10" text-anchor="middle" font-weight="normal" fill="#000" stroke="#000" stroke-width="0.18">40</text>
<text x="465.7" y="579.7" font-size="10" text-anchor="middle" font-weight="normal" fill="#000" stroke="#000" stroke-width="0.18">30</text>
<text x="491.4" y="579.7" font-size="10" text-anchor="middle" font-weight="normal" fill="#000" stroke="#000" stroke-width="0.18">20</text>
<text x="517.1" y="579.7" font-size="10" text-anchor="middle" font-weight="normal" fill="#000" stroke="#000" stroke-width="0.18">10</text>
<text x="542.8" y="579.7" font-size="10" text-anchor="middle" font-weight="normal" fill="#000" stroke="#000" stroke-width="0.18">0</text>
<text x="568.5" y="579.7" font-size="10" text-anchor="middle" font-weight="normal" fill="#000" stroke="#000" stroke-width="0.18">10</text>
<text x="594.2" y="579.7" font-size="10" text-anchor="middle" font-weight="normal" fill="#000" stroke="#000" stroke-width="0.18">20</text>
<text x="509.3" y="591.6" font-size="11.5" text-anchor="middle" font-weight="normal" fill="#000" stroke="#000" stroke-width="0.18">Amplitude nm</text>
<text x="383" y="513.2" font-size="11.3" text-anchor="middle" font-weight="normal" fill="#000" transform="rotate(-90 383 513.2)" stroke="#000" stroke-width="0.18">Fraction</text>
<rect x="552.08" y="535.26" width="2" height="28.84" fill="#0000ff" stroke="none" stroke-width="1"/>
<rect x="554.65" y="492" width="2" height="72.11" fill="#0000ff" stroke="none" stroke-width="1"/>
<rect x="557.22" y="502.05" width="2" height="62.05" fill="#0000ff" stroke="none" stroke-width="1"/>
<rect x="559.79" y="498.99" width="2" height="65.11" fill="#0000ff" stroke="none" stroke-width="1"/>
<rect x="562.36" y="535.26" width="2" height="28.84" fill="#0000ff" stroke="none" stroke-width="1"/>
<rect x="564.93" y="556.67" width="2" height="7.43" fill="#0000ff" stroke="none" stroke-width="1"/>
<rect x="567.5" y="562.35" width="2" height="1.75" fill="#0000ff" stroke="none" stroke-width="1"/>
<rect x="418.44" y="562.79" width="2" height="1.31" fill="#ff5000" stroke="none" stroke-width="1"/>
<rect x="428.72" y="562.79" width="2" height="1.31" fill="#ff5000" stroke="none" stroke-width="1"/>
<rect x="439" y="562.79" width="2" height="1.31" fill="#ff5000" stroke="none" stroke-width="1"/>
<rect x="464.7" y="562.79" width="2" height="1.31" fill="#ff5000" stroke="none" stroke-width="1"/>
<rect x="490.4" y="562.79" width="2" height="1.31" fill="#ff5000" stroke="none" stroke-width="1"/>
<rect x="505.82" y="562.35" width="2" height="1.75" fill="#ff5000" stroke="none" stroke-width="1"/>
<rect x="516.1" y="561.04" width="2" height="3.06" fill="#ff5000" stroke="none" stroke-width="1"/>
<rect x="518.67" y="562.79" width="2" height="1.31" fill="#ff5000" stroke="none" stroke-width="1"/>
<rect x="521.24" y="552.3" width="2" height="11.8" fill="#ff5000" stroke="none" stroke-width="1"/>
<rect x="523.81" y="545.31" width="2" height="18.79" fill="#ff5000" stroke="none" stroke-width="1"/>
<rect x="526.38" y="528.27" width="2" height="35.83" fill="#ff5000" stroke="none" stroke-width="1"/>
<rect x="528.95" y="507.29" width="2" height="56.81" fill="#ff5000" stroke="none" stroke-width="1"/>
<rect x="531.52" y="542.69" width="2" height="21.41" fill="#ff5000" stroke="none" stroke-width="1"/>
</svg></body></html>
